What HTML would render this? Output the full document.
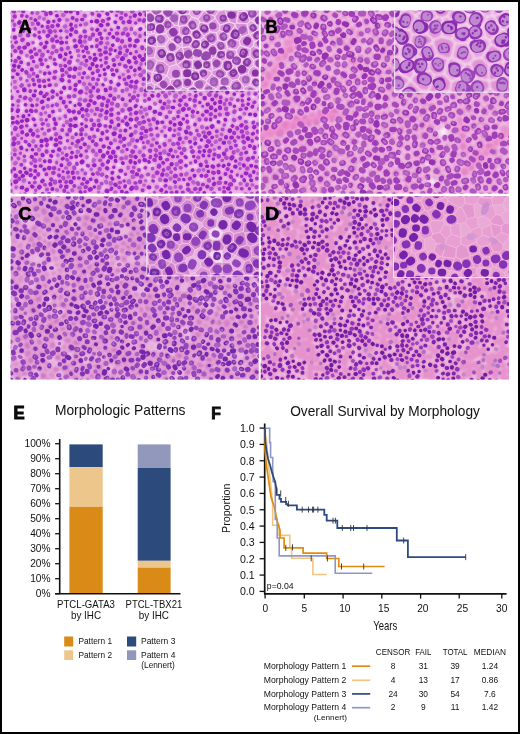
<!DOCTYPE html>
<html><head><meta charset="utf-8"><style>
html,body{margin:0;padding:0;background:#fff;}
body{width:520px;height:734px;overflow:hidden;position:relative;}
body>svg{position:absolute;left:0;top:0;display:block;font-family:"Liberation Sans",sans-serif;}
</style></head><body>
<svg width="520" height="734" viewBox="0 0 520 734">
<rect x="0" y="0" width="520" height="734" fill="#fff"/>
<defs><filter id="bl05" x="-10%" y="-10%" width="120%" height="120%"><feGaussianBlur stdDeviation="0.45"/></filter><filter id="bl06" x="-10%" y="-10%" width="120%" height="120%"><feGaussianBlur stdDeviation="0.6"/></filter><filter id="bl08" x="-10%" y="-10%" width="120%" height="120%"><feGaussianBlur stdDeviation="0.8"/></filter><filter id="bl1" x="-10%" y="-10%" width="120%" height="120%"><feGaussianBlur stdDeviation="1.0"/></filter><filter id="bl2" x="-10%" y="-10%" width="120%" height="120%"><feGaussianBlur stdDeviation="2.0"/></filter><filter id="bl3" x="-10%" y="-10%" width="120%" height="120%"><feGaussianBlur stdDeviation="3.0"/></filter><filter id="motA" x="0" y="0" width="100%" height="100%"><feTurbulence type="fractalNoise" baseFrequency="0.25" numOctaves="2" seed="65"/><feColorMatrix type="matrix" values="0 0 0 0 1  0 0 0 0 1  0 0 0 0 1  0.5 0 0 0 -0.22"/><feComposite in2="SourceGraphic" operator="in"/></filter><filter id="motB" x="0" y="0" width="100%" height="100%"><feTurbulence type="fractalNoise" baseFrequency="0.22" numOctaves="2" seed="66"/><feColorMatrix type="matrix" values="0 0 0 0 1  0 0 0 0 1  0 0 0 0 1  0.5 0 0 0 -0.22"/><feComposite in2="SourceGraphic" operator="in"/></filter><filter id="motC" x="0" y="0" width="100%" height="100%"><feTurbulence type="fractalNoise" baseFrequency="0.2" numOctaves="2" seed="67"/><feColorMatrix type="matrix" values="0 0 0 0 1  0 0 0 0 1  0 0 0 0 1  0.5 0 0 0 -0.22"/><feComposite in2="SourceGraphic" operator="in"/></filter><filter id="motD" x="0" y="0" width="100%" height="100%"><feTurbulence type="fractalNoise" baseFrequency="0.2" numOctaves="2" seed="68"/><feColorMatrix type="matrix" values="0 0 0 0 1  0 0 0 0 1  0 0 0 0 1  0.5 0 0 0 -0.22"/><feComposite in2="SourceGraphic" operator="in"/></filter><filter id="mota" x="0" y="0" width="100%" height="100%"><feTurbulence type="fractalNoise" baseFrequency="0.12" numOctaves="2" seed="97"/><feColorMatrix type="matrix" values="0 0 0 0 1  0 0 0 0 1  0 0 0 0 1  0.5 0 0 0 -0.22"/><feComposite in2="SourceGraphic" operator="in"/></filter><filter id="motb" x="0" y="0" width="100%" height="100%"><feTurbulence type="fractalNoise" baseFrequency="0.12" numOctaves="2" seed="98"/><feColorMatrix type="matrix" values="0 0 0 0 1  0 0 0 0 1  0 0 0 0 1  0.5 0 0 0 -0.22"/><feComposite in2="SourceGraphic" operator="in"/></filter><filter id="motc" x="0" y="0" width="100%" height="100%"><feTurbulence type="fractalNoise" baseFrequency="0.12" numOctaves="2" seed="99"/><feColorMatrix type="matrix" values="0 0 0 0 1  0 0 0 0 1  0 0 0 0 1  0.5 0 0 0 -0.22"/><feComposite in2="SourceGraphic" operator="in"/></filter><filter id="motd" x="0" y="0" width="100%" height="100%"><feTurbulence type="fractalNoise" baseFrequency="0.12" numOctaves="2" seed="100"/><feColorMatrix type="matrix" values="0 0 0 0 1  0 0 0 0 1  0 0 0 0 1  0.5 0 0 0 -0.22"/><feComposite in2="SourceGraphic" operator="in"/></filter></defs>
<svg x="10.7" y="10.8" width="248.0" height="182.8" viewBox="0 0 248.0 182.8" overflow="hidden">
<rect width="248.0" height="182.8" fill="#f2d6f2"/>
<rect width="248.0" height="182.8" fill="#f2d6f2" filter="url(#motA)"/>
<g fill="none" stroke-linecap="round" filter="url(#bl08)" opacity="1.0"><path d="M36.6 83.2h0M28.7 69.9h0M30.9 82.3l-0.3 0.7M45.5 73.7h0M42.0 81.0l0.4 0.2M33.4 85.0l0.4 0.0M33.9 69.8l-0.6 0.1M23.7 73.8h0M50.5 68.6l0.5 0.5M53.6 77.3l0.2 0.2M24.7 99.7h0M46.5 93.3l0.4 0.3M26.1 65.5h0M36.7 95.5l0.1 0.3M22.5 85.3l0.6 0.0M31.4 90.6l-0.7 0.4M42.5 100.9l-0.3 0.1M50.6 87.1h0M20.6 58.5l0.0 0.2M19.9 99.8l0.7 0.5M18.7 64.7l0.4 0.1M57.7 86.2l0.6 0.2M43.4 66.4l0.5 0.1M52.7 91.1l0.0 0.7M15.2 61.0l0.4 0.7M18.2 53.7h0M63.3 65.9l-0.3 0.1M29.8 103.3l0.1 0.4M6.9 99.4l-0.4 0.8M25.9 55.4l-0.6 0.0M13.8 79.0l0.1 0.7M64.5 74.1l-0.2 0.4M63.5 84.6l-0.4 0.1M14.6 87.2l-0.7 0.5M45.1 112.1l0.2 0.6M11.4 74.9l-0.6 0.6M64.2 57.6l-0.2 0.4M7.2 62.9l0.5 0.2M70.7 81.1l-0.8 0.6M69.8 89.0l-0.3 0.2M7.8 89.7l-0.3 0.3M57.7 99.8l0.6 0.7M12.6 105.4l0.0 0.3M2.6 59.2l0.9 0.2M0.3 98.9l-0.1 0.3M24.8 114.1h0M52.0 59.1h0M75.6 77.1l0.4 0.9M10.7 51.7h0M16.1 115.6h0M80.7 84.6l-0.7 0.6M-2.6 68.2h0M63.0 100.9l-0.3 0.2M69.0 57.2l-0.4 0.0M3.5 54.4l0.4 0.3M50.4 54.8h0M19.8 88.0l0.5 0.6M55.8 111.3l0.2 0.0M58.7 119.3l-0.0 0.8M36.9 113.6l0.2 0.1M1.5 86.1l-0.2 0.6M33.5 123.4l0.3 0.0M59.1 57.9l-0.5 0.1M30.6 52.9l0.4 0.2M77.6 66.7l-0.9 0.4M74.7 54.5l0.5 0.3M-3.1 91.2l0.3 0.8M51.0 119.6h0M26.8 119.5l0.1 0.1M1.4 106.6l0.7 0.1M49.3 127.0l0.6 0.4M54.2 48.2l-0.2 0.4M11.3 120.8l-0.0 0.7M58.6 50.7l-0.2 0.6M30.2 49.1h0M49.9 44.7l0.1 0.8M4.5 71.0h0M5.2 117.8l-0.3 0.7M11.0 115.3l-0.6 0.5M68.5 70.4h0M5.9 110.8l0.8 0.5M-2.8 102.4l-0.1 0.9M43.3 49.2h0M68.7 63.2h0M79.2 57.4l0.4 0.1M-2.8 63.6l0.2 0.2M-3.7 106.5l0.1 0.5M72.2 98.3l-0.3 0.3M82.0 67.7l-0.0 0.4M25.7 43.3l0.8 0.1M22.5 123.1l-0.3 0.7M51.3 38.4l0.1 0.6M-0.6 73.1l0.4 0.2M46.3 40.5h0M45.3 133.8l-0.9 0.1M81.2 53.7l0.1 0.5M3.9 128.0l-0.3 0.1M-2.3 128.8l0.1 0.3M16.9 124.4l-0.5 0.2M57.4 37.3l-0.2 0.3M16.2 109.3l-0.3 0.1M46.0 123.0l-0.4 0.5M8.1 56.2l-0.3 0.7M60.7 109.2l0.0 0.2M56.5 123.6h0M87.0 59.8l-0.3 0.6M48.5 139.2h0M34.8 129.3l0.7 0.6M42.3 36.2h0M20.7 40.2l-0.4 0.2M75.7 50.2h0M7.8 132.1l-0.4 0.1M51.4 32.0l-0.8 0.2M19.9 119.5l-0.2 0.4M-3.7 120.6l0.2 0.8M73.3 73.3l0.3 0.5M-1.4 134.1l-0.1 0.8M-1.3 142.1l-0.9 0.3M74.6 89.3l-0.6 0.2M13.7 37.0l-0.6 0.2M82.7 76.1l-0.0 0.3M76.4 41.2l0.7 0.5M21.5 46.5l-0.4 0.2M31.5 43.8l-0.1 0.6M3.6 132.2l-0.2 0.8M22.2 130.1l-0.2 0.3M85.2 48.0l-0.6 0.8M10.4 137.3l0.2 0.7M78.1 94.4l-0.4 0.7M40.1 46.8h0M76.9 103.5l0.7 0.4M9.0 37.3l-0.6 0.4M4.6 50.5l-0.3 0.5M66.7 40.3l0.4 0.0M4.1 39.7l0.2 0.2M75.0 36.7l0.0 0.4M42.1 28.8l-0.1 0.7M63.9 79.0h0M68.0 93.4l0.7 0.6M74.6 31.3h0M61.5 127.2h0M45.3 128.7l0.2 0.2M38.1 25.0l-0.7 0.4M10.7 40.9l0.2 0.5M88.0 85.9l-0.7 0.2M3.8 139.0l0.5 0.6M30.4 130.1h0M83.7 92.1l-0.2 0.2M95.4 51.8h0M81.3 99.6l0.2 0.2M46.6 14.9l0.2 0.1M87.2 79.3l-0.3 0.6M12.5 29.3l-0.6 0.6M-0.5 43.6l0.2 0.8M18.5 133.3l0.6 0.7M63.9 108.0l0.7 0.1M95.4 47.5l-0.1 0.3M3.6 26.4h0M70.3 25.8l-0.2 0.3M94.8 36.4h0M17.7 33.3l0.2 0.3M71.6 118.5l-0.4 0.3M90.5 43.6l-0.4 0.1M68.8 101.4l0.0 0.4M85.9 29.4h0M65.1 35.7l-0.6 0.3M94.9 79.1l0.1 0.5M80.3 80.1l-0.2 0.4M82.8 23.5l-0.0 0.5M65.1 114.5l-1.0 0.1M99.2 77.1l0.0 0.5M90.8 93.6l-0.0 1.0M0.0 147.0l-0.3 0.7M34.5 35.9l-0.6 0.6M7.0 124.0h0M89.8 104.4l-0.3 0.4M61.0 18.1l-0.6 0.8M-2.5 153.5h0M17.7 24.1h0M20.7 145.8l0.2 0.1M88.7 22.4h0M90.1 32.2l-0.7 0.6M54.9 15.5l-0.6 0.2M4.9 151.8l-0.6 0.5M27.8 138.9l0.3 0.5M73.5 133.5l0.3 0.1M36.3 140.6l0.1 0.4M78.6 126.9l0.1 0.6M80.8 109.8h0M79.1 26.7l-0.2 0.7M39.3 20.9l0.6 0.7M64.9 21.5l0.3 0.1M75.9 99.8l-0.4 0.6M103.3 54.1h0M31.2 143.6l0.2 0.6M82.7 114.1l-0.0 0.3M13.5 149.5h0M74.0 20.6l0.3 0.1M33.7 20.5h0M99.3 84.2l-0.3 0.0M86.2 98.2h0M10.8 154.4h0M66.1 134.3l-0.3 0.0M1.9 35.4l0.4 0.6M93.0 86.6l0.5 0.5M75.8 12.7l-0.7 0.3M78.4 135.5l-0.2 0.7M66.3 9.8h0M10.3 23.9l-0.4 0.8M64.1 29.6h0M-0.3 161.0l-0.9 0.0M50.4 154.4h0M103.2 49.1l0.1 0.2M37.9 157.3l0.2 0.1M49.2 8.6l-0.2 0.3M37.3 15.8l0.1 0.5M40.0 1.7l0.3 0.8M67.9 130.7l-0.4 0.3M39.4 149.9h0M38.1 10.7l-0.2 0.2M53.1 4.4l-0.6 0.2M36.0 163.5h0M95.2 106.6l-0.1 0.6M96.9 27.6h0M87.8 110.3h0M104.0 79.0l0.2 0.8M106.4 59.5l-0.0 0.6M13.5 157.7h0M103.1 87.2l0.0 0.2M89.7 13.8l0.8 0.5M107.7 73.7l-0.3 0.3M58.2 153.2l-0.5 0.5M101.2 92.5h0M85.6 10.4l0.6 0.2M85.8 134.2l0.2 0.2M83.0 125.5l0.2 0.2M70.9 53.1l-0.3 0.2M73.6 4.8l0.4 0.3M101.3 98.6l-0.6 0.3M109.7 36.8l0.3 0.8M41.1 15.9h0M69.4 30.7l0.2 0.7M61.7 7.4h0M59.3 114.6l0.4 0.4M27.6 163.3l0.0 0.6M-3.6 14.3l0.2 0.4M106.9 94.6l-0.1 0.6M95.0 41.4l-0.9 0.2M24.1 8.7l0.3 0.1M96.7 32.3l0.1 0.2M43.4 161.8l-0.6 0.4M9.3 11.8l-0.5 0.7M4.0 157.9h0M100.1 38.1h0M109.3 52.9l-0.3 0.1M107.1 46.1l0.4 0.0M88.6 113.8l-0.3 0.2M111.8 47.2l-0.4 0.6M115.7 73.2l0.4 0.5M33.8 -0.5l-1.0 0.2M32.3 170.2l-0.7 0.7M50.5 -1.4h0M22.2 12.4l0.1 0.4M114.3 44.5l0.8 0.2M19.4 159.6h0M24.4 160.0h0M9.8 161.8h0M111.4 30.0l-0.2 0.7M65.3 145.2l-0.0 0.3M114.5 68.2l-0.3 0.1M46.0 -1.0l-0.5 0.1M96.0 101.0l-0.4 0.8M67.3 141.3h0M114.1 35.3h0M96.5 13.6l0.2 0.0M120.1 74.7l0.7 0.6M43.7 157.0l-0.6 0.1M48.7 164.3l0.2 0.2M91.5 -0.9l0.3 0.2M20.5 163.8l-0.4 0.1M100.9 103.9h0M91.9 10.6l0.4 0.1M112.2 80.4l0.0 0.2M117.9 50.8l0.5 0.8M114.6 55.7l0.7 0.7M5.1 164.4l-0.1 0.5M119.5 35.3l-0.3 0.1M62.8 157.1l0.2 0.8M81.8 139.9l0.3 0.5M42.1 -4.3l-0.3 0.8M101.2 109.9l0.3 0.9M126.4 70.6l-0.5 0.4M118.8 66.4l-0.4 0.2M-2.0 7.6l0.0 0.5M4.8 170.2l-0.5 0.3M90.1 128.5h0M28.9 176.0l-0.3 0.3M96.3 94.5l-0.1 0.9M20.2 7.9h0M109.1 41.6l-0.3 0.7M64.7 -1.4l-0.3 0.3M-2.3 169.3l0.9 0.5M106.6 22.0l0.7 0.1M81.6 -4.5l0.4 0.1M13.7 169.9l-0.4 0.5M97.1 89.5l-0.3 0.9M129.8 63.7l0.1 0.2M103.5 122.8l-0.7 0.3M26.8 12.6l0.2 0.3M21.7 175.0l0.5 0.3M123.8 35.1h0M15.1 161.8l0.6 0.5M89.3 139.9h0M11.8 165.6l-0.4 0.1M96.8 127.8l-0.0 0.3M70.9 123.7h0M93.2 135.0l-0.2 0.1M124.1 80.8h0M12.5 0.1l-0.1 0.6M130.9 79.0l0.0 0.9M135.9 79.6l-0.4 0.2M16.7 -3.3l-0.3 0.2M92.0 122.0l0.0 0.5M81.0 118.3h0M112.4 87.9h0M133.4 68.7h0M107.3 107.7l0.4 0.4M133.0 61.0l-0.4 0.2M11.1 176.2l-0.6 0.1M122.9 86.2l-0.6 0.5M137.2 73.4l-0.3 0.3M110.4 7.0l-0.5 0.3M24.2 150.0l0.7 0.6M53.1 166.4l0.3 0.7M118.7 28.6l0.0 0.7M71.6 150.8l-0.4 0.5M3.4 5.4h0M23.1 -4.1l0.0 0.3M123.9 46.4l0.4 0.3M43.8 171.0l-0.0 0.8M87.7 4.5l0.6 0.2M16.7 178.3l-0.5 0.4M126.0 40.7h0M-4.2 163.4l0.2 0.5M7.6 -1.6l0.6 0.4M116.8 78.5l-0.3 0.3M128.5 45.3l0.3 0.4M-2.1 -4.1l-0.4 0.7M32.3 183.1l-0.0 0.4M136.8 51.9l-0.6 0.6M74.0 162.1h0M116.8 112.8l0.3 0.3M109.4 125.3l-0.2 0.8M100.3 132.8h0M85.6 143.2l-0.1 0.6M83.7 149.0l-0.3 0.8M82.9 154.6l0.6 0.1M116.3 39.2l-0.2 0.9M104.2 129.9l0.2 0.2M67.2 162.1h0M112.4 99.3l0.0 0.3M24.0 183.4l0.2 0.5M124.5 76.5l0.0 0.6M131.0 37.0l0.2 0.9M35.8 2.6l0.1 0.6M134.6 44.0l0.2 0.9M119.3 90.1h0M114.3 93.5l0.5 0.1M114.9 120.1h0M73.7 167.9h0M119.9 98.4l-0.9 0.3M90.1 149.4l-0.8 0.2M40.7 168.6l0.3 0.5M63.6 167.5l-0.0 0.3M54.9 -0.3l0.8 0.5M106.8 -0.7l0.6 0.3M139.8 56.9l0.3 0.3M119.6 108.3l0.7 0.2M103.2 141.2l-0.1 0.6M88.7 158.5l0.2 0.6M125.6 102.4l-0.3 0.3M91.9 154.2l0.3 0.5M77.2 171.3l-0.3 0.3M125.5 51.7l-0.3 0.4M92.3 144.2l-0.3 0.8M91.4 163.3l-0.5 0.4M121.1 124.1l-0.6 0.6M147.8 75.0h0M147.9 84.6l-0.2 0.7M64.2 175.3h0M112.1 22.1l-0.5 0.3M107.5 28.7l-0.1 0.4M115.6 17.9l-0.4 0.2M114.2 127.1l-0.5 0.4M128.8 24.4l-0.0 1.0M117.7 23.3l-0.3 0.7M146.2 70.8l-0.7 0.1M36.6 178.9h0M125.4 120.8l-0.3 0.4M134.9 23.3l0.7 0.2M75.6 175.6l-0.4 0.1M85.6 169.7l0.2 0.9M96.1 157.9l0.4 0.3M152.9 68.5l-0.3 0.2M61.6 161.9l-0.1 0.7M126.7 29.9l-0.9 0.3M142.5 45.9h0M132.5 48.3l-0.9 0.4M-0.4 180.2h0M95.0 170.3l0.4 0.8M151.6 80.7h0M55.7 170.8l-0.6 0.5M160.0 70.3l0.1 0.2M69.4 181.6l0.6 0.7M126.4 129.6h0M104.1 -3.7l-0.9 0.0M126.4 107.3l-0.6 0.8M38.0 182.8h0M140.2 42.5l0.1 0.2M9.7 183.8l0.1 0.4M130.0 101.2l0.5 0.4M109.2 130.7l0.3 0.2M99.9 146.3l0.5 0.5M119.0 11.0l0.5 0.1M104.6 145.6h0M46.4 179.0l0.6 0.3M153.6 59.2l0.6 0.2M109.7 159.6l0.9 0.0M109.1 172.1l-1.0 0.2M132.9 111.0l-0.5 0.2M112.3 140.3l-0.4 0.1M142.2 28.8l-0.1 0.8M129.1 57.5l0.1 0.2M118.8 133.3l-0.9 0.4M146.1 39.2h0M59.9 171.6l0.4 0.1M113.1 11.1l-0.1 0.2M138.8 96.9l0.0 0.7M66.1 186.1h0M100.0 172.8l-0.1 0.6M87.9 176.4l-0.1 0.9M96.0 179.8l0.6 0.2M145.0 101.5l-0.7 0.2M151.6 50.0h0M133.9 9.9l-0.5 0.8M62.1 179.7l0.1 0.3M138.9 88.5h0M122.3 128.5l-0.5 0.7M42.0 177.7h0M114.9 4.3h0M132.1 116.7l-0.8 0.2M164.7 71.5l0.2 0.0M141.2 24.8l-0.1 0.2M114.7 -1.7l0.2 0.0M135.4 102.7l0.1 0.3M149.8 41.5h0M49.4 170.4h0M110.7 1.6l0.1 0.1M124.5 4.8l-0.2 0.4M122.3 166.2l-0.5 0.1M110.1 148.2l0.6 0.0M55.7 175.6l-0.2 0.0M122.1 140.5l0.4 0.2M153.6 63.1h0M80.0 178.7l-0.6 0.3M8.2 168.2l-0.1 0.4M151.5 97.2l0.7 0.3M135.4 98.9l-0.9 0.2M121.8 0.2l-0.5 0.4M118.3 170.1l0.2 0.9M103.7 117.2l0.9 0.1M142.1 19.4h0M148.7 45.3l-0.9 0.3M161.8 79.1l0.6 0.3M130.3 126.8l-0.3 0.6M119.7 150.7l-0.1 0.8M140.4 118.0l-0.5 0.1M135.7 119.8h0M125.4 163.5l0.4 0.1M68.8 177.4l0.8 0.2M165.3 84.8l-0.4 0.8M124.5 145.8l0.3 0.3M151.5 53.8l-0.4 0.5M160.8 39.9l-0.1 0.7M121.4 177.6l-0.6 0.8M116.2 181.9l-0.6 0.3M155.0 84.6l0.2 0.6M125.5 176.8l0.2 0.4M131.8 179.2h0M129.6 140.6l-0.2 0.5M110.4 -4.7h0M157.3 91.0l0.3 0.2M128.7 112.7l0.8 0.0M139.4 114.5h0M163.4 64.4h0M92.4 184.1l0.0 0.3M132.5 144.7l-0.3 0.3M135.1 125.7l-0.7 0.2M148.9 102.6l0.6 0.1M129.3 170.9h0M2.4 0.7l0.7 0.5M158.9 61.2l0.2 0.9M146.2 111.6l0.1 0.4M39.2 173.4l0.1 0.4M138.9 139.5h0M143.5 127.9l-0.6 0.0M87.6 186.9l0.6 0.3M143.1 108.4l0.4 0.2M137.1 131.2l-0.1 0.7M165.9 48.1l-0.2 0.1M116.0 146.0l-0.2 0.8M152.1 8.9l0.1 0.9M165.5 54.6l0.1 0.6M156.9 20.0h0M121.7 185.7l0.7 0.1M54.1 179.3l0.0 0.5M102.3 185.6l-0.6 0.3M154.0 29.8l-0.0 0.5M159.9 57.0l-0.8 0.5M140.9 134.5l0.5 0.0M170.8 62.3l0.0 0.3M177.7 76.7l0.8 0.3M168.3 101.0l-0.5 0.4M155.6 106.3h0M160.0 111.6l0.0 0.4M149.2 16.1l-0.3 0.5M168.0 23.0l-0.1 0.5M146.7 125.0l-0.1 0.3M175.2 61.8l0.8 0.3M133.8 148.8l0.8 0.3M127.8 159.6h0M172.8 53.7l0.1 0.6M170.4 89.7l-0.5 0.2M173.4 85.5l-0.7 0.2M164.8 59.8l0.6 0.1M131.1 165.4l-0.7 0.5M161.2 44.9h0M120.4 145.7l0.8 0.2M140.4 145.3l-0.3 0.9M149.3 -0.6l-0.2 0.3M140.4 6.1l-0.9 0.0M142.1 -1.5l0.0 0.4M145.6 144.4l0.4 0.6M158.2 96.4l-0.8 0.3M173.9 17.0l0.1 1.0M145.5 139.2l0.4 0.5M153.5 93.2h0M163.3 107.7l0.7 0.0M159.1 8.8h0M181.7 62.4l-0.8 0.5M167.1 38.3l0.8 0.3M187.5 57.7l0.0 0.8M174.8 93.2l0.5 0.3M154.9 15.0l-0.1 0.2M173.4 78.7h0M159.3 117.7l-0.2 0.7M108.5 185.9h0M166.7 15.2l-0.0 0.2M143.1 149.6l0.5 0.1M137.5 176.1l0.7 0.1M153.9 133.3l0.3 0.8M149.1 146.7l0.1 1.0M121.5 161.2l0.8 0.2M162.0 133.4l0.7 0.2M133.1 -0.5l0.4 0.8M156.7 -1.0l0.5 0.2M146.1 -4.3l-0.8 0.2M176.2 11.9l-0.2 0.8M174.8 37.3h0M142.6 165.0l-0.2 0.5M146.4 175.7l-0.4 0.1M-3.8 177.4l0.0 0.3M184.2 89.6l0.2 0.0M147.2 161.3l-0.2 0.2M158.9 129.7l-0.5 0.2M86.6 162.1l0.7 0.6M163.6 113.8h0M105.4 181.9l-0.6 0.3M149.3 168.3l-0.0 0.2M167.5 -3.6l-0.3 0.2M150.4 178.8l-0.2 0.3M172.5 98.7l-0.4 0.3M174.5 33.1l-0.2 0.0M174.6 44.3l-0.4 0.1M154.2 140.4l0.3 0.7M175.2 -4.5h0M117.5 186.7l-0.1 0.3M175.9 23.2l0.2 0.3M199.1 83.2l0.2 0.2M170.5 11.9l-0.0 0.5M159.7 139.2l-0.4 0.7M146.5 186.6l0.2 0.3M169.0 51.5l0.3 0.9M200.1 67.4l-0.3 0.4M162.3 146.2h0M167.3 123.3l0.3 0.2M184.8 8.3l-0.6 0.2M182.0 33.6l0.4 0.1M173.8 6.3l-0.3 0.2M168.4 6.0h0M161.3 49.6l-0.3 0.1M161.5 153.2l-0.2 0.4M171.3 -1.6l0.0 0.2M165.7 153.7l-0.1 0.5M195.7 57.6l0.2 0.7M193.5 87.1l0.0 0.2M197.7 93.5l-0.4 0.1M176.8 0.6l0.5 0.6M110.9 180.8h0M179.8 44.8l0.4 0.5M129.4 9.3l-0.8 0.1M168.8 113.2l0.5 0.5M182.7 100.9l-0.1 0.2M201.7 55.6l-0.3 0.1M205.8 52.5l0.4 0.2M199.6 50.5l0.6 0.1M204.1 75.1l0.7 0.2M170.1 163.8h0M157.9 156.7l-0.3 0.3M168.7 168.3h0M201.5 78.9l-0.6 0.4M195.3 100.8l0.8 0.0M201.5 89.1h0M185.2 22.8l-0.5 0.7M148.0 154.8l-0.2 0.9M182.5 104.9l0.1 0.2M209.8 48.1l0.9 0.0M188.3 107.9l0.1 0.5M167.3 132.1l0.4 0.6M152.8 158.9l0.2 0.3M175.3 126.9h0M190.1 50.7l-0.1 0.5M145.8 2.2l-0.3 0.4M176.4 162.5l-0.6 0.7M170.3 151.0l-0.6 0.2M156.1 164.4l0.8 0.3M175.4 120.9l0.5 0.7M182.1 38.2l-0.4 0.8M180.0 72.6l0.3 0.5M195.3 78.3l0.4 0.2M209.8 86.8h0M199.2 43.7l-0.1 0.4M200.2 96.4l0.1 0.7M173.5 138.9l0.1 0.5M163.5 6.8l0.3 0.1M168.9 127.4l-0.1 0.5M176.1 110.5l-0.1 0.2M212.9 74.3h0M208.2 58.7l0.6 0.4M195.2 108.5l-0.0 0.2M170.1 29.8h0M182.3 141.1l-0.2 0.2M204.7 45.7l0.1 0.4M168.9 118.0l0.6 0.1M194.2 37.7l0.3 0.3M179.1 123.1l0.4 0.3M188.1 146.6l-0.4 0.0M179.6 168.1l-0.5 0.2M200.5 103.2l-0.3 0.2M209.3 91.0l0.0 0.3M178.0 116.9h0M189.1 37.3l-0.5 0.7M209.1 97.1l0.2 0.9M183.4 165.2h0M194.5 30.5h0M104.0 174.1l0.6 0.5M191.8 5.5l-0.1 0.2M191.5 116.2l0.1 0.2M151.7 162.9l-0.2 0.7M214.8 97.3h0M149.0 142.7h0M186.3 2.5l0.5 0.0M208.0 71.4l-0.1 0.2M160.4 168.2l-0.2 0.1M209.6 103.6l0.2 0.2M188.4 141.0l0.4 0.1M184.2 127.7l-0.2 0.6M216.6 81.2l-0.2 0.1M169.6 175.8l-0.3 0.4M205.7 85.0l-0.5 0.7M211.8 78.7l-0.6 0.2M187.2 33.6l0.5 0.2M154.5 169.5l0.6 0.1M186.8 44.5l-0.5 0.3M193.3 12.4l-0.7 0.2M164.6 165.0l-0.7 0.2M216.0 102.7l0.5 0.1M177.6 174.2h0M165.4 181.2h0M159.5 177.0l0.5 0.2M186.7 172.8l0.4 0.7M187.9 124.3l0.7 0.5M217.7 66.6l-0.6 0.7M191.3 164.8h0M171.6 182.0h0M165.4 186.5l-0.5 0.5M208.8 33.2h0M198.5 140.4l-0.2 0.3M221.0 35.8l-0.1 0.8M188.3 159.8l-0.7 0.4M223.6 122.2l0.1 0.6M182.5 170.7l0.5 0.7M179.1 130.8h0M176.9 179.0l0.7 0.6M184.6 178.3l-0.6 0.4M197.7 168.7l0.1 0.9M222.9 108.9l0.4 0.3M211.9 118.7h0M161.3 182.2l0.1 0.4M195.9 134.8l-0.5 0.3M216.2 42.5l0.1 0.3M208.8 21.1h0M204.5 105.4h0M190.2 153.2l0.1 0.6M201.4 116.0l-0.4 0.3M194.2 125.6l0.7 0.5M181.8 -0.1l0.6 0.6M203.7 5.9l-0.5 0.3M206.0 119.9h0M195.5 155.3l0.8 0.0M230.5 120.6l0.2 0.0M202.0 156.0l0.7 0.5M215.1 126.7l0.0 0.7M224.9 71.8l0.0 0.2M170.0 186.6l0.1 0.6M225.0 40.0l0.2 0.4M223.6 100.7l-0.4 0.7M223.3 45.0h0M218.8 92.8l0.3 0.9M187.7 182.4l-0.4 0.2M195.7 150.4l0.3 0.9M218.7 120.2l-0.1 0.2M236.3 122.2l0.3 0.5M198.6 121.7l-0.3 0.2M205.3 10.1l0.5 0.5M208.2 154.0l-0.5 0.3M198.7 144.9h0M201.0 178.2l-0.4 0.4M218.7 -4.6l0.3 0.1M205.7 131.1l-0.5 0.4M226.1 23.5l0.4 0.2M217.4 25.9h0M213.6 20.7l0.7 0.1M202.0 161.6l0.9 0.4M231.4 80.0h0M208.4 136.5h0M235.6 97.6h0M196.6 176.2l-0.3 0.2M230.2 37.8l-0.3 0.3M214.2 37.0l0.7 0.1M216.8 15.0l-0.3 0.5M218.2 6.6l0.0 0.4M228.5 44.1l-0.1 0.7M203.8 143.3l-0.3 0.1M213.2 132.2l0.4 0.1M202.8 182.7l-0.3 0.0M213.0 142.2l0.4 0.7M220.2 40.7h0M208.7 145.5l0.0 0.4M233.9 47.3l-0.6 0.7M248.2 98.3l0.5 0.1M207.8 160.7l0.1 0.8M222.1 9.7l0.6 0.2M216.1 138.5l-0.4 0.9M215.0 146.5l0.7 0.1M231.6 27.4l-0.6 0.1M197.3 130.6l0.7 0.5M181.2 182.5l-0.9 0.1M232.7 94.1h0M231.0 114.4l-0.6 0.6M124.0 151.6l0.2 0.5M233.6 41.4l-0.8 0.5M226.7 79.1h0M221.0 126.7l-0.8 0.1M222.9 67.8l0.4 0.4M204.0 173.5l-0.6 0.6M229.6 58.6l0.3 0.7M235.8 116.8l-0.3 0.3M228.3 68.6l-0.2 0.3M213.8 -3.9h0M236.8 128.0l0.2 0.3M237.9 74.7l-0.2 0.6M250.2 93.8l-0.3 0.8M210.2 129.1l-0.7 0.2M229.1 107.5l0.2 0.2M234.4 54.4l0.4 0.4M248.9 85.9l-0.0 0.4M232.7 32.9l0.2 0.3M244.2 103.3l0.1 0.4M237.9 64.3l-0.1 0.7M208.9 -3.7h0M228.9 -1.0h0M235.5 9.2l0.0 0.7M151.2 183.5l-0.3 0.6M245.7 37.0l0.2 0.5M242.9 66.0l-0.2 0.1M213.8 180.7l0.1 0.8M225.2 134.3h0M249.2 79.6l0.0 0.6M226.5 16.6h0M246.4 43.4l0.4 0.6M214.8 163.1h0M216.9 185.9h0M245.1 20.5l-0.4 0.3M227.8 5.3l0.4 0.6M232.7 125.2l-0.1 0.7M196.1 165.2l-0.5 0.4M209.4 167.6h0M248.6 31.9l-0.3 0.7M232.6 130.4l0.7 0.6M208.6 172.5l0.9 0.1M243.0 55.2l-0.3 0.9M226.4 117.3l0.1 0.6M252.9 36.1h0M220.7 136.6l0.1 0.4M252.2 75.3h0M246.5 62.4l0.3 0.0M243.3 115.6l-0.4 0.5M233.3 137.4h0M253.1 66.6l-0.7 0.5M242.3 123.0l-0.7 0.4M248.2 15.6l0.1 0.9M224.3 -2.6l-0.5 0.1M250.4 108.8l0.7 0.4M217.9 153.8h0M226.9 140.2l-0.2 0.2M238.4 15.5l-0.2 0.2M230.9 147.5l-0.5 0.2M221.6 147.0l-0.6 0.8M220.0 173.7l-0.9 0.3M234.3 62.5h0M222.5 169.9l0.4 0.2M251.9 104.6l0.1 0.8M251.6 117.3l0.9 0.3M217.2 178.2l0.7 0.2M239.3 135.4l-0.2 0.0M216.7 158.6l0.2 0.1M242.0 0.7l0.1 0.2M233.9 -4.4l-0.2 0.9M251.5 123.9h0M247.7 113.5l0.6 0.5M242.7 60.6l0.2 0.8M222.8 141.7l-0.1 0.7M218.4 131.1l0.4 0.6M248.8 135.2h0M249.1 0.5l0.2 0.8M237.7 -1.0l-0.3 0.7M251.4 130.7l0.1 0.3M247.4 57.5h0M252.3 139.9h0M244.5 -4.4l-0.0 0.9M237.1 148.4l-0.5 0.4M235.6 141.9l-0.4 0.3M251.6 152.9l-0.7 0.1M230.7 143.1l-0.2 0.3M242.5 146.7h0M233.3 154.2l0.1 0.4M239.9 155.5h0M243.2 160.4l0.0 0.6M224.9 156.1l0.5 0.1M236.0 158.1h0M228.6 152.7h0M219.5 165.6l0.5 0.8M234.9 162.8l1.0 0.1M237.8 59.1h0M239.1 164.3l0.1 0.3M249.9 -4.2l0.1 0.5M246.4 167.9h0M248.0 162.8h0M244.2 136.1l-0.3 0.9M245.5 176.2l-0.1 0.2M252.9 167.5l-0.4 0.7M231.2 177.8l-0.4 0.0M229.4 185.8h0M241.6 174.4l-0.5 0.0M240.9 183.4l-0.2 0.2M235.2 183.2l-0.1 0.2M245.8 151.1l0.8 0.0M244.9 186.5l-0.7 0.7M250.0 158.1l0.5 0.5M250.8 185.3l0.4 0.1" stroke="#e498dc" stroke-width="7"/><path d="M34.1 76.0h0M28.5 74.9l0.1 0.6M41.7 86.2l-0.5 0.6M37.5 88.0l-0.2 0.3M39.6 74.2l-0.8 0.2M24.1 80.4h0M27.0 89.0l-0.1 0.5M41.7 94.5l-0.5 0.6M49.9 81.2l0.2 0.1M38.4 68.6l0.3 0.1M46.2 82.9l0.2 0.8M34.6 62.1l-0.2 0.6M26.4 93.9h0M18.2 74.3l0.1 0.2M19.4 80.0l-0.2 0.5M16.6 70.4h0M51.7 64.7l-0.4 0.3M22.4 68.4l0.4 0.8M34.6 102.4h0M59.7 76.2l0.0 1.0M58.0 70.8l0.2 0.5M55.5 61.1l0.4 0.7M49.2 98.8l0.1 0.3M59.2 91.2l-0.3 0.1M36.2 109.1l-0.2 0.5M32.0 96.8l-0.4 0.7M21.0 94.0l0.4 0.3M49.0 107.3h0M15.3 100.7l0.2 0.1M52.5 114.7h0M10.0 67.5l0.0 0.8M22.6 63.1l-0.2 0.6M43.5 108.0l0.2 0.9M30.1 108.7l0.4 0.2M38.6 61.6l0.3 0.2M29.8 60.8l0.3 0.0M11.6 59.0l-0.2 0.3M54.4 105.2l0.2 0.7M2.4 67.0h0M55.2 95.5l-0.0 0.6M38.8 105.1l0.1 0.3M22.4 108.1l0.7 0.5M44.7 60.5l-0.9 0.3M32.5 112.4l-0.9 0.4M64.1 95.1h0M6.6 81.1h0M31.2 118.4l-0.4 0.1M11.7 109.7l-0.5 0.2M54.2 54.8l0.3 0.3M16.6 44.3l-0.1 0.2M15.3 94.2l0.3 0.1M22.6 50.6h0M38.8 118.9l-0.8 0.4M2.1 94.7h0M9.0 85.5h0M73.2 62.0l-0.4 0.4M43.8 52.9l0.8 0.4M6.9 95.1l-0.3 0.3M43.8 117.4l-0.3 0.1M5.4 76.6l-0.8 0.2M18.9 103.9h0M-0.9 80.5l-0.2 0.5M37.0 56.1h0M-3.3 95.4l-0.5 0.3M34.8 49.7h0M40.1 127.0l-0.1 0.9M55.5 43.2l0.1 0.3M79.2 72.8l0.7 0.5M-1.2 114.7l-0.4 0.2M49.0 131.9l0.9 0.4M82.4 62.0l-0.2 0.2M7.1 106.1h0M10.9 127.5h0M60.9 46.1l-0.1 0.3M1.0 122.4l-0.1 0.9M73.6 46.2l-0.3 0.1M46.4 30.4l-0.8 0.2M27.2 125.4l0.8 0.0M2.8 112.0l-0.5 0.2M-3.0 58.9l0.4 0.1M79.8 47.2l0.3 0.5M89.2 64.3h0M72.1 66.7h0M42.2 42.0l-0.5 0.5M75.5 81.9l0.6 0.4M86.7 68.3l0.2 0.1M44.9 25.8l-0.1 0.2M71.7 104.4l-0.1 0.7M84.4 43.4h0M8.4 47.2l0.7 0.6M28.6 40.2l0.6 0.2M90.5 55.0l-0.4 0.9M50.2 26.8h0M-1.7 53.7l0.2 0.1M67.3 50.0l0.6 0.3M35.7 31.1l0.3 0.5M37.0 40.7h0M30.5 33.2l-0.4 0.4M68.2 45.5h0M81.4 35.9h0M5.4 31.5l-0.5 0.4M86.2 73.3l0.1 0.8M56.9 130.4h0M16.5 139.4h0M44.7 20.3l0.4 0.3M65.9 123.6l0.0 0.4M72.1 35.7l-0.6 0.0M54.5 137.1l-0.1 0.3M14.6 130.4l0.6 0.2M51.6 142.7h0M91.8 74.4l0.4 0.4M-0.4 49.8h0M29.1 26.5l0.5 0.7M3.8 144.2l0.3 0.1M-1.5 31.2l0.8 0.2M93.0 58.4h0M94.3 63.5l-0.3 0.4M89.1 39.4l0.9 0.1M36.6 133.7l-0.4 0.9M56.2 31.7h0M74.4 25.5l-0.4 0.5M101.9 58.6l-0.5 0.3M-2.1 39.2l-0.2 0.2M9.5 142.6h0M24.2 38.2h0M59.1 41.4l-0.2 0.5M43.1 140.8l-0.7 0.0M56.8 26.8l-0.2 0.4M30.2 134.8l0.4 0.2M84.4 103.1h0M79.9 89.7l0.7 0.3M13.5 145.3h0M-4.1 22.6l0.6 0.4M39.8 144.3l0.6 0.7M94.7 67.5l0.1 0.9M21.4 138.6h0M90.3 48.6h0M50.2 20.2l-0.6 0.2M60.6 24.1l0.1 0.7M72.7 40.5l-0.2 0.2M102.1 64.3l0.9 0.2M55.4 20.7l0.9 0.3M60.1 13.0l-0.2 0.6M24.9 134.7l0.0 0.3M60.0 136.6l-0.6 0.0M71.7 128.1l-0.5 0.7M61.3 141.3l0.2 0.1M71.5 113.6h0M65.5 14.8l0.0 0.8M3.2 18.6l-0.1 0.6M-4.9 147.5l0.3 0.4M80.9 17.9l0.2 0.2M55.9 148.6l0.6 0.6M24.2 24.7l0.4 0.4M12.3 20.8h0M24.8 143.4l1.0 0.1M47.3 144.5l0.1 0.3M61.6 132.7h0M56.7 9.2l-0.7 0.1M97.1 56.0l-0.5 0.5M21.7 31.5h0M8.0 147.0l0.2 0.5M28.9 148.9l-0.2 0.6M46.2 150.7l-0.0 1.0M43.5 10.8h0M75.4 123.4l-0.2 0.1M91.0 99.6l-0.8 0.6M109.3 66.7l0.1 0.4M10.0 16.7h0M34.2 150.3l0.1 0.2M99.1 43.3h0M24.5 17.6l0.2 0.3M20.7 151.9l0.1 0.3M3.3 13.8l0.2 0.6M52.8 148.1l-0.7 0.5M69.8 137.3l0.1 0.2M56.3 143.7l-0.4 0.5M101.8 34.7l-0.2 0.1M86.8 18.2l-0.5 0.6M61.3 147.0l-0.3 0.1M33.3 7.8l-0.2 0.2M100.2 71.0l0.2 0.6M105.2 39.2l-0.4 0.1M30.7 155.0l-0.6 0.1M75.0 140.7l0.3 0.0M69.5 14.0l0.4 0.0M81.3 10.7h0M30.9 15.7h0M75.3 115.7l-0.1 0.5M15.8 11.7l0.1 0.8M33.9 158.7l-0.5 0.3M18.9 18.4l-0.7 0.7M46.5 5.4l-0.3 0.1M102.0 26.5l0.5 0.4M71.1 8.7l0.8 0.0M81.0 3.3l0.3 0.3M98.4 22.8l-0.2 0.3M1.9 10.4h0M70.8 143.9l-0.2 0.4M86.0 55.4l-0.1 0.3M86.7 35.4l-0.2 0.9M75.8 146.6l-0.2 0.5M67.4 2.3l0.0 0.8M69.8 -1.3h0M66.3 152.3l0.1 0.6M29.4 6.0l-0.2 0.6M24.4 166.9l-0.2 0.3M60.0 1.4l-0.6 0.2M77.8 -2.4l-0.5 0.1M86.5 -0.1l0.1 0.5M107.4 102.9l-0.4 0.1M24.9 155.5l0.5 0.3M15.8 5.7l-0.0 0.2M21.8 2.7h0M96.2 2.8l0.5 0.3M95.4 115.1l-0.7 0.1M57.9 161.1l-0.6 0.5M87.2 118.9l-0.1 0.4M56.6 -4.7l0.3 0.7M47.8 158.4h0M93.9 20.0h0M94.7 -4.8h0M82.1 130.2l-0.3 0.4M112.2 63.3h0M119.9 42.2h0M132.9 73.1h0M19.3 172.3h0M137.5 67.3l0.4 0.4M101.0 19.0l0.2 0.2M26.4 1.6l-0.6 0.5M104.6 11.6l0.5 0.1M111.2 110.2l0.6 0.2M96.4 120.2l0.2 0.1M24.2 171.8l-0.4 0.3M115.2 106.7l-0.4 0.9M36.5 -4.1h0M97.8 7.7l-0.9 0.4M11.1 5.3l-0.2 0.3M58.6 65.4l1.0 0.2M-0.6 26.5l-0.2 0.2M117.5 60.6l0.1 0.3M100.6 -0.6l0.4 0.3M124.4 63.7l-0.4 0.3M28.4 21.0h0M99.3 116.1l-0.0 0.5M75.0 109.1l0.4 0.6M52.6 160.2h0M77.3 154.2l0.7 0.3M97.6 141.7l-0.2 0.7M120.8 71.0l-0.6 0.4M127.4 85.1h0M25.1 179.4h0M28.4 -3.9h0M97.5 150.3l-0.5 0.9M124.0 59.4l-0.2 0.3M71.2 159.4h0M141.8 81.0h0M-1.7 1.8h0M141.0 84.7l0.5 0.5M118.4 84.1l0.0 0.3M130.4 53.0l-0.1 0.5M133.8 89.5l0.4 0.1M0.1 173.6l-0.2 0.3M125.5 94.4l-0.6 0.6M103.2 155.9h0M107.9 85.9l-0.1 0.4M108.3 114.1l-0.2 0.6M82.2 163.8l0.4 0.2M80.7 168.4l-0.4 0.1M98.5 136.9l0.4 0.3M134.7 30.0l-0.2 0.0M120.5 102.7l0.1 0.3M67.9 167.8l-0.3 0.0M109.6 119.5h0M91.0 27.6l0.4 0.5M105.2 4.5h0M71.4 173.1l-0.8 0.1M107.2 136.9l-0.6 0.3M49.7 175.6l-0.2 0.8M107.4 16.7l0.4 0.1M83.5 176.3h0M145.9 60.9l-0.5 0.4M18.8 186.1l-0.2 0.1M126.4 88.5l0.1 0.8M120.9 56.6l-0.2 0.1M95.7 166.2l0.1 0.2M101.8 161.9l-0.3 0.5M119.8 116.8h0M5.5 176.7l-0.2 0.5M80.4 158.8l0.0 0.3M144.5 53.9l0.3 0.5M58.1 165.9l-0.4 0.1M14.2 182.9l-0.4 0.0M34.2 173.5l0.5 0.4M124.5 22.7l0.6 0.6M113.4 135.4l-0.6 0.3M3.1 184.8l0.9 0.3M83.2 184.1h0M107.3 166.5l0.5 0.4M70.1 185.6l0.1 1.0M74.4 181.0h0M139.2 33.0h0M138.7 62.0l0.5 0.6M101.4 167.3l0.5 0.6M55.4 157.3l0.7 0.1M120.4 17.2l0.0 0.9M124.9 115.6l0.6 0.5M115.1 163.1h0M117.5 156.7l0.1 0.9M134.1 84.5l0.0 0.5M141.3 74.6l-0.2 0.0M124.7 12.0h0M28.9 187.2l-0.4 0.0M155.3 74.6l-0.4 0.1M113.8 170.0h0M148.8 31.9h0M112.3 152.3l0.3 0.3M124.5 136.1l0.3 0.3M104.3 149.8l0.2 0.8M131.1 96.7h0M141.9 66.3h0M90.7 172.8l0.2 0.2M135.8 38.3h0M147.8 65.3l0.2 0.2M144.6 92.2l0.4 0.4M101.1 177.4l-0.4 0.9M152.5 35.3l0.3 0.5M157.4 33.6l0.3 0.1M3.6 -4.5l0.6 0.7M114.0 174.9l-0.3 0.8M88.1 181.8h0M155.5 40.6h0M167.6 67.0l0.2 0.3M139.5 10.8l0.4 0.7M107.9 176.6l0.2 0.3M129.4 18.5l-0.5 0.5M157.0 53.2l0.9 0.2M158.4 82.7l0.2 0.7M132.6 106.8h0M144.9 33.9h0M127.9 -2.1l0.1 0.8M135.4 3.7l0.1 0.8M124.0 172.6l0.7 0.0M77.2 186.3l-0.6 0.2M146.6 26.1h0M144.9 13.0h0M136.8 15.9h0M137.9 108.8l0.4 0.4M149.9 90.1l-0.1 0.3M133.6 137.1l-0.4 0.2M146.0 6.7l0.5 0.6M120.2 6.3h0M155.0 45.9l-0.3 0.0M155.7 24.9l-0.7 0.0M141.0 124.1l-0.6 0.2M45.0 187.2l-0.5 0.6M173.5 70.3l0.6 0.4M145.7 117.7l-0.4 0.2M161.5 24.8h0M120.4 -4.8h0M158.5 100.8l0.9 0.2M128.1 150.0l-0.1 0.9M170.4 80.7l-0.7 0.7M162.1 96.9l1.0 0.1M57.9 182.4l0.3 0.2M161.5 75.4l-0.9 0.2M135.9 -4.5l0.6 0.5M151.5 111.7l0.8 0.0M129.2 2.7l0.5 0.7M178.5 68.0l0.5 0.7M169.2 94.0l0.4 0.5M152.6 2.7l0.2 0.2M150.4 21.4l-0.1 0.9M170.1 75.5l0.7 0.7M133.0 132.3h0M50.1 186.3h0M163.8 90.3l0.4 0.3M96.6 185.2l-0.3 0.9M131.2 122.3l-0.8 0.2M146.5 132.4l-0.5 0.0M123.1 156.9l0.2 0.1M115.9 139.0h0M185.3 66.0l-0.6 0.1M134.9 157.0l-0.2 0.3M134.6 170.3h0M137.1 163.1l-0.6 0.3M162.3 19.8l-0.8 0.5M154.1 116.3l-0.3 0.3M185.0 74.8l0.4 0.3M127.2 185.7l0.3 0.2M178.6 55.3l-0.7 0.6M163.0 35.9l-0.4 0.5M141.7 170.3l0.6 0.2M164.6 28.8l0.1 0.3M160.4 1.1h0M165.7 9.9h0M179.5 84.4h0M189.8 70.4l-0.4 0.4M170.7 34.2l-0.4 0.6M160.1 14.3l0.4 0.0M180.3 14.7l0.0 0.6M151.0 119.9l-0.4 0.4M179.1 87.9l-0.2 0.2M183.6 53.8l-0.1 0.2M184.3 95.4l-0.1 0.2M139.0 184.2h0M192.4 63.1l-0.8 0.5M171.1 25.2h0M154.6 124.5l-0.1 0.3M191.1 76.9l0.3 0.0M131.7 186.2l-0.3 0.1M199.1 75.2l-0.2 0.4M144.2 181.8l0.3 0.3M206.8 80.2h0M-1.8 184.6l-0.3 0.7M133.4 174.7h0M178.2 97.5l-0.7 0.2M156.9 149.2l-0.9 0.3M162.5 125.1l0.9 0.0M195.8 67.4l-0.6 0.0M149.0 135.7l0.3 0.9M170.9 46.1l-0.9 0.4M185.5 85.2l-0.4 0.6M194.6 72.7l0.4 0.9M190.5 83.0l0.1 0.2M167.4 146.6h0M170.4 142.6l0.3 0.5M138.2 150.5l0.3 0.4M152.0 152.4l0.4 0.4M181.1 27.7l-0.8 0.6M164.2 119.1h0M169.6 156.9l0.5 0.2M167.8 105.8l0.0 0.2M141.6 158.1l0.0 0.3M189.3 91.7h0M174.8 154.9l0.2 0.1M166.1 0.4l0.8 0.3M191.7 95.8h0M175.6 104.8h0M178.0 50.3l0.1 0.6M180.0 4.6l-0.2 0.4M158.0 143.7l0.8 0.3M160.0 161.0l-0.1 0.2M205.0 66.0l-0.7 0.5M191.4 55.3l0.0 0.5M200.9 60.3l-0.1 0.7M183.9 49.1l-0.6 0.3M204.9 92.1l-0.2 0.5M185.0 17.2h0M186.7 101.5h0M164.2 140.6l0.5 0.2M195.8 48.7l0.3 0.8M185.0 79.7h0M174.9 146.4l0.7 0.7M184.8 113.1l-0.2 0.5M163.7 170.8l0.6 0.3M180.4 152.0h0M191.7 18.9l1.0 0.1M164.9 157.8l0.1 0.4M175.0 27.1l0.2 0.3M199.4 36.8l-0.3 0.5M183.1 145.4h0M185.7 28.9h0M187.7 12.2h0M210.8 67.4l-0.3 0.1M191.9 25.9h0M205.6 38.8l-0.7 0.3M210.3 39.7l0.3 0.8M214.0 32.0l0.4 0.5M181.5 159.5l-0.3 0.1M172.3 108.1h0M192.5 144.8l0.2 0.6M200.0 108.1l-0.1 0.5M216.0 88.5l-0.1 0.2M155.7 175.4l-0.6 0.3M180.3 136.9h0M172.7 132.1h0M193.2 43.5l-0.8 0.5M198.9 24.8h0M165.0 176.3l-0.1 0.5M220.8 87.8l0.5 0.3M184.7 149.5l0.1 0.9M219.4 46.8l-0.7 0.1M172.6 168.7l0.3 0.3M202.8 27.7l-0.2 0.2M185.1 132.8l-0.5 0.5M224.0 95.4h0M197.0 116.7l-0.5 0.1M198.4 6.9l-0.6 0.1M155.4 181.3l-0.4 0.6M217.9 71.9l-0.7 0.1M197.1 17.1l-0.3 0.8M185.8 119.0l0.0 0.4M215.1 109.1l0.3 0.5M200.9 33.3h0M191.2 129.3h0M207.7 111.7l0.4 0.1M205.6 99.3l-0.2 0.2M213.8 113.7h0M197.2 160.4h0M221.6 114.9l0.2 0.2M212.9 27.5l-0.4 0.8M198.6 11.9l-0.1 0.8M189.6 136.2l-0.8 0.5M216.7 59.5l0.3 0.0M214.9 54.7l-0.6 0.1M213.2 62.9l0.3 0.3M222.3 62.9h0M220.0 30.3l0.4 0.2M222.0 54.9l0.2 0.2M189.8 177.7l-0.5 0.6M204.5 21.2l-0.4 0.4M202.4 167.6h0M223.1 83.4l0.2 0.1M221.4 75.4l0.5 0.6M190.5 -2.5l-0.4 0.1M175.7 185.9l-0.3 0.4M168.6 136.7l0.7 0.1M217.8 51.8h0M193.8 182.4l0.1 0.9M197.2 185.8h0M202.6 15.5h0M227.9 89.4l-0.3 0.1M157.0 186.4l-0.6 0.1M231.2 90.0l0.1 0.4M193.1 173.4l-0.7 0.1M227.1 49.9l-0.2 0.5M220.2 22.6l0.6 0.7M184.0 185.4l-0.2 0.3M224.2 28.5l0.0 0.6M201.9 126.0l-0.4 0.3M206.1 125.2l0.1 0.1M238.1 88.4l-0.2 0.1M211.2 7.9l0.2 0.2M205.0 -1.4l-0.4 0.3M193.0 140.1l0.1 0.4M213.5 92.5l-0.1 0.8M203.0 148.6h0M237.2 93.2l-0.1 0.2M203.0 138.3h0M200.0 -0.7l-0.4 0.5M187.9 186.8l0.5 0.0M208.6 2.3l-0.2 0.4M213.5 0.3l0.1 0.3M238.0 82.5l-0.1 0.8M230.7 97.9l-0.7 0.1M212.1 148.9l-0.8 0.2M227.8 34.0l-0.8 0.4M207.0 17.8h0M195.8 -3.9l0.1 0.2M192.1 103.7l0.2 0.2M227.1 126.6l0.6 0.3M226.4 55.8l-0.4 0.1M243.7 90.8l-0.6 0.5M231.1 21.2l0.7 0.4M231.9 83.9l-0.5 0.5M233.4 102.7l0.1 0.2M220.6 16.8l0.1 0.6M193.9 121.7l-0.9 0.2M241.8 96.0l-0.3 0.5M208.1 26.1h0M209.2 13.8h0M228.2 11.8h0M245.2 82.6l-0.6 0.1M192.1 159.0l0.2 0.2M231.3 75.6h0M239.9 48.3l-0.1 0.5M208.4 177.5l0.1 0.3M246.2 51.9l0.6 0.6M225.1 1.9l-0.5 0.7M239.9 103.7l-0.6 0.2M242.9 112.0l-0.3 0.7M235.9 36.0l0.7 0.6M201.3 134.6h0M209.3 185.5l-0.7 0.3M235.2 111.2l0.7 0.2M229.8 63.5l0.2 0.1M240.9 34.2l-0.5 0.0M238.2 69.5l0.3 0.8M218.8 0.9l0.1 0.9M239.5 21.3l-0.3 0.6M239.9 43.0l-0.5 0.9M243.1 78.0l0.2 0.4M246.3 69.8l-0.6 0.7M215.4 171.7l-0.2 0.2M237.1 30.1l0.2 0.6M233.1 15.2l0.7 0.1M237.1 26.0l-0.3 0.1M213.2 154.7l-0.5 0.6M219.8 182.0l-0.4 0.1M243.2 27.8l-0.5 0.3M225.4 185.0h0M243.3 15.0l0.7 0.3M210.9 123.0l0.3 0.2M248.7 24.1l0.1 0.8M243.6 10.3l-0.2 0.3M250.9 60.9l0.6 0.7M221.1 160.6h0M251.4 52.2l-0.2 0.2M232.4 1.8l-0.2 0.4M233.7 68.7l-0.4 0.5M225.4 177.1l-0.0 0.8M246.5 121.0l0.3 0.9M243.5 5.4l0.0 0.5M236.6 3.3l-0.3 0.5M224.9 149.7h0M245.8 126.8l0.7 0.4M241.5 129.2l0.1 0.7M251.4 20.1l-0.1 0.9M251.7 47.6h0M239.4 53.0l0.5 0.0M252.0 8.1l-0.2 0.3M212.9 176.1h0M252.1 42.8l-0.3 0.2M244.2 142.0h0M249.4 146.9l0.7 0.5M224.1 130.0l0.2 0.2M230.0 173.3l0.5 0.2M227.1 163.5l-0.1 0.5M246.8 8.0l0.6 0.5M229.2 158.1h0M233.0 168.5l0.2 0.8M244.9 155.5l0.6 0.3M250.4 174.1l0.5 0.7M240.5 169.2l0.4 0.2M239.0 178.5h0M247.4 182.4l-0.3 0.3M231.1 165.0l-0.0 0.2M236.7 173.9l-0.2 1.0" stroke="#e498dc" stroke-width="6"/></g>
<g fill="none" stroke-linecap="round" filter="url(#bl05)"><path d="M28.3 70.0h0M59.1 119.0l-0.0 0.8M59.4 58.1l-0.5 0.1M58.9 51.1l-0.2 0.6M4.9 117.4l-0.3 0.7M3.7 127.8l-0.3 0.1M41.8 28.7l-0.1 0.7M71.2 118.7l-0.4 0.3M17.4 24.4h0M39.1 20.3l0.6 0.7M83.2 113.9l-0.0 0.3M86.4 98.2h0M103.5 87.7l0.0 0.2M85.3 133.7l0.2 0.2M41.6 15.4h0M100.0 38.6h0M123.0 86.5l-0.6 0.5M137.6 72.9l-0.3 0.3M4.0 5.7h0M-2.0 -4.5l-0.4 0.7M107.0 28.8l-0.1 0.4M140.4 42.2l0.1 0.2M121.7 140.7l0.4 0.2M129.4 170.9h0M139.4 139.9h0M87.8 186.5l0.6 0.3M140.5 6.4l-0.9 0.0M173.3 17.2l0.1 1.0M183.9 89.8l0.2 0.0M146.6 161.9l-0.2 0.2M160.8 49.7l-0.3 0.1M148.4 154.9l-0.2 0.9M146.0 2.4l-0.3 0.4M170.2 150.5l-0.6 0.2M181.9 140.7l-0.2 0.2M194.1 38.1l0.3 0.3M165.0 165.2l-0.7 0.2M216.4 103.0l0.5 0.1M199.0 140.1l-0.2 0.3M231.1 120.7l0.2 0.0M208.1 145.3l0.0 0.4M197.6 130.3l0.7 0.5M235.6 116.7l-0.3 0.3M228.0 68.3l-0.2 0.3M249.5 79.8l0.0 0.6M246.8 43.8l0.4 0.6M248.6 15.4l0.1 0.9M220.2 173.6l-0.9 0.3M237.4 -1.5l-0.3 0.7M237.7 148.2l-0.5 0.4" stroke="#a436c8" stroke-width="4.5"/><path d="M51.0 68.9l0.5 0.5M70.2 80.8l-0.8 0.6M0.7 98.9l-0.1 0.3M51.5 59.3h0M29.8 49.0h0M-3.2 106.8l0.1 0.5M35.2 129.0l0.7 0.6M3.1 132.6l-0.2 0.8M75.5 37.0l0.0 0.4M88.6 86.4l-0.7 0.2M4.2 26.7h0M89.1 23.0h0M-0.2 160.5l-0.9 0.0M38.5 157.2l0.2 0.1M67.5 130.4l-0.4 0.3M39.1 150.4h0M69.3 30.4l0.2 0.7M88.8 114.3l-0.3 0.2M100.6 103.9h0M5.0 164.8l-0.1 0.5M5.3 170.7l-0.5 0.3M28.8 176.2l-0.3 0.3M89.4 140.2h0M119.6 98.3l-0.9 0.3M102.6 141.2l-0.1 0.6M92.8 144.7l-0.3 0.8M135.2 23.0l0.7 0.2M126.7 29.9l-0.9 0.3M99.6 146.1l0.5 0.5M118.4 10.9l0.5 0.1M60.1 171.1l0.4 0.1M96.1 180.1l0.6 0.2M55.7 176.0l-0.2 0.0M79.8 178.5l-0.6 0.3M135.5 120.3h0M121.3 177.1l-0.6 0.8M165.5 54.9l0.1 0.6M-4.3 178.0l0.0 0.3M172.8 98.4l-0.4 0.3M117.3 186.6l-0.1 0.3M200.5 68.0l-0.3 0.4M194.0 87.2l0.0 0.2M200.4 96.6l0.1 0.7M209.5 90.9l0.0 0.3M165.5 186.1l-0.5 0.5M221.6 35.2l-0.1 0.8M215.9 42.5l0.1 0.3M201.6 115.6l-0.4 0.3M223.8 44.7h0M198.5 122.3l-0.3 0.2M230.2 37.5l-0.3 0.3M228.7 44.3l-0.1 0.7M250.5 93.4l-0.3 0.8M216.6 185.7h0M248.9 31.4l-0.3 0.7M221.5 146.6l-0.6 0.8M249.4 -4.1l0.1 0.5" stroke="#9a26c6" stroke-width="4.5"/><path d="M18.5 65.1l0.4 0.1M56.2 111.5l0.2 0.0M74.0 30.7h0M66.0 134.9l-0.3 0.0M67.1 140.9h0M133.3 60.8l-0.4 0.2M115.0 18.3l-0.4 0.2M129.7 101.1l0.5 0.4M100.2 172.2l-0.1 0.6M88.4 176.1l-0.1 0.9M122.1 129.0l-0.5 0.7M122.6 165.9l-0.5 0.1M153.5 63.6h0M118.2 170.6l0.2 0.9M165.0 84.8l-0.4 0.8M135.1 125.4l-0.7 0.2M158.4 60.9l0.2 0.9M157.8 96.0l-0.8 0.3M149.5 168.8l-0.0 0.2M153.6 140.8l0.3 0.7M175.4 -4.2h0M166.2 153.2l-0.1 0.5M205.7 10.0l0.5 0.5M217.2 15.0l-0.3 0.5M251.5 153.4l-0.7 0.1" stroke="#b85ece" stroke-width="4.5"/><path d="M13.6 78.6l0.1 0.7M64.5 57.9l-0.2 0.4M49.4 44.9l0.1 0.8M16.5 109.2l-0.3 0.1M48.6 138.8h0M84.7 48.0l-0.6 0.8M30.9 130.1h0M85.8 10.4l0.6 0.2M112.0 47.6l-0.4 0.6M41.8 -4.3l-0.3 0.8M-2.7 169.1l0.9 0.5M103.8 122.8l-0.7 0.3M71.6 150.9l-0.4 0.5M116.2 113.2l0.3 0.3M132.7 48.5l-0.9 0.4M169.4 112.7l0.5 0.5M219.2 119.8l-0.1 0.2M234.1 47.7l-0.6 0.7M237.1 127.6l0.2 0.3M229.1 -0.8h0M249.8 157.9l0.5 0.5M250.2 185.2l0.4 0.1" stroke="#9020c0" stroke-width="4.5"/><path d="M-3.2 91.1l0.3 0.8M45.8 40.1h0M42.8 36.0h0M-1.5 142.6l-0.9 0.3M31.8 44.0l-0.1 0.6M79.4 27.2l-0.2 0.7M58.8 152.9l-0.5 0.5M101.3 92.8h0M106.9 94.2l-0.1 0.6M129.8 64.2l0.1 0.2M23.7 149.4l0.7 0.6M44.3 170.9l-0.0 0.8M111.8 99.4l0.0 0.3M124.7 76.0l0.0 0.6M139.2 56.6l0.3 0.3M132.3 117.2l-0.8 0.2M121.9 0.1l-0.5 0.4M151.0 54.2l-0.4 0.5M154.8 84.8l0.2 0.6M125.5 176.8l0.2 0.4M128.3 112.4l0.8 0.0M167.7 22.6l-0.1 0.5M174.9 62.4l0.8 0.3M181.6 62.3l-0.8 0.5M198.6 83.7l0.2 0.2M195.5 58.0l0.2 0.7M158.0 157.3l-0.3 0.3M173.5 138.4l0.1 0.5M208.1 58.4l0.6 0.4M177.5 116.7h0M215.4 97.9h0M214.2 20.6l0.7 0.1M226.1 16.4h0M208.1 171.9l0.9 0.1M241.6 0.3l0.1 0.2M236.6 157.7h0" stroke="#ae48ca" stroke-width="4.5"/><path d="M36.1 83.2h0M33.5 70.2l-0.6 0.1M25.3 100.1h0M58.1 85.7l0.6 0.2M43.5 66.9l0.5 0.1M15.5 61.2l0.4 0.7M17.7 53.3h0M63.5 66.0l-0.3 0.1M14.8 86.9l-0.7 0.5M2.4 59.4l0.9 0.2M-3.1 68.6h0M1.0 86.6l-0.2 0.6M31.0 53.2l0.4 0.2M51.5 119.1h0M-3.3 63.7l0.2 0.2M82.3 67.9l-0.0 0.4M25.1 43.4l0.8 0.1M50.8 38.1l0.1 0.6M-1.2 73.1l0.4 0.2M60.1 108.9l0.0 0.2M56.5 123.6h0M87.2 59.7l-0.3 0.6M-3.9 120.1l0.2 0.8M21.3 46.3l-0.4 0.2M8.8 36.8l-0.6 0.4M5.0 50.0l-0.3 0.5M4.5 40.0l0.2 0.2M10.3 41.0l0.2 0.5M95.2 51.9h0M87.4 79.5l-0.3 0.6M12.1 28.7l-0.6 0.6M95.6 47.2l-0.1 0.3M69.9 25.9l-0.2 0.3M90.2 43.8l-0.4 0.1M86.2 29.3h0M80.0 80.4l-0.2 0.4M82.3 23.8l-0.0 0.5M99.7 77.2l0.0 0.5M91.4 93.4l-0.0 1.0M90.5 31.8l-0.7 0.6M35.8 140.5l0.1 0.4M78.9 126.6l0.1 0.6M80.7 109.5h0M65.2 21.1l0.3 0.1M73.8 20.6l0.3 0.1M10.6 153.9h0M66.0 9.2h0M63.8 29.7h0M102.8 49.0l0.1 0.2M37.0 16.1l0.1 0.5M35.7 163.4h0M101.0 98.6l-0.6 0.3M27.5 163.3l0.0 0.6M43.0 161.8l-0.6 0.4M115.5 72.7l0.4 0.5M19.8 159.1h0M111.5 30.2l-0.2 0.7M119.7 75.2l0.7 0.6M43.7 157.2l-0.6 0.1M48.3 164.5l0.2 0.2M92.0 10.1l0.4 0.1M114.4 55.2l0.7 0.7M119.5 34.8l-0.3 0.1M106.0 22.6l0.7 0.1M97.5 89.8l-0.3 0.9M110.7 7.2l-0.5 0.3M131.5 36.5l0.2 0.9M35.4 3.0l0.1 0.6M135.1 44.2l0.2 0.9M40.4 168.5l0.3 0.5M106.6 -0.4l0.6 0.3M91.7 153.6l0.3 0.5M125.5 51.3l-0.3 0.4M147.2 75.0h0M147.8 84.2l-0.2 0.7M63.6 175.3h0M112.6 22.5l-0.5 0.3M117.2 23.6l-0.3 0.7M75.2 176.2l-0.4 0.1M126.2 107.8l-0.6 0.8M38.3 182.9h0M10.0 184.4l0.1 0.4M104.8 145.6h0M153.0 58.7l0.6 0.2M133.4 111.0l-0.5 0.2M142.8 29.3l-0.1 0.8M145.9 39.3h0M112.8 11.4l-0.1 0.2M133.5 9.4l-0.5 0.8M115.1 4.2h0M150.1 41.1h0M8.6 167.7l-0.1 0.4M151.7 97.1l0.7 0.3M162.0 79.4l0.6 0.3M140.2 118.6l-0.5 0.1M131.9 179.4h0M110.3 -4.5h0M133.0 144.6l-0.3 0.3M2.7 0.4l0.7 0.5M142.8 108.3l0.4 0.2M122.1 185.3l0.7 0.1M53.6 179.8l0.0 0.5M170.4 62.5l0.0 0.3M155.8 106.2h0M128.2 159.2h0M173.1 53.8l0.1 0.6M173.8 86.1l-0.7 0.2M165.0 59.8l0.6 0.1M142.2 -1.1l0.0 0.4M145.0 144.5l0.4 0.6M158.7 8.4h0M175.2 93.8l0.5 0.3M108.7 185.8h0M166.3 15.1l-0.0 0.2M143.6 149.1l0.5 0.1M153.8 133.3l0.3 0.8M121.3 160.9l0.8 0.2M146.0 -4.4l-0.8 0.2M174.8 37.5h0M175.0 43.8l-0.4 0.1M181.6 33.5l0.4 0.1M168.0 6.0h0M176.6 1.0l0.5 0.6M170.5 164.0h0M184.8 22.3l-0.5 0.7M167.2 132.5l0.4 0.6M182.6 38.3l-0.4 0.8M180.4 72.1l0.3 0.5M210.0 86.4h0M176.6 110.8l-0.1 0.2M195.3 108.4l-0.0 0.2M168.6 118.1l0.6 0.1M179.7 122.5l0.4 0.3M179.5 167.8l-0.5 0.2M200.2 103.4l-0.3 0.2M194.7 31.0h0M149.5 142.6h0M186.1 3.0l0.5 0.0M205.6 84.4l-0.5 0.7M212.1 78.5l-0.6 0.2M187.0 33.8l0.5 0.2M187.3 44.9l-0.5 0.3M172.1 181.8h0M223.4 121.9l0.1 0.6M177.3 178.5l0.7 0.6M184.9 178.0l-0.6 0.4M160.9 182.1l0.1 0.4M204.5 105.9h0M206.1 120.4h0M202.3 161.7l0.9 0.4M231.3 80.0h0M208.5 136.9h0M217.7 6.3l0.0 0.4M204.0 143.7l-0.3 0.1M220.2 40.3h0M232.1 94.5h0M222.5 68.0l0.4 0.4M230.0 58.3l0.3 0.7M214.2 -4.1h0M237.5 74.2l-0.2 0.6M229.1 106.9l0.2 0.2M249.5 86.3l-0.0 0.4M245.5 37.1l0.2 0.5M243.4 66.2l-0.2 0.1M213.4 180.9l0.1 0.8M225.2 134.8h0M232.4 125.2l-0.1 0.7M195.7 164.8l-0.5 0.4M232.7 130.9l0.7 0.6M226.5 117.2l0.1 0.6M220.2 136.7l0.1 0.4M251.8 75.6h0M223.0 169.5l0.4 0.2M216.9 158.3l0.2 0.1M219.9 165.6l0.5 0.8M239.4 164.8l0.1 0.3M246.3 167.8h0M252.4 168.0l-0.4 0.7" stroke="#a436c8" stroke-width="4"/><path d="M30.3 81.7l-0.3 0.7M41.8 80.6l0.4 0.2M33.4 85.5l0.4 0.0M23.5 73.7h0M26.6 65.5h0M50.1 87.4h0M21.1 58.4l0.0 0.2M20.2 99.9l0.7 0.5M53.0 91.0l0.0 0.7M7.4 99.6l-0.4 0.8M65.1 74.0l-0.2 0.4M44.9 112.7l0.2 0.6M58.2 99.7l0.6 0.7M10.4 51.5h0M63.2 100.9l-0.3 0.2M1.4 107.1l0.7 0.1M49.2 126.5l0.6 0.4M11.5 121.1l-0.0 0.7M11.0 115.8l-0.6 0.5M68.8 70.9h0M6.3 111.3l0.8 0.5M79.0 57.6l0.4 0.1M22.6 123.1l-0.3 0.7M-2.2 129.2l0.1 0.3M16.5 123.8l-0.5 0.2M20.4 40.6l-0.4 0.2M75.8 49.9h0M14.2 36.6l-0.6 0.2M82.7 76.6l-0.0 0.3M78.1 94.0l-0.4 0.7M64.5 79.0h0M68.5 93.2l0.7 0.6M45.4 128.9l0.2 0.2M37.6 24.7l-0.7 0.4M84.0 92.0l-0.2 0.2M47.1 14.5l0.2 0.1M-0.5 44.1l0.2 0.8M17.3 33.3l0.2 0.3M68.3 101.5l0.0 0.4M34.5 36.0l-0.6 0.6M21.0 146.0l0.2 0.1M73.9 133.5l0.3 0.1M76.0 99.3l-0.4 0.6M31.8 143.9l0.2 0.6M99.8 84.7l-0.3 0.0M92.5 87.0l0.5 0.5M48.8 9.1l-0.2 0.3M39.7 1.7l0.3 0.8M37.7 11.0l-0.2 0.2M62.0 7.1h0M95.3 41.4l-0.9 0.2M3.5 158.1h0M33.4 -0.7l-1.0 0.2M32.1 169.8l-0.7 0.7M24.5 160.1h0M9.5 161.3h0M65.5 145.7l-0.0 0.3M45.7 -1.3l-0.5 0.1M97.0 13.6l0.2 0.0M20.2 164.3l-0.4 0.1M100.7 110.5l0.3 0.9M125.9 70.9l-0.5 0.4M118.3 66.2l-0.4 0.2M90.2 128.9h0M109.4 41.7l-0.3 0.7M64.1 -1.6l-0.3 0.3M81.8 -4.6l0.4 0.1M27.4 12.7l0.2 0.3M21.3 175.6l0.5 0.3M124.1 35.2h0M96.5 127.5l-0.0 0.3M70.4 123.4h0M93.1 135.5l-0.2 0.1M12.6 -0.1l-0.1 0.6M135.5 79.5l-0.4 0.2M16.5 -2.7l-0.3 0.2M91.7 122.2l0.0 0.5M81.2 118.3h0M123.8 46.9l0.4 0.3M88.1 4.6l0.6 0.2M16.3 178.8l-0.5 0.4M128.8 45.2l0.3 0.4M31.9 183.3l-0.0 0.4M109.4 125.1l-0.2 0.8M100.2 132.4h0M83.3 154.4l0.6 0.1M24.4 183.8l0.2 0.5M73.1 168.1h0M63.2 167.0l-0.0 0.3M125.5 101.9l-0.3 0.3M76.6 171.2l-0.3 0.3M113.7 127.7l-0.5 0.4M146.3 70.3l-0.7 0.1M85.5 169.8l0.2 0.9M96.2 157.3l0.4 0.3M62.1 161.5l-0.1 0.7M160.1 70.4l0.1 0.2M126.5 129.9h0M109.6 159.9l0.9 0.0M139.2 96.8l0.0 0.7M65.5 186.2h0M138.4 88.2h0M165.0 71.8l0.2 0.0M140.6 24.6l-0.1 0.2M49.3 170.6h0M141.6 19.5h0M149.0 45.3l-0.9 0.3M119.9 150.3l-0.1 0.8M126.0 163.5l0.4 0.1M116.0 182.1l-0.6 0.3M162.9 64.5h0M148.9 103.0l0.6 0.1M39.7 173.2l0.1 0.4M165.7 47.9l-0.2 0.1M159.8 111.4l0.0 0.4M133.7 149.1l0.8 0.3M170.1 89.4l-0.5 0.2M153.8 93.0h0M167.6 38.7l0.8 0.3M187.1 58.2l0.0 0.8M159.2 118.2l-0.2 0.7M138.0 176.5l0.7 0.1M156.6 -1.1l0.5 0.2M150.7 179.2l-0.2 0.3M176.3 23.0l0.2 0.3M160.1 139.1l-0.4 0.7M169.2 51.2l0.3 0.9M162.2 145.7h0M171.6 -1.2l0.0 0.2M197.2 93.6l-0.4 0.1M111.2 180.6h0M179.6 44.6l0.4 0.5M182.2 100.7l-0.1 0.2M201.1 79.4l-0.6 0.4M169.2 127.7l-0.1 0.5M212.4 73.8h0M170.5 29.9h0M209.2 96.5l0.2 0.9M104.5 173.7l0.6 0.5M151.7 163.4l-0.2 0.7M207.7 70.8l-0.1 0.2M193.0 12.4l-0.7 0.2M177.2 173.7h0M165.9 181.5h0M190.8 165.0h0M179.3 130.9h0M196.2 135.2l-0.5 0.3M209.0 21.4h0M194.2 125.6l0.7 0.5M203.9 6.1l-0.5 0.3M201.8 155.5l0.7 0.5M215.3 126.3l0.0 0.7M170.0 186.6l0.1 0.6M226.6 23.0l0.4 0.2M217.5 26.1h0M235.5 97.7h0M196.8 175.7l-0.3 0.2M213.2 142.8l0.4 0.7M207.8 161.0l0.1 0.8M231.1 114.3l-0.6 0.6M234.2 41.9l-0.8 0.5M226.5 78.9h0M221.3 126.8l-0.8 0.1M203.7 172.9l-0.6 0.6M208.9 -4.3h0M214.8 163.3h0M243.8 116.0l-0.4 0.5M252.6 66.7l-0.7 0.5M218.1 153.7h0M234.2 62.1h0M252.3 104.1l0.1 0.8M251.8 117.6l0.9 0.3M239.3 135.1l-0.2 0.0M251.1 124.1h0M242.3 60.2l0.2 0.8M248.9 135.0h0M244.7 -4.8l-0.0 0.9M242.3 147.0h0M233.1 154.4l0.1 0.4M234.9 162.5l1.0 0.1M237.8 58.6h0M243.8 136.6l-0.3 0.9" stroke="#9a26c6" stroke-width="4"/><path d="M45.3 74.3h0M36.9 95.2l0.1 0.3M26.4 55.8l-0.6 0.0M69.4 88.6l-0.3 0.2M76.0 77.1l0.4 0.9M69.3 57.5l-0.4 0.0M37.3 114.2l0.2 0.1M33.6 123.0l0.3 0.0M74.6 54.2l0.5 0.3M26.7 119.9l0.1 0.1M4.2 70.9h0M68.6 63.3h0M73.1 72.9l0.3 0.5M-1.2 134.1l-0.1 0.8M22.8 130.4l-0.2 0.3M76.5 104.0l0.7 0.4M61.9 126.8h0M3.8 138.9l0.5 0.6M80.8 99.9l0.2 0.2M7.0 124.4h0M-2.7 153.1h0M54.7 15.6l-0.6 0.2M5.0 152.1l-0.6 0.5M28.2 138.6l0.3 0.5M13.9 149.9h0M75.4 13.0l-0.7 0.3M78.0 136.0l-0.2 0.7M9.9 23.7l-0.4 0.8M52.9 4.0l-0.6 0.2M104.5 78.6l0.2 0.8M70.9 52.6l-0.3 0.2M96.5 32.4l0.1 0.2M106.6 46.0l0.4 0.0M21.9 12.7l0.1 0.4M114.4 44.2l0.8 0.2M-2.6 7.6l0.0 0.5M13.3 169.4l-0.4 0.5M130.6 78.5l0.0 0.9M-4.5 163.8l0.2 0.5M116.3 78.5l-0.3 0.3M85.7 143.3l-0.1 0.6M83.2 149.3l-0.3 0.8M104.1 129.4l0.2 0.2M66.8 161.9h0M114.6 94.1l0.5 0.1M124.8 121.1l-0.3 0.4M95.3 170.8l0.4 0.8M111.8 140.6l-0.4 0.1M118.9 133.1l-0.9 0.4M61.5 179.3l0.1 0.3M135.0 98.6l-0.9 0.2M104.0 117.6l0.9 0.1M68.4 176.9l0.8 0.2M129.2 141.0l-0.2 0.5M157.9 90.8l0.3 0.2M139.4 114.0h0M115.4 146.3l-0.2 0.8M102.1 185.7l-0.6 0.3M142.9 165.2l-0.2 0.5M146.3 176.2l-0.4 0.1M104.8 181.6l-0.6 0.3M170.5 11.9l-0.0 0.5M146.0 186.4l0.2 0.3M167.8 123.4l0.3 0.2M205.3 52.6l0.4 0.2M200.1 50.2l0.6 0.1M181.9 105.3l0.1 0.2M175.9 163.0l-0.6 0.7M155.8 163.9l0.8 0.3M192.4 5.0l-0.1 0.2M191.3 116.1l0.1 0.2M160.0 167.7l-0.2 0.1M184.5 127.5l-0.2 0.6M159.2 177.0l0.5 0.2M209.3 32.9h0M188.4 159.5l-0.7 0.4M182.5 171.2l0.5 0.7M181.3 -0.0l0.6 0.6M225.0 72.1l0.0 0.2M187.5 182.4l-0.4 0.2M236.4 121.8l0.3 0.5M205.4 130.7l-0.5 0.4M214.7 37.3l0.7 0.1M248.2 98.1l0.5 0.1M231.4 27.5l-0.6 0.1M234.0 54.4l0.4 0.4M238.5 64.3l-0.1 0.7M227.2 5.9l0.4 0.6M252.3 36.2h0M227.1 139.6l-0.2 0.2M218.3 131.3l0.4 0.6M248.6 0.5l0.2 0.8M251.2 131.0l0.1 0.3M247.2 57.9h0M251.7 140.1h0M228.8 153.0h0M247.5 162.7h0M235.0 183.4l-0.1 0.2" stroke="#b85ece" stroke-width="4"/><path d="M53.4 76.8l0.2 0.2M23.0 84.7l0.6 0.0M31.7 90.7l-0.7 0.4M12.7 105.4l0.0 0.3M3.3 54.8l0.4 0.3M71.6 98.2l-0.3 0.3M45.6 134.0l-0.9 0.1M81.8 53.2l0.1 0.5M51.3 31.7l-0.8 0.2M20.0 119.5l-0.2 0.4M10.5 136.7l0.2 0.7M64.3 107.6l0.7 0.1M65.2 35.4l-0.6 0.3M95.0 79.0l0.1 0.5M65.1 115.0l-1.0 0.1M61.3 18.1l-0.6 0.8M103.6 54.2h0M50.7 154.5h0M90.0 14.2l0.8 0.5M107.9 73.5l-0.3 0.3M59.7 114.4l0.4 0.4M8.9 11.3l-0.5 0.7M96.1 101.1l-0.4 0.8M118.2 50.3l0.5 0.8M15.4 161.7l0.6 0.5M12.3 165.0l-0.4 0.1M111.9 88.4h0M133.0 68.3h0M11.6 176.7l-0.6 0.1M119.1 28.5l0.0 0.7M22.9 -4.2l0.0 0.3M136.6 52.4l-0.6 0.6M114.7 119.6h0M55.2 0.2l0.8 0.5M119.8 108.7l0.7 0.2M120.8 123.9l-0.6 0.6M103.9 -3.8l-0.9 0.0M128.8 57.6l0.1 0.2M144.5 100.9l-0.7 0.2M151.6 49.8h0M41.7 178.1h0M115.2 -2.2l0.2 0.0M124.2 4.5l-0.2 0.4M130.8 127.0l-0.3 0.6M124.7 146.0l0.3 0.3M146.8 111.5l0.1 0.4M156.9 20.4h0M159.6 56.6l-0.8 0.5M161.7 45.1h0M173.9 78.7h0M149.7 146.7l0.1 1.0M163.9 114.0h0M161.0 153.2l-0.2 0.4M195.5 100.6l0.8 0.0M201.6 88.6h0M189.7 50.6l-0.1 0.5M175.3 120.8l0.5 0.7M204.7 45.6l0.1 0.4M183.8 164.9h0M216.7 81.6l-0.2 0.1M154.7 169.5l0.6 0.1M217.7 66.7l-0.6 0.7M190.0 153.8l0.1 0.6M225.1 40.0l0.2 0.4M212.9 131.9l0.4 0.1M244.5 103.9l0.1 0.4M209.6 167.5h0M250.6 109.3l0.7 0.4M217.3 177.7l0.7 0.2M240.5 155.0h0M224.4 155.8l0.5 0.1" stroke="#9020c0" stroke-width="4"/><path d="M45.9 93.7l0.4 0.3M63.9 85.2l-0.4 0.1M11.2 74.4l-0.6 0.6M7.8 90.0l-0.3 0.3M80.9 85.1l-0.7 0.6M49.9 55.0h0M19.5 88.4l0.5 0.6M-2.3 102.1l-0.1 0.9M57.3 37.0l-0.2 0.3M45.6 123.2l-0.4 0.5M7.8 132.0l-0.4 0.1M74.8 89.5l-0.6 0.2M39.7 46.7h0M67.0 40.0l0.4 0.0M95.0 36.9h0M0.6 147.2l-0.3 0.7M89.9 104.3l-0.3 0.4M33.1 20.6h0M1.4 35.5l0.4 0.6M95.4 106.8l-0.1 0.6M87.8 109.8h0M83.4 125.7l0.2 0.2M73.9 4.8l0.4 0.3M109.4 36.7l0.3 0.8M114.4 35.7h0M91.3 -0.9l0.3 0.2M111.8 80.0l0.0 0.2M63.4 156.6l0.2 0.8M82.3 139.9l0.3 0.5M107.2 107.8l0.4 0.4M52.5 167.0l0.3 0.7M8.0 -1.7l0.6 0.4M74.6 162.6h0M88.9 158.1l0.2 0.6M91.7 163.6l-0.5 0.4M36.3 178.8h0M152.9 68.6l-0.3 0.2M142.5 46.4h0M-0.0 180.2h0M152.2 81.2h0M109.8 130.7l0.3 0.2M110.8 1.9l0.1 0.1M110.6 147.6l0.6 0.0M137.2 130.9l-0.1 0.7M151.9 9.1l0.1 0.9M153.8 29.9l-0.0 0.5M140.8 134.5l0.5 0.0M177.7 76.5l0.8 0.3M168.1 100.9l-0.5 0.4M148.6 16.5l-0.3 0.5M147.0 124.5l-0.1 0.3M131.0 165.4l-0.7 0.5M119.9 145.1l0.8 0.2M149.6 -0.8l-0.2 0.3M145.2 139.1l0.4 0.5M162.4 133.2l0.7 0.2M133.5 -0.7l0.4 0.8M176.2 11.5l-0.2 0.8M86.7 162.3l0.7 0.6M184.4 7.8l-0.6 0.2M173.5 5.7l-0.3 0.2M202.1 55.9l-0.3 0.1M168.3 168.8h0M210.1 47.6l0.9 0.0M188.7 108.4l0.1 0.5M175.4 127.2h0M195.4 78.3l0.4 0.2M187.8 146.8l-0.4 0.0M189.1 37.8l-0.5 0.7M209.0 103.7l0.2 0.2M170.0 176.2l-0.3 0.4M187.1 172.4l0.4 0.7M187.7 124.1l0.7 0.5M198.3 169.1l0.1 0.9M223.2 109.0l0.4 0.3M211.9 118.7h0M223.9 100.5l-0.4 0.7M200.9 177.7l-0.4 0.4M219.0 -4.6l0.3 0.1M203.3 182.6l-0.3 0.0M215.4 147.0l0.7 0.1M181.2 182.2l-0.9 0.1M235.4 8.9l0.0 0.7M151.6 184.0l-0.3 0.6M245.5 20.6l-0.4 0.3M233.4 137.2h0M224.4 -3.2l-0.5 0.1M230.5 147.8l-0.5 0.2M234.2 -4.9l-0.2 0.9M247.2 113.2l0.6 0.5M223.0 141.3l-0.1 0.7M230.6 142.9l-0.2 0.3M245.9 176.2l-0.1 0.2M229.9 185.3h0M241.1 183.0l-0.2 0.2M244.6 186.4l-0.7 0.7" stroke="#ae48ca" stroke-width="4"/><path d="M34.0 75.6h0M28.9 75.1l0.1 0.6M37.8 88.4l-0.2 0.3M39.4 74.3l-0.8 0.2M21.3 94.6l0.4 0.3M11.5 59.0l-0.2 0.3M6.6 63.3l0.5 0.2M11.5 110.2l-0.5 0.2M2.1 94.3h0M37.2 55.9h0M40.4 127.4l-0.1 0.9M55.0 43.2l0.1 0.3M8.3 55.6l-0.3 0.7M35.8 31.5l0.3 0.5M0.1 49.8h0M93.6 58.7h0M21.8 139.0h0M60.0 23.6l0.1 0.7M102.1 63.8l0.9 0.2M60.4 13.6l-0.2 0.6M71.1 113.2h0M102.2 34.4l-0.2 0.1M86.9 18.8l-0.5 0.6M14.0 157.5h0M80.8 10.8h0M24.6 9.2l0.3 0.1M34.0 158.5l-0.5 0.3M46.4 4.9l-0.3 0.1M102.4 26.1l0.5 0.4M70.3 144.4l-0.2 0.4M86.2 55.2l-0.1 0.3M60.4 0.8l-0.6 0.2M96.4 3.0l0.5 0.3M99.6 115.8l-0.0 0.5M97.6 150.4l-0.5 0.9M124.3 59.4l-0.2 0.3M141.4 84.7l0.5 0.5M-0.1 173.3l-0.2 0.3M125.3 95.0l-0.6 0.6M119.5 90.0h0M107.9 113.9l-0.2 0.6M107.7 136.9l-0.6 0.3M107.3 16.8l0.4 0.1M83.6 176.2h0M101.4 167.6l0.5 0.6M112.0 152.1l0.3 0.3M104.8 149.7l0.2 0.8M4.2 -4.7l0.6 0.7M129.9 18.0l-0.5 0.5M128.4 -2.2l0.1 0.8M145.1 12.5h0M44.5 186.6l-0.5 0.6M92.2 184.3l0.0 0.3M162.0 25.4h0M161.8 96.6l1.0 0.1M136.4 -4.7l0.6 0.5M129.0 3.0l0.5 0.7M192.0 63.4l-0.8 0.5M194.1 72.3l0.4 0.9M204.3 92.3l-0.2 0.5M184.6 80.3h0M191.4 26.1h0M213.8 32.6l0.4 0.5M198.5 24.8h0M184.8 132.4l-0.5 0.5M198.3 7.0l-0.6 0.1M196.9 17.3l-0.3 0.8M214.5 108.7l0.3 0.5M190.7 129.2h0M207.6 111.1l0.4 0.1M205.0 99.4l-0.2 0.2M197.6 160.8h0M203.9 20.9l-0.4 0.4M193.6 181.9l0.1 0.9M202.1 15.0h0M196.0 155.5l0.8 0.0M193.5 140.0l0.1 0.4M188.4 186.9l0.5 0.0M208.5 2.2l-0.2 0.4M213.8 0.5l0.1 0.3M124.3 151.9l0.2 0.5M245.8 52.0l0.6 0.6M239.7 103.4l-0.6 0.2M237.4 30.0l0.2 0.6M213.2 154.8l-0.5 0.6M251.6 52.7l-0.2 0.2M242.9 5.4l0.0 0.5M225.0 150.3h0M251.7 48.1h0M239.0 53.5l0.5 0.0M249.0 146.6l0.7 0.5M243.1 160.9l0.0 0.6M250.4 173.7l0.5 0.7M240.2 169.4l0.4 0.2" stroke="#9020c0" stroke-width="3.5"/><path d="M42.1 86.0l-0.5 0.6M26.2 94.1h0M19.7 80.0l-0.2 0.5M52.2 64.4l-0.4 0.3M22.2 68.7l0.4 0.8M59.3 76.7l0.0 1.0M58.5 70.2l0.2 0.5M32.6 96.7l-0.4 0.7M55.4 95.5l-0.0 0.6M45.0 60.8l-0.9 0.3M32.5 112.9l-0.9 0.4M16.0 115.0h0M7.1 80.8h0M38.6 119.4l-0.8 0.4M9.5 85.6h0M43.9 117.7l-0.3 0.1M54.1 48.6l-0.2 0.4M43.7 48.7h0M49.0 131.7l0.9 0.4M26.7 125.4l0.8 0.0M79.3 46.8l0.3 0.5M71.7 66.9h0M87.3 68.8l0.2 0.1M45.2 25.5l-0.1 0.2M72.1 104.9l-0.1 0.7M37.3 40.7h0M30.5 32.9l-0.4 0.4M5.6 31.3l-0.5 0.4M56.8 130.0h0M14.7 130.8l0.6 0.2M4.0 143.7l0.3 0.1M36.5 133.8l-0.4 0.9M55.7 31.7h0M75.0 25.5l-0.4 0.5M101.6 59.0l-0.5 0.3M23.9 38.1h0M13.7 145.4h0M-3.5 22.1l0.6 0.4M25.2 135.1l0.0 0.3M71.7 127.9l-0.5 0.7M23.7 24.3l0.4 0.4M61.6 132.6h0M91.2 99.1l-0.8 0.6M108.8 66.4l0.1 0.4M75.4 140.3l0.3 0.0M-3.6 14.1l0.2 0.4M81.5 2.8l0.3 0.3M109.0 53.4l-0.3 0.1M86.3 34.8l-0.2 0.9M70.2 -1.3h0M66.1 152.8l0.1 0.6M113.9 68.6l-0.3 0.1M107.9 102.4l-0.4 0.1M16.2 5.5l-0.0 0.2M21.4 2.3h0M95.1 115.2l-0.7 0.1M94.5 -4.3h0M111.6 110.2l0.6 0.2M96.2 120.4l0.2 0.1M115.0 106.2l-0.4 0.9M11.3 4.7l-0.2 0.3M28.5 21.4h0M76.9 154.8l0.7 0.3M127.4 84.7h0M125.5 41.0h0M72.0 173.2l-0.8 0.1M50.3 175.1l-0.2 0.8M96.0 165.8l0.1 0.2M144.9 53.8l0.3 0.5M113.8 134.9l-0.6 0.3M2.8 184.3l0.9 0.3M55.8 170.8l-0.6 0.5M74.3 180.9h0M124.8 115.0l0.6 0.5M114.8 163.4h0M125.0 12.3h0M28.9 187.1l-0.4 0.0M113.4 170.3h0M149.4 31.9h0M135.9 38.8h0M147.5 65.6l0.2 0.2M157.6 33.3l0.3 0.1M108.4 176.5l0.2 0.3M132.2 106.3h0M124.4 172.3l0.7 0.0M147.0 26.1h0M136.5 15.9h0M138.0 109.3l0.4 0.4M155.4 25.1l-0.7 0.0M128.7 150.0l-0.1 0.9M168.7 94.1l0.4 0.5M131.1 122.7l-0.8 0.2M134.8 156.8l-0.2 0.3M162.2 19.3l-0.8 0.5M139.8 145.8l-0.3 0.9M163.6 36.2l-0.4 0.5M155.3 15.5l-0.1 0.2M179.3 88.4l-0.2 0.2M183.1 54.2l-0.1 0.2M154.7 125.0l-0.1 0.3M132.1 185.7l-0.3 0.1M178.6 97.9l-0.7 0.2M156.8 148.7l-0.9 0.3M162.7 124.8l0.9 0.0M196.1 67.2l-0.6 0.0M170.8 46.7l-0.9 0.4M166.9 146.0h0M170.8 142.2l0.3 0.5M181.5 27.1l-0.8 0.6M129.2 9.1l-0.8 0.1M157.6 143.6l0.8 0.3M201.4 60.7l-0.1 0.7M184.8 17.1h0M152.7 159.1l0.2 0.3M164.4 157.8l0.1 0.4M187.4 12.7h0M155.1 174.9l-0.6 0.3M180.4 136.4h0M219.2 46.6l-0.7 0.1M203.2 28.0l-0.2 0.2M196.5 117.2l-0.5 0.1M217.4 72.2l-0.7 0.1M186.2 119.6l0.0 0.4M216.3 59.5l0.3 0.0M213.1 63.2l0.3 0.3M202.6 167.6h0M221.6 75.8l0.5 0.6M175.7 186.4l-0.3 0.4M168.4 137.2l0.7 0.1M227.3 89.3l-0.3 0.1M156.8 187.0l-0.6 0.1M231.6 89.7l0.1 0.4M192.6 173.8l-0.7 0.1M219.2 92.5l0.3 0.9M230.2 98.5l-0.7 0.1M195.5 -3.6l0.1 0.2M192.0 104.1l0.2 0.2M227.4 126.4l0.6 0.3M244.0 91.3l-0.6 0.5M231.6 21.4l0.7 0.4M221.0 17.4l0.1 0.6M245.0 83.0l-0.6 0.1M224.6 1.6l-0.5 0.7M242.7 111.4l-0.3 0.7M208.8 185.0l-0.7 0.3M232.6 33.0l0.2 0.3M241.0 34.1l-0.5 0.0M238.4 69.3l0.3 0.8M233.1 15.8l0.7 0.1M243.3 55.5l-0.3 0.9M243.1 10.2l-0.2 0.3M246.9 120.4l0.3 0.9M246.0 127.4l0.7 0.4M241.4 129.6l0.1 0.7M213.3 176.7h0M244.2 141.7h0M224.0 130.1l0.2 0.2M231.2 178.0l-0.4 0.0M231.0 165.5l-0.0 0.2" stroke="#a436c8" stroke-width="3.5"/><path d="M24.6 80.1h0M50.4 81.6l0.2 0.1M34.2 62.4l-0.2 0.6M42.4 100.8l-0.3 0.1M15.7 100.2l0.2 0.1M43.4 108.1l0.2 0.9M38.6 62.2l0.3 0.2M2.1 66.5h0M38.6 105.0l0.1 0.3M22.7 108.3l0.7 0.5M24.4 114.5h0M54.4 55.0l0.3 0.3M14.7 93.9l0.3 0.1M22.9 50.8h0M73.6 62.1l-0.4 0.4M44.1 53.0l0.8 0.4M-3.7 95.8l-0.5 0.3M-1.3 115.2l-0.4 0.2M82.1 62.2l-0.2 0.2M73.6 45.8l-0.3 0.1M46.9 30.5l-0.8 0.2M2.4 111.9l-0.5 0.2M-3.3 59.0l0.4 0.1M89.0 64.6h0M83.8 43.6h0M7.9 46.8l0.7 0.6M81.1 35.8h0M65.4 123.3l0.0 0.4M28.6 26.4l0.5 0.7M18.3 133.9l0.6 0.7M94.4 63.2l-0.3 0.4M88.5 39.2l0.9 0.1M-2.6 38.7l-0.2 0.2M42.7 140.5l-0.7 0.0M30.6 135.0l0.4 0.2M79.6 89.8l0.7 0.3M40.2 144.7l0.6 0.7M61.2 141.7l0.2 0.1M3.1 18.7l-0.1 0.6M-4.4 146.9l0.3 0.4M12.6 20.5h0M24.8 143.2l1.0 0.1M97.7 56.1l-0.5 0.5M43.1 10.4h0M34.0 150.4l0.1 0.2M99.4 43.3h0M52.4 147.6l-0.7 0.5M70.0 136.7l0.1 0.2M56.1 144.0l-0.4 0.5M106.1 59.5l-0.0 0.6M60.7 146.6l-0.3 0.1M100.2 70.8l0.2 0.6M30.4 155.2l-0.6 0.1M31.5 15.5h0M75.5 115.3l-0.1 0.5M19.0 18.7l-0.7 0.7M71.1 8.7l0.8 0.0M98.9 22.7l-0.2 0.3M67.0 1.8l0.0 0.8M24.3 166.7l-0.2 0.3M24.3 155.3l0.5 0.3M57.5 161.3l-0.6 0.5M87.1 119.1l-0.1 0.4M57.1 -4.5l0.3 0.7M82.2 130.2l-0.3 0.4M119.9 42.7h0M96.3 94.5l-0.1 0.9M104.4 11.3l0.5 0.1M36.5 -4.3h0M98.4 7.8l-0.9 0.4M58.2 65.3l1.0 0.2M-1.1 26.3l-0.2 0.2M100.5 -0.0l0.4 0.3M97.0 141.6l-0.2 0.7M121.1 70.7l-0.6 0.4M116.5 39.4l-0.2 0.9M103.1 156.4h0M82.0 163.2l0.4 0.2M80.2 168.5l-0.4 0.1M98.1 136.8l0.4 0.3M135.1 29.8l-0.2 0.0M68.3 167.2l-0.3 0.0M90.6 27.0l0.4 0.5M120.4 56.5l-0.2 0.1M101.8 161.7l-0.3 0.5M107.8 166.2l0.5 0.4M69.6 181.1l0.6 0.7M138.8 61.4l0.5 0.6M142.2 65.7h0M100.9 177.6l-0.4 0.9M152.7 34.9l0.3 0.5M114.5 175.2l-0.3 0.8M145.1 33.6h0M149.7 90.5l-0.1 0.3M173.5 70.7l0.6 0.4M161.4 74.9l-0.9 0.2M151.2 111.5l0.8 0.0M152.5 2.9l0.2 0.2M149.9 21.5l-0.1 0.9M169.5 75.1l0.7 0.7M146.4 132.2l-0.5 0.0M116.3 138.8h0M185.7 65.5l-0.6 0.1M126.9 185.5l0.3 0.2M178.1 55.6l-0.7 0.6M160.8 1.6h0M165.8 10.4h0M170.4 34.5l-0.4 0.6M159.7 14.1l0.4 0.0M180.5 15.2l0.0 0.6M206.5 80.3h0M167.1 -3.8l-0.3 0.2M185.3 84.9l-0.4 0.6M138.1 150.9l0.3 0.4M152.3 151.9l0.4 0.4M167.3 105.7l0.0 0.2M189.1 91.7h0M175.2 154.8l0.2 0.1M176.1 104.8h0M178.3 50.2l0.1 0.6M204.2 74.5l0.7 0.2M187.0 101.6h0M174.6 146.0l0.7 0.7M184.4 113.5l-0.2 0.5M163.9 171.0l0.6 0.3M191.8 19.0l1.0 0.1M175.3 27.5l0.2 0.3M198.7 44.2l-0.1 0.4M162.9 6.7l0.3 0.1M183.0 145.8h0M210.2 67.0l-0.3 0.1M205.2 38.3l-0.7 0.3M210.7 40.2l0.3 0.8M182.0 159.2l-0.3 0.1M172.6 108.2h0M192.5 144.4l0.2 0.6M199.9 108.5l-0.1 0.5M192.6 43.4l-0.8 0.5M188.7 141.0l0.4 0.1M184.8 150.1l0.1 0.9M223.7 95.4h0M155.6 181.4l-0.4 0.6M221.7 115.1l0.2 0.2M214.6 54.5l-0.6 0.1M221.8 63.1h0M219.8 30.7l0.4 0.2M221.5 54.9l0.2 0.2M189.9 177.9l-0.5 0.6M223.5 83.3l0.2 0.1M218.4 51.9h0M197.8 185.4h0M220.3 22.2l0.6 0.7M201.6 126.5l-0.4 0.3M238.2 88.3l-0.2 0.1M208.1 154.5l-0.5 0.3M202.7 148.3h0M237.5 93.2l-0.1 0.2M198.3 144.9h0M228.0 33.4l-0.8 0.4M232.0 84.4l-0.5 0.5M222.4 9.9l0.6 0.2M241.9 95.6l-0.3 0.5M209.8 13.9h0M239.5 48.3l-0.1 0.5M243.0 77.5l0.2 0.4M215.1 171.8l-0.2 0.2M242.6 122.8l-0.7 0.4M251.1 60.4l0.6 0.7M220.9 160.8h0M232.8 2.1l-0.2 0.4M239.0 15.0l-0.2 0.2M237.2 3.7l-0.3 0.5M251.8 8.3l-0.2 0.3M252.3 42.4l-0.3 0.2M235.7 141.5l-0.4 0.3M233.4 169.1l0.2 0.8M245.0 155.8l0.6 0.3M238.7 177.9h0M247.0 182.1l-0.3 0.3" stroke="#9a26c6" stroke-width="3.5"/><path d="M26.8 88.4l-0.1 0.5M34.8 101.9h0M49.1 99.4l0.1 0.3M49.1 107.9h0M30.4 108.7l0.4 0.2M16.2 44.8l-0.1 0.2M77.6 66.4l-0.9 0.4M4.9 76.7l-0.8 0.2M66.7 49.7l0.6 0.3M68.0 44.9h0M54.4 137.0l-0.1 0.3M51.7 142.1h0M94.7 68.1l0.1 0.9M55.5 20.3l0.9 0.3M59.4 137.2l-0.6 0.0M47.2 144.3l0.1 0.3M56.8 9.2l-0.7 0.1M29.3 148.7l-0.2 0.6M75.3 123.9l-0.2 0.1M33.4 8.0l-0.2 0.2M76.4 146.1l-0.2 0.5M28.8 6.4l-0.2 0.6M112.5 63.9h0M132.4 73.5h0M27.0 2.0l-0.6 0.5M123.9 80.9h0M28.8 -3.8h0M142.3 80.5h0M130.3 53.0l-0.1 0.5M108.0 85.7l-0.1 0.4M5.6 176.3l-0.2 0.5M80.6 158.4l0.0 0.3M58.0 166.1l-0.4 0.1M124.1 22.4l0.6 0.6M55.0 157.2l0.7 0.1M46.0 179.0l0.6 0.3M117.4 156.5l0.1 0.9M144.1 92.7l0.4 0.4M135.9 103.3l0.1 0.3M88.0 181.5h0M155.5 40.5h0M167.1 66.9l0.2 0.3M139.3 11.1l0.4 0.7M158.7 82.1l0.2 0.7M146.3 6.9l0.5 0.6M155.0 46.3l-0.3 0.0M170.1 81.2l-0.7 0.7M142.9 128.4l-0.6 0.0M135.0 170.0h0M154.1 116.2l-0.3 0.3M179.1 83.8h0M138.8 184.2h0M171.4 25.4h0M159.3 129.7l-0.5 0.2M199.5 74.8l-0.2 0.4M133.4 174.4h0M165.6 0.7l0.8 0.3M164.6 140.6l0.5 0.2M199.4 37.3l-0.3 0.5M172.3 131.6h0M164.9 175.8l-0.1 0.5M220.4 88.0l0.5 0.3M201.2 33.3h0M212.4 27.2l-0.4 0.8M198.2 12.4l-0.1 0.8M206.1 125.3l0.1 0.1M204.5 -1.2l-0.4 0.3M203.6 138.6h0M238.2 82.2l-0.1 0.8M233.7 102.8l0.1 0.2M228.1 12.3h0M192.7 158.9l0.2 0.2M236.4 36.4l0.7 0.6M218.9 1.4l0.1 0.9M240.1 21.5l-0.3 0.6M243.6 28.0l-0.5 0.3M210.7 123.6l0.3 0.2M247.1 62.8l0.3 0.0M234.2 68.2l-0.4 0.5M225.7 177.0l-0.0 0.8M229.6 172.8l0.5 0.2M246.8 7.9l0.6 0.5M242.0 174.2l-0.5 0.0M245.5 150.5l0.8 0.0" stroke="#b85ece" stroke-width="3.5"/><path d="M18.3 74.4l0.1 0.2M16.3 70.0h0M55.5 61.5l0.4 0.7M30.3 103.0l0.1 0.4M52.9 114.6h0M10.0 67.5l0.0 0.8M23.0 62.6l-0.2 0.6M54.5 105.2l0.2 0.7M-0.4 80.0l-0.2 0.5M35.1 49.2h0M78.9 73.3l0.7 0.5M0.5 122.1l-0.1 0.9M41.8 42.0l-0.5 0.5M76.9 41.4l0.7 0.5M28.7 40.0l0.6 0.2M50.1 27.3h0M-1.6 54.1l0.2 0.1M85.9 73.0l0.1 0.8M44.2 20.2l0.4 0.3M71.5 35.2l-0.6 0.0M9.7 142.4h0M84.3 103.5h0M65.1 14.9l0.0 0.8M81.2 18.2l0.2 0.2M56.2 148.7l0.6 0.6M22.3 32.0h0M7.6 147.4l0.2 0.5M10.4 16.2h0M24.3 17.8l0.2 0.3M20.5 152.4l0.1 0.3M3.8 13.7l0.2 0.6M96.6 27.4h0M15.7 12.1l0.1 0.8M1.8 10.0h0M50.0 -1.0h0M94.4 19.5h0M20.3 7.6h0M24.3 171.5l-0.4 0.3M117.4 60.1l0.1 0.3M75.3 108.5l0.4 0.6M25.0 179.5h0M71.5 159.2h0M-1.5 2.1h0M118.9 84.0l0.0 0.3M134.0 90.0l0.4 0.1M119.9 103.0l0.1 0.3M89.9 149.4l-0.8 0.2M109.8 120.0h0M145.5 60.8l-0.5 0.4M129.2 24.8l-0.0 1.0M18.8 185.7l-0.2 0.1M126.5 89.1l0.1 0.8M14.6 183.3l-0.4 0.0M34.1 173.8l0.5 0.4M83.5 184.6h0M70.4 185.5l0.1 1.0M138.9 32.8h0M120.6 17.8l0.0 0.9M134.3 84.0l0.0 0.5M141.8 74.6l-0.2 0.0M109.6 171.7l-1.0 0.2M124.6 135.9l0.3 0.3M90.8 172.7l0.2 0.2M76.9 185.9l-0.6 0.2M160.8 40.1l-0.1 0.7M133.7 136.6l-0.4 0.2M119.7 6.4h0M141.0 124.0l-0.6 0.2M158.8 101.3l0.9 0.2M57.3 182.5l0.3 0.2M178.0 68.0l0.5 0.7M123.0 156.6l0.2 0.1M137.7 163.5l-0.6 0.3M184.8 74.4l0.4 0.3M163.0 108.0l0.7 0.0M164.9 29.3l0.1 0.3M184.2 94.9l-0.1 0.2M-1.2 184.5l-0.3 0.7M174.5 32.7l-0.2 0.0M190.0 83.2l0.1 0.2M164.0 119.5h0M169.8 156.9l0.5 0.2M141.9 157.7l0.0 0.3M180.0 5.0l-0.2 0.4M160.4 161.3l-0.1 0.2M205.5 65.8l-0.7 0.5M184.3 48.7l-0.6 0.3M195.3 49.3l0.3 0.8M179.9 152.3h0M186.0 29.4h0M215.8 89.1l-0.1 0.2M213.6 114.1h0M189.3 136.3l-0.8 0.5M190.8 -2.9l-0.4 0.1M183.8 185.7l-0.2 0.3M224.0 28.0l0.0 0.6M195.3 150.5l0.3 0.9M213.8 92.8l-0.1 0.8M199.5 -0.6l-0.4 0.5M206.7 17.3h0M226.7 55.4l-0.4 0.1M215.9 138.9l-0.4 0.9M193.4 121.5l-0.9 0.2M207.7 25.9h0M231.4 75.1h0M208.8 178.1l0.1 0.3M209.9 128.8l-0.7 0.2M201.0 134.2h0M234.8 110.9l0.7 0.2M230.0 64.0l0.2 0.1M236.4 173.4l-0.2 1.0" stroke="#ae48ca" stroke-width="3.5"/><path d="M41.9 94.5l-0.5 0.6M46.4 83.4l0.2 0.8M35.7 108.9l-0.2 0.5M31.6 118.1l-0.4 0.1M7.2 105.5h0M11.0 127.5h0M90.9 54.6l-0.4 0.9M69.7 14.3l0.4 0.0M77.9 -2.6l-0.5 0.1M48.3 158.6h0M100.6 18.7l0.2 0.2M105.7 4.6h0M155.0 74.6l-0.4 0.1M130.6 96.5h0M120.4 -4.2h0M132.6 131.7h0M50.6 186.4h0M163.4 90.1l0.4 0.3M97.0 184.6l-0.3 0.9M148.7 135.5l0.3 0.9M192.0 95.4h0M191.0 55.4l0.0 0.5M240.3 43.2l-0.5 0.9M236.5 25.5l-0.3 0.1M225.3 184.9h0M226.6 163.9l-0.1 0.5" stroke="#a436c8" stroke-width="3"/><path d="M37.9 69.1l0.3 0.1M59.6 91.4l-0.3 0.1M64.3 94.6h0M18.3 104.3h0M60.7 46.2l-0.1 0.3M92.1 73.8l0.4 0.4M59.5 41.5l-0.2 0.5M50.3 19.9l-0.6 0.2M72.5 40.3l-0.2 0.2M104.7 39.8l-0.4 0.1M251.1 20.0l-0.1 0.9" stroke="#9020c0" stroke-width="3"/><path d="M29.5 60.9l0.3 0.0M7.5 94.9l-0.3 0.3M75.2 82.2l0.6 0.4M86.2 -0.6l0.1 0.5M124.4 64.0l-0.4 0.3M156.4 52.8l0.9 0.2M226.9 49.7l-0.2 0.5" stroke="#b85ece" stroke-width="3"/><path d="M16.1 139.2h0M-1.3 31.0l0.8 0.2M56.3 26.3l-0.2 0.4M90.0 49.1h0M18.7 171.9h0M137.3 67.1l0.4 0.4M52.4 160.6h0M119.5 117.2h0M135.2 3.8l0.1 0.8M146.2 117.3l-0.4 0.2M142.1 170.1l0.6 0.2M189.5 69.8l-0.4 0.4M191.2 76.3l0.3 0.0M173.0 168.6l0.3 0.3M211.2 8.0l0.2 0.2M246.7 70.0l-0.6 0.7M219.9 182.0l-0.4 0.1" stroke="#9a26c6" stroke-width="3"/><path d="M46.0 151.1l-0.0 1.0M151.4 120.2l-0.4 0.4M143.6 181.4l0.3 0.3M212.0 149.5l-0.8 0.2M243.7 14.9l0.7 0.3M248.8 24.1l0.1 0.8M229.4 157.6h0" stroke="#ae48ca" stroke-width="3"/></g>
</svg>
<svg x="260.8" y="10.8" width="248.2" height="182.8" viewBox="0 0 248.2 182.8" overflow="hidden">
<rect width="248.2" height="182.8" fill="#f2dcf2"/>
<rect width="248.2" height="182.8" fill="#f2dcf2" filter="url(#motB)"/>
<g filter="url(#bl08)" stroke="#f2dcf2" stroke-width="0.9" stroke-linejoin="round"><path fill="#da7ac6" d="M149 36l-7 5-2-2-2-6 1-1 8-1zM142 41l1 4-4 4-7-3 1-4 7-3zM136 24l-6 3-2-1 0-7 2-1 3 1zM139 53l0-4 4-4 4 1 0 10zM118 41l4 4 3-2 2-6-3-3-4 1zM152 45l0-7-3-2-7 5 1 4 4 1zM110 45l1 4 8 2 2-2 1-4-4-4-5 1zM132 46l-1 1-6-4 2-6 2 0 4 5zM161 24l-4-1-5 2-2 2 8 6zM143 64l4-8 7 1 1 1 1 6-1 1-3 1-8-2zM143 21l-5-5 1-4 5-1 2 1 1 6zM143 21l-1 2 7 5 1-1 2-2-3-7-2 0zM144 11l1-8-1-1-6 0-3 6 4 4zM140 63l3 1 4-8 0 0-8-3-4 4zM154 57l-7-1 0 0 0-10 5-1 3 1zM167 35l1-4-4-8-3 1-3 9 0 1 1 0zM130 65l3-8 2 0 5 6-3 5-5 0zM167 39l-7 6-1-11 8 1 1 2zM127-1l10 2-4-89zM122 64l-6 3-1-2-1-7 4-2 5 4zM110 25l2-8 8 2-1 6-4 3zM115 80l-6 0-3-5 2-3 8 0 1 2zM167 39l5 7 6-2 0-1-3-6-7 0zM171 54l-8 0 0-6 8-1 1 6zM163 84l2-3-5-6-2-1-6 3 2 7 5 2zM160 7l1-2-6-6-5 4 3 7 0 0zM171 54l1 7-6 0-4-5 1-2zM184 61l0 4-9 2-2-2-1-3 8-4zM166 61l-3 5-7-2-1-6 7-2zM141 97l3 0 5-7-4-3-7 3 2 6zM133 78l-5 4-2 0-3-7 2-3 5 0 3 5zM110 45l1 4-2 6-5-1-2-1 2-8zM183 49l-3 4 0 5 4 3 6-3-3-8-2-1zM96 44l6-1 2 2-2 8-6 0zM170 10l-6 3 0 1 2 6 5 0 4-3zM155 16l2 7-5 2-3-7 6-3zM96 87l-1-6 4-3 5 7-5 3zM184 61l0 4 1 3 8-1 0-8-3-1zM100 76l-1 1-6-4-1-3 6-5 2 3zM113 98l1-7-1-2-5-1-3 6 4 5zM111-2l4 5-1 2-5 2-3-2 0-5zM158 94l1-8-5-2-5 6 5 4zM128 108l-2-8-5 0-1 1 0 9 7 0zM120 101l-4 0-3 5 1 4 6 0 0 0zM129 114l-2-4-7 0 0 0 0 7 2 3 5-1zM204 52l-3-3-5 2 0 7 6 1zM77 25l6-6-3-3-6-1-1 2 3 8zM145 108l-5-4 1-7 3 0 6 4 1 2-5 5zM192 28l3-7-4-5-2 0-4 6 7 6zM198 29l3-1 2-5 0 0-2-3-6 1-3 7zM141 115l-4 0 0 0-2-9 1 0 4-2 5 4zM107 115l4 0 3-5-1-4-5 0-2 3zM99 62l2-1 3-7-2-1-6 0-1 1zM116 127l-7 6-3-3 2-6 4-1zM197 71l9 2-2 7-6-3zM72-1l0-22 11 21-3 6zM108 65l7 0-1-7-4-1-3 6zM113 106l3-5-3-3-4 1-2 2 1 5zM137 115l-8-1-2 5 5 6 2 0 0 0 3-10zM144 118l-3-3-4 0-3 10 9-2 1-1zM175 100l-7 2 0 0-2-6 2-4 5-1 3 5zM181-87l5-240-34-3-22 1 2 131 2 43 16 132 5 17 8 4 4-2zM207 72l1-2 5-3 4 4 0 5-2 2zM93 98l2-3-3-6-4-1-4 3 1 5 6 3zM132 125l-4 4-8-3 2-6 5-1zM90 54l-3-4 1-2 7-4 1 0 0 9-1 1zM143 131l-7-2-2 7 0 1 8 1 3-6zM81 36l5-5-9-6-1 0-2 2 3 9zM213 54l4-5 0-1-5-5-3 1-2 7zM80 44l0 6-6 0-3-7 2-1zM160 95l6 1 2 6-9 5-2-2zM203 23l8-5-5-6-5 1 0 7zM198 38l6 0 2-4-5-6-3 1zM144 118l6-2 4 6-4 2-6-2zM194-1l-4 5-6-3 0-1 1-15zM90 102l-7 5 1 3 6 2 0 0 3-4zM213 55l-5 5-4 0-2-1 2-7 3-1 6 3zM70 81l0 0 2 5 7-1 1-2-1-6-6-1zM215 35l0 1-3 7-3 1-3-2-2-4 2-4 3-1zM109 137l4 7 5-1 0-7-9 0zM67 19l1-1-4-6-4 0-2 8 1 1zM98 107l1 8 7 0 1 0-1-6-6-3zM98 134l1-5-8-4-3 4 0 3 3 3zM95 143l1 1-9 5-3-3 1-5 5-2zM182 114l-4-7 0-2 6-2 2 0 2 6 0 1zM113 144l-3 5 6 3 5-6 0-2-3-1zM72 86l7-1 5 6-9 3-4-5zM212 7l-5 2-4-6 4-4 6 3 1 1zM171 110l-1 2-3 1-8-5 0-1 9-5 0 0zM174 135l-1 0 0-7 6-2 3 6zM212 89l0-8-7-1-2 5zM68 70l2-7 8 4 0 1-5 6zM167 135l-2-5-6-1 0 1-2 8 3 1zM126 152l4-3-3-6-2-1-4 2 0 2zM154 122l4 0 1-1-2-10-6 2-1 3zM179 126l0-1-4-8 0 0-5 7 0 2 3 2zM222 53l-5-4 0-1 6-5 5 5-3 4zM88 120l3 3 6-4 0-3-7-4 0 0zM223 42l-3-5-5-1-3 7 5 5 6-5zM68 4l-8-2 4-59 8 34 0 22zM186 121l-7 4-4-8 6-3zM103 143l5 6-9 5-1-1-1-8zM206 103l-4-7 1-1 8-3 2 5-3 5-3 1zM176 142l-1 4-2 0-5-4 0-6 5-1 1 0zM187 132l1-10 1 0 6 3-3 7-3 1zM209 28l-6-5-2 5 5 6 3-1zM76 104l-7-1 0-4 6-3 4 6 0 1zM68 70l5 4 0 2-3 5-6-6 1-3zM117 153l8 3 1-4-5-6-5 6zM233 41l5 0 0 1-1 7-2 1-5-3zM88 120l3 3 0 2-3 4-9-2 0-5 3-2zM220 62l2 6 3 2 5-1 1-3-4-5zM225 83l1-5 5-1 3 2-2 6-2 1zM228 92l7 3 1 1-7 6-5-8zM239 9l-5-7 1-2 6-2 4 4-3 6zM59 84l-1-4-2-2-1 0-8 5 0 1 5 4zM49 73l0 0 5-6 4 1-2 10-1 0zM245 49l2-4-1-1-8-2-1 7 5 2zM246 44l1-8-4-2-3 0-2 7 0 1zM53 47l-6-4 2-5 5 0 2 6zM106 164l1-4 2-2 5 1 3 3-5 6zM163 145l-2-1-4 4 4 7 0 0 5-2 0-2zM62 61l-3 7-1 0-4-1-4-5 8-5 3 2zM69 123l7-2-4-8-2 0-4 8zM237 79l4 5 7-5 0-1-7-6-1 1zM187 144l-5-4 2-7 3-1 2 1 1 6zM66 129l3-3 0-3-3-2-1-1-6 5 2 3zM223 14l-1-2 0-2 5-2 5 4-1 4-3 1zM76 131l-7 6 6 6 0 0 4-7-3-5zM151 150l-7 0 1 8 6 1 1 0 1-2zM213 55l6 6-6 4-5-5zM47 8l2-8-1-2-7 1-2 3 1 5 5 2zM39 76l6 0 4-3 0 0-6-6-2 0zM39 33l-6 1-2-6 3-4 5 1 2 4zM85 157l3-4 9 2-1 6-5 2zM83 165l7 2 1-4-6-6-1 1zM39 33l-6 1-1 0 2 6 6 1 2-4zM220 21l3-7 5 3-2 9zM50 62l-7 5 6 6 5-6-4-5zM161 155l-8 2-1 2 7 6 2-1 1-1-1-8zM41 67l-1-10 7 2 3 3-7 5-2 0zM84 110l6 2-2 8-6 0-1-7zM190 139l8 2 1-1-1-6-6-2-3 1zM242 58l0 8 1 2 5-1 2-4-3-5zM248 67l6 5-6 6-7-6 2-4zM57 116l2-2 1 0-1-6-3-2-5 2 1 7zM203 95l-1-9 1-1 9 4 0 0-1 3zM243 97l2 1 5 0 3-6-4-3-4 1zM52 51l1-4-6-4-1 1-1 6 4 2zM24 20l2 7 5 1 3-4 0-3-7-3zM125 173l6 3 2-2-1-7-2-2-4 2zM250 25l16 5-19 6-4-2 3-8zM48-2l15-64-5-260-17 0-11 2 0 11 7 298 4 14zM193 49l3 2 5-2 0-2-6-4zM106 175l0 2 0 0 8 3 0 0 2-7-3-3zM40 109l4 2 4-4-1-4-3 0-4 3zM122 174l0 7 1 1 6-1 3-2-1-3-6-3zM241 24l-5 2-1-1-1-7 4-1 4 2zM40 106l4-3-3-6-5-1-1 7zM31 85l-1 3 2 5 3 2 7-9-3-2zM247 18l6-4-5-4-4 0 1 7zM141 167l1 5 1 0 5 2 5-4 0 0-3-6zM208 114l2 7 1 0 8-6-3-4-6 0zM36 50l0 0 6-7 4 1-1 6-6 3zM42 43l-2-2-6-1-2 3 4 7zM230 38l0-3 7-3 3 2-2 7-5 0zM142 150l-7 6 0 1 5 4 5-3-1-8zM75 143l-6 5-3-1-2-5 3-5 2 0zM29 78l1 1 1 6-1 3-7-1-1-5 1-2zM250 1l1-1 302-26 5 31 1 31-144-1-163-29zM66 129l-5-1-3 6 9 3zM251 0l302-26-5-27-18-56-29-52-36-47-43-40-50-32-53-24-47-12-26 303zM229 121l-7-2-2-4 5-4 5 3 0 6zM152 159l-1 0-1 5 3 6 6-5zM187 144l0 1 9 2 2-1 0-5-8-2zM157 180l0-7-4-3-5 4 2 5 6 2 1 0zM48 32l7-2 1-1-8-7-2 8zM33 120l1 6-4 2-6-4 1-4 3-2zM157 180l7-1 3 7-1 13-9-18zM21 95l-1-1-1-4 4-3 7 1 2 5-3 3zM247 58l3 5 34-11-34 2zM31 110l5 2 4-3 0-3-5-3-3 2zM47 103l3-3-2-5-2-1-5 3 3 6zM195 125l-3 7 6 2 4-3-5-7zM229 121l0 2-7 6-2-1-1-2 3-7zM114 180l-1 7 5 13 5-18-1-1-8-1zM23 109l-4 6-6-5 3-6 6 0zM14 81l8 1 1 5-4 3-4-2-1-7zM18 58l6 1 1 5-4 4-5-4zM27 18l7 3 2-5-2-5-2-1-5 4zM206 147l-3 1-5-2 0-5 1-1 6 0 3 4zM21 71l6 2 2 5-6 2-3-7zM210 143l6 4 5-6 0-1-6-3zM46 148l-1-7 3-4 2 1 4 9-4 2zM49 117l3-2-1-7-3-1-4 4 0 3zM30 111l-2 7-3 2-5-4-1-1 4-6zM12 98l-4-4 0-3 7-3 4 2 1 4zM103 186l-12 37-2-21 7-22zM19 15l4-3 4 2 0 4-3 2-3-1zM50 149l4-2 2 0 4 4-4 6-2 0-3-2zM55 168l2 6 1 1 3-1 4-6-4-5-6 3zM25 120l-5-4-6 4 0 6 6 2 4-4zM185 167l-1-4-2-1-5 3 0 5 4 3zM3 107l1 6-3 3-6-2 4-7zM9 48l-7-3 1-6 6 0 1 8zM3 39l-3-3-13 8 11 3 4-2zM8 91l0 3-6 4-3-1-2-7 9-1zM88 180l-1 1-1 11 3 10 7-22 0 0-2-2zM56 157l4-6 0 0 7 6-6 5zM185 167l-1-4 8-2 1 1 0 6-3 2zM28 4l-5 1-3-5 2-11 8 12zM2 82l-10 4 5 4 9-1 0-4zM77 182l3-3 7 2-1 11-9-9zM230 145l-2-6 6-3 3 1 1 7-5 2zM12 128l0 5 3 4 7-1 0 0-2-8-6-2zM190 170l3-2 6 2 0 3-5 3-4-1zM6 85l0 4 2 2 7-3-1-7-3 0zM-92 49l79-5 13-8 0-4-3-3-198 17zM21 19l-5 6 1 3 4 1 5-2-2-7zM29 145l-6-3-4 5 0 0 4 4 6 0zM3 123l7-5-1-3-5-2-3 3 2 7zM58 183l0 1-6 38-3-39zM224 132l0 6 4 1 6-3-3-5zM22 136l1 6-4 5-5-6 1-4zM7 59l-4 5-5 0-5-4 8-6 3 1zM209 173l-1-8 8 2 0 5-4 3-2 0zM58 183l0 1 8 1 1-2-1-6-5-3-3 1zM22 7l1-2-3-5-8 3 0 0 3 5zM218 165l-2 2 0 5 5 2 3-2 0-5-2-2zM-201 46l-111 1 2-30 292-2 14 4 3 5-2 5zM229 123l3 5-1 3-7 1-2-3zM212 175l5 6 4-1 0-6-5-2zM184 183l-6-4-3 1 3 11zM224 159l-2 6-4 0-2-6 6-2zM224 159l4-1 0-5-4-3-3 2 1 5zM187 176l0 7 2 1 5-3 0-5-4-1zM230 166l4 3-1 3-4 3-5-3 0-5zM239 166l-5 3-4-3 1-5 6-3zM3 137l-1-4-6-4-16 6 19 5zM72 173l-6 4 1 6 8-2zM15 158l-6-4-4 1 0 8 4 2 5-5zM30 172l-2-2-3 0-5 8 0 0 2 2 8-3 1 0zM233 146l0 5 4 5 6-6 0-3-5-3zM192 155l0 6 1 1 6 0 2-6-6-3zM248 156l0 2 7 5 19 3 195-12-172-6-41 2zM241 167l2 6 5 0 0-6-3-2zM15 171l-5 0-1-6 5-5 6 5 0 2zM0 2l-304-34-6 37 0 12 292-2 15-6zM229 180l-4 2 0 21 2 10 5-31zM248 137l8-7 8-3 297-2-2 28-90 1-172-6-48-10zM-1 149l0 0 1 4 5 2 4-1 1-5-2-3zM9 165l-4-2-4 1-2 4 1 3 8 4 2-4zM22 180l3 6-4 13-6-16 1-2 4-3zM5 155l0 8-4 1-4-3 3-8zM0 171l-3 5 2 4 7-2 2-2 0-1zM248 167l0 6 2 1 24-8-19-3z"/><path fill="#e084cc" d="M140 39l-7 3-4-5 4-4 5 0zM128 26l-3 1-1 7 3 3 2 0 4-4-3-6zM135 57l4-4 0-4-7-3-1 1-2 6 0 2 4 2zM128 19l0 7-3 1-6-2 1-6 2-2zM138 16l-5 3-3-1 1-9 4-1 4 4zM147 31l2-3-7-5-3 2 0 7zM130 18l1-9-1 0-8 3 0 5 6 2zM152 38l-3-2-2-5 2-3 1-1 8 6 0 1zM143 21l-1 2-3 2-3-1-3-5 5-3zM131 9l4-1 3-6-1-1-10-2-1 2 4 8zM137 68l2 6 3 1 3-2-1-9-1 0-3-1zM122 12l-1-1 1-9 4-1 4 8zM160 45l0 0-5 1-3-1 0-7 6-4 1 0zM120 1l2 1 4-1 1-2 6-87 1-67-2-43-17 186zM144 2l6-25 5 17 0 5-5 4-5 0zM129 53l-8-4 1-4 3-2 6 4zM130 65l-7 0-1-1 1-4 6-5 4 2zM144 11l1-8 5 0 3 7-7 2zM166 20l-2-6-9 2 2 7 4 1 3-1zM168 37l7 0 2-4-4-4-5 2-1 4zM132 68l-2 4 3 5 6-3-2-6zM123 65l2 7-2 3-6-1-1-2 0-5 6-3zM130 65l-7 0 2 7 5 0 2-4zM145 73l4 2 3 2-8 6-3-2 1-6zM122 17l-2 2-8-2-1-2 6-5 4 1 1 1zM107 25l3 0 2-8-1-2-1 0-7 1-1 2 4 7zM104 54l5 1 1 2-3 6-6-2zM136 89l2-6-5-5-5 4 3 7zM115 31l5 4 4-1 1-7-6-2-4 3zM108 72l8 0 0-5-1-2-7 0-2 4zM181 24l1-1-4-6-3 0-4 3 3 7zM183 38l-2-5-4 0-2 4 3 6zM107 25l3 0 5 3 0 3-4 5-6-1zM140 96l-2-6-2-1-5 0-2 3 1 6 0 0zM172 53l8 0 3-4-5-5-6 2-1 1zM122 84l-7-4 0 0 2-6 6 1 3 7zM166 61l-3 5 2 3 3 1 5-5-1-3 0-1zM135 106l-7 2-2-8 4-2 0 0 6 8zM95 44l-3-6-7 4 3 6zM171 54l1 7 0 1 8-4 0-5-8 0zM100 76l6-1 2-3-2-3-6-1zM88 61l10 2 1-1-4-8-5 0-3 5zM163 3l0-5-8-4 0 5 6 6zM172 83l6-3 1-5-1-1-7 1-3 5zM182 31l-1-7 1-1 3-1 7 6-2 3zM109 7l1 8-7 1-3-8 6-3zM121 100l-1-9-6 0-1 7 3 3 4 0zM164 14l-9 2 0-1-2-5 7-3 4 6zM155 65l1-1 7 2 2 3-5 6-2-1zM106 0l-5-4-5 6 0 1 4 5 0 0 6-3zM183 38l-5 5 0 1 5 5 2 0 3-7-2-3zM129 92l-9-1 2-7 4-2 2 0 3 7zM178 74l-3-7-2-2-5 5 3 5zM99 78l0-1-6-4-6 4 0 3 2 2 6-1zM111-2l4-10 17-186-2-131-24 0-9 305 4 20 5 4zM109 7l1 8 1 0 6-5-3-5zM145 87l-1-4-3-2-3 2-2 6 2 1zM106 25l-4-7-7 1-1 6 3 3zM88 61l-1 6 5 3 6-5 0-2zM185 49l2 1 6-1 2-6 0-1-7 0zM181 11l-1-2-5-3-4 1-1 3 5 7 3 0zM175-2l8-30-2-55-14 83 4 3zM168 80l3-5-3-5-3-1-5 6 5 6zM87 77l6-4-1-3-5-3-5 3 1 3zM101-4l-4-20-7 22 6 4zM160 95l6 1 2-4-5-8-4 2-1 8zM87 8l1-9 2-1 6 4 0 1-7 6zM190 58l3 1 3-1 0-7-3-2-6 1zM80 4l3-6 5 1-1 9-5 0-2-2zM204 60l-1 3-6 7-4-3 0-8 3-1 6 1zM197 70l0 0-4-3-8 1 0 5 3 3zM179 75l6-2 0-5-1-3-9 2 3 7zM97 28l-3-3-6 2-2 4 6 6 6-4zM135 106l-7 2-1 2 2 4 8 1zM91 15l4 4-1 6-6 2-4-8zM183 38l-2-5 1-2 8 0 0 3-4 5zM111 115l2 2 7 0 0-7-6 0zM190 34l6 4 2 0 0-9-6-1 0 0-2 3zM187 83l-5 2-4-5 1-5 6-2 3 3 1 4zM189 80l-1-4 9-6 0 1 1 6-4 4zM181 33l-4 0-4-4 1-2 7-3 1 7zM99 94l0-6 5-3 1 1 3 2-3 6-3 1zM136 106l-6-8 10-2 1 1-1 7zM73 9l1 6 6 1 2-8-2-2zM92 89l4-2-1-6-6 1-1 6zM88 61l-1 6-5 3-4-2 0-1 3-8 6 0zM186 39l4-5 6 4-1 4-7 0zM171 7l-2-3 2-5 4-1 2 3-2 5zM181 11l-1-2 4-8 6 3 0 1-5 7zM151 113l6-2 2-3 0-1-2-2-6-2-5 5zM83 42l2 0 7-4 0-1-6-6 0 0-5 5zM187 83l-5 2-1 3 3 6 4-1 2-3zM181 88l-7 2-2-7 6-3 4 5zM175-2l8-30 2 17-1 15-7 1zM71 54l3-4 6 0 0 0 0 8-7-1zM192 99l-4-6-4 1-2 2 2 7 2 0zM144 118l-3-3 4-7 1 0 5 5-1 3zM143 123l-9 2 0 0 2 4 7 2zM175 100l3 5 6-2-2-7-6 0zM68 26l-1-7 1-1 5-1 3 8-2 2-4 1zM95 95l4-1 0-6-3-1-4 2zM164 119l3-6-8-5-2 3 2 10zM220 62l2 6-5 3-4-4 0-2 6-4 1 0zM93 98l7 5 0 3-2 1-5 1-3-6 1-3zM196 10l5-7-4-4-3 0-4 5 0 1zM170 124l-6-5 3-6 3-1 5 5zM144 122l-1 1 0 8 2 1 4 0 1-1 0-7zM175 100l-7 2 3 8 7-3 0-2zM221 84l4-1 1-5-2-2-7 0-2 2 0 1zM134 125l2 4-2 7-7-3 1-4 4-4zM128 129l-1 4-3 2-4-1-2-7 2-1zM168 136l5-1 0-7-3-2-5 4 2 5zM134 137l-1 3-6 3-2-1-1-7 3-2 7 3zM187 83l3 7 5 0 2-4-3-5-5-1zM220 62l7-1 2-4-4-5-3 1-2 8zM212 81l-7-1-1 0 2-7 1-1 8 6 0 1zM109 136l0-3 7-6 2 0 2 7-2 2zM159 130l-2 8-5 1-3-7 1-1zM74 38l-7-5 3-5 4-1 3 9zM71 54l3-4-3-7-1 1-5 6 2 3zM91 99l-6-3-6 6 0 1 4 4 7-5zM213 55l6 6 1 0 2-8-5-4-4 5zM106 130l-7-1 3-6 2-1 4 2zM150 124l0 7 9-1 0-1-1-7-4 0zM80 83l7-3 0-3-4-4-4 4zM203 3l-2 0-5 7 0 0 5 3 5-1 1-3zM72 86l-2-5-10 3 1 4 6 3 4-2zM60 45l-4-1-2-6 2-1 7 1 1 2zM67 53l-2-3-4-2-4 6 1 3 3 2zM73 76l6 1 4-4-1-3-4-2-5 6zM85 141l-1 5-5 1-4-4 4-7 3 0zM118 136l2-2 4 1 1 7-4 2-3-1zM159 129l6 1 5-4 0-2-6-5-5 2-1 1zM68 70l2-7 0 0-8-2-3 7 6 4zM64 75l-6 5 1 4 1 0 10-3 0 0zM189 122l2-5-3-7-6 4-1 0 5 7 2 1zM107 115l4 0 2 2-1 6-4 1-4-2 2-7zM52 51l1-4 3-3 4 1 1 3-4 6zM214 3l-1-1 5-9 5 7-4 3zM212 89l8 0 1-5-6-5-3 2 0 8zM213 2l5-9-7-46-4 25 0 27zM98 135l7 3-2 5-6 2-1-1-1-1zM60 84l-1 0-7 4 0 3 6 4 3-7zM65 72l-6-4-1 0-2 10 2 2 6-5zM160 139l-3-1-5 1-2 3 3 6 4 0 4-4zM51 18l0-7 6-2 3 3-2 8zM103 143l5 6 1 0 1 0 3-5-4-7-4 1zM217 30l9-2 0 3-6 6-5-1 0-1zM69 7l-5 5-4 0-3-3 2-6 1-1 8 2zM48 21l-3-1-2-3 2-8 2-1 4 3 0 7zM235 25l1 1 1 6-7 3-4-4 0-3 0-2zM121 165l-1-2 5-7 6 3-1 6-4 2zM217 30l-2 5-6-2 0-5 6-3zM163 145l-2-1-1-5 7-4 1 1 0 6zM198 115l-7 2-3-7 0-1 7-1zM225 0l5-9 5 9-1 2-5 2zM206 103l-4-7-4 0-4 4 2 6 6-1zM117 162l3 1 5-7 0 0-8-3-3 6zM242 58l-7 0-2-2 2-6 2-1 5 2zM190 90l-2 3 4 6 2 1 4-4-3-6zM242 66l-7-2-4 2-1 3 2 2 8 2 1-1 2-4zM207 51l2-7-3-2-5 5 0 2 3 3zM34 21l2-5 7 1 2 3-6 5-5-1zM199 116l1 5-3 3-2 1-6-3 2-5 7-2zM48 32l7-2 1 7-2 1-5 0-2-2zM68 111l2 2 2 0 2-1 2-8-7-1-2 2zM84 110l-1-3-4-4-3 1-2 8 7 1zM136 146l-4 3-2 0-3-6 6-3zM206 103l-4 2 1 8 5 1 2-3-3-8zM81 113l-7-1-2 1 4 8 3 1 3-2zM47 8l2-8 10 3-2 6-6 2zM210 102l7 3 2-1 1-7-7 0zM69 123l7-2 3 1 0 5-3 4 0 0-7-5zM59 27l0-6-1-1-7-2-3 3 0 1 8 7 2-2zM223 94l1 0 5 8 0 2-3 2-7-2 1-7zM50 62l-3-3 2-7 3-1 5 3 1 3-8 5zM38 76l1 8 3 2 0 1 5-3 0-1-2-7-6 0zM67 91l-1 5-6 1-1 0-1-2 3-7zM57 116l2-2 6 6-6 5-2-1zM55 100l4-3 1 0 3 7-4 4-3-2zM49 120l4 5 4-1 0-8-5-1-3 2zM53 125l-1 2 2 8 2 0 2-1 3-6-2-3-2-1zM98 107l1 8-2 1-7-4 3-4zM41 29l-2-4 6-5 3 1 0 1-2 8zM161 155l-8 2-2-7 2-2 4 0zM227 8l2-4 5-2 5 7-1 1-6 2zM216-240l14 231 5 9 6-2 5-11 26-303-9-2-47-6zM212 7l-5 2-1 3 5 6 1 0 5-6zM96 144l1 1 1 8-1 2-9-2-1-4zM166 151l0 2 5 4 6-3 0-6-2-2-2 0zM122 174l-4-2 3-7 5 2-1 6zM131 159l4-2 5 4 1 5-9 1-2-2zM237 79l4 5-1 3-2 1-6-3 2-6zM207 103l3-1 7 3-1 6-6 0zM67 137l0 0-3 5-5 0-3-7 2-1zM52 91l-4 4-2-1-4-7 5-3 5 4zM141 166l0 1 9-3 1-5-6-1-5 3zM250 54l34-2 65-12-102 5-2 4zM246 26l-3 8-3 0-3-2-1-6 5-2zM217 71l5-3 3 2-1 6-7 0zM196 106l-2-6-2-1-6 4 2 6 7-1zM65 34l-2 4-7-1-1-7 1-1 2-2zM249 89l1-7 311 1 0 0-308 9zM250 25l-3-7-2-1-3 2-1 5 5 2zM33 60l-1 6 0 1 9 0-1-10-1 0zM171 157l0 5-9 1-1-8 5-2zM216 111l3 4 1 0 5-4 1-5-7-2-2 1zM55 100l4-3-1-2-6-4-4 4 2 5zM47 36l2 2-2 5-1 1-4-1-2-2 2-4zM27 55l-3 4 1 5 7 2 1-6zM208 114l2 7-2 2-1 0-7-2-1-5 4-3zM250 25l16 5 111 6 8 0-132-22-6 4zM90 167l0 2 5 3 2-1 3-7-4-3-5 2zM36 96l5 1 5-3-4-7 0-1-7 9zM38 76l1 8-8 1-1-6 6-3zM132 167l1 7 9-2-1-5 0-1zM36 76l-6 3-1-1-2-5 5-5zM207 123l-4 8-1 0-5-7 3-3zM211 121l8 5 3-7-2-4-1 0zM27 53l-2-2 4-7 3-1 4 7 0 0zM231 16l3 2 4-1 0-7-6 2zM148 174l-5-2-3 10 6 1 4-4zM45 76l2 7 8-5-6-5zM66 129l3-3 7 5-7 6-2 0 0 0zM238 104l-1-7 6 0 2 1 0 5-3 2zM45 128l-2 4 5 5 2 1 4-3-2-8zM32 34l-8 3 0 3 5 4 3-1 2-3zM238 88l-3 7 1 1 1 1 6 0 2-7-5-3zM230 86l2-1 6 3-3 7-7-3zM159 165l-6 5 0 0 4 3 6-2 1-1-3-6zM132 179l7 3-5 26-5-27zM40 118l-3-1-1-5 4-3 4 2 0 3zM43 123l2 5-2 4-4 1-4-7 7-4zM39 142l-2-7 2-2 4-1 5 5-3 4zM106 175l0 2-10 3-2-2 1-6 2-1 8 2zM56 147l3-5-3-7-2 0-4 3 4 9zM48 32l-2-2-5-1-2 4 3 4 5-1zM140 182l6 1 4 9-6 293-12-184 2-93 5-26zM114 180l-1 7-8-2 1-8zM284 52l-34 11-2 4 6 5 307 4 1-13-3-27-144-1-30 1-8 0-28 4zM177 154l4 4 1 4-5 3-6-2 0-1 0-5zM229 104l5 3 4-3-1-7-1-1-7 6zM203 148l-1 8-1 0-6-3 1-6 2-1zM178 191l-9 38-3-30 1-13 8-6 0 0zM43 123l2 5 7-1 1-2-4-5zM31 110l5 2 1 5-4 3-5-2 2-7zM202 131l1 0 4 3-2 6-6 0-1-6zM76 163l-5 0-3-6 2-3 7 0 1 3zM250 106l6-2-6-6-5 0 0 5zM213 133l2 4-5 6-2 1-3-4 2-6zM42 122l-7 4-1 0-1-6 4-3 3 1zM105 164l-5 0-3 7 8 2zM25 51l4-7-5-4-3 4 1 6zM229 121l0 2 3 5 5 0 1-8-1 0-7 0zM213 133l2 4 6 3 3-2 0-6-2-3-2-1-7 4zM181 173l-4-3-5 2 0 4 3 4 0 0 3-1 4-5zM56 147l3-5 5 0 2 5-6 4 0 0zM157 180l7-1 1-1-2-7-6 2zM8 77l1-6 1-1 7 3-3 8 0 0-3 0zM32 67l0-1-7-2-4 4 0 3 6 2 5-5zM242 58l0-7 3-2 5 5-3 4-5 0zM68 157l-1 0-7-6 6-4 3 1 1 6zM90 169l5 3-1 6-6 2-2-7zM112 168l5-6 3 1 1 2-3 7-2 1-3-3zM32 10l-4-6 2-3 3-1 6 2 1 5-6 4zM81 166l1 6-2 2-7-1 4-7zM76 163l-5 0-3 5 4 5 1 0 4-7zM61 162l6-5 1 0 3 6-3 5-3 0-4-5zM83 165l1-7-6-1-2 6 1 3 4 0zM34 126l-4 2-2 6 3 2 6-1 2-2-4-7zM77 154l2-7-4-4 0 0-6 5 1 6zM163 145l5-3 5 4-7 5zM248 120l16 7 297-2 1-5-1-12-287 0-26 8zM230 120l7 0 3-6-5-3-5 3zM28 101l1-5-8-1 1 9zM12 98l-4-4-6 4 3 7 7-5zM105 185l-2 1-12 37-6 289 11 1 49-1-1-27-12-184-14-101-5-13zM38 144l-7-1 0-7 6-1 2 7zM162 163l-1 1 3 6 6 0 1-7 0-1zM206 147l5 6 2 0 3-3 0-3-6-4-2 1zM-3 90l-5-4-20-4-242 5 264 15 5-5zM237 128l2 2 6-2 0-1 1-3-8-4zM256 130l8-3-16-7-2 4-1 3zM21 71l0-3-5-4-3 1-3 5 7 3 3 0zM206 157l3 5 6-3-2-6-2 0zM206 157l3 5-1 3-7 1-2-4 2-6 1 0zM36 162l-6 1-3-2 3-9 5 1 2 3zM248 137l8-7-11-3 0 1 2 9zM2 78l6-1 3 4-5 4-4-3zM68 168l4 5 0 0-6 4-5-3 4-6zM187 176l0 7-3 0-6-4 4-5zM43 154l2-5 1-1 4 1 1 6-5 2zM73 173l-1 0 0 0 3 8 2 1 3-3 0-5zM2 98l-3-1-5 5 5 5 4 0 2-2 0 0zM2 78l-3-4 6-5 4 2-1 6zM9 48l-7-3-4 2 3 7 3 1zM199 162l-6 0 0 6 6 2 2-4zM31 143l0-7-3-2-6 2 0 0 1 6 6 3zM2 78l-3-4-2-1-25 9 20 4 10-4zM46 163l6-1 2-5-3-2-5 2zM238 137l1-7 6-2 2 9zM35 153l3-6 0-3-7-1-2 2 0 6 1 1zM45 149l-7-2 0-3 1-2 6-1 1 7zM19 15l-5-2-2 1-2 7 6 4 5-6zM17 42l-1-4-5-2-2 3 1 8 2 1zM5 69l-6 5-2-1 1-9 5 0zM12 14l-2 7-3 1-1 0-4-7 0-1 4-2zM256 150l41-2-48-10-2 7zM11 34l-4-4 0-8 3-1 6 4 1 3zM201 166l-2 4 0 3 1 1 9-1-1-8 0 0zM19 15l-5-2 1-5 7-1 1 5zM38 164l0 6-8 2-2-2 2-7 6-1zM172 176l-7 2-1 1 3 7 8-6zM30 1l3-1 4-15-7-298-10 293 2 9zM13 65l-3 5-1 1-4-2-2-5 4-5 1 0zM12 110l-7-5-2 2 1 6 5 2zM4 138l8-5 0-5-6-1-4 6 1 4zM237 158l0-2-4-5-5 2 0 5 3 3 6-3zM6 127l-3-4 0 0-4 0-3 6 6 4zM45 174l2 2 1 6-4 2-6-2 0-4 3-4zM15 8l-3-5-6 3 0 6 6 2 2-1zM21 44l3-4 0-3-2-2-6 3 1 4zM185 167l-4 6 1 1 5 2 3-1 0-5zM83 165l7 2 0 2-4 4-4-1-1-6zM224 150l-3 2-5-2 0-3 5-6 4 6zM225 203l-9-19 1-3 4-1 4 2zM47 170l-2 4 2 2 10-2-2-6zM209 173l-9 1 2 7 4 1 1 0 3-7zM41 174l-3 4-7-1-1-5 8-2zM4 138l5 5-1 3-9 3 0-9 4-3zM229 180l0-5 4-3 6 4-3 6-4 0zM206 182l-10 26 0-4 2-21 4-2zM-1 107l-5-5-264-15-43 0-1 33 0 0 302-3 7-3zM-4 19l-14-4 15-6 5 5 0 1zM16 157l5-1 4 5-5 4-6-5 1-2zM4 138l8-5 3 4-1 4-5 2zM206 182l-10 26 4 301 6 0 5-324-4-3zM6 6l-6-4 0 0-3 7 5 5 4-2zM16 157l0-8 3-2 4 4-2 5zM177 165l0 5-5 2-2-2 1-7zM200 174l-1-1-5 3 0 5 4 2 4-2zM209 162l-1 3 0 0 8 2 2-2-2-6-1 0zM0 32l7-2 0-8-1 0-7 2-2 5zM-92 49l85 11 5 4-1 9-25 9-242 5-43 0-1-24 2-16 111-1zM31 177l-1 0 1 7 4 2 3-4 0-4zM241 167l2 6-3 3-1 0-6-4 1-3 5-3zM-1 123l-11-6-302 3 2 15 292 0 16-6zM39 204l5-20-6-2-3 4zM6-3l-6 4-119-282 48-22 56-16 15-1zM0 2l0-1-119-282-5 2-49 32-43 40-37 47-28 52-19 55-4 21 304 34zM39 204l4 154-4 151-34-6 16-304 4-13 6-2 4 2zM249 180l302 38-3 17-19 56-28 52-37 47-43 40-49 32-54 23-11 3-59-307zM240 335l12 167 11-2 44-12-59-307-4 0-4 5zM16 149l-6 0-2-3 1-3 5-2 5 6 0 0zM82 172l-2 2 0 5 7 2 1-1-2-7zM-3 161l4 3-2 4-15 4-294-11-1-3 235-2zM16 181l-8-5-2 2 2 7 7-2zM227 213l13 122 12 167-45 7-1 0 5-324 5-1 9 19zM232 182l4 0 4 4 0 149-13-122zM77 183l-7 13 14 315 1 1 6-289-2-21-3-10zM-2 182l-287 83 8 26 28 52 37 47 43 40 49 32 54 24 55 15 19-308zM20 178l5-8-5-3-5 4zM-3 176l2 4-1 2-287 83-11-30-10-57 0-17 294 11zM0 171l-3 5-13-4 15-4z"/><path fill="#e698d4" d="M139 32l0-7-3-1-6 3 3 6 5 0zM147 18l2 0 6-3-2-5 0 0-7 2zM109 55l1 2 4 1 4-2 1-5-8-2zM163 54l-1 2-7 2-1-1 1-11 5-1 3 3zM123 60l-5-4 1-5 2-2 8 4 0 2zM144 2l6-25-16-132-1 67 4 89 1 1zM145 73l4 2 3-9-8-2zM152 66l-3 9 3 2 0 0 6-3-3-9zM115 3l5-2 2 1-1 9-4-1-3-5zM111-2l4-10 5 13-5 2zM113 42l5-1 2-6-5-4-4 5zM149 90l0 0 5-6-2-7 0 0-8 6 1 4zM174 90l-2-7-4-3-3 1-2 3 5 8 5-1zM107 25l-2 10-2 1-5-3-1-5 9-3zM142 75l-1 6-3 2-5-5 0-1 6-3zM100 76l-1 1 0 1 5 7 1 1 4-6-3-5zM103 36l-1 7 2 2 6 0 3-3-2-6-6-1zM171 47l1-1-5-7-7 6 0 0 3 3zM120 91l2-7-7-4-2 9 1 2 6 0zM173 29l-5 2-4-8 2-3 5 0 3 7zM91 15l4 4 7-1 1-2-3-8 0 0-9 6zM108 88l-3-2 4-6 6 0 0 0-2 9zM98 33l-6 4 0 1 3 6 1 0 6-1 1-7zM170 10l-6 3-4-6 1-2 2-2 6 1 2 3zM150 101l-6-4 5-7 0 0 5 4zM130 98l-4 2-5 0-1-9 0 0 9 1zM169 4l-6-1 0-5 4-2 4 3zM99 62l2-1 6 2 1 2-2 4-6-1-2-3 0-2zM189 16l-4-4-4-1-3 6 4 6 3-1zM176 96l-3-5 1-1 7-2 3 6-2 2zM89 9l7-6 4 5-9 6zM151 103l6 2 3-10-2-1-4 0-4 7zM83-2l5 1 2-1 7-22 9-305-10-1-38 4 5 260 1 9 8 34zM120 126l-2 1-2 0-4-4 1-6 7 0 2 3zM87 8l-5 0-2 8 3 3 1 0 7-4 0-1-2-5zM107 101l-5 0 0-6 3-1 4 5zM84 91l0 0-5-6 1-2 7-3 2 2-1 6zM80 44l-7-2 1-4 3-2 4 0 2 6zM87 59l-6 0-1-1 0-8 7 0 3 4zM86 31l0 0 2-4-4-8-1 0-6 6zM100 106l6 3 2-3-1-5-5 0-2 2zM191 16l5-6 5 3 0 7-6 1zM208 60l5 5 0 2-5 3-5-7 1-3zM195 42l1-4 2 0 6 0 2 4-5 5-6-4zM69 7l-5 5 4 6 5-1 1-2-1-6zM106 115l-2 7-2 1-5-4 0-3 2-1zM189 16l-4-4 5-7 6 5 0 0-5 6zM85 96l-6 6-4-6 0-2 9-3 0 0zM80 44l0 6 0 0 7 0 1-2-3-6-2 0zM194 81l4-4 6 3 1 0-2 5-1 1-5 0zM197 86l5 0 1 9-1 1-4 0-3-6zM98 135l7 3 4-1 0-1 0-3-3-3-7-1 0 0-1 5zM74 38l-7-5-2 1-2 4 1 2 6 4 1-1 2-1zM207-1l0-27-10 27 4 4 2 0zM197 71l9 2 1-1 1-2-5-7-6 7 0 0zM182 114l-4-7-7 3-1 2 5 5 0 0 6-3zM134 137l-1 3 3 6 5 0 2-5-1-3zM93 98l2-3 4-1 3 1 0 6-2 2zM71 54l-4-1-6 6 1 2 8 2 3-6zM65 50l-4-2-1-3 4-5 6 4zM91 123l0 2 8 4 0 0 3-6-5-4zM73 57l7 1 1 1-3 8-8-4 0 0zM69 7l4 2 7-3 0-2-8-5-4 5zM71 89l4 5 0 2-6 3-3-3 1-5zM149 132l3 7-2 3-7-1-1-3 3-6zM220 89l3 5 1 0 4-2 2-6-5-3-4 1zM225 52l3-4 2-1 5 3-2 6-4 1zM68 26l-9 1-1 0 7 7 2-1 3-5zM63 104l-3-7 6-1 3 3 0 4-2 2zM230 38l-7 4 0 1 5 5 2-1 3-6zM141 146l1 4-7 6-3-7 4-3zM211 92l1-3 8 0 3 5-3 3-7 0zM230 38l0-3-4-4-6 6 3 5zM207-28l-10 27-3 0-9-14-2-17-2-55 5-240 21 1 9 2 0 84-5 187zM215 25l0-3-3-4-1 0-8 5 0 0 6 5zM212 7l5 5 5 0 0-2-3-7-5 0zM232 71l-1 6-5 1-2-2 1-6 5-1zM90 139l-5 2-3-5 6-4 3 3zM227 61l4 5 4-2 0-6-2-2-4 1zM39 57l1 0 7 2 2-7-4-2-6 3zM175 6l2-5 7-1 0 1-4 8zM220 21l-5 1 0 3 2 5 9-2 0-2 0 0zM220 21l-5 1-3-4 5-6 5 0 1 2zM68 26l-1-7-8 2 0 6zM153 148l-2 2-7 0-2 0-1-4 2-5 7 1zM187 132l1-10-2-1-7 4 0 1 3 6 2 1zM109 158l0-9 1 0 6 3 1 1-3 6zM182 140l-6 2-2-7 8-3 2 1zM125 156l0 0 6 3 4-2 0-1-3-7-2 0-4 3zM187 144l0 1-1 2-9 1-2-2 1-4 6-2zM106 164l6 4 1 2-7 5-1-2 0-9zM60 114l-1 0 6 6 1 1 4-8-2-2zM88 132l0-3-9-2-3 4 3 5 3 0zM59 108l4-4 4 1 1 6-8 3zM34 11l6-4 5 2-2 8-7-1zM106 164l1-4-8-6-1-1-1 2-1 6 4 3 5 0zM222 10l5-2 2-4-4-4-2 0-4 3zM49 0l10 3 1-1 4-59-1-9-15 64zM241 84l7-5 2 3-1 7-4 1-5-3zM84 158l1-1 3-4-1-4-3-3-5 1-2 7 1 3zM31 28l2 6-1 0-8 3-2-2-1-6 5-2zM202 105l-6 1-1 2 3 7 1 1 4-3zM226 26l0 0 9-1-1-7-3-2-3 1zM27 55l6 5 6-3 0-4-3-3-9 3zM242 58l-7 0 0 6 7 2 0-8zM47 103l3-3 5 0 1 6-5 2-3-1zM250 1l1-1-5-13-5 11 4 4zM248 78l0 1 2 3 311 1 0-7-307-4zM232 71l8 2-3 6-3 0-3-2zM242 19l-4-2 0-7 1-1 3-1 2 2 1 7zM244 10l4 0 4-4-2-5-5 1-3 6zM109 158l0-9-1 0-9 5 8 6zM27 55l-3 4-6-1-3-3 0-3 7-2 3 1 2 2zM122 174l0 7-8-1 2-7 2-1zM385 36l30-1-163-29-4 4 5 4zM208 123l5 9 7-4-1-2-8-5-1 0zM177 148l0 6 4 4 7-5-2-6zM225 0l5-9-14-231-5 187 7 46 5 7zM230 114l5-3-1-4-5-3-3 2-1 5zM123 182l6-1 5 27-2 93-14-101zM133 174l-2 2 1 3 7 3 1 0 3-10-1 0zM186 147l2 6 4 2 3-2 1-6-9-2zM156 181l-6 11-4-9 4-4zM247 45l-1-1 1-8 19-6 111 6-28 4zM172 172l0 4-7 2-2-7 1-1 6 0zM32 105l3-2 1-7-1-1-3-2-3 3-1 5zM43 123l6-3 0-3-5-3-4 4 2 4zM31 110l1-5-4-4-6 3 0 0 1 5 7 2zM38 76l-2 0-4-8 0-1 9 0 0 0-2 9zM22 50l-1-6-4-2-5 6 3 4zM39 2l-6-2 4-15 4 14zM188 153l4 2 0 6-8 2-2-1-1-4zM243 113l3 1 4-8-5-3-3 2zM250 106l6-2 18 4-26 8-2-2zM22 35l-6 3-5-2 0-2 6-6 4 1zM22 104l-6 0-4-4 0-2 8-4 1 1 1 9zM106 177l-1 8-2 1-7-6 0 0 10-3zM157 181l9 18 3 30-13 283-4 0-7 0-1-27 6-293 6-11zM13 110l-1 0-7-5 0 0 7-5 4 4zM240 114l-5-3-1-4 4-3 4 1 1 8zM207 123l-4 8 4 3 6-1 0-1-5-9zM240 114l-3 6 1 0 8 4 2-4 0-4-2-2-3-1zM15 55l0-3-3-4-2-1-1 1-5 7 3 4 1 0zM18 58l-3-3-7 4 5 6 3-1zM232 128l5 0 2 2-1 7-1 0-3-1-3-5zM19 115l1 1-6 4-4-2-1-3 3-5 1 0zM37 156l-2-3 3-6 7 2-2 5zM98 135l-3 8-5-4 1-4 7-1zM38 164l7-1 1 0 0-6-3-3-6 2-1 6zM206 147l5 6-5 4-4-1 1-8zM24 124l-4 4 2 8 6-2 2-6zM52 162l2-5 2 0 5 5 0 1-6 3zM3 39l-3-3 0-4 7-2 4 4 0 2-2 3zM20 73l-3 0-3 8 8 1 1-2zM38 164l0 6 3 4 4 0 2-4-2-7zM12 128l-6-1-3-4 7-5 4 2 0 6zM23 12l-1-5 1-2 5-1 4 6-5 4zM-92 49l85 11 8-6-3-7-11-3zM213 153l3-3 5 2 1 5-6 2-1 0zM3 123l-2-7-6-2-7 3 11 6zM77 182l-2-1-8 2-1 2 4 11 7-13zM57 174l1 1 0 8-9 0-1-1-1-6zM238 144l5 3 4-2 2-7-1-1-1 0-9 0-1 0zM253 92l308-9 0 25-287 0-18-4-6-6zM45 163l2 7 8-2 0-2-3-4-6 1zM184 183l3 0 2 1 7 20 0 4 4 301-44 3 13-283 9-38zM230 145l-5 2-4-6 0-1 3-2 4 1zM20 0l-8 3-1-4 9-19 2 9zM230 145l-5 2-1 3 4 3 5-2 0-5zM30 152l-1-1-6 0-2 5 4 5 2 0zM30 163l-2 7-3 0-5-3 0-2 5-4 2 0zM248 156l-5-6 0-3 4-2 9 5zM224 159l4-1 3 3-1 5-6 1-2-2zM52 222l-9 136-4 151 2 0 43 2-14-315-4-11-8-1zM229 180l0-5-5-3-3 2 0 6 4 2zM210 175l2 0 5 6-1 3-5 1-4-3zM12 3l0 0-1-4-5-2-6 4 0 1 6 4zM16 157l0-8-6 0-1 5 6 4zM49 183l3 39-9 136-4-154 5-20 4-2zM241 167l4-2 1-6-9-1 0 0 2 8zM194 181l-5 3 7 20 2-21zM-1 140l-19-5-292 0 1 23 235-2 75-7 0 0zM-1 24l7-2-4-7-6 4zM237 158l0-2 6-6 5 6 0 2-2 1zM240 176l4 5 4 0 1-1 1-6-2-1-5 0zM274 166l195-12 90-1-1 25-7 40-302-38 1-6zM245 165l3 2 7-4-7-5-2 1zM20 178l0 0-4 3-8-5 0-1 2-4 5 0zM0 153l-3 8-73-5 75-7zM15 183l-7 2-4 8-19 308 0 0 20 2 16-304zM8 185l-4 8-6-11 1-2 7-2zM11-1l-5-2-6-317 30-4 0 11-10 293zM22 180l3 6 6-2-1-7zM239 176l-3 6 4 4 4-5-4-5z"/></g>
<g filter="url(#bl2)"><path d="M-2 126L39 111L74 103" stroke="#ee84c8" stroke-width="9" opacity="0.75" fill="none" stroke-linecap="round"/><path d="M2 77L34 27" stroke="#ee84c8" stroke-width="6" opacity="0.7" fill="none" stroke-linecap="round"/><path d="M88 45L107 66" stroke="#ee84c8" stroke-width="5" opacity="0.55" fill="none" stroke-linecap="round"/><path d="M205 160L250 118" stroke="#ee84c8" stroke-width="7" opacity="0.7" fill="none" stroke-linecap="round"/><path d="M198 107L205 139" stroke="#ee84c8" stroke-width="5" opacity="0.55" fill="none" stroke-linecap="round"/><path d="M39 133L42 181" stroke="#ee84c8" stroke-width="4" opacity="0.45" fill="none" stroke-linecap="round"/><ellipse cx="182.2" cy="120.8" rx="5" ry="5" transform="rotate(0 182.2 120.8)" fill="#fbf4fb" opacity="1"/><ellipse cx="171.9" cy="170.4" rx="3.5" ry="3.5" transform="rotate(0 171.9 170.4)" fill="#fbf4fb" opacity="1"/><ellipse cx="166.2" cy="154.2" rx="2.5" ry="2.5" transform="rotate(0 166.2 154.2)" fill="#fbf4fb" opacity="1"/></g>
<g fill="none" stroke-linecap="round" filter="url(#bl06)"><path d="M117.0 46.0l-1.3 0.0M147.4 22.0l0.0 1.4M125.2 6.3l-1.2 0.7M112.4 75.0l-2.7 0.9M116.6 95.9l1.6 0.0M92.7 77.9l-0.9 0.6M110.8 126.5l-1.2 1.8M151.8 108.1l0.5 0.5M101.9 118.2l-0.0 0.8M62.5 15.9l0.1 1.0M69.7 94.6l0.2 0.6M216.4 84.2l-1.5 1.6M62.6 7.0l1.1 0.8M190.3 126.2l0.5 1.6M232.3 30.6l-0.6 0.0M51.5 33.7l0.3 1.3M72.2 124.8l2.0 1.0M44.8 1.9l-1.5 0.9M85.3 113.9l-0.0 2.7M248.3 93.3l-1.6 2.1M29.8 60.4l-2.1 0.5M253.2 2.5l2.0 0.1M138.5 176.3l-2.4 0.1M49.2 124.2l-2.4 0.3M65.4 150.9l0.7 0.9M24.4 -0.9l-0.1 0.8M43.3 167.6l-1.9 1.2M27.4 139.4l0.0 0.3M-2.0 133.0l-1.9 1.8M4.6 143.5l-1.4 1.1" stroke="#a03cb8" stroke-width="6"/><path d="M149.5 61.5l-0.0 0.4M132.8 -3.9l0.4 1.6M153.0 70.3l1.4 1.0M134.2 70.8l-0.1 2.5M100.0 2.6l2.3 0.1M175.1 11.1l-0.6 0.6M78.7 29.7l0.2 2.0M103.6 125.8l1.0 0.6M97.8 123.7l-0.3 0.2M76.5 61.1l-0.4 0.3M121.7 150.4l-1.6 1.5M208.8 23.4l2.3 0.7M228.5 12.7l-1.3 0.4M126.6 185.9l-1.4 1.1M29.2 123.0l0.4 0.9M109.6 182.4l-1.3 0.2M23.8 91.8l2.7 0.3M198.7 151.0l1.7 1.3M248.2 100.6l1.4 1.9M37.3 121.2l-0.5 0.1M-1.6 41.4l1.9 0.5M91.5 183.4l0.2 1.3M30.3 156.5l1.7 2.2M242.1 139.6l1.9 1.4M25.6 165.1l-2.4 0.4M51.2 171.5l0.6 1.5M197.6 178.8l0.4 0.1" stroke="#b058c0" stroke-width="6"/><path d="M114.7 53.2l-1.8 0.7M144.5 77.9l0.5 1.9M110.2 68.8l1.0 0.3M158.6 11.2l-0.2 1.0M190.6 44.3l0.4 1.7M199.1 52.8l1.3 0.3M90.7 92.9l-0.9 0.7M78.3 95.7l2.7 0.5M208.7 76.3l0.6 2.0M65.3 99.0l-1.1 1.6M56.7 89.7l-0.2 0.4M130.4 144.0l2.2 1.0M53.4 118.9l0.9 2.2M62.5 108.6l1.4 0.6M60.0 138.8l1.8 0.3M190.4 104.0l1.0 0.6M43.2 46.7l-2.0 1.8M68.8 130.3l1.7 1.4M182.0 151.3l0.5 1.1M42.8 138.3l-1.9 0.4M26.9 104.7l2.3 1.2M61.3 145.3l0.3 0.2M116.5 167.1l0.1 1.6M34.6 139.9l0.6 0.2M249.6 131.6l-0.5 0.0M205.4 170.0l-2.0 0.3M247.5 150.5l1.5 0.5M46.4 187.7l0.3 0.5M-3.9 14.4l1.8 0.8M248.1 162.2l0.4 2.1M244.6 185.0l-0.2 1.8M20.3 171.0l0.1 0.7" stroke="#a848bc" stroke-width="6"/><path d="M169.4 85.5l-1.5 1.7M176.3 22.1l-1.8 0.6M87.9 43.4l2.8 0.5M64.9 44.6l-1.0 1.5M38.0 29.2l-1.8 0.5M99.8 175.4l0.5 0.3M23.8 98.2l1.3 0.2M40.0 150.8l0.4 0.2M6.6 131.9l0.6 0.4M34.7 173.6l0.6 1.2" stroke="#9430b0" stroke-width="6"/><path d="M145.1 34.8l-1.8 1.5M126.4 13.7l1.3 0.5M128.8 41.9l0.9 0.1M158.8 51.3l-0.7 0.2M116.7 60.3l1.1 0.8M116.8 5.9l2.6 0.5M169.6 24.7l0.2 1.2M97.8 83.0l1.7 2.0M124.8 87.2l-0.2 0.3M95.2 7.5l-1.1 1.6M90.2 3.0l1.5 0.2M182.9 79.3l-0.3 0.5M77.7 11.1l-0.2 0.4M93.5 84.0l-2.1 1.3M85.7 37.4l0.5 0.3M177.3 84.6l-0.4 0.6M126.7 124.1l-1.3 0.4M71.6 22.4l-1.5 0.1M217.0 66.8l0.5 0.4M173.2 103.7l0.1 1.8M87.5 106.8l2.7 0.5M76.3 79.6l-0.7 1.7M114.3 131.9l0.7 0.6M154.3 132.1l-0.3 2.6M228.7 41.8l-0.4 2.3M136.6 149.1l0.2 2.3M92.2 116.3l0.2 1.2M65.6 -1.7l0.5 0.9M206.1 28.8l-0.1 0.6M46.4 14.1l1.7 2.0M125.4 161.4l1.1 1.3M84.4 123.6l1.5 1.2M164.1 139.8l1.2 0.7M224.6 64.0l1.7 2.0M229.5 80.2l0.4 1.0M53.0 82.1l-0.8 2.3M238.5 53.9l-0.5 0.6M217.7 16.5l0.2 0.3M55.1 62.1l2.2 0.6M70.8 118.1l0.8 1.1M241.9 78.5l-0.2 0.6M64.3 125.2l0.1 0.4M57.3 128.7l-1.5 0.4M95.4 111.1l0.0 0.6M148.6 153.6l-1.9 1.2M156.4 152.4l-0.6 0.3M90.8 157.6l-0.2 1.1M48.1 67.2l0.3 0.8M48.4 89.6l-1.6 1.7M82.3 152.3l-1.2 0.1M241.5 28.6l-0.5 0.1M246.7 71.2l1.7 1.8M206.8 89.5l-2.2 1.3M203.5 117.7l2.7 0.3M110.7 173.8l1.6 2.2M35.0 80.6l-0.0 0.3M242.1 14.0l-1.5 0.6M135.2 169.0l1.1 1.3M35.3 87.4l1.0 1.4M106.7 153.4l-2.4 1.3M148.1 167.5l-0.8 1.2M217.9 120.3l-1.5 0.8M233.9 36.5l1.9 0.4M242.5 100.8l-2.3 0.4M140.1 154.8l1.5 0.8M48.7 130.5l1.1 1.7M232.0 89.2l1.0 1.3M193.2 142.0l-0.9 2.1M44.3 118.3l-0.1 0.8M119.0 183.8l-1.6 1.1M233.9 123.5l-0.4 1.8M244.3 106.9l1.5 0.6M14.3 92.0l-0.8 0.7M33.0 3.7l1.9 0.7M98.6 186.2l-1.0 0.0M0.5 111.4l-0.1 0.3M240.2 124.7l0.1 0.7M13.6 114.1l-0.4 1.8M-4.8 34.2l-0.6 0.8M23.9 146.6l0.4 0.7M-1.9 78.9l0.1 0.9M16.9 17.3l-1.1 2.6M-1.5 118.0l0.1 0.7M228.3 127.6l-0.9 0.3M19.7 39.9l0.5 0.0M62.1 188.7l0.5 0.7M235.1 163.5l-0.8 1.1M70.7 178.5l-1.0 0.5M200.7 184.9l0.2 1.9M236.1 150.3l1.6 0.0M10.8 138.0l-1.1 0.5M-6.3 142.8l1.1 2.1M244.5 176.3l0.3 0.6M14.4 145.6l-2.5 0.3M10.9 181.2l-0.6 0.2M-3.6 185.3l-0.2 2.1M27.0 180.5l1.3 1.9" stroke="#a03cb8" stroke-width="5.5"/><path d="M134.2 37.6l-0.2 0.3M137.2 43.7l-1.5 0.7M125.0 21.4l-1.2 1.5M151.7 32.4l-0.1 0.3M147.6 7.5l0.8 0.4M114.3 20.3l1.1 1.7M149.0 83.7l-0.2 0.4M109.7 29.8l-1.5 1.7M104.5 78.7l-0.1 1.9M176.5 56.2l-1.3 0.3M92.7 58.4l1.5 1.1M112.0 82.7l-1.6 2.3M96.9 70.7l0.0 1.1M97.7 37.6l0.0 2.0M110.0 1.7l1.2 2.0M165.5 73.4l1.2 1.7M88.5 71.5l-0.5 0.9M191.6 52.6l1.4 0.4M155.5 97.8l-1.0 2.3M198.6 63.5l-2.1 0.4M78.1 19.3l-1.2 0.7M195.0 31.9l-0.1 1.9M110.6 102.5l0.3 0.7M207.4 64.5l2.4 0.7M185.7 6.1l-1.2 0.2M199.8 42.3l1.1 0.6M179.6 99.8l-0.9 1.3M188.7 10.5l2.1 0.2M146.7 126.4l-0.4 0.5M225.2 55.9l-1.8 1.9M114.9 138.5l-0.8 0.7M101.0 110.5l1.6 0.4M67.3 57.0l0.1 0.4M90.2 142.9l-1.6 0.1M181.5 107.9l1.9 0.1M166.6 105.9l-1.4 2.3M176.9 130.6l-1.1 0.4M62.6 51.6l-1.6 1.8M164.6 124.7l-0.3 0.4M125.8 146.6l-0.1 1.3M63.2 79.2l1.0 0.3M215.6 93.5l0.8 0.1M217.6 40.8l1.5 2.2M230.1 -1.5l-1.3 0.0M193.3 93.7l-1.1 0.6M77.0 114.9l1.0 1.1M100.7 159.0l1.5 1.0M212.4 59.4l0.8 1.5M224.5 18.9l-0.4 0.3M220.8 71.9l0.9 1.0M244.6 20.8l1.2 1.4M246.3 61.3l-1.4 0.2M27.2 21.9l2.1 0.1M32.7 55.1l1.0 1.0M126.5 176.3l-1.8 0.6M39.3 101.4l1.0 0.6M30.3 73.3l2.3 1.1M36.3 43.3l1.5 0.9M55.3 140.2l-0.9 2.3M154.9 175.4l-2.3 0.5M18.8 108.4l-1.8 1.7M49.4 143.4l-0.8 0.5M78.4 170.0l-0.4 0.5M81.4 161.1l-2.2 1.5M33.8 131.0l-1.7 1.0M167.6 146.0l-0.8 0.3M-6.2 95.2l1.7 0.2M190.8 165.0l-2.4 1.1M205.4 152.2l1.8 0.7M49.4 159.0l0.2 0.3M42.5 144.6l0.0 0.6M12.5 40.7l1.4 2.1M6.0 16.2l0.6 0.2M18.4 141.0l-0.2 0.5M34.2 167.0l-1.5 1.2M219.4 168.1l0.8 1.9M7.0 110.6l0.5 0.1M217.1 175.2l0.4 1.8M190.6 178.0l0.4 2.3M196.8 157.9l-0.4 1.0M2.8 26.8l-0.1 0.4M-5.8 67.6l-0.2 0.3M253.6 156.9l-0.8 0.1M-7.1 5.2l1.8 0.6M254.5 135.9l-1.0 0.5M2.9 -5.3l-2.5 0.5M-5.2 -3.3l-0.4 2.4M5.7 149.9l0.3 1.6M77.4 188.2l0.1 0.3M-4.3 172.0l0.6 0.4" stroke="#a848bc" stroke-width="5.5"/><path d="M129.4 31.0l-1.2 1.2M137.5 19.1l0.4 2.0M149.9 13.8l0.1 0.5M149.8 -1.9l-0.7 0.6M156.1 4.8l-1.8 0.0M180.6 36.7l-2.3 1.0M167.6 65.0l-0.9 0.3M168.7 15.0l1.6 0.8M184.3 41.9l-1.5 0.1M189.6 70.5l1.3 0.2M105.9 104.5l-2.3 0.5M146.6 112.2l0.5 2.4M208.3 54.7l-1.1 0.9M97.4 98.0l1.9 0.0M85.5 100.2l-1.0 1.8M66.7 86.1l-1.6 0.5M225.1 87.4l0.3 0.5M79.1 140.1l2.7 0.5M198.6 100.6l1.0 0.9M236.5 67.8l-1.4 1.3M78.8 109.0l-1.5 0.3M107.3 168.6l2.0 1.5M60.5 119.5l-0.6 1.3M185.3 137.9l0.9 1.2M40.9 12.3l-1.6 1.1M42.0 25.8l2.6 0.4M223.2 3.2l0.3 1.5M236.2 -6.4l1.9 1.9M193.4 135.7l0.7 2.2M166.9 158.1l-2.1 1.7M49.2 77.4l0.0 0.5M224.8 -4.8l-1.8 0.3M39.2 113.0l1.7 1.3M49.7 27.6l-0.1 0.3M175.6 160.2l0.6 0.5M223.1 121.6l1.5 2.4M101.4 168.9l0.4 0.4M17.4 33.8l-0.4 0.1M24.3 15.3l-2.2 1.4M16.4 131.4l0.6 2.0M65.9 172.7l0.8 0.9M183.7 178.2l-0.9 1.0M-3.7 51.7l-0.5 2.4M217.9 154.2l0.5 1.5M24.7 154.7l0.9 1.8M-6.0 22.5l-0.0 1.9M221.0 160.2l-2.0 1.4M185.9 170.8l0.6 1.7M7.0 0.7l-0.5 0.6M206.8 187.6l0.3 0.9M19.5 152.0l-1.1 0.7M228.8 184.7l0.1 0.3M-5.3 165.3l-0.4 1.6M1.9 174.8l-0.8 1.5" stroke="#b058c0" stroke-width="5.5"/><path d="M161.3 39.2l2.2 0.2M117.1 84.9l0.5 1.0M111.8 8.8l1.9 1.4M185.2 34.1l0.2 0.5M115.8 112.0l0.2 2.3M82.7 24.1l-0.1 0.7M110.2 61.4l1.4 0.6M172.1 1.2l1.7 1.4M218.6 54.5l-0.6 1.0M61.0 72.9l-1.7 2.1M220.1 31.9l0.4 0.6M243.1 38.9l-0.3 1.0M205.1 46.6l-0.9 1.5M205.3 109.1l1.1 0.6M52.3 4.4l0.7 0.2M170.7 151.2l1.3 0.4M52.8 95.6l-0.3 0.9M233.7 74.6l1.8 1.0M36.3 -2.8l0.6 0.2M176.7 174.0l-0.2 0.4M47.8 152.3l-0.7 0.8M33.2 146.5l0.5 0.5M185.5 187.9l-1.2 0.7M19.1 9.1l0.9 2.4M29.9 -4.7l0.7 0.3" stroke="#9430b0" stroke-width="5.5"/><path d="M135.4 28.1l-1.5 0.7M132.7 22.2l-2.2 1.5M147.8 40.7l0.3 0.2M142.3 56.8l-1.0 1.2M126.7 46.9l-0.4 2.0M150.3 50.9l-0.0 0.4M147.9 67.5l-0.4 2.6M172.7 32.0l0.2 2.7M107.3 19.5l-0.7 0.2M134.5 83.3l-0.8 0.2M179.1 62.8l-1.4 0.0M105.5 49.3l1.1 1.6M108.3 39.0l-1.8 1.8M174.6 77.6l-1.8 1.9M185.1 26.5l1.2 2.0M154.1 19.9l-2.0 0.1M122.8 113.6l2.2 1.1M84.4 84.3l0.5 0.5M83.9 52.9l-0.6 1.7M77.4 -1.4l1.1 0.5M162.8 -6.6l0.0 1.1M76.5 53.2l0.6 0.8M83.5 45.6l-0.6 1.4M199.6 80.8l-0.9 1.6M103.1 132.2l0.1 2.2M68.1 37.6l0.4 1.3M130.9 130.4l0.8 1.2M202.5 -3.1l-1.9 0.1M68.7 48.9l1.7 0.1M77.6 89.0l-0.7 1.9M209.1 3.4l-1.7 1.7M162.1 134.4l-0.6 0.1M187.1 115.9l0.3 0.2M100.9 138.5l-1.6 1.9M225.9 36.5l-2.1 0.9M194.9 -5.5l1.2 0.3M229.9 95.8l-0.2 0.7M195.3 119.3l-2.0 0.5M147.1 144.9l-0.3 2.1M184.2 126.5l-0.2 0.4M112.8 162.5l-2.0 1.3M74.2 136.4l1.5 1.3M212.2 11.2l-1.2 1.9M245.9 84.0l-0.6 1.0M144.4 161.6l2.4 1.2M251.2 47.8l-1.0 1.9M30.5 47.4l-0.1 0.6M229.7 109.4l2.2 0.4M153.4 164.6l1.4 0.0M142.4 185.9l1.8 1.7M162.2 182.8l-0.8 2.5M234.2 102.3l0.7 0.2M174.2 184.3l-1.4 2.2M17.3 83.9l1.3 1.4M245.4 53.4l0.6 2.3M157.4 186.4l-2.4 1.2M7.4 98.8l-2.1 1.4M94.5 137.0l-0.6 0.8M41.5 157.6l0.8 2.6M9.8 85.0l1.3 2.0M77.6 176.5l-0.7 0.4M52.1 187.2l1.6 0.5M63.3 178.8l-0.2 1.6M19.1 3.8l-1.9 0.9M42.7 179.2l-2.1 0.8M224.7 176.6l0.2 1.2M211.3 180.1l2.0 0.9M35.0 180.2l-2.4 0.3M244.7 168.8l0.4 0.1M254.1 176.6l0.7 0.6M4.2 168.4l0.4 1.8M30.7 188.1l-1.1 0.4" stroke="#b058c0" stroke-width="5"/><path d="M144.0 50.7l-0.3 1.1M131.0 2.5l0.9 1.1M140.8 68.5l1.2 2.0M120.4 29.0l0.1 2.0M128.2 75.1l-0.5 1.1M133.6 93.5l2.0 1.1M185.2 54.7l-1.8 1.2M119.7 78.6l2.2 0.9M99.0 48.9l1.0 0.3M159.7 -0.8l0.5 1.7M109.5 93.7l-0.3 0.4M172.3 70.8l0.3 0.8M124.6 94.3l-1.2 1.0M166.7 -1.3l0.4 2.8M93.0 65.1l-2.4 0.7M184.2 16.8l-0.8 0.3M180.3 68.2l-0.4 1.2M85.6 -6.6l1.6 1.7M196.5 23.8l0.8 1.5M138.6 108.6l1.5 1.6M110.2 109.0l0.0 1.2M195.4 16.1l2.5 0.9M172.7 96.7l-2.3 1.5M185.7 87.0l0.0 2.4M188.4 97.8l-2.2 0.7M140.2 126.7l-0.5 0.5M139.4 132.2l-1.0 1.9M161.0 100.4l1.7 0.6M205.4 16.2l-1.1 0.5M168.2 118.9l1.8 0.4M93.6 130.9l-0.3 0.6M153.2 126.2l0.5 1.5M81.7 77.3l1.5 1.9M74.1 4.2l0.7 0.5M76.1 72.9l2.3 1.3M147.1 136.7l0.1 0.7M155.0 115.4l-0.8 1.8M107.6 120.1l1.3 0.7M219.1 -0.8l-1.7 0.9M212.3 28.6l0.6 1.8M119.0 156.9l-0.3 0.5M220.0 25.9l-1.4 0.1M38.4 19.7l0.5 0.5M178.1 136.7l2.1 0.0M130.5 153.0l-0.9 0.9M223.5 100.1l-0.4 0.6M64.6 114.6l1.1 1.7M121.9 169.4l1.1 0.9M253.4 85.7l0.4 0.2M48.4 48.0l0.5 0.0M128.5 170.2l0.4 1.1M43.0 39.2l2.5 0.7M95.7 165.5l-1.5 1.5M247.2 13.3l1.2 1.3M20.7 53.9l0.3 1.8M213.2 125.1l1.2 1.8M63.9 131.8l-1.8 0.0M31.6 99.9l-0.0 0.5M36.8 70.1l0.4 1.7M74.0 158.6l-1.2 0.0M26.9 68.4l-0.9 0.4M214.2 142.1l1.1 0.3M5.4 42.0l1.4 1.4M210.5 147.7l2.0 1.3M60.0 155.8l1.8 1.8M18.7 78.1l-0.2 0.3M24.6 8.7l2.6 0.9M241.6 132.9l2.7 0.0M52.0 177.6l1.7 1.4M253.2 96.6l1.3 1.6M50.2 165.7l0.5 0.6M252.2 142.2l1.1 0.2M231.3 154.5l-0.1 1.8M10.1 8.9l-0.4 0.0M220.2 147.1l0.4 0.0M7.9 157.4l1.0 2.5M-5.2 106.8l-1.7 2.1M194.0 184.7l0.2 0.8M0.8 18.9l-0.4 2.5M242.8 155.4l-0.1 0.5M14.5 166.5l1.1 0.1M2.4 157.9l-0.6 0.6M236.3 185.9l-2.7 0.1M9.7 -5.5l0.0 0.8M252.0 168.9l-0.6 0.7" stroke="#a848bc" stroke-width="5"/><path d="M142.2 14.9l1.0 1.1M141.6 6.5l-0.6 0.7M156.0 39.5l0.5 1.4M122.5 54.1l1.1 0.3M159.6 16.9l0.0 2.7M128.4 68.8l-1.9 0.4M167.8 56.4l-0.6 1.5M160.7 61.1l1.3 0.7M139.0 77.6l-1.5 2.3M98.7 13.3l-1.2 0.7M188.9 64.1l0.2 0.4M159.7 68.7l0.4 1.1M124.7 105.6l-2.3 0.7M131.8 110.1l1.3 0.3M78.3 40.2l0.8 0.4M82.0 63.2l2.0 1.6M190.7 37.7l-0.3 2.3M133.6 118.8l-2.7 0.0M178.4 -4.0l1.1 2.6M76.4 46.2l0.3 0.6M201.3 33.2l-0.2 0.3M122.7 129.7l1.9 1.9M189.0 -2.3l-0.2 1.7M169.3 130.8l1.4 0.5M128.5 137.5l-0.0 0.5M203.0 68.2l-0.2 1.3M175.5 110.8l1.3 1.0M58.3 40.7l0.4 0.3M120.2 138.5l1.6 0.6M64.0 28.4l1.1 1.8M223.3 48.1l-0.4 0.8M156.4 142.5l-1.0 0.5M106.6 142.4l2.1 1.2M102.5 147.6l-0.6 0.4M68.3 74.6l0.1 0.8M217.5 6.6l-0.3 0.3M234.8 45.0l-0.6 0.5M230.7 60.5l1.6 0.4M63.3 21.8l1.4 2.4M162.2 148.4l-0.9 1.8M112.3 153.7l1.1 1.0M182.2 142.8l-1.2 1.8M51.0 55.6l1.6 0.6M82.3 131.7l0.7 0.7M232.2 7.4l0.0 1.7M44.0 72.2l-1.0 0.4M85.6 162.3l1.6 1.3M43.2 62.2l0.4 0.1M59.7 33.8l-0.3 0.1M251.0 19.0l0.9 0.1M247.0 5.1l1.0 0.1M253.7 -4.4l-0.1 0.8M133.4 184.3l1.0 1.1M40.0 126.7l0.8 0.4M225.6 116.5l0.8 0.5M191.6 149.2l-0.6 0.2M250.4 39.6l-0.3 0.8M45.7 98.0l0.1 1.1M209.5 138.2l0.3 0.3M19.0 61.9l2.4 1.5M186.8 157.3l1.0 2.5M160.9 175.0l-0.9 1.1M251.7 110.0l-0.3 1.2M72.4 166.3l0.7 1.2M233.2 116.1l1.1 0.0M11.1 104.9l-1.1 0.7M59.9 168.1l-0.2 0.6M180.4 168.0l-0.0 0.3M194.2 171.7l-2.0 0.8M25.8 129.1l-1.3 1.2M55.1 161.0l0.7 0.7M-1.2 101.0l2.0 1.9M3.3 49.9l0.3 0.2M197.6 165.2l-2.3 0.0M21.9 22.5l0.5 2.0M70.6 185.4l2.1 0.5M228.4 169.3l-0.2 1.5M84.2 168.5l1.5 1.1M227.4 162.3l-2.0 0.9M205.1 176.1l-0.7 0.8M234.4 177.1l-1.1 1.0M25.6 175.0l0.2 0.5M241.3 161.2l1.0 1.8M40.4 185.7l-0.1 0.9M214.7 187.7l-1.3 0.9M-7.2 178.4l2.4 0.1" stroke="#a03cb8" stroke-width="5"/><path d="M121.6 -4.1l0.2 0.4M162.7 28.7l0.6 1.8M116.5 14.4l0.4 0.9M106.2 58.6l-1.6 0.2M115.0 36.2l1.4 2.1M140.7 85.1l-0.3 0.4M104.3 64.8l-0.9 1.1M93.4 29.8l-1.1 2.0M144.0 102.0l1.8 0.2M194.4 75.3l-0.1 2.2M189.7 20.7l1.0 2.5M83.4 12.9l2.5 0.7M99.1 55.7l1.0 1.3M69.3 12.7l-0.5 0.2M194.8 2.8l1.1 0.9M114.7 147.1l2.4 0.5M230.1 51.6l-0.1 0.7M64.9 66.3l-0.5 0.4M212.4 -3.4l-0.2 0.9M55.7 14.4l-0.6 1.4M241.1 46.3l-0.2 0.5M52.0 42.5l-0.5 0.0M215.9 99.6l-0.0 0.7M41.9 79.2l1.2 1.6M55.6 -2.6l-2.1 1.0M158.2 158.6l-0.7 1.9M231.9 20.6l-1.9 0.2M120.1 176.6l-1.8 0.2M218.8 133.2l0.3 1.4M25.2 75.1l-0.9 1.5M101.4 181.1l1.7 0.7M107.4 188.7l-0.5 0.6M15.3 -2.4l0.3 0.2M224.6 153.8l0.4 1.8M13.4 152.1l-1.9 0.1" stroke="#9430b0" stroke-width="5"/><path d="M134.3 50.3l-0.3 0.7M122.2 39.1l-0.3 0.6M156.4 27.2l-1.2 0.3M121.2 69.3l-0.1 1.8M166.6 50.4l0.9 0.9M176.0 23.4h0M117.0 86.6h0M166.5 7.5l-2.0 0.5M107.1 -6.5l0.5 2.6M183.8 33.3h0M207.9 36.6l2.2 1.7M217.6 56.2h0M63.2 44.4h0M209.3 84.2l-1.7 0.2M222.0 32.8h0M192.1 112.6l1.7 0.3M53.9 73.0l-0.6 0.2M205.3 107.9h0M35.9 30.9h0M253.1 8.9l-0.4 1.7M150.4 183.5l-0.1 0.5M30.8 16.4l1.2 0.0M25.0 99.4h0M1.4 85.3l0.0 1.1M39.2 149.7h0M46.1 152.6h0M184.5 187.1h0M20.6 9.8h0" stroke="#9430b0" stroke-width="4.5"/><path d="M134.8 14.6l-1.6 0.3M114.2 54.8h0M149.4 8.3h0M108.8 68.6h0M166.5 43.0l-0.2 2.7M104.2 71.4l-1.1 0.4M105.7 10.1l0.1 1.0M157.7 10.8h0M96.6 69.8h0M150.1 95.0l-1.0 1.3M154.8 89.1l-0.3 1.1M116.0 106.5l1.0 0.1M95.1 -3.1l0.1 0.6M102.7 89.6l-0.3 2.5M105.7 97.3l-2.1 1.5M89.1 93.6h0M160.8 114.4l0.4 0.1M78.1 95.5h0M210.1 48.8l2.5 1.1M221.3 78.4l-0.2 1.0M191.6 85.7l0.2 0.5M208.9 78.5h0M203.4 8.0l-2.2 1.1M73.1 68.3l-0.8 1.9M57.1 48.5l-1.3 1.0M208.0 96.2l-0.2 0.7M227.1 72.5l0.5 2.5M194.2 94.7h0M179.7 3.0l-0.8 1.4M132.8 143.0h0M93.9 148.5l-1.5 1.6M135.5 163.0l-0.1 0.4M234.8 82.7l1.7 0.1M212.6 106.7l-0.4 0.2M38.2 36.0l-0.2 2.0M243.8 21.4h0M244.0 61.1h0M220.2 108.6l-0.1 0.3M238.0 60.7l0.5 0.6M247.8 30.6l-0.3 0.2M253.7 77.6l-0.2 2.6M196.0 46.5l1.2 2.1M238.2 20.5l-0.4 0.0M212.9 115.0l-0.1 0.3M144.7 178.2l0.3 0.8M42.6 49.5h0M158.4 169.1l-0.2 1.1M165.7 173.9l2.5 0.2M253.0 65.5l1.4 0.6M26.2 105.8h0M196.0 128.9l1.9 1.1M18.4 99.0l-0.5 0.3M66.5 163.0l-0.4 0.0M167.0 147.7h0M53.7 151.7l0.8 0.9M36.3 140.3h0M-7.1 94.6h0M250.5 132.2h0M43.8 144.3h0M205.9 170.4h0M169.3 179.1l-0.7 2.0M246.8 150.4h0M1.5 8.1l2.0 1.1M213.9 161.9l0.0 2.8M19.5 183.9l1.2 1.5" stroke="#a848bc" stroke-width="4.5"/><path d="M143.3 27.1l0.6 1.0M149.1 22.3h0M111.8 77.3h0M173.0 39.7l-1.3 2.3M159.2 79.0l-2.0 1.8M142.9 90.0l-0.2 2.6M171.2 -4.8l0.9 0.5M161.3 89.9l1.9 0.7M83.8 2.5l1.6 0.4M87.7 20.4l2.1 1.5M115.8 120.2l2.0 1.6M202.3 74.1l-0.9 1.8M138.3 119.5l0.9 2.3M103.7 117.8h0M92.7 48.5l-0.2 0.9M96.6 90.4l-1.2 0.3M95.6 102.5l-1.3 2.1M198.9 90.5l1.1 0.0M137.5 141.3l-0.2 0.6M71.8 32.3l0.8 0.1M174.7 122.9l-0.2 0.5M214.6 84.3h0M171.2 139.6l0.1 0.3M230.8 30.1h0M125.1 163.7h0M86.7 136.5l0.0 1.1M72.7 123.5h0M52.8 22.0l1.8 1.1M240.3 78.7h0M63.2 92.4l0.1 0.9M154.7 152.3h0M89.5 158.1h0M86.9 114.2h0M246.6 71.6h0M206.5 91.0h0M248.4 95.7h0M246.3 -1.6l0.2 0.6M203.3 117.9h0M42.5 -5.4l1.3 1.3M110.2 173.9h0M41.7 92.6l-0.3 0.6M37.4 87.3h0M233.8 14.3l1.4 0.1M68.6 142.0l-0.6 2.4M49.6 130.1h0M25.9 81.4l1.6 2.1M240.8 92.4l0.1 0.5M231.3 91.2h0M43.9 32.8l-1.5 0.3M193.2 144.4h0M251.5 58.2l-0.5 0.2M64.6 152.0h0M89.8 174.1l-0.1 0.4M243.8 108.5h0M238.8 107.9l-0.2 0.3M208.7 128.5l-1.3 1.2M2.0 92.6l0.1 0.3M167.0 165.6l0.1 1.2M251.5 124.4l-1.6 1.5M17.0 68.2l-2.1 0.1M7.0 80.4l-2.5 0.9M5.5 35.2l-0.5 0.2M42.8 170.1h0M25.5 139.4h0M5.6 116.1l-0.5 1.4M17.5 17.4h0M-2.6 117.4h0M1.7 58.6l-2.3 0.8M11.2 27.4l-0.5 0.0M228.8 149.2l0.0 0.7M180.1 183.9l-1.1 0.1M221.1 184.9l-1.2 0.5M-5.0 134.0h0M2.4 143.1h0M14.7 175.5l-1.9 0.8M-4.7 154.9l-0.1 0.3M12.3 182.2h0M12.7 187.0l-1.2 0.8M240.0 180.8l-0.3 0.3" stroke="#a03cb8" stroke-width="4.5"/><path d="M148.8 60.3h0M127.0 61.2l1.6 0.0M141.0 -4.0l-0.8 1.1M133.2 63.8l1.8 0.5M132.1 -1.6h0M135.5 70.7h0M115.3 -1.8l0.7 0.4M103.0 29.4l-0.6 0.5M175.9 48.8l0.2 2.1M130.0 103.7l1.1 0.5M100.7 22.9l-0.5 0.1M179.8 92.0l-1.4 0.0M178.0 28.0l-0.1 1.1M135.4 100.3l0.9 0.1M212.1 72.1l0.7 0.0M147.9 112.2h0M148.9 120.2l-1.2 0.7M74.9 60.9h0M240.3 1.5l0.9 2.4M198.0 100.8h0M45.8 53.6l-1.0 0.9M77.5 107.8h0M225.1 3.6h0M37.1 61.9l-0.2 2.0M223.8 -3.5h0M248.0 100.3h0M38.3 121.0h0M202.4 143.4l0.4 0.3M12.6 74.9l-0.7 2.5M73.5 149.3l-0.3 0.7M-1.5 42.6h0M9.3 53.0l-0.3 0.5M82.3 181.9l0.1 2.5M231.2 140.6l1.4 0.4M1.3 68.1l-1.4 0.1M211.8 168.7l1.3 1.8M24.4 154.5h0M23.7 166.3h0M52.4 171.3h0M19.8 159.7l1.4 1.4M208.4 187.0h0M238.0 169.9l0.8 2.0M252.4 184.0l2.2 0.5M84.3 176.1l-1.4 1.1M3.1 182.6l0.3 1.0" stroke="#b058c0" stroke-width="4.5"/><path d="M133.1 36.1h0M152.8 31.6h0M146.1 78.9h0M107.7 31.5h0M184.4 56.4h0M104.1 81.5h0M177.1 55.6h0M92.3 58.0h0M161.1 1.1h0M96.3 38.1h0M111.4 1.8h0M167.9 1.4h0M167.2 73.4h0M191.3 52.3h0M155.6 97.6h0M195.7 63.9h0M180.5 67.5h0M200.7 54.2h0M195.4 15.4h0M186.1 6.8h0M184.5 88.0h0M141.2 128.0h0M180.3 100.0h0M146.0 128.0h0M224.9 56.0h0M183.8 108.1h0M164.5 107.7h0M177.9 130.4h0M65.8 99.4h0M164.8 126.2h0M126.6 146.6h0M57.8 88.6h0M39.9 20.8h0M222.8 101.5h0M66.4 115.2h0M55.3 119.6h0M63.3 110.5h0M212.3 59.1h0M220.6 73.3h0M192.3 104.2h0M254.6 84.7h0M27.0 20.8h0M33.9 57.2h0M43.9 38.4h0M30.1 74.8h0M62.1 132.4h0M40.6 138.4h0M19.0 109.7h0M74.8 159.1h0M60.8 146.5h0M48.9 142.5h0M117.3 166.1h0M33.9 130.5h0M59.4 156.1h0M188.9 166.5h0M207.7 152.6h0M17.1 77.8h0M48.0 160.2h0M243.2 131.8h0M50.2 167.5h0M9.7 7.9h0M45.5 186.2h0M196.7 157.0h0M194.5 186.1h0M1.9 28.7h0M241.4 154.8h0M252.0 156.4h0M0.2 -4.4h0M248.0 162.0h0M246.2 185.5h0M0.8 158.7h0M253.3 169.3h0M19.9 170.2h0M-2.6 171.6h0" stroke="#a848bc" stroke-width="4"/><path d="M129.5 30.6h0M148.4 42.0h0M137.3 21.5h0M148.7 14.1h0M148.8 -0.5h0M152.4 70.6h0M169.9 16.5h0M184.5 26.5h0M153.8 21.4h0M102.2 1.2h0M185.2 42.1h0M191.0 72.0h0M79.1 32.3h0M102.1 134.2h0M130.3 131.7h0M209.3 54.9h0M100.2 97.7h0M104.1 124.4h0M98.7 123.3h0M77.2 88.6h0M79.8 141.5h0M210.5 22.3h0M234.6 68.5h0M193.7 118.5h0M112.6 162.1h0M107.4 170.1h0M227.6 14.3h0M40.0 14.5h0M237.4 -3.6h0M212.5 13.0h0M246.8 84.3h0M50.3 77.9h0M230.5 108.2h0M125.0 185.1h0M48.8 26.7h0M162.6 182.4h0M23.6 92.9h0M201.3 150.9h0M22.2 15.4h0M90.8 185.4h0M94.2 135.7h0M29.9 158.7h0M241.3 140.8h0M221.0 161.6h0M185.8 170.6h0M19.9 151.7h0M197.0 177.8h0M5.1 167.9h0M-6.7 165.0h0" stroke="#b058c0" stroke-width="4"/><path d="M125.7 14.2h0M116.9 47.1h0M142.6 16.5h0M157.2 52.1h0M159.9 19.5h0M189.6 62.7h0M116.6 97.4h0M124.6 85.8h0M91.4 4.4h0M183.9 80.4h0M77.1 10.1h0M90.9 84.9h0M177.1 83.7h0M71.9 21.4h0M78.0 46.0h0M174.4 104.0h0M75.3 78.9h0M63.4 17.5h0M177.3 110.4h0M59.0 42.0h0M68.8 95.8h0M136.8 151.8h0M92.7 118.0h0M65.4 0.4h0M61.9 7.5h0M46.0 15.6h0M231.3 80.2h0M232.9 60.4h0M51.1 36.3h0M56.9 61.5h0M81.7 132.8h0M57.2 127.2h0M148.9 154.4h0M233.1 9.1h0M44.9 3.7h0M42.4 71.3h0M239.6 29.0h0M36.4 81.6h0M134.8 170.5h0M104.0 154.3h0M148.3 169.6h0M217.6 119.0h0M236.5 35.8h0M240.4 100.4h0M26.1 81.2h0M255.6 3.3h0M135.3 175.9h0M42.8 119.8h0M118.4 183.1h0M188.3 160.0h0M33.4 5.1h0M99.1 186.6h0M181.1 166.8h0M24.4 -2.3h0M54.5 161.0h0M197.7 164.7h0M229.7 127.9h0M21.5 40.9h0M227.3 170.5h0M86.3 169.4h0M61.1 189.9h0M236.0 164.8h0M200.4 187.5h0M-4.6 143.4h0M12.4 144.4h0M214.3 189.8h0" stroke="#a03cb8" stroke-width="4"/><path d="M163.4 30.6h0M116.4 15.9h0M104.1 58.5h0M169.6 85.0h0M113.0 11.0h0M140.0 84.3h0M114.3 113.7h0M193.6 75.0h0M85.6 14.6h0M172.5 2.9h0M69.7 13.9h0M114.9 147.8h0M53.4 43.1h0M52.9 5.7h0M170.1 150.9h0M100.3 176.8h0M23.6 74.6h0M174.9 174.6h0M32.3 146.7h0M30.9 -5.6h0" stroke="#9430b0" stroke-width="4"/><path d="M145.7 36.9h0M127.7 42.9h0M125.2 8.4h0M157.6 39.7h0M122.5 55.2h0M117.5 59.5h0M116.5 6.0h0M171.9 41.8h0M157.6 81.3h0M162.2 60.2h0M136.9 78.7h0M168.5 24.9h0M99.6 13.6h0M99.8 85.2h0M93.1 79.5h0M124.0 107.0h0M93.4 9.3h0M131.4 110.8h0M117.8 120.8h0M78.9 39.1h0M108.7 126.2h0M189.5 38.5h0M139.9 119.9h0M150.3 109.3h0M84.8 37.3h0M180.4 -2.2h0M126.2 125.6h0M97.0 91.5h0M217.0 68.4h0M198.0 90.3h0M122.6 129.8h0M90.5 106.9h0M169.6 129.9h0M127.2 137.1h0M203.3 70.0h0M113.0 132.8h0M154.6 134.6h0M120.4 139.9h0M227.7 43.8h0M174.2 124.0h0M222.2 49.6h0M106.3 142.7h0M170.5 138.5h0M191.8 128.2h0M204.4 30.1h0M68.5 73.4h0M235.8 45.8h0M85.7 125.6h0M163.0 140.8h0M226.5 65.5h0M54.0 83.9h0M87.3 135.5h0M239.7 53.4h0M217.9 17.8h0M162.6 150.3h0M113.9 154.6h0M181.9 145.3h0M71.5 116.9h0M51.8 54.7h0M65.6 124.8h0M95.5 113.2h0M87.6 164.2h0M48.2 69.1h0M43.1 63.5h0M82.7 151.6h0M59.4 32.3h0M246.7 -0.3h0M28.1 62.3h0M43.8 -3.7h0M242.8 14.1h0M246.0 4.8h0M141.5 153.7h0M69.2 144.0h0M240.0 93.1h0M254.1 -2.8h0M133.8 186.2h0M191.1 150.5h0M49.7 124.5h0M21.2 63.0h0M235.3 125.5h0M160.2 177.0h0M14.8 91.7h0M252.4 111.1h0M71.3 166.9h0M9.9 104.2h0M239.4 109.1h0M58.7 167.7h0M-0.7 110.2h0M1.6 94.0h0M167.9 167.4h0M239.0 125.5h0M250.6 123.6h0M15.2 115.3h0M194.4 172.7h0M24.8 130.9h0M4.8 80.9h0M-4.1 35.8h0M-1.0 101.1h0M4.3 51.2h0M22.5 21.9h0M24.0 145.2h0M-0.7 78.8h0M4.4 115.6h0M71.0 187.1h0M-0.7 59.0h0M228.4 151.0h0M179.1 183.2h0M219.8 184.3h0M204.1 177.6h0M71.5 179.9h0M233.3 176.5h0M237.5 149.4h0M242.6 162.9h0M11.5 138.9h0M245.1 174.7h0M40.7 184.8h0M12.6 175.3h0M13.6 187.3h0M-5.2 185.8h0M27.0 182.7h0" stroke="#a03cb8" stroke-width="3.5"/><path d="M136.0 45.3h0M123.8 21.0h0M145.4 51.1h0M142.8 69.4h0M115.8 21.8h0M119.7 31.4h0M149.0 82.7h0M127.5 74.3h0M135.9 94.0h0M121.2 77.8h0M165.9 43.0h0M104.2 72.4h0M112.8 84.9h0M172.5 69.4h0M124.1 93.3h0M90.4 65.2h0M191.5 46.2h0M184.7 15.9h0M87.9 73.3h0M95.3 -1.4h0M78.7 19.9h0M194.8 34.4h0M138.5 108.8h0M111.3 109.9h0M110.9 104.6h0M209.6 63.9h0M172.6 97.4h0M201.5 41.1h0M189.7 12.1h0M140.1 133.3h0M162.9 99.6h0M204.9 17.7h0M221.1 77.9h0M116.0 138.0h0M102.9 109.7h0M68.3 58.2h0M87.9 143.9h0M82.5 80.1h0M201.7 7.8h0M73.6 3.9h0M62.7 51.8h0M76.3 72.5h0M145.6 136.8h0M71.4 68.7h0M63.2 77.9h0M109.3 121.7h0M219.1 0.6h0M215.2 92.2h0M219.7 43.1h0M211.5 29.2h0M227.5 75.1h0M231.1 -2.0h0M120.2 156.1h0M217.7 25.4h0M77.8 116.6h0M129.2 154.0h0M100.4 160.4h0M122.1 171.4h0M134.5 162.5h0M236.5 81.4h0M213.8 107.2h0M39.3 37.9h0M223.8 20.2h0M59.6 139.8h0M47.5 49.0h0M254.5 79.7h0M96.3 166.4h0M196.9 46.6h0M124.3 177.9h0M39.8 99.9h0M247.3 12.7h0M20.2 53.3h0M213.6 114.5h0M35.6 44.8h0M70.0 132.7h0M181.2 153.0h0M158.4 168.6h0M55.0 142.5h0M32.5 100.5h0M195.5 129.9h0M36.3 71.6h0M25.3 69.2h0M214.1 141.3h0M19.6 99.5h0M79.6 171.4h0M65.3 162.8h0M81.2 162.6h0M5.1 43.2h0M212.5 149.5h0M27.1 9.4h0M11.6 41.7h0M54.0 177.9h0M5.2 15.2h0M255.3 96.6h0M18.7 142.3h0M33.9 166.0h0M169.9 180.6h0M220.9 170.4h0M8.6 109.8h0M232.4 155.8h0M218.4 176.6h0M189.6 179.7h0M8.3 160.1h0M-6.8 107.0h0M-4.2 14.7h0M1.4 8.9h0M-6.2 69.2h0M-0.3 19.1h0M13.8 165.5h0M-7.5 5.4h0M254.7 137.6h0M-3.7 -1.7h0M6.7 152.3h0M20.3 183.4h0M77.5 187.1h0" stroke="#a848bc" stroke-width="3.5"/><path d="M131.6 21.7h0M140.3 56.8h0M125.8 46.7h0M150.1 52.4h0M128.9 61.4h0M134.0 65.5h0M172.3 31.9h0M105.9 20.5h0M155.4 3.4h0M179.7 62.3h0M104.0 30.0h0M180.6 36.9h0M106.3 48.8h0M166.0 64.4h0M172.8 79.4h0M172.9 11.9h0M124.9 114.6h0M136.0 101.5h0M85.5 85.1h0M85.0 54.0h0M76.2 -1.0h0M104.0 105.9h0M162.5 -4.3h0M213.1 71.3h0M77.9 52.7h0M84.2 47.1h0M68.1 36.8h0M201.1 -4.1h0M69.4 47.8h0M85.5 99.9h0M64.4 86.9h0M226.6 88.3h0M162.8 133.6h0M185.6 116.0h0M99.5 138.0h0M119.9 152.6h0M231.4 96.0h0M147.1 144.8h0M184.1 128.1h0M58.4 120.0h0M187.3 138.6h0M42.7 27.2h0M144.5 161.7h0M249.5 49.5h0M194.2 138.3h0M38.0 62.9h0M164.2 158.0h0M30.3 48.9h0M41.3 113.9h0M155.1 163.5h0M29.9 122.4h0M109.0 184.4h0M174.4 161.3h0M236.0 102.2h0M174.5 186.5h0M225.4 123.7h0M16.9 85.9h0M102.5 170.1h0M12.9 77.3h0M244.5 54.5h0M15.4 34.3h0M156.1 188.2h0M7.5 98.7h0M15.8 131.3h0M41.5 160.6h0M10.4 84.4h0M64.8 173.4h0M182.5 177.2h0M217.0 154.9h0M-0.0 67.3h0M51.9 186.4h0M213.1 168.3h0M64.2 180.5h0M17.7 3.3h0M-7.4 23.4h0M40.6 179.1h0M211.3 181.0h0M8.0 1.2h0M33.3 181.9h0M237.6 171.5h0M253.9 178.2h0M230.6 184.6h0M29.7 189.2h0M2.0 183.7h0M0.9 174.5h0" stroke="#b058c0" stroke-width="3.5"/><path d="M121.0 40.2h0M157.1 27.4h0M163.0 37.9h0M166.4 51.9h0M115.1 35.8h0M89.5 42.4h0M166.3 8.0h0M105.9 -4.7h0M102.7 66.6h0M146.0 101.3h0M100.0 57.5h0M80.9 24.3h0M111.2 60.1h0M196.7 3.9h0M208.2 85.5h0M63.1 66.1h0M212.9 -4.4h0M60.8 72.7h0M241.4 47.5h0M241.6 39.8h0M205.8 45.9h0M215.2 99.0h0M41.6 79.3h0M159.1 159.8h0M230.4 19.7h0M52.2 97.5h0M117.7 176.8h0M34.8 -2.5h0M32.0 15.6h0M219.2 135.2h0M103.7 182.5h0M106.0 189.1h0M2.4 86.1h0M15.9 -3.4h0M7.2 133.4h0M34.6 172.5h0" stroke="#9430b0" stroke-width="3.5"/><path d="M134.7 29.4h0M139.2 -3.8h0M148.6 68.2h0M114.8 -2.4h0M132.9 82.5h0M175.2 48.7h0M108.6 40.0h0M130.4 105.2h0M100.9 24.2h0M177.8 91.0h0M178.8 27.4h0M198.3 80.8h0M149.0 121.9h0M207.9 3.0h0M225.4 37.9h0M196.2 -4.4h0M240.8 4.0h0M45.8 53.2h0M74.2 138.4h0M144.4 185.9h0M202.3 144.6h0M72.0 149.0h0M7.7 53.1h0M83.0 184.6h0M230.4 140.8h0M78.6 176.8h0M-5.6 52.1h0M223.7 176.8h0M21.7 159.7h0M244.5 167.9h0M251.9 184.5h0M84.0 175.3h0" stroke="#b058c0" stroke-width="3"/><path d="M133.2 49.7h0M120.5 -3.6h0M120.1 69.9h0M91.6 32.0h0M191.7 22.4h0M208.4 36.3h0M230.3 53.0h0M56.5 14.4h0M191.4 112.9h0M54.5 72.6h0M53.2 -1.4h0M236.2 75.7h0M252.9 10.9h0M150.7 185.3h0M224.0 155.8h0M12.7 153.6h0" stroke="#9430b0" stroke-width="3"/><path d="M135.3 14.1h0M132.1 3.7h0M100.3 50.3h0M107.0 10.6h0M110.8 94.3h0M150.4 94.8h0M153.4 89.6h0M117.8 105.8h0M87.6 -6.3h0M102.8 91.9h0M105.6 97.9h0M197.9 24.1h0M188.4 97.0h0M161.9 113.3h0M212.3 49.9h0M168.7 120.0h0M192.5 86.6h0M95.0 130.8h0M154.2 128.1h0M153.5 117.1h0M56.6 47.8h0M207.5 95.3h0M180.5 2.9h0M179.7 138.0h0M92.6 150.6h0M221.6 108.9h0M237.7 59.9h0M129.2 169.1h0M248.2 31.5h0M238.1 19.5h0M143.7 178.2h0M214.6 125.4h0M168.2 173.1h0M153.1 177.2h0M252.7 65.7h0M55.3 151.6h0M252.5 141.1h0M222.0 147.7h0M212.7 164.1h0M235.8 187.0h0M10.1 -6.4h0" stroke="#a848bc" stroke-width="3"/><path d="M142.6 27.5h0M142.3 6.9h0M129.0 69.5h0M168.5 56.6h0M141.6 91.8h0M161.2 69.9h0M171.4 -5.6h0M161.9 91.6h0M83.3 2.3h0M87.4 21.4h0M203.1 75.5h0M84.5 64.3h0M133.3 119.0h0M91.9 47.9h0M95.9 103.7h0M201.5 32.4h0M189.6 -0.7h0M137.9 142.7h0M70.8 32.6h0M63.2 28.4h0M155.5 141.4h0M101.4 147.1h0M217.0 5.2h0M64.3 24.1h0M52.4 22.7h0M62.7 91.6h0M47.6 88.7h0M250.3 19.8h0M43.1 92.9h0M233.4 14.5h0M40.6 125.9h0M224.7 117.5h0M249.1 40.0h0M43.0 31.5h0M250.6 59.6h0M46.1 99.8h0M210.1 139.4h0M89.7 175.7h0M235.0 115.6h0M209.2 128.8h0M17.2 67.6h0M5.0 34.2h0M12.0 27.5h0M227.7 163.5h0M26.4 176.3h0M-4.1 154.1h0M240.6 181.7h0M-7.6 177.9h0" stroke="#a03cb8" stroke-width="3"/><path d="M124.3 21.2l-0.7 0.9M126.1 14.3l0.8 0.3M150.9 32.4h0M114.8 52.6l-1.1 0.4M114.3 20.1l0.6 1.0M117.4 6.6l1.6 0.3M156.3 5.1l-1.1 0.0M109.8 29.4l-0.9 1.0M88.0 42.7l1.7 0.3M92.6 59.2l0.9 0.6M112.1 83.8l-0.9 1.4M96.9 71.2l0.0 0.6M97.2 37.3l0.0 1.2M109.8 2.6l0.7 1.2M93.2 77.7l-0.6 0.4M190.0 44.2l0.3 1.0M88.7 72.0l-0.3 0.5M197.7 62.9l-1.3 0.2M183.0 80.1l-0.2 0.3M111.0 126.1l-0.7 1.1M91.1 93.9l-0.5 0.4M125.6 124.8l-0.8 0.2M173.6 104.5l0.0 1.1M208.6 54.1l-0.7 0.5M62.6 15.4l0.1 0.6M90.0 142.5l-1.0 0.1M166.0 106.5l-0.8 1.4M176.3 130.7l-0.7 0.2M70.4 94.0l0.1 0.4M64.1 78.8l0.6 0.2M215.6 85.0l-0.9 1.0M91.5 116.4l0.1 0.7M219.8 31.6l0.3 0.4M63.3 6.9l0.7 0.5M205.9 28.9l-0.0 0.4M47.1 14.5l1.0 1.2M84.6 124.1l0.9 0.7M164.4 139.4l0.7 0.4M192.8 94.6l-0.7 0.3M79.0 108.6l-0.9 0.2M130.1 144.6l1.3 0.6M71.6 117.5l0.5 0.7M73.2 125.7l1.2 0.6M59.6 120.1l-0.3 0.8M64.8 125.4l0.1 0.3M228.8 12.9l-0.8 0.2M63.2 109.2l0.8 0.4M96.0 110.7l0.0 0.3M40.0 13.2l-0.9 0.7M223.3 3.5l0.2 0.9M236.5 -6.6l1.1 1.1M90.2 157.4l-0.1 0.7M223.9 18.9l-0.2 0.2M47.5 66.6l0.2 0.5M60.4 139.4l1.1 0.2M81.6 151.6l-0.7 0.1M241.0 29.2l-0.3 0.1M190.1 104.2l0.6 0.4M246.3 61.9l-0.8 0.1M205.9 89.6l-1.3 0.8M247.6 94.4l-0.9 1.3M27.7 22.2l1.2 0.1M33.4 54.9l0.6 0.6M204.3 117.8l1.6 0.2M125.5 175.9l-1.1 0.3M241.8 14.0l-0.9 0.4M218.4 120.6l-0.9 0.5M42.3 47.4l-1.2 1.1M69.8 130.6l1.0 0.8M182.4 151.3l0.3 0.7M253.8 3.1l1.2 0.0M232.8 89.8l0.6 0.8M125.7 186.0l-0.9 0.7M99.5 176.1l0.3 0.2M109.9 183.2l-0.8 0.1M27.2 105.2l1.4 0.7M199.8 151.7l1.0 0.8M248.1 100.9l0.8 1.1M65.5 150.9l0.4 0.5M167.9 146.7l-0.5 0.2M-0.6 42.2l1.1 0.3M239.5 125.1l0.1 0.4M39.4 150.3l0.3 0.1M17.3 131.9l0.4 1.2M30.9 157.1l1.0 1.3M248.9 130.9l-0.3 0.0M-5.7 34.6l-0.4 0.5M47.6 151.8l-0.4 0.5M42.5 168.4l-1.1 0.7M27.0 139.4l0.0 0.2M43.0 144.3l0.0 0.4M16.6 17.7l-0.7 1.5M-2.3 118.3l0.1 0.4M12.7 40.8l0.8 1.2M185.1 188.8l-0.7 0.4M204.7 170.0l-1.2 0.2M19.2 9.6l0.6 1.5M24.5 155.3l0.6 1.1M6.5 110.1l0.3 0.1M6.9 131.2l0.4 0.2M24.6 164.5l-1.4 0.2M217.1 176.2l0.2 1.1M247.7 150.8l0.9 0.3M51.1 172.0l0.3 0.9M-1.9 133.0l-1.2 1.1M4.3 142.9l-0.8 0.6M236.1 150.1l1.0 0.0M46.3 188.5l0.2 0.3M-3.6 15.0l1.1 0.5M196.5 157.5l-0.2 0.6M197.4 178.6l0.2 0.1M2.7 27.5l-0.1 0.2M-6.4 68.3l-0.1 0.2M244.3 176.3l0.2 0.4M247.4 162.4l0.3 1.3M14.0 145.9l-1.5 0.2M9.9 181.7l-0.3 0.1M27.1 180.9l0.8 1.1" stroke="#bc70c8" stroke-width="3"/><path d="M134.0 49.9l-0.2 0.4M148.2 40.7l0.2 0.1M155.5 26.5l-0.7 0.2M138.2 19.5l0.2 1.2M140.6 68.2l0.7 1.2M126.2 48.1l-0.2 1.2M122.5 53.8l0.6 0.2M141.2 -4.3l-0.5 0.7M117.0 59.9l0.7 0.5M120.5 69.4l-0.1 1.1M172.5 39.5l-0.8 1.4M117.1 14.8l0.2 0.5M166.4 50.7l0.5 0.5M107.4 19.5l-0.4 0.1M168.4 57.2l-0.4 0.9M115.5 37.2l0.8 1.2M179.4 62.9l-0.8 0.0M160.2 61.1l0.8 0.4M143.4 89.9l-0.1 1.6M138.4 77.8l-0.9 1.4M175.2 48.5l0.1 1.3M184.8 55.0l-1.1 0.7M120.4 78.2l1.3 0.5M105.1 79.7l-0.0 1.2M108.3 38.6l-1.1 1.1M170.0 24.6l0.1 0.7M98.8 48.9l0.6 0.2M129.6 103.7l0.6 0.3M103.9 71.6l-0.7 0.3M185.6 26.3l0.7 1.2M166.0 8.2l-1.2 0.3M150.3 95.2l-0.6 0.8M112.6 9.1l1.1 0.9M140.9 85.5l-0.2 0.2M167.4 -0.6l0.2 1.7M155.0 89.4l-0.2 0.7M124.2 106.3l-1.4 0.4M184.3 17.3l-0.5 0.2M171.4 -3.9l0.5 0.3M116.6 106.8l0.6 0.1M94.2 7.4l-0.7 1.0M123.3 114.0l1.3 0.7M154.7 97.6l-0.6 1.4M83.8 2.4l1.0 0.2M179.9 67.9l-0.2 0.7M86.2 -5.7l1.0 1.0M132.1 110.1l0.8 0.2M87.4 20.5l1.2 0.9M144.2 101.9l1.1 0.1M105.8 97.0l-1.2 0.9M84.7 84.7l0.3 0.3M138.8 109.0l0.9 0.9M109.5 109.2l0.0 0.7M84.0 52.6l-0.4 1.0M93.1 85.0l-1.3 0.8M202.8 74.0l-0.6 1.1M78.1 -1.7l0.7 0.3M111.1 61.8l0.9 0.3M110.4 103.1l0.2 0.4M173.1 1.1l1.0 0.8M138.1 119.3l0.5 1.4M163.5 -5.7l0.0 0.7M213.0 72.8l0.4 0.0M199.4 41.8l0.7 0.3M185.1 87.0l0.0 1.4M76.6 53.0l0.4 0.5M187.9 98.4l-1.3 0.4M68.9 13.2l-0.3 0.1M92.6 49.2l-0.1 0.6M179.1 100.2l-0.6 0.8M70.7 22.8l-0.9 0.1M96.5 89.7l-0.7 0.2M138.7 132.6l-0.6 1.2M210.4 49.5l1.5 0.7M76.6 45.7l0.2 0.4M199.2 90.8l0.6 0.0M205.8 16.1l-0.7 0.3M168.3 119.7l1.1 0.2M146.2 126.8l-0.3 0.3M221.2 78.6l-0.1 0.6M123.4 130.5l1.1 1.1M189.4 -2.6l-0.1 1.0M169.1 131.1l0.8 0.3M127.7 138.2l-0.0 0.3M207.7 36.3l1.3 1.0M202.9 68.5l-0.1 0.8M137.9 141.7l-0.1 0.4M153.8 132.8l-0.2 1.6M72.3 32.9l0.5 0.0M217.8 55.3l-0.3 0.6M82.1 77.2l0.9 1.2M66.8 86.4l-1.0 0.3M58.1 41.4l0.2 0.2M181.8 107.2l1.2 0.1M62.8 52.4l-0.9 1.1M76.4 73.0l1.4 0.8M208.6 84.8l-1.0 0.1M229.3 51.3l-0.0 0.4M161.7 135.1l-0.3 0.1M64.9 65.8l-0.3 0.3M154.1 115.8l-0.5 1.1M56.9 49.4l-0.8 0.6M174.7 122.4l-0.1 0.3M219.5 0.1l-1.0 0.5M100.5 138.6l-1.0 1.1M106.6 142.7l1.2 0.7M207.4 97.1l-0.1 0.4M225.6 36.7l-1.3 0.5M195.7 -5.5l0.7 0.2M224.6 65.1l1.0 1.2M192.3 112.1l1.0 0.2M53.6 73.6l-0.4 0.1M243.0 38.5l-0.2 0.6M180.2 2.7l-0.5 0.9M220.4 25.8l-0.8 0.1M38.1 20.0l0.3 0.3M63.9 22.6l0.9 1.4M52.3 42.3l-0.3 0.0M52.0 4.5l0.4 0.1M162.0 149.2l-0.5 1.1M112.7 154.0l0.7 0.6M129.6 153.7l-0.5 0.5M182.6 142.7l-0.7 1.1M53.8 22.5l1.1 0.7M242.4 78.7l-0.1 0.3M51.6 55.3l1.0 0.4M42.0 79.3l0.7 1.0M82.6 132.7l0.4 0.4M75.0 137.1l0.9 0.8M57.2 128.1l-0.9 0.2M147.6 154.3l-1.2 0.7M231.7 7.0l0.0 1.0M54.6 -2.4l-1.3 0.6M43.1 71.7l-0.6 0.3M135.8 163.7l-0.1 0.3M234.7 82.7l1.0 0.1M245.2 84.2l-0.3 0.6M47.4 89.3l-1.0 1.0M144.9 162.0l1.4 0.7M158.9 158.6l-0.4 1.1M43.3 62.4l0.2 0.1M244.3 21.5l0.7 0.8M221.0 108.6l-0.1 0.2M53.1 96.2l-0.2 0.5M237.3 60.7l0.3 0.3M247.3 30.8l-0.2 0.1M247.0 -2.1l0.1 0.4M253.7 78.4l-0.1 1.5M250.6 19.8l0.5 0.1M95.7 166.1l-0.9 0.9M43.0 -4.7l0.8 0.8M196.9 46.2l0.7 1.2M41.3 93.4l-0.2 0.4M35.2 80.3h0M234.9 74.0l1.1 0.6M40.1 101.8l0.6 0.3M246.8 4.6l0.6 0.1M213.4 115.4l-0.0 0.2M30.6 47.9l-0.0 0.3M234.8 14.1l0.8 0.1M145.1 178.5l0.2 0.5M253.0 8.5l-0.2 1.0M37.1 43.5l0.9 0.6M242.3 100.5l-1.4 0.3M69.2 142.9l-0.3 1.4M63.0 131.7l-1.1 0.0M158.2 168.5l-0.1 0.7M230.0 109.3l1.3 0.2M225.4 116.0l0.5 0.3M150.3 184.2l-0.1 0.3M153.0 164.7l0.8 0.0M165.8 173.8l1.5 0.1M142.5 186.2l1.1 1.0M252.6 65.9l0.8 0.4M161.9 182.8l-0.5 1.5M251.4 58.0l-0.3 0.1M233.8 103.0l0.4 0.1M174.2 184.1l-0.9 1.3M196.1 129.4l1.1 0.6M222.9 121.7l0.9 1.4M18.8 108.6l-1.1 1.0M37.1 -3.4l0.4 0.1M209.1 138.0l0.2 0.2M17.7 84.3l0.8 0.9M187.3 157.7l0.6 1.5M202.5 143.6l0.2 0.2M218.8 134.0l0.2 0.8M245.0 53.1l0.4 1.4M89.2 174.2l-0.1 0.3M251.9 110.0l-0.2 0.7M17.5 99.6l-0.3 0.2M71.8 166.9l0.4 0.7M67.1 162.6l-0.3 0.0M97.9 185.8l-0.6 0.0M73.5 148.9l-0.2 0.4M11.5 104.9l-0.7 0.4M239.4 107.8l-0.1 0.2M54.3 151.7l0.5 0.5M208.3 128.7l-0.8 0.7M7.4 99.3l-1.3 0.8M108.0 189.6l-0.3 0.3M5.6 42.6l0.8 0.8M166.4 166.3l0.1 0.7M251.6 124.9l-1.0 0.9M14.0 114.3l-0.2 1.1M82.2 182.5l0.0 1.5M94.6 137.3l-0.4 0.5M41.5 158.1l0.5 1.6M206.2 153.0l1.1 0.4M65.9 173.1l0.5 0.6M55.2 161.9l0.4 0.4M183.4 178.5l-0.6 0.6M77.0 176.6l-0.4 0.2M19.2 78.8l-0.1 0.2M22.1 22.2l0.3 1.2M24.3 147.0l0.2 0.4M49.2 159.5h0M52.7 177.7l1.0 0.8M52.0 188.0l0.9 0.3M252.9 96.5l0.8 0.9M49.9 166.0l0.3 0.4M1.4 58.1l-1.4 0.5M212.3 169.7l0.8 1.1M11.2 26.9l-0.3 0.0M15.9 -2.6h0M33.1 167.9l-0.9 0.7M220.2 168.4l0.5 1.1M43.1 179.2l-1.2 0.5M191.1 178.7l0.2 1.4M220.1 147.5l0.2 0.0M221.5 185.3l-0.7 0.3M12.9 152.8l-1.1 0.1M24.8 174.5l0.1 0.3M-4.9 107.1l-1.0 1.3M241.2 161.1l0.6 1.1M9.8 137.9l-0.6 0.3M213.9 162.1l0.0 1.7M193.4 185.0l0.1 0.5M-5.3 144.0l0.6 1.2M243.3 155.9l-0.1 0.3M254.2 157.6l-0.5 0.1M238.9 170.5l0.5 1.2M253.5 176.5l0.4 0.4M2.6 -5.5l-1.5 0.3M6.4 150.1l0.2 1.0M14.6 175.5l-1.1 0.5M-4.5 155.5h0M30.8 187.7l-0.7 0.3M253.6 184.0l1.3 0.3M3.0 158.5l-0.4 0.4M83.4 176.0l-0.9 0.6M-5.0 165.7l-0.2 1.0M215.1 188.5l-0.8 0.5M235.2 186.1l-1.6 0.1M-3.9 186.4l-0.1 1.3" stroke="#bc70c8" stroke-width="2.5"/><path d="M133.9 50.4h0M156.5 27.4h0M154.7 27.5h0M121.8 70.2h0M120.2 69.9h0M120.8 70.8h0M116.6 14.7h0M116.5 15.9h0M168.0 51.5h0M167.3 52.0h0M167.7 52.0h0M115.8 36.1h0M115.9 36.1h0M116.2 38.3h0M88.7 43.7h0M89.6 43.6h0M164.9 8.1h0M166.2 7.3h0M112.9 9.5h0M139.8 84.2h0M145.5 102.2h0M144.0 102.3h0M110.4 62.3h0M110.7 63.0h0M171.8 2.9h0M172.0 0.6h0M171.8 0.7h0M68.9 13.0h0M69.2 14.0h0M68.9 13.7h0M209.2 37.6h0M218.8 55.8h0M218.8 55.2h0M217.8 55.1h0M209.3 85.3h0M231.1 52.0h0M64.7 66.8h0M64.8 67.0h0M65.8 65.8h0M219.4 32.7h0M220.9 33.0h0M193.7 113.3h0M192.4 113.8h0M193.8 111.8h0M53.6 73.8h0M54.3 72.1h0M53.2 73.2h0M242.2 39.1h0M242.9 39.2h0M242.7 40.3h0M51.3 43.5h0M52.1 41.7h0M52.9 42.8h0M51.8 4.4h0M42.9 80.7h0M53.9 -2.8h0M53.7 -2.1h0M157.0 159.5h0M157.0 159.8h0M157.6 159.0h0M52.4 97.1h0M52.0 96.2h0M51.4 96.2h0M235.7 74.6h0M233.5 76.3h0M254.0 10.0h0M151.3 183.3h0M100.2 176.8h0M36.9 -4.0h0M35.4 -1.4h0M36.7 -3.5h0M220.1 134.0h0M219.8 134.0h0M220.0 134.9h0M106.1 189.5h0M106.7 188.4h0M39.8 151.2h0M47.8 151.9h0M46.6 151.9h0M184.9 188.4h0M184.9 187.8h0M14.9 -1.3h0M16.4 -2.5h0M15.2 -2.7h0M19.8 11.0h0M5.9 131.2h0M8.1 131.1h0M11.5 152.5h0M12.0 152.1h0" stroke="#9430b0" stroke-width="1"/><path d="M124.0 22.2h0M152.9 32.3h0M141.2 68.5h0M112.9 54.5h0M115.6 22.0h0M115.9 20.2h0M110.1 30.4h0M184.9 55.0h0M183.8 55.5h0M121.0 80.0h0M105.3 78.8h0M98.3 48.9h0M99.6 50.0h0M102.5 72.5h0M103.3 71.7h0M93.1 58.0h0M93.2 58.6h0M94.0 59.2h0M110.5 83.3h0M95.8 69.9h0M97.1 71.1h0M97.6 38.7h0M96.8 39.4h0M97.4 38.2h0M149.4 94.8h0M149.1 95.6h0M111.5 2.3h0M111.3 1.4h0M167.3 -0.7h0M153.8 90.2h0M153.9 89.3h0M190.9 45.6h0M183.3 17.5h0M183.6 15.9h0M116.5 107.0h0M89.5 71.4h0M87.2 72.4h0M154.7 98.7h0M155.6 99.6h0M153.8 98.0h0M197.1 63.2h0M196.8 63.2h0M179.2 69.5h0M180.7 69.1h0M179.5 68.0h0M86.0 -5.1h0M103.7 97.6h0M105.1 99.0h0M139.3 108.4h0M139.2 109.5h0M110.5 109.3h0M110.6 108.8h0M112.0 103.7h0M109.7 101.9h0M110.6 102.3h0M201.2 43.7h0M199.5 41.2h0M200.6 42.9h0M186.4 89.1h0M184.7 88.7h0M90.6 93.9h0M90.8 94.6h0M187.6 97.1h0M178.4 101.8h0M178.4 99.2h0M179.4 101.2h0M139.2 132.2h0M139.1 132.9h0M211.9 49.8h0M205.3 17.1h0M169.6 119.3h0M168.1 119.3h0M145.3 126.9h0M222.2 78.0h0M220.3 79.9h0M90.5 144.2h0M88.8 141.5h0M82.9 78.8h0M82.8 79.3h0M183.5 108.5h0M183.4 108.8h0M165.3 107.8h0M166.9 107.0h0M176.6 130.2h0M177.1 129.9h0M176.0 129.7h0M63.0 52.6h0M62.4 53.1h0M62.2 52.6h0M76.8 73.8h0M154.1 115.7h0M155.5 115.6h0M63.1 79.3h0M63.9 79.0h0M64.1 80.7h0M56.0 49.5h0M56.9 49.8h0M57.0 48.9h0M217.9 -0.3h0M206.8 96.8h0M208.2 97.3h0M191.4 94.2h0M193.7 93.1h0M179.0 2.9h0M178.3 2.9h0M180.0 3.8h0M218.3 25.0h0M219.8 25.8h0M218.4 27.0h0M38.7 21.0h0M37.7 20.2h0M132.4 143.4h0M130.1 154.1h0M131.1 152.5h0M63.3 107.8h0M134.9 162.5h0M136.3 162.4h0M134.8 164.1h0M236.7 83.6h0M235.1 81.6h0M224.5 18.0h0M224.1 19.3h0M223.3 18.7h0M59.6 138.7h0M60.1 137.7h0M60.8 139.0h0M191.1 104.3h0M189.8 103.6h0M245.7 22.8h0M244.7 20.2h0M244.7 22.1h0M245.1 61.4h0M245.5 61.9h0M220.0 107.7h0M28.2 21.3h0M28.9 21.6h0M33.0 56.8h0M33.1 57.0h0M237.5 61.4h0M237.2 61.3h0M237.6 60.7h0M248.4 31.6h0M253.7 77.9h0M94.4 167.3h0M94.1 165.6h0M93.9 165.5h0M196.3 48.1h0M125.2 176.2h0M125.1 177.7h0M124.9 175.2h0M39.7 102.7h0M40.9 102.7h0M39.0 100.4h0M211.9 116.1h0M213.8 115.1h0M144.8 179.3h0M42.8 46.2h0M41.5 49.0h0M41.3 47.1h0M37.2 44.8h0M38.4 42.9h0M70.2 130.6h0M68.7 132.1h0M181.4 152.0h0M182.4 151.3h0M181.2 153.2h0M62.2 131.5h0M61.9 131.1h0M157.9 170.4h0M167.5 174.1h0M254.0 66.6h0M28.0 106.2h0M28.4 104.3h0M29.4 106.1h0M196.2 129.3h0M195.9 129.9h0M197.7 130.0h0M16.7 108.3h0M17.9 98.5h0M17.7 100.1h0M67.1 163.4h0M66.4 162.7h0M166.2 145.2h0M53.2 151.5h0M52.9 153.1h0M5.3 43.4h0M205.7 151.7h0M206.2 151.7h0M206.0 153.8h0M248.3 132.5h0M17.4 79.2h0M19.0 77.8h0M18.2 77.5h0M50.5 159.4h0M49.1 160.2h0M48.9 158.5h0M42.5 143.6h0M13.7 40.6h0M13.5 41.7h0M12.7 41.5h0M52.6 179.3h0M53.6 179.2h0M53.4 179.2h0M255.0 97.2h0M254.8 96.3h0M253.2 97.8h0M49.2 167.1h0M51.2 165.8h0M204.0 170.8h0M32.8 166.4h0M33.2 168.6h0M33.9 167.5h0M220.6 168.8h0M220.0 168.1h0M7.2 110.9h0M8.3 111.4h0M216.8 175.4h0M247.9 150.5h0M191.1 179.3h0M219.4 147.9h0M220.5 145.9h0M-6.9 106.9h0M-5.5 109.0h0M-6.8 108.0h0M47.4 189.3h0M46.2 188.2h0M-4.3 14.9h0M-4.3 16.0h0M-4.1 15.5h0M196.3 157.2h0M197.6 158.1h0M214.4 162.5h0M213.4 162.8h0M194.0 184.8h0M3.2 26.3h0M2.9 28.0h0M3.8 26.7h0M-4.7 66.6h0M-6.2 67.7h0M242.5 156.6h0M252.5 157.9h0M252.9 156.3h0M252.2 155.6h0M0.4 -4.9h0M247.1 164.3h0M5.6 150.1h0M1.0 158.8h0M1.9 159.2h0M235.3 184.8h0M235.1 184.8h0" stroke="#a848bc" stroke-width="1"/><path d="M127.2 14.6h0M128.0 15.0h0M125.9 13.2h0M122.0 54.4h0M124.0 55.1h0M117.8 60.4h0M118.5 61.2h0M117.8 61.7h0M118.2 5.7h0M118.5 6.4h0M171.9 40.0h0M173.2 40.2h0M167.6 56.9h0M160.6 62.5h0M161.3 61.0h0M161.8 61.5h0M142.9 90.2h0M139.2 79.4h0M139.0 78.3h0M137.4 79.3h0M169.1 25.6h0M170.5 25.2h0M170.1 26.2h0M93.6 77.3h0M93.4 78.4h0M91.2 79.1h0M122.4 105.6h0M124.1 106.0h0M170.6 -5.0h0M95.7 7.2h0M95.2 9.5h0M85.7 1.8h0M83.9 3.4h0M133.3 110.2h0M132.9 111.3h0M89.7 21.1h0M183.9 78.5h0M183.8 80.3h0M91.1 83.4h0M109.8 126.3h0M110.4 128.8h0M202.9 75.0h0M139.4 119.7h0M137.9 121.7h0M126.6 124.3h0M125.2 123.9h0M124.8 123.9h0M93.7 48.5h0M92.3 47.9h0M72.0 21.3h0M96.4 90.3h0M76.7 46.8h0M198.4 90.8h0M198.6 89.7h0M172.0 104.4h0M172.2 105.3h0M172.5 105.8h0M124.0 129.9h0M189.1 -0.5h0M189.8 -0.6h0M188.2 -0.7h0M170.0 130.0h0M170.6 131.8h0M169.0 131.5h0M128.1 137.9h0M203.4 69.5h0M203.9 68.1h0M201.8 69.2h0M62.6 17.0h0M137.3 141.7h0M137.0 142.3h0M154.6 132.7h0M154.0 134.7h0M72.9 31.7h0M72.5 33.0h0M58.6 41.1h0M58.0 40.3h0M58.3 40.2h0M69.7 95.0h0M69.0 93.6h0M70.8 93.5h0M175.6 122.1h0M175.2 123.3h0M217.0 85.9h0M215.5 85.7h0M216.9 85.3h0M92.0 118.2h0M108.4 143.7h0M107.1 143.1h0M106.5 144.1h0M64.6 7.0h0M204.9 30.4h0M207.1 28.9h0M46.3 15.3h0M48.2 13.9h0M47.0 14.0h0M84.1 123.3h0M84.1 125.0h0M86.2 125.4h0M164.6 139.4h0M224.3 66.3h0M225.8 63.7h0M63.5 23.0h0M63.5 23.0h0M161.3 148.2h0M112.1 153.0h0M111.9 154.2h0M181.9 144.3h0M181.8 143.6h0M72.6 119.3h0M72.5 118.3h0M72.9 126.0h0M72.6 125.7h0M74.1 126.3h0M53.5 21.6h0M242.5 79.6h0M240.5 78.0h0M242.3 79.2h0M52.8 55.9h0M52.5 56.9h0M82.4 132.6h0M64.3 124.0h0M63.6 124.1h0M55.8 130.2h0M57.7 128.5h0M57.0 128.7h0M94.4 112.3h0M94.2 111.9h0M95.1 110.7h0M148.9 153.9h0M148.5 153.0h0M231.5 8.3h0M42.5 71.6h0M44.2 73.2h0M89.7 157.0h0M91.8 158.5h0M49.5 68.2h0M47.2 67.8h0M48.0 89.7h0M44.6 61.9h0M81.1 151.8h0M240.6 29.8h0M204.7 89.2h0M206.9 89.3h0M248.4 94.9h0M246.7 95.8h0M246.9 -0.5h0M246.7 -1.0h0M205.9 116.7h0M204.1 118.3h0M205.6 116.6h0M251.1 20.3h0M44.1 -4.1h0M42.8 -5.2h0M42.8 -4.1h0M41.7 91.7h0M42.3 92.0h0M41.0 92.5h0M34.0 80.3h0M35.2 80.9h0M242.3 15.1h0M240.6 15.7h0M241.2 13.9h0M246.6 5.9h0M248.2 4.9h0M216.4 121.6h0M234.3 14.2h0M242.0 100.2h0M241.6 101.4h0M242.5 99.8h0M68.8 144.3h0M253.0 3.0h0M231.1 89.0h0M226.3 116.3h0M225.6 116.3h0M225.1 116.8h0M250.9 59.0h0M252.3 58.0h0M210.4 137.6h0M208.7 138.1h0M210.8 139.4h0M186.2 159.1h0M64.6 151.2h0M64.4 151.3h0M65.4 152.4h0M90.8 174.9h0M90.0 173.6h0M89.0 173.1h0M252.2 109.4h0M73.5 167.2h0M71.8 166.6h0M97.7 187.3h0M99.0 185.8h0M9.9 104.4h0M238.8 108.3h0M239.5 107.1h0M208.5 128.5h0M207.6 129.2h0M207.4 130.1h0M167.3 167.2h0M166.7 166.5h0M166.6 165.6h0M238.9 125.2h0M238.9 124.2h0M241.3 126.0h0M251.1 126.1h0M250.5 126.1h0M251.2 126.0h0M14.6 114.6h0M-5.2 35.0h0M56.4 161.1h0M56.5 161.3h0M22.4 24.3h0M22.4 24.7h0M42.3 169.5h0M41.2 169.0h0M42.6 168.4h0M28.8 139.5h0M26.3 140.1h0M26.3 140.0h0M24.1 145.9h0M15.3 19.5h0M17.5 17.5h0M16.2 19.1h0M-2.7 118.0h0M-1.6 118.7h0M0.7 59.0h0M12.1 26.3h0M10.7 28.5h0M221.1 185.4h0M221.5 184.3h0M219.6 186.2h0M-2.4 133.9h0M3.3 145.1h0M26.1 175.8h0M25.0 176.5h0M26.3 175.6h0M237.3 149.0h0M238.2 149.9h0M237.4 150.2h0M242.4 162.6h0M240.7 161.8h0M241.6 162.3h0M10.0 137.7h0M-4.6 143.6h0M-5.1 144.9h0M244.3 177.8h0M246.0 177.2h0M243.4 176.5h0M14.2 176.5h0M-4.2 155.9h0M12.8 147.0h0M12.6 144.7h0M13.4 144.7h0M9.4 181.9h0M11.7 181.7h0M11.0 180.1h0M214.1 187.0h0M213.7 187.6h0M214.2 189.3h0M-2.9 186.1h0M-2.9 186.0h0M-2.7 187.6h0M26.8 180.7h0M29.0 180.9h0M27.3 181.9h0" stroke="#a03cb8" stroke-width="1"/><path d="M149.1 40.6h0M147.9 39.9h0M148.4 41.6h0M137.9 19.7h0M137.4 20.6h0M138.4 19.5h0M127.1 48.7h0M127.6 48.5h0M141.3 -3.3h0M141.4 -4.3h0M107.6 20.4h0M154.0 4.2h0M154.2 5.3h0M155.1 5.4h0M178.2 63.1h0M177.4 63.9h0M179.5 63.9h0M175.1 50.8h0M108.2 39.1h0M131.3 104.3h0M129.8 103.6h0M130.1 103.7h0M186.4 28.7h0M185.9 27.1h0M123.2 113.0h0M85.6 85.6h0M84.9 83.6h0M83.9 53.0h0M83.5 53.4h0M76.8 -2.2h0M163.8 -7.1h0M163.2 -5.9h0M212.6 72.1h0M211.3 71.9h0M211.7 72.7h0M77.2 52.9h0M77.0 53.0h0M209.0 56.1h0M208.9 55.2h0M208.2 56.4h0M64.6 85.4h0M67.0 87.0h0M66.3 87.7h0M162.2 135.1h0M162.5 135.6h0M98.9 139.0h0M101.3 139.5h0M99.5 139.2h0M225.2 37.2h0M226.0 37.2h0M226.0 37.0h0M196.0 -5.5h0M194.6 -5.9h0M194.4 -4.6h0M77.4 109.0h0M77.5 108.4h0M79.1 109.2h0M59.5 119.3h0M229.1 12.4h0M228.6 11.5h0M73.8 136.4h0M40.4 13.2h0M222.5 2.8h0M222.8 5.1h0M223.5 5.3h0M237.8 -5.8h0M238.4 -4.7h0M235.9 -4.8h0M245.8 83.7h0M144.9 163.0h0M29.6 48.1h0M229.8 108.8h0M125.8 185.6h0M153.1 163.7h0M153.2 165.1h0M143.7 187.1h0M143.2 187.5h0M109.8 182.9h0M110.2 183.6h0M161.0 184.1h0M162.1 183.9h0M160.6 183.3h0M234.0 102.2h0M235.2 103.1h0M233.9 101.5h0M199.3 150.6h0M198.4 152.8h0M172.6 185.8h0M225.2 121.5h0M223.9 121.9h0M223.0 123.9h0M249.5 102.5h0M248.6 102.2h0M248.9 102.1h0M18.6 85.8h0M202.2 142.7h0M203.6 142.5h0M245.8 55.0h0M245.4 53.8h0M245.5 53.7h0M72.3 149.1h0M73.6 148.6h0M7.5 98.7h0M5.6 99.3h0M0.2 40.8h0M0.3 41.7h0M0.6 40.3h0M83.4 182.4h0M82.7 182.1h0M82.2 183.7h0M94.9 136.4h0M93.2 137.4h0M16.6 132.3h0M41.4 158.8h0M42.2 159.9h0M32.5 156.5h0M30.9 157.1h0M30.4 157.8h0M66.0 171.8h0M66.6 173.3h0M67.0 173.7h0M182.3 179.2h0M78.1 175.9h0M77.4 176.7h0M77.8 177.4h0M53.1 187.7h0M212.4 169.2h0M212.5 170.1h0M25.9 155.8h0M25.0 165.5h0M25.6 165.4h0M23.4 164.9h0M42.7 179.0h0M51.9 170.9h0M52.8 171.7h0M50.7 171.6h0M198.5 178.3h0M197.5 179.4h0M198.0 178.8h0M239.3 171.5h0M238.6 171.8h0M237.6 171.6h0M254.2 176.7h0M253.9 177.1h0M255.6 176.9h0M31.4 189.2h0M253.0 183.4h0M253.7 184.1h0M253.5 183.7h0M84.5 177.7h0M83.0 177.0h0M83.5 176.9h0M-5.7 165.6h0" stroke="#b058c0" stroke-width="1"/></g>
</svg>
<svg x="10.7" y="196.6" width="248.0" height="182.9" viewBox="0 0 248.0 182.9" overflow="hidden">
<rect width="248.0" height="182.9" fill="#f0d6ee"/>
<rect width="248.0" height="182.9" fill="#f0d6ee" filter="url(#motC)"/>
<g filter="url(#bl08)" stroke="#eed0ec" stroke-width="0.7" stroke-linejoin="round"><path fill="#d276c2" d="M40 116l-3 1-3-6 2-2 4 6zM24 109l4 5-2 3-4 1-3 0-1-6 1-2zM23 101l7-3 2 2 0 4-2 2-5 1zM22 100l-6 4 3 6 5-1 1-2-2-6zM26 117l3 5 0 3-6-1-1-6zM41 134l-6-3 0-3 3-2 3-1 3 3zM40 116l1 1 1 6-1 2-3 1-3-7 0-1 2-1zM31 86l1 6-2 3-7-3 0-1 2-3 5-2zM40 97l-3-4-5-1-2 3 0 3 2 2 7-2zM29 126l6 2 0 3-3 4-4-1-1-4zM29 125l-6-1-3 2 1 4 6 0 2-4zM50 123l-1-3-7 3-1 2 3 3 2 1zM15 96l-5-7-4 5 1 3 7 0zM22 100l0 0-7-4 0 0-1 1-1 7 3 0zM1 119l0 3 3 3 4-2-1-5-5 0zM49 70l1-5 1-1 5 5 0 0-3 3zM11 77l-7-4-3 3 0 4 0 0 4 2 6-5zM13 130l-2 7 6 0 2-3 0 0zM50 65l0 0-3-6 7-3 3 3 0 1-6 4zM40 115l2-3-3-6-1 1-2 2zM51 104l-3 1 0 6 6 2 3-2 0-4zM53 82l-5 3 2 5 3 0 2-6zM59 101l2-3 6 0 1 7-3 1-6-2zM76 101l0 1-3 3-4 0-1 0-1-7 1-2 2 0zM71 87l1-7-3-3-4 2-1 6 4 3zM3 93l-1-5 4-3 4 3 0 1-4 5zM-2 125l1 6 2 1 3-1 0-6-3-3zM16 87l5-6 0 0-7-1-1 7zM65 52l2-5-2-2-4 0-3 4 4 3zM2 88l-3 0-2-4 4-4 4 2 1 3zM50 136l-1 0-4 2-1 6 0 0 8 0 1-2zM-312 97l0-21 221 9 87 6 3 4 0 0-10 5zM52 123l4-1 1-3-3-4-5 5 0 0 1 3zM17 144l-4 1-1-1-2-6 0 0 1-1 6 0 2 5zM68 57l-3 4 0 5 7-1 2-4 0-2zM73 105l3-3 5 3 0 2-4 3 0 0zM10 124l1 5-6 2-1 0 0-6 4-2zM21 150l-1 3-5 0-2-2 0-6 4-1zM65 66l7-1 2 5-6 4-3-3 0-5zM4 70l0 3-3 3-4-4 2-4 4 0zM15 62l-2-4-6 1 0 2 5 5zM70 122l-1-2 2-4 6 2-2 5zM85 81l-8-3 1-3 4-2 4 4zM68 128l-1-2-4-2-4 1 0 2 3 3zM68 129l6 2 0-1 2-6-1-1-5-1-3 4 1 2zM4 131l-3 1 0 3 2 5 7-2 0 0-5-7zM26 57l-3-5-2-1-4 3 3 5zM-91 85l88-1 4-4 0 0-21-5-292-7 0 8zM52 123l2 6-6 1-2-1 4-6zM61 134l-3 1-2-1-1-5 4-2 3 3zM58 49l-5 5-4-3 5-5zM53 45l-4-3 0-4 2-2 6 4zM18 70l0 0-1 4 3 2 4-2 0-3zM28 162l1-1 6 0 2 4-3 3-2 0-2 0zM88 64l-5 0-1 2 1 5 7-1 1-2zM58 135l0 5-5 2-3-6 6-2zM24 164l-4-5 2-3 5 0 2 5-1 1zM61 156l1 0 2-6-3-4-4 2 0 6 1 2zM88 46l-1 0-6 4-2-2-1-3 2-3 2 0zM35 48l-2 0-3 3 1 3 3 1 4-2 0-1zM24 164l-4-5-4 3 1 5 3 1 3-1zM17 167l3 1 2 6-4 1-3-1 0-5zM42 44l0-7 7 1 0 4-3 3zM-91 85l88-1 2 4-3 3zM93 90l-3 5 0 2 6 1 1-2 0-4zM69 160l-1-3-6-1-1 0 1 6 4 2zM82 121l-3-4 1-2 3-1 3 2 1 5zM79 48l-5 3 3 6 2-1 3-4-1-2zM85 37l5 3-2 5 0 1-6-4 2-5zM74 92l-1-4 5-2 1 1 1 5-3 1zM23 52l3-2 0-5-1-1-5 3 1 4zM64 31l-4-3-3 3 4 6 4-3zM94 38l5-2 4 2 0 0-4 6-2-1-3-4zM120 87l-1 5-7 1-1-1 0-1 3-6 5 1zM26 35l2 3-3 4-6-4 2-3zM42 44l-1 7-3 1-3-4 2-4zM-46 53l45-5 1 0 0-6-7-3-237 19 2 0zM71 147l-7-5-2 1-1 3 3 4 5-1zM7 155l0 2 6 1 2-5-2-2-5 1zM119 86l-5-1-2-2 3-6 1 0 3 2zM103 106l-3-2-2 0-1 6 0 1 6-1zM95 125l0 0 3-5-5-3-5 5 1 0zM97 51l1 6 1 0 3 0 2-3-2-4zM100 104l3-6-6-2-1 2 0 4 2 2zM68 129l-1 8-6-3 1-4 6-2zM111 97l1-4-1-1-6 1-2 5 5 2zM29 176l0 6 3 2 5-4 0-3-6-2zM26 23l-4-6-4 4 0 2 6 3zM24 164l4-2 2 6-3 1-4-2zM0 159l-1-5-38-4 38 11zM81 34l-5 1-2-2 5-6 4 2zM69 160l-1-3 2-4 5 2 1 3-4 3zM53 183l-1-3 1-4 3-1 4 7-1 1zM58 167l-5 1-3 4 0 2 3 2 3-1 4-4zM0 159l6 0 1 5-6 2-1-1-1-4zM115 77l-4-1 0-5 2-2 4 4-1 4zM126 79l-2-1-3-7 1-2 7 2 1 5-3 2zM32 154l4 5 3-2 1-4-2-2zM91 18l0-1-8-4-2 6 0 0 6 3zM110 120l-5 3-3-5 2-2 6-1 1 1zM9 169l-1 2 2 5 5-2 0-5zM95 27l2-3-2-5-4-1-4 4 0 3zM69 149l-5 1-2 6 6 1 2-4zM74 17l7 2 0 0-3 7-6-2 0-5zM51 161l-1 3-3 1-4-3 0-1 3-4 3 0zM116 110l3 5-2 2-6-1-1-1 0-3 5-2zM3 29l6 1-2 6-4 1-2-4zM133 84l2-7 6 4 0 3-6 3zM90 147l1 1 7 0 1-3-2-5-2 0-5 5zM97 140l2-3 0-3-5-1-3 4 4 3zM5 179l4-1 2 2-2 22-1 3-5-25zM137 71l-6-3 0 0-2 3 1 5 5 1 2-3zM112 105l-3-1-1-1 0-3 3-3 5 3 0 2zM83 13l0 0 4-4 4 0 1 1-1 7zM114 50l3-3 2 0 3 6-1 1-6-1zM58 13l-6 0-1-2 4-6 2 0 3 4zM99 69l-1-5 0 0-3 0-3 4 5 2zM10 12l3 4 0 3-3 3-4-5 2-5zM105 65l-1-2 0-3 6-2 1 0-1 6zM38 14l-5-4-3 1-1 4 3 5 4-1zM80 149l-2 0-3 6 1 3 2 0 1 0 4-6 0 0zM68 4l0-5 6-4 2 5-2 5-4 0zM135 101l5 3 3-2-1-5-1-1-5 1zM116 110l3-3 0-3-3-2-4 3 3 5zM1 20l3 3-1 5-4-2-1-3zM39 14l5 2 1 2-3 5-6-4 2-5zM66 12l-2-3 1-5 3 0 2 1-1 6zM97 140l2 5 5-1 1-5-6-2zM95 29l3 2 5-1-1-6-5 0-2 3zM50 191l3-8 6 0-8 45zM124 52l3 3 5-2 0-2-4-5-1 0zM37 28l-5-3-3 6 5 2 3-5zM64 9l1-5-4-2-4 3 3 4zM91 9l1-7 4 1 2 2-2 5-4 0zM107 132l-1 6-1 1-6-2 0-3 1-2 7-1zM162 107l-2-4-4-2-2 2 2 5 4 1 2-2zM124 36l3-3 4 3-1 3-5 2zM60 172l5 6-5 4 0 0-4-7 4-4zM61 2l-4 3-2 0-3-4 6-4 3 3zM90 161l3-5-1-2-6 1 0 5zM154 81l0-1-3-4-6 2 0 1 3 3zM97 162l4-1 1-4-3-4-4 3zM50 191l-4-9 6-2 1 3zM133 102l-1 7 1 0 6-1 1-4-5-3zM118 128l7 2 0 3-3 3-3 0-3-2-1-1 1-3zM82 2l2-10-7-34-3 37 2 5zM35 6l-6-3 5-6 3 4-2 5zM116 102l0-2 5-4 0 0 2 5-4 3zM99 151l8-1 1 2-3 5-3 0-3-4zM35 6l6 1 2-6 0-1-6 1zM103 10l-4 3 0 2 6 4 4-6 0 0zM146 61l0 4-3 3-3-1-2-4 0-1 8-1zM154 58l5 0 1-4-2-3-2 0-3 5zM160 54l7 0 0 1 0 4-6 3-2-4zM74 13l3-4-3-4-4 0-1 6zM118 128l7 2 2-4-2-4-1 0-5 3zM144 72l5-1 2 4 0 1-6 2-2-4zM34-3l1-46-11 46 5 6 0 0zM47 10l-6-2 0-1 2-6 5 1zM138 116l-4-1-4 3 4 5 1-1zM132 126l-5 0-2 4 0 3 5 2 5-4zM124 43l0-1 1-1 5-2 3 3-5 4-1 0zM37 1l6-1-7-59-1 10-1 46zM118 40l6 2 1-1-1-5-5-2-2 3zM114 27l4-4 3 5-2 4-5-2zM127 16l1-5-2-4-3-1-4 4 2 4 4 2zM74 181l1 28-1 7-7-28 2-7zM-24 173l-285-9 0 14 9 57 19 56 28 52 37 47 43 40 49 32 54 24 55 14 21-285-10-35-7-4zM157 126l-5-2-4 4 5 4 4-5 0-1zM139 116l2-6 5 1 1 4-7 2zM74 167l0 0 1 4-2 4-4 0-1-6zM134 54l-2-1-5 2 0 3 3 3 3-1zM167 86l2-5-2-4-4 0-1 7 4 2zM116 153l3 0 3 3 0 3-5 2-4-3 0-2zM127 29l0 4 4 3 4-2 1-5-2-1zM176 56l0 2-6 4-3-3 0-4 4-2zM122 167l2-2 0-4-2-2-5 2 0 6 1 1zM139 57l-2-3 3-4 4 2 0 3zM167 86l3 2 0 5-7 1-1-2 4-6zM119 10l4-4-2-4-3-1-6 5 5 4zM167 68l3 3 3-1 0-4-3-3-3 5zM119 47l5-4 3 3-3 6-2 1zM0 13l-10-4 7-4 4 2-1 5zM113 15l-4-2 0 0 2-8 1 1 5 4zM96 163l4 5-7 3 0 0-2-4 1-3zM109 161l4-3 4 3 0 6-5 2-3-8zM89 176l3 4-1 2-2 2-5-1 0-5zM64-2l-4-20-12-303 22-2 7 285-3 37-6 4zM89 175l4-4 0 0 6 6 0 0-7 3-3-4zM64-2l-4-20-2 19 3 3zM83 167l8 0 2 4-4 4-6-4zM178 87l1-1 0-8-2-1-2 0-2 4 2 5zM169 46l-3 0-1 1 2 7 0 1 4-2 1-4zM141 135l3 5 6-1 0-2-5-5zM159 42l-2 2 2 5 6-2 1-1-2-4zM170 121l-5-2 0-4 2-2 0-1 5 4zM169 99l4 4-3 4-3-2 0-5zM133 158l2-5 1-1 4 2-1 8-2 0zM153 37l0-2-3-4-3 0-1 7 1 1 5-1zM129 160l-5 1 0 4 6 1 1-1zM159 42l5 0 2-4-4-4-4 4zM137 171l-2-7 2-2 2 0 4 1 1 0-1 5zM164 42l2 4 3 0 4-4 0-2-2-3-5 1zM178 111l5-4 2 1 1 2-4 6zM170 122l-2 5 4 4 3-1 1-6zM104 164l5-3 0 0-4-4-3 0-1 4zM125 176l-4 0-2-2-1-6 4-1 4 6zM170 121l2-5 2 0 4 2-2 5 0 1-6-2zM118 183l0 0-1 0-5 4-5 9-2 316 27-1-1-112-6-193zM157 126l0 1 5 5 2 0 2-5-2-2zM175 103l1 1 5 0 2-4-3-3-3 0zM192 61l2 3-2 4-5 0 0-5zM130 158l-2-5 0-1 7 1-2 5zM193 75l-7-1-1-4 2-2 5 0 4 4zM144 163l-1 0 4-3 6 2 0 0-3 5zM140 12l0 5-5 2 0 0-1-1 0-6 5-1zM98 184l2-6 5 2-1 8zM140 12l4-2 1-2 0-2-5-1-2 1 1 5zM145 8l0-2 1-3 6 1 2 3-1 3zM180 47l0-7 5 0 2 6-1 1zM152 171l1 0 5-5 0-2-5-2-3 5 0 3zM163 30l1-6 0 0 5 0 3 5-2 3zM167 86l2-5 4 0 2 5-5 2zM125 183l-7 0 7 23 2-14zM147 31l-2-1-4 1 0 6 5 1zM170 32l2-3 5-1 3 5 0 0-9 3zM148 17l0 7 5 1 1 0 1 0 0-5zM186 39l-1-6-5 0 0 0 0 7 0 0 5 0zM156 155l6 4-4 5-5-2 0 0 1-7zM130 180l-3-1-2-3 1-3 4-2 3 1 0 6zM197 72l-1 0-4-4 2-4 4 0 3 2zM198 83l-5-3-4 2 2 5 5-1zM200 79l-1-5-2-2-1 0-3 3 0 5 5 3 0-1zM191 27l1-3-5-4-1 1-1 5 2 3zM186 121l0-1 4-3 6 0 0 1-4 5zM96-8l15-102 11-218-26-1-26 2 7 285 7 34 6 8 1 0zM196 50l0-5-3-2-6 3-1 1 1 2 7 2zM172 95l3 0 2 2-2 6-2 0-4-4zM181 20l5 1-1 5-7 0 0 0zM193 35l-6-3 0-3 4-2 4 3zM180 19l-4-1-1-3 1-3 6 1zM172 157l-4-2-5 3 0 0 4 5 4 0 0 0 2-5zM187 94l-3-1 2-4 5-1 1 5zM159 148l1-4-1-1-2-1-5 1-2 3 2 2zM190-22l-7 24 1 1 5-2zM193 98l4 1 3 3-1 3-1 0-5 0 0 0zM191 129l-2 1-2 4 5 4 3-4 0-1zM192 17l5 3 0 1-5 3-5-4 0 0zM164 132l4 3-2 4-4-1-1-4 1-2zM167 163l-2 4 4 4 2-2 0-6zM159 184l-5 3-3-5 1-2 6-2 0 0zM200 102l-1 3 7 1 1-3-2-3-1-1zM204 86l-4 6 0 1 7 0 1-5-3-2zM183 2l-3-1-5 2 2 5 5-1 2-3 0-1zM176 12l0-2-5-1-3 5 0 1 7 0zM168 14l-5-5-1-1-2 5 4 5 4-3 0 0zM178 171l0 0-1-2-6 0-2 2 0 0 4 5zM204 79l2-3-1-3-6 1 1 5zM166 174l3-3 0 0-4-4-4 1 0 5zM213 74l0 0 4 5-3 3-3-1-1-4zM210 65l-5 3 1 4 5-1 1-5-1-1zM161 185l6 30 2-28-3-4zM163 19l-8 0 1-5 4-1 4 5zM212 124l-4-2-2 0-1 8 2 0 5-1zM200 14l-1-1 0-7 1-1 2-1 2 1 2 5 0 0zM171 163l0 6 6 0 0-4-6-2zM152 171l1 0 5 4 0 3-6 2-2-4zM173 158l-2 5 6 2 3-3-1-3zM195 30l5-1-1-7-2-1-5 3-1 3zM159 184l-5 3-4 48-4 277 6 0 19-2 0-193-4-102-6-30zM202 4l-2 1-4-4 0-9 7 7zM209-1l-1 4-4 2-2-1 1-5 4-2zM174 153l-3-4 5-4 3 1 1 0-1 6zM183-134l8 108 5 18 7 7 4-2 10-321-10-2-28 0 1 30zM212 102l1 4 2 1 5-4-4-3-3 0zM207 18l-2 4-6 0-2-1 0-1 3-4zM214 87l0 5 5 2 1 0 1-1 0-6-7-1zM212 129l-5 1 3 7 6-1 0-4zM215 107l5-4 0 1 2 5-1 2-4 1zM181 155l4 0 2-2-2-7-5 0-1 6zM199 57l2 0 5-4-3-3-6 1zM221 111l1-2 4 0 3 2 1 5-6 1zM205 39l3-5 4 3-2 4-4 0zM173 178l-1 1 1 5 4 1 2-6zM181 174l-1 5-1 0-6-1 0-2 5-5zM221 93l6-1 1-3 0-2-5-2-2 2zM210 137l-2 2 4 5 4-2 2-4-2-2zM226 124l5-2 4 2 0 2-5 4-1 0zM228 87l0 2 5 1 2-5-3-3zM222 44l5 2 0 5-5 2-1 0-2-6zM208 16l-2-6 0 0 5-1 3 4zM181 174l4 0 2-2-2-5-7 4 0 0zM209-1l5-2 1 2-2 5 0 1-5-2zM230 130l5-4 4 5-1 3-7-2zM222 40l1-2-3-5-3 0-2 4 1 2zM217 17l2 2 2 0 4-4 1-2-1-2-7-1-2 3zM235 107l6-4 0-1-3-4-3 0-2 6zM229 65l5 3 0 3-7 2-1-1 2-7 0 0zM205 73l1-1 5-1 2 3-3 3-4-1zM228 89l5 1 1 1-1 5-4 0-2-4zM229 104l-4-4 4-4 4 0 2 2-2 6zM245 151l-1-6-3-1-1 1 0 6 3 1zM227 155l5 2 2-5-2-3-6 2 0 0zM199 160l4 4 0 2-9 0 1-5zM194 166l0 1 0 5 2 2 8-5 0 0-1-3zM237 110l6 1 1 3 0 2-7 1-1-1zM230 44l5 3-2 5-4 2-2-3 0-5zM193 172l-6 0-2 2 2 5 2 0zM235 124l2-2 5 1 1 6-4 2-4-5zM207 158l3-2 4 2 0 0-3 5-5-1zM232 18l-3 1-2 5 7 1 2-4zM202 179l2 4-3 14-5-15 2-4zM238 134l1-3 4-2 1 1 3 4-2 2-4 2-3-2zM240 50l5-2 0-1-3-4-4 1-1 3zM204 183l-3 14 3 58 5 40 4-108-4-5zM233 13l-2-1 1-6 2-1 4 1 2 1-4 6zM203 164l3-2 5 1 0 1-2 6-5-1-1-3zM250 146l20-10-22 4-2 4zM246 50l4 2-1 5-2 1-4-1 0-1zM247 65l0-7 2-1 10 3-12 5zM226 156l1 7 0 0-7-1-1 0 0 0 2-4zM203 50l1-5 1 0 4 3-2 5-1 0zM216 179l0 2-3 6-4-5 2-6 1 0zM249 164l-3 6 3 1 122-6-63-4-48 0zM204 177l7-1-2 6-5 1-2-4zM239 158l-6 1-1-2 2-5 4 0zM239 158l0 0-6 1-1 3 3 4 5-3 1 0zM229 65l5 3 3-3-2-5 0 0-1 0zM234 36l3-7-2-1-7 3 1 3zM238 6l2 1 2 1 3-2-1-6-2-1-3 0zM233 140l1-1 4 6-5 3-3-5zM247 20l-2 3 2 3 3 0 2-4-3-3zM244 74l-4 5-4-2-1-6 7 0zM243 15l4 5 2-1 2-3-1-4-6 1zM246 161l3 3-3 6-1 0-5-7 1 0zM250 26l2-4 48-3 258-1 1 18-284-2-22-3zM245 6l-1-6 5-2 2 5-2 3zM247 180l-1 0-5-4 1-4 3-2 1 0 3 1 0 6zM249 6l2-3 306 0 0 2 0 1-306 4zM244 156l-5 2 2 5 5-2 0-3zM251 3l306 0-10-55-19-56-28-52-36-46-44-40-49-32-9-4-113 280zM247 34l1-1-3-4-4 0-1 1 2 5zM250 12l1-2 306-4 1 12-258 1-49-3zM248 89l0-1 10-6 64-4 238 1 0 9-285 11-23-5zM251 71l71 7 238 1 1-12-125-5-177-2-12 5zM250 150l58 11 63 4 44 1 142 0 2-31-281-1-2 0-6 2-20 10zM171 9l-2-4 6-2 0 0 2 5-1 2z"/><path fill="#d87ec8" d="M24 109l4 5 2 0 2-3-2-5-5 1zM28 114l2 0 5 4 0 1-6 3-3-5zM22 100l0 0 1-8 7 3 0 3-7 3zM16 112l2 0 1-2-3-6-3 0-1 0-1 4zM15 96l5-5 3 0 0 1-1 8zM10 104l-3-5 0-2 7 0-1 7-1 0zM-1 95l3 6 5-2 0-2-1-3-3-1-4 2zM14 80l-2-3 5-3 3 2 1 5zM40 97l5-2 2 2 0 8-6 0-2-7zM16 112l-6 4-1 0-2-5 4-3zM38 89l-4-4-3 1 1 6 5 1zM47 77l-2 2 2 6 1 0 5-3-1-4zM36 109l2-2-6-3-2 2 2 5 2 0zM11 68l0 9 0 0 1 0 5-3 1-4-6-2zM47 105l1 0 3-1 3-4-2-3-5 0zM11 108l1-4-2 0-7 3 1 3 3 1zM30 86l-5 2-3-6 6-3 0 0zM31 86l3-1 2-3-5-5-3 2 2 7zM59 101l2-3-3-6-3 0-3 5 2 3zM42 87l0 0-2-7-4 2-2 3 4 4zM33 138l-1-3-4-1-4 3 0 5 1 0 6-1zM13 130l0 0 6 4 2-4-1-4-3 0zM31 77l1-1-2-4-5-1-1 0 0 3 4 5 0 0zM24 142l0-5-5-3-2 3 2 5zM11 68l-7 2 0 3 7 4zM48 130l1 6-4 2-4-3 0-1 3-6 2 1zM37 139l4-4 0-1-6-3-3 4 1 3zM62 52l-3 7-2 0-3-3-1-2 5-5 0 0zM45 95l0-2 5-3 3 0 2 2-3 5-5 0zM1 113l3-3-1-3-2-3-1 0-5 7zM21 81l1 1 6-3-4-5-4 2 1 5zM1 119l-15-5 9-3 6 2 1 5zM48 130l1 6 1 0 6-2-1-5-1 0zM65 61l0 5 0 0-6 0-2-6 0-1 2 0zM2 118l5 0 2-2-2-5-3-1-3 3zM20 64l-2 6 6 1 1 0 1-5-1-1zM1 119l0 3-3 3-61-7 49-4zM53 77l6 0 1-3-4-5-3 3zM-14 114l-49 4-249 6-1-4 1-23 301 3 11 4-5 7zM65 52l3 2 0 3-3 4-6-2 3-7zM52 123l4-1 3 3 0 2-4 2-1 0zM63 118l0-4 6-2 2 2 0 2-2 4zM66 91l-7 1-1 0 3 6 6 0 1-2zM37 69l1-2-5-5 0 0-3 4 2 3zM59 104l6 2-3 6-5-1 0-4zM37 139l4-4 4 3-1 6-4 0zM33 146l-2-5 2-3 4 1 3 5-2 3zM74 92l-1-4-2-1-3 1-2 3 2 5 2 0zM42 66l-4 1-5-5 1-1 7-1 1 6zM40 80l0 0 2 7 5-2-2-6zM37 74l-5 2-2-4 2-3 5 0zM20 64l-2 6 0 0-6-2 0-2 3-4 4 1zM56 69l4 5 5-3 0-5-6 0-3 3zM68 74l1 3 3 3 5-1 0-1 1-3-4-5 0 0zM72 41l4-3 4 4-2 3-5 0zM41 51l5 1 0 6-4 1-4-6 0-1zM67 126l-4-2 0-6 0 0 6 2 1 2zM54 113l3-2 5 1 1 2 0 4 0 0-6 1-3-4zM19 63l-4-1-2-4 3-4 1 0 3 5zM10 116l5 5-5 3-2-1-1-5 2-2zM71 87l1-7 5-1 1 7-5 2zM-1 95l4-2-1-5-3 0-3 3zM60 77l5 2-1 6-3 0-2-1zM73 51l-5 3 0 3 6 2 3-2-3-6zM21 150l-4-6 2-2 5 0 1 0 0 6zM30 153l-3 3-5 0-2-3 1-3 4-2 4 2zM13 58l3-4-3-2-6 1-1 3 1 3zM68 88l-4-3-3 0-2 7 7-1zM68 129l6 2-1 4-3 3-3 0 0-1zM70 138l-3 0-3 4 7 5 1-1 1-3zM85 84l-6 3-1-1-1-7 0-1 8 3 1 1zM4 146l-1-4 0-2 7-2 2 6-6 3zM29 150l-4-2 0-6 6-1 2 5zM71 114l0 2 6 2 2-1 1-2-3-5 0 0zM53 142l-1 2 1 2 4 2 4-2 1-3-4-3zM92 83l-6-1-1-1 1-4 5-2 3 2zM81 66l1 0 1 5-1 2-4 2-4-5zM87 89l-3 4-4-1-1-5 6-3zM4 146l-1-4-20 2 18 5zM5 131l5 7 1-1 2-7 0 0-2-1zM91 75l-1-5-7 1-1 2 4 4zM42 123l7-3 0 0-3-3-5 0zM84 37l-2 5-2 0-4-4 0-3 5-1zM32 154l6-3 0-4-5-1-4 4 1 3zM69 35l0 5 3 1 4-3 0-3-2-2-1-1zM4 63l-5-2-5 2 5 5 4 0zM56 122l1-3 6-1 0 6-4 1zM41 60l-7 1 0-6 4-2 4 6zM81 131l-7-1 2-6 4 1 2 3zM32 154l4 5-1 2-6 0-2-5 3-3zM73 45l-2 2 2 4 1 0 5-3-1-3zM81 131l-7-1 0 1-1 4 6 3 1 0 1-7zM93 85l0 5-6-1-2-5 1-2 6 1zM42 44l0 0-1 7 5 1 2-1-2-6zM64 31l6-4 3 5-4 3-4-1zM61 134l-3 1 0 5 4 3 2-1 3-4 0-1zM59 40l2-2 0-1-4-6-3 1-3 3 0 1 6 4zM93 85l5-1 2-3-3-4-2 0-1 0-2 6zM1 80l-21-5 17-3 4 4zM74 92l-4 4 6 5 1-2 0-6zM105 86l1 0 4-3-3-5-1 0-3 3zM15 153l-2 5 1 3 2 1 4-3 2-3-2-3zM38 147l2-3 4 0 0 0 2 5-3 4-3 0-2-2zM25 44l0-2-6-4-1 1-2 6 4 2zM87 46l3 7-2 1-6-2-1-2zM90 97l-1 4-3 1-1 0-2-4 1-4 6 1zM26 45l5 0 1-4-2-3-2 0-3 4 0 2zM61 45l-2-5 2-2 6 3-2 4zM82 128l-2-3 2-4 5 0 1 1 1 0-2 4zM0 56l-1 5-5 2-236-5 196-5 45 2zM88 45l7 2 2-4-3-4-4 1zM73 32l1 1 5-6-1-1-6-2-2 3 0 0zM6 56l-6 0-1-1 0-7 1 0 5 1 2 4zM83 114l1-4 4-2 1 1 0 4-3 3zM65 34l-4 3 0 1 6 3 2-1 0-5zM98 64l1-7-1 0-4 1-2 3 3 3zM89 130l4 0 2-5-6-3-2 4zM21 35l-2 3-1 1-5-2 0-4 5-2 1 0zM92 68l-1 0-3-4 2-3 2 0 3 3zM87 121l-1-5 3-3 4 1 0 3-5 5zM93 90l-3 5-6-1 0-1 3-4 6 1zM80 115l-3-5 4-3 3 3-1 4zM105 39l-2-1-4 6 4 4 4-2zM9 178l2 2 6 0 1-5-3-1-5 2zM1 33l2 4-1 3-2 2-7-3 6-6zM58 156l-1-2-6 0-2 3 2 4 3 0zM97 111l0 0-4 3-4-1 0-4 3-2 5 3zM9 44l0 0-7-4 1-3 4-1 4 2zM95 50l0-3 2-4 2 1 4 4-1 2-5 1zM14 161l-6 3 1 5 6 0 2-2-1-5zM96 98l0 4-3 2-4-3 1-4zM30 168l2 0-1 7-2 1-4-2 2-5zM53 45l-4-3-3 3 2 6 1 0 5-5zM41 174l1-4-2-5-3 0-3 3 5 6zM88 54l2-1 0 0 4 5-2 3-2 0-3-4zM0 165l-24 8 13 3 12-4 1-1-1-5zM85 37l5 3 4-1 0-1-2-5-4 0zM54 161l-3 0-1 3 3 4 5-1 0-1zM26 57l-3-5 3-2 4 1 1 3-5 4zM103 98l-6-2 0-4 5-3 3 4-2 5zM1 172l4 7 4-1 1-2-2-5-6 0zM41 174l4 3 5-3 0-2-4-3-4 1zM81 131l-1 7 7 1 1-2-1-4zM60 28l0-2-5-3-4 2-1 0 4 7 3-1zM46 149l4 1 1 4-2 3-3 0-3-4zM94 38l5-2-1-5-3-2-3 4zM105 123l-3-5-2 0-2 2-3 5 3 2 7-3zM95 77l2-7 2-1 5 2-1 3-6 3zM26 35l-5 0-2-4 5-4 4 4zM51 36l-2 2-7-1 0-1 0-3 4-3 5 5zM66 164l-4-2-4 4 0 1 2 4 0 1 8-4zM-1 161l-38-11-16-3-88-1-167 0 1 18 285 9 24-8zM7 155l0 2-1 2-6 0-1-5 2-2zM81 131l1-3 5-2 2 4-2 3-6-2zM121 96l-2-4-7 1-1 4 5 3zM126 79l-2-1-5 1 0 7 1 1 2 0zM110 58l-2-4 2-4 4 0 1 3-2 5-2 0zM72 19l0 5-2 3-7-4 0-2 5-3zM130 84l-3-6 3-2 5 1 0 0-2 7zM79 138l1 0 7 1 0 4-6 3-2-5zM37 44l-1-2-4-1-1 4 2 3 2 0zM143 74l2 4 0 1-4 2-6-4 0 0 2-3zM126 88l-4-1 4-8 1-1 3 6zM108 47l2 3-2 4-4 0-2-4 1-2 4-2zM83 29l-4-2-1-1 3-7 6 3 0 3-2 3zM60 17l-5 2 0 4 5 3 3-3 0-2zM1 149l-18-5-2 0-36 3 16 3 38 4 2-2zM113 67l-3-3 1-6 2 0 4 3 0 3zM13 19l5 2 4-4 0-1-1-3-8 3zM42 36l-4 1-4-3 0-1 3-5 5 5zM104 70l0 1-1 3 3 4 1 0 4-2 0-5zM69 160l-3 4 2 4 0 1 6-2-2-6zM51 35l-5-5 1-3 3-2 4 7zM46 30l1-3-5-3-5 4 0 0 5 5zM68 168l-8 4 5 6 2 0 2-3-1-6zM87 143l0-4 1-2 3 0 4 3-5 5zM98 84l4 4 3-2-2-5-3 0zM72 146l6 3-3 6-5-2-1-4 2-2zM49 19l-4-1-3 5 0 1 5 3 3-2 1 0zM66 13l-6 2 0 2 3 4 5-3zM80 149l1-3 6-3 3 2 0 2-7 5zM135 87l6-3 3 4-3 5-6-4zM144 72l5-1 1-3-4-3-3 3zM60 15l0 2-5 2-3-2 0-4 6 0zM113 58l4 3 4-2 0-5-6-1zM52 17l0-4-1-2-3-1-4 6 1 2 4 1zM13 37l0-4-4-3 0 0-2 6 4 2zM13 33l-4-3 2-4 5 1 2 4zM23 179l-5 2-1-1 1-5 4-1 1 1zM-6 29l5 4 2 0 2-4 0-1-4-2zM122 53l2-1 3 3 0 3-4 2-2-1 0-5zM36 19l-4 1-1 2 1 3 5 3 5-4 0-1zM108 47l2 3 4 0 3-3-2-3-2-1zM95 125l0 0 3 2 2 5-1 2-5-1-1-3zM108 103l0-3-5-2 0 0-3 6 3 2zM98 104l-2-2-3 2-1 3 5 3zM141 84l0-3 4-2 3 3-2 6-2 0zM11 26l-1-4-6 1-1 5 0 1 6 1 0 0zM52 17l3 2 0 4-4 2-2-6zM93 156l2 0 4-3 0-2-1-3-7 0 1 6zM42 183l-5 16-5-15 5-4zM-6 29l5 4-6 6-237 19-68 1 2-40 214 3zM141 93l0 3 1 1 7-2 1 0-3-7-1 0-2 0zM22 8l-2-8-3 0-4 7 1 0 7 2zM122 67l2-3 5 0 2 4-2 3-7-2zM50 191l-4-9-1 0-3 1-5 16 9 146 5-117zM117 47l-2-3 3-4 6 2 0 1-5 4zM124 78l-3-7-4 2-1 4 3 2zM113 123l-3-3-5 3 0 1 2 4 4-1zM145 103l5-2-1-6-7 2 1 5zM91 18l0-1 1-7 4 0 3 3 0 2-4 4zM114 85l-3 6-5-5 4-3 2 0zM153 103l-3-2-1-6 1 0 4-1 3 3-1 4-2 2zM97 77l6-3 3 4-3 3-3 0zM22 8l4-1 4 4-1 4-7 1-1-3 0-4zM72 65l2-4 7 5-7 4 0 0zM39 14l2-6 6 2 1 0-4 6zM126 105l-3 3-4-1 0-3 4-3 3 1zM1 20l-3 3-7-4 8-4 3 3zM111 37l0 0 6 0 1 3-3 4-2-1zM103 10l-4 3-3-3 2-5 5 1 1 1zM137 71l-6-3 6-5 1 0 2 4zM99 0l-3 3-4-1-1-2 5-8zM108 148l6 0 2-4-5-4 0 0-4 6zM69 181l-2 7-7-6 5-4 2 0zM144 72l-1-4-3-1-3 4 0 3 6 0zM118 144l-2 0-5-4 5-6 3 2zM116 110l3 5 1 0 4-2-1-5-4-1zM73 143l-1 3 6 3 2 0 1-3-2-5zM110 25l4 2 4-4 0-1-2-3-1 0-6 4zM10 12l4-5-1 0-5-4-3 0-1 2 4 7 0 0zM84 3l6-3 1 0 1 2-1 7-4 0zM118 128l1-3-3-3-3 1-2 4 5 3zM13 7l-5-4 3-5 5 1 1 1zM154 81l6 3-2 6-2 0-3-4zM10 22l0 0-6 1-3-3 1-2 4-1zM130 109l-3 4-3 0-1-5 3-3zM116 130l-1 3-8-1 0-1 0-3 4-1zM22 8l4-1 3-4-5-6-4 3zM152 67l5 4 2 0 1-7-6-1zM107 131l-7 1-2-5 7-3 2 4zM106 22l-1-3-6-4-4 4 2 5 5 0zM167 68l-6-4 0-2 6-3 3 3 0 1zM4 5l-3 2-1 5 8 0zM126 28l-5 0-2 4 0 2 5 2 3-3 0-4zM154 58l5 0 2 4 0 2-1 0-6-1-1-1zM5 3l-3-3-3-1-1 1-1 5 4 2 3-2zM-11 176l7 4 7 0 2-1-4-7zM66 12l-2-3-4 0-2 4 2 2 6-2zM119 125l5-3-4-7-1 0-2 2-1 5zM108 148l6 0 2 5-3 3-5-4-1-2zM139 116l2-6-2-2-6 1 1 6 4 1zM154 58l-1 4-7-1 0 0 0-4 4-2 3 1zM27 183l-2 2-6 0-1-4 5-2zM83 167l0 4-2 3-6-3-1-4 4-1 5 1zM167 68l-6 6-2-3 1-7 1 0 6 4zM108 110l2 2 0 3-6 1-1-6zM111 5l1 1 6-5-4-6-5 6 2 4zM132 109l-2 0-3 4 2 5 1 0 4-3-1-6zM140 104l3-2 2 1 3 5-2 3-5-1-2-2zM125 16l-4-2-5 5 2 3 7-2zM133 102l-1 7-2 0-4-4 0-3 3-2zM154 81l0-1 7-5 2 2-1 7-2 0-6-3zM163 95l-6 2-1 4 4 2 4-4zM129 97l0 3 4 2 2-1 1-4-2-2zM51 228l-5 117 0 98 1 65 27 2 0-294-7-28-7-6 0 0-1 1zM142 125l-1 0-6-3 3-6 1 0 1 1 3 6zM125 20l-7 2 0 1 3 5 5 0 1-5zM35 6l-2 4-3 1-4-4 3-4 0 0zM146 111l1 4 2 2 4-5 0-1-3-3-2 0zM109 23l6-4-2-4-4-2-4 6 1 3zM170 63l0-1 6-4 3 4 0 2-6 2zM111 5l-2 8-6-3 1-3 7-2zM149 119l0-2-2-2-7 2 3 6zM124 64l5 0 1-3-3-3-4 2zM135 43l-2-1-3-3 1-3 4-2 4 4-1 2zM83 167l2-6-6-3-1 0 0 8zM96 163l4 5 3 1 1-5-3-3-4 1zM104 164l5-3 3 8-1 1-4 1-4-2 0 0zM147 129l-2 3-4 3-1 0-3-4 4-6 1 0zM48 2l-5-1 0-1-7-59 1-22 14 82zM76 180l1 0 5 4-7 25-1-28zM138 62l0 1-1 0-4-3 1-6 3 0 2 3zM146 57l-2-2-5 2-1 5 8-1zM153 56l3-5-5-3-2 2 1 5zM151 120l7-2 0-2-5-4-4 5 0 2zM135 122l-1 1-2 3 3 5 2 0 4-6zM139 48l1 2-3 4-3 0-2-1 0-2 4-4zM153 62l1 1-2 4-2 1-4-3 0-4zM75 171l-2 4 3 5 1 0 4-5 0-1zM140 135l-4 5-2 0-3-3-1-2 5-4 2 0zM150 68l-1 3 2 4 6-4-5-4zM136 47l-4 4-4-5 5-4 2 1zM81 175l-4 5 5 4 2-1 0-5zM99 0l5 0 1-1 6-54 0-55-15 102zM83 171l6 4 0 1-5 2-3-3 0-1zM129 160l-5 1-2-2 0-3 6-3 2 5zM147 129l-2 3 5 5 3-3 0-2-5-4zM141 135l3 5-2 5-2 0-4-5 4-5zM170 71l0 4 5 2 2 0 0-5-4-2zM99 36l4 2 2-7-2-1-5 1zM132 3l0-2-1-2-8 0-2 3 2 4 3 1zM150 55l-1-5-3 0-2 2 0 3 2 2zM178 48l1 0 0 5-3 3-5-3 1-4zM152 46l1-2-1-6-5 1-1 4zM158 51l1-2 6-2 2 7-7 0zM136 29l-1 5 4 4 2-1 0-6-3-2zM131 146l-2 0-3-4 5-5 3 3zM167 105l-5 2 0 0 5 6 0-1 3-3 0-2zM92 180l7-3 1 1-2 6-2 1-5-3zM7-9l6-312-28 3-37 10 51 307 3 1zM89 184l2 28-13 298-4 0 0-294 1-7 7-25 2-1zM136 148l0 4-1 1-7-1-1-3 2-3 2 0zM157 126l2-6 5 0 0 5-7 1zM151 48l-2 2-3 0-2-5 2-2 6 3zM135 19l-2 3-6 1-2-3 0-4 2 0 7 2zM118 168l-1-1-5 2-1 1 3 6 5-2zM140 24l-2 5 3 2 4-1 1-5-4-2zM147 155l0 5-4 3-4-1 1-8 5-1zM184 60l-5 2-3-4 0-2 3-3 6 3 0 0zM187 81l-2-4-6 1 0 8 5-1zM99 177l1 1 5 2 2-1 0-8-4-2-4 8zM174 116l2-5-6-2-3 3 5 4zM157 142l-1-6-3-2-3 3 0 2 2 4zM99 0l5 0-1 6-5-1-2-2zM159 42l-2 2-4 0-1-6 1-1 5 1zM167 100l0 5-5 2-2-4 4-4zM134 5l4 1 2-1-1-6-7 2 0 2zM58-3l-6 4-1 0-14-82 2-244 2 0 7 0 12 303zM131-1l5-100 0-61-7-166 0 0-6 327zM164 120l1-1 5 2 0 1-2 5-2 0-2-2zM173 42l0-2 7 0 0 0 0 7-1 1-1 0zM104 188l3 8 5-9-4-7-1-1-2 1zM179 48l0 5 6 3 2-7-1-2-6 0zM191 57l3-6-7-2-2 7 0 0zM135 19l-2 3 1 6 2 1 2 0 2-5-5-5zM127 23l-1 5 1 1 7-1-1-6zM129 160l2 5 4-1 2-2-4-4-3 0zM98 184l-2 1-5 27-13 298 18 2 9 0 2-316-3-8zM153 111l0 1 5 4 1-2 1-5-4-1zM173 66l6-2 2 5-4 3-4-2zM176 123l8 2 2-4 0-1-4-3-4 1zM169 81l-2-4 3-2 5 2-2 4zM162 32l-5-2-3-5 1 0 9-1-1 6zM127 179l-2 4-7 0 0 0 3-7 4 0zM181 69l-4 3 0 5 2 1 6-1 1-3-1-4zM162 34l0-2 1-2 7 2 1 4 0 1-5 1zM178 88l5 5-3 4-3 0-2-2zM153 0l3-1-10-50 2 48zM178 88l5 5 1 0 2-4-2-4-5 1-1 1zM144 10l1-2 8 2 0 1-5 5-1 0zM193 80l-4 2-2-1-2-4 1-3 7 1zM171 37l2 3 7 0 0-7-9 3zM135 19l5 5 2-1 1-5-3-1zM154 155l-1 7-6-2 0-5 4-1zM170 134l-2 1-2 4 2 4 5-2 1-2zM140 12l4-2 3 6-4 2-3-1zM117 183l-5 4-4-7 5-2zM193 43l-6 3-2-6 1-1 6 0zM180 33l5 0 2-1 0-3-2-3-7 0-1 2zM148 16l0 1 7 3 0-1 1-5-3-3zM191 129l-2 1-5-3 0-2 2-4 6 2 1 2zM190 111l0 6 6 0 1-5-5-2zM-1-1l-1 1-307 7 0-2 9-57 19-56 28-52 36-47 44-40 49-32 53-24 19-5zM173 42l5 6-6 1-3-3zM133 178l6 1 1-3-3-5-4 1zM182 117l4 3 4-3 0-6-4-1-4 6zM153 103l-3 5 3 3 3-3-2-5zM178 26l0 0-1 2-5 1-3-5 2-3 3 0zM144 176l0 0-4 0-3-5 0 0 6-3 2 3zM180 19l1 1 5 1 1-1 0 0-2-7-2 0-1 0zM204 86l-4 6-2-1-2-5 2-3 0-1zM159 148l1-4 7 0 2 4-1 1-6 2-3-2zM189 1l3 1 0 5-4 1-4-4 0-1zM158 175l-5-4 5-5 3 2 0 5zM144 176l3 7-4 1-4-3 0-2 1-3zM198 126l3-6 1 0 4 2-1 8-1 0-5-1zM147 183l-4 1-4 8-8 207 1 112 14 1 4-277-3-52zM193 59l6-1-1 6-4 0-2-3zM127 192l-2 14 6 193 8-207-3-7-4-2zM198 126l3-6-5-2-4 5 1 2zM192 7l1 1 6-2 1-1-4-4-4 1zM193 98l0 0 4 1 3-5 0-1 0-1-2-1-6 3zM205 86l3 2 6-1 0-1 0-4-3-1-4 2zM207 83l4-2-1-4-4-1-2 3zM147 183l3 52 4-48-3-5zM150 31l3-6 1 0 3 5-4 5zM153 11l3 3 4-1 2-5-2-2-6 1-1 3zM158 0l-2-1-10-50-10-111-7-166 23-1 27 3 1 30-17 290zM152 171l-2 5-6 0 1-5 5-1zM163 19l1 5 5 0 2-3-3-6-4 3zM163 158l-1 1-4 5 0 2 3 2 4-1 2-4zM172 157l-4-2 0-6 1-1 2 1 3 4zM166 1l-6 2 0 3 2 2 1 1 5-4zM190-22l1-4 5 18 0 9-4 1-3-1zM166 180l0 0 0-6-5-1-3 2 0 3 0 0zM205 73l1-1-1-4-3-2-1 0-4 6 2 2zM206 122l-4-2 2-7 6 3-2 6zM194 12l5 1 0-7-6 2zM168 143l5-2 3 4-5 4-2-1-2-4zM172-3l-5 3-1 1 2 4 1 0 6-2zM172-3l3-10 8-121-3-162-17 290 4 6zM212 124l-4-2 2-6 0 0 7 5 0 0zM200 94l4 5 1 1 4-5-2-2-7 0zM195 133l0 1 5 3 2 0 2-7-5-1zM186 164l-1 3-7 4-1-2 0-4 3-3zM172 157l2-4 5-1 2 3-2 4-6-1zM176 130l3 7 1 1 2-1 2-2-2-6zM211 65l4-5 1 0 3 2 2 3-2 3-7-2zM177 185l2 3-8 129-4-102 2-28 4-3zM210 109l-4-1-2 5 0 0 6 3 0 0 2-2zM180 19l1 1-3 6-4-5 2-3zM168 143l-2-4-4-1-3 5 1 1 7 0zM210 65l-3-4 2-5 6 4-4 5zM220 104l4-4-4-6-1 0-3 6 4 3zM192 7l1 1 1 4-2 2-5-2 1-4zM184 135l3-1 5 4 0 2-4 3-6-6zM205 39l-5-2-1 0 3-7 3 0 2 2 1 2zM209 48l2-1 3 3 0 2-5 3-2-2zM212 124l0 5 4 3 4-2 1-4-4-5zM182 137l6 6 0 1-3 2-5 0-1 0 1-8zM182 13l1 0-1-6-5 1-1 2 0 2zM205 130l-1 0-2 7 3 3 3-1 2-2-3-7zM192 94l6-3-2-5-5 1 0 1 1 5zM215 60l1 0 1-5-3-3-5 3 0 1zM190-22l1-4-8-108-8 121 5 14 3 1zM212 37l3 0 2-4-2-3-8 2 1 2zM210 65l-3-4-3 0-2 5 3 2zM209 95l-2-2 1-5 6-1 0 5-4 3zM215 43l-3 1-1 3 3 3 4-3zM192 158l-5 3-2-6 2-2 3 0 2 2zM222 53l1 6-4 3-3-2 1-5 4-2zM192 138l3-4 5 3-4 6-4-3zM213 74l4 5 3 0 2-6-2-3zM209-1l5-2 10-133 3-108 1-78-11-2-10 321zM220 104l4-4 1 0 4 4-3 5-4 0zM203 145l-1 1-6-3 0 0 4-6 2 0 3 3zM208 16l-2-6-6 4 0 2 7 2 1 0zM222 73l4-1 1 1 3 6-7 3-3-3zM218 47l1 0 2 6-4 2-3-3 0-2zM217 121l0 0 1-2 6-1 2 6-5 2zM220 130l3 2 1 6 0 0-6 0-2-2 0-4zM226 124l0 0 5-2-1-6 0 0-6 1 0 1zM220 130l3 2 6-2-3-6 0 0-5 2zM236 116l1 1 0 5-2 2-4-2-1-6zM166 180l0 0 6-1 1 5-4 3-3-4zM213 4l5 2 3-3-1-3-5-1zM194 148l2-5 6 3 0 2-4 3zM216 142l2-4 6 0 2 4-2 4-5 0zM150 170l0-3-6-4-1 5 2 3zM208 18l-1 0-2 4 2 4 5-2 0-4zM200 94l4 5-4 3-3-3zM192 14l0 3-5 3-2-7 2-1zM227 37l2-3-1-3 0 0-6 0-2 2 3 5zM214 13l-3-4 2-4 0-1 5 2 0 4-2 3zM184 127l5 3-2 4-3 1-2-6zM212 144l-4-5-3 1-2 5 8 2zM184 184l5 3 15 68 5 40 1 8 2 204-5 1-36 2 0-193 8-129zM210 95l4-3 5 2-3 6-3 0zM235 108l-6 3 1 5 0 0 6 0 1-6zM227 24l0 0 1 7 0 0 7-3-1-3zM230 42l6-3 0-1-2-2-5-2-2 3zM187 153l3 0 2-4-4-5-3 2zM187 164l7 3 0 5-1 0-6 0-2-5 1-3zM212 144l4-2 3 4-2 5-5-2-1-2zM235 108l0-1-2-3-4 0-3 5 3 2zM198 178l-2 4-5 0-2-3 4-7 1 0 2 2zM229 65l5-5-4-4-4 3 2 6zM222 44l5 2 3-2 0-2-3-5-4 1-1 2zM217 151l1 2 0 0-4 5-4-2 0-5 2-2zM224 138l0 0 2 4 4 1 3-3-3-5zM234 139l4 6 2 0 1-1 0-6-3-2zM192 158l-5 3 0 3 7 3 0-1 1-5zM212 66l7 2 1 2-7 4 0 0-2-3zM200 156l-1 4-4 1-3-3 0-3 5-1zM226 142l4 1 3 5-1 1-6 2-2-5zM233 13l-2-1-5 1-1 2 4 4 3-1zM215 43l1-4 6 1 0 4-3 3-1 0zM200 156l4-1 1-4-3-3-4 3-1 3zM244 156l-1-4 2-1 4 0 0 5-3 2zM219 146l5 0 2 5 0 0-8 2-1-2zM232 149l2 3 4 0 2-1 0-6-2 0-5 3zM249 151l0 5 11 5 48 0-58-11zM227 4l-1 2-5-3-1-3 4-4 3 3zM214 158l5 4 0 0-4 4-4-2 0-1zM242 43l-4 1-2-5 0-1 4-1 3 3zM235 108l0-1 6-4 3 5-1 3-6-1zM234 5l-2 1-5-2 0-5 6 0zM204 177l0-8-8 5 2 4 4 1zM239 53l4 3 0 1-2 3-6 0 0 0 2-6zM243 129l1 1 4-3 0-6-2-1-4 3zM244 156l-1-4-3-1-2 1 1 6 0 0zM227 73l3 6 1 1 5-3-1-6-1 0zM267 133l-19-6-4 3 3 4zM207 158l3-2 0-5-5 0-1 4zM226 59l-3 0-1-6 5-2 2 3 1 2zM222 185l-6-4-3 6-4 108 1 8 14-110zM226 156l-5 2-3-5 0 0 8-2 1 4zM200 156l4-1 3 3-1 4-3 2-4-4zM249 40l0-1 26-5 284 2 2 27 0 4-125-5-179-14-8-4zM239 53l4 3 3-6-1-2-5 2zM247 26l-2-3-3 0-1 6 4 0zM235 60l6 0 2 6-6-1zM244 145l2-1 2-4-3-4-4 2 0 6zM204 177l7-1 1 0 0-4-3-2-5-1 0 0zM245 48l0-1 4-3 8 4-7 4-4-2zM230 56l-1-2 4-2 4 2-2 6-1 0zM231 132l7 2 0 2-4 3-1 1-3-5zM278 134l281 1 2-15 0-8-308 3-5 6zM242 43l3 4 4-3 0-4-6 0zM228 65l0 0-7 0-2-3 4-3 3 0zM242 93l-4 5 3 4 6-2-1-3zM236 21l-2 4 1 3 2 1 3 1 1-1 1-6-4-3zM240 17l3-2 4 5-2 3-3 0-4-3zM223 176l2 4-3 5-6-4 0-2 5-3zM239 53l1-3-3-3-2 0-2 5 4 2zM236 13l4-6 2 1 2 5-1 2-3 2zM244 108l2-1 4 2 0 4-6 1-1-3zM225 180l-3 5 2 8 7-10-2-3zM244 13l-2-5 3-2 4 0 2 4-1 2zM221 176l-5 3-4-3 0-4 4-2 4 1zM233 90l2-5 5 0 0 5-6 1zM239-1l3 0 54-307-33-10-35-4-1 78 8 241zM244 74l-2-3 1-5 4-1 0 0 4 6-4 3zM229 180l2 3 3 0 2-2 1-3-3-3-4 1zM250 183l-4 22-4-20 4-5 1 0zM234 169l1-1 7 4-1 4-4 2-3-3zM250 109l0 4 3 2 308-3-1-24-285 11-12 3zM223 176l2 4 4 0 1-4-3-3zM242 93l6-4 4 5-6 3-4-4zM250 183l-4 22 15 245 4 50 53-14 54-24 49-32 43-40 37-47 28-52 19-56 9-57 0-12-142 0-123 11zM244 108l2-1 3-5-2-2-6 2 0 1zM247 74l3 5 8 3 64-4-71-7zM244 83l6-4 8 3-10 6zM250 183l-3-3 2-3 43 0zM292 177l123-11-44-1-122 6 0 6zM221 169l-1-7 7 1-1 6zM251 16l49 3-48 3-3-3zM224 193l-14 110 2 204 51-7 2 0-4-50-27-267-3 0zM168 14l-5-5 5-4 1 0 2 4z"/><path fill="#e8b0de" d="M39 98l-7 2 0 4 6 3 1-1 2-1zM16 87l4 4 3 0 2-3-3-6-1-1zM1 104l1-3 5-2 3 5-7 3zM37 117l-2 1-5-4 2-3 2 0zM46 117l2-5 0-1 6 2 0 2-5 5zM45 73l-6 2-2-1 0-5 1-2 4-1 3 6zM26 57l-6 2-1 4 1 1 5 1 2-5-1-2zM27 60l6 2-3 4-4 0-1-1zM6 159l1-2 6 1 1 3-6 3-1 0zM4 146l-3 3 0 3 6 3 1-3-2-5zM42 44l0 0-5 0-1-2 2-5 4-1 0 1zM61 156l1 6-4 4-4-5 4-5zM128 90l-1 4 2 3 5-2 0-5zM40 165l3-3 0-1-4-4-3 2-1 2 2 4zM44 144l8 0 1 2-3 4-4-1zM29 176l0 6-2 1-4-4 0-4 2-1zM45 182l1 0 6-2 1-4-3-2-5 3zM110 58l-6 2-2-3 2-3 4 0zM24 27l0-1-6-3-2 4 2 4 1 0zM64 31l-4-3 0-2 3-3 7 4 0 0zM113 69l-2 2-7-1 1-5 5-1 3 3zM122 67l2-3-1-4-2-1-4 2 0 3zM93 104l-4-3-3 1 2 6 1 1 3-2zM74 17l0-4-5-2-3 1 0 1 2 5 4 1zM13 19l5 2 0 2-2 4-5-1-1-4 0 0zM42 170l4-1 1-4-4-3-3 3zM18 181l-1-1-6 0-2 22 10-17zM72 161l4-3 2 0 0 8-4 1 0 0zM115 77l-4-1-4 2 3 5 2 0zM25 185l21 258 1 65-6 0-56-8 0 0 21-285 2-10 1-3 10-17zM131 68l0 0-2-4 1-3 3-1 4 3zM111 37l-1-4 4-3 5 2 0 2-2 3zM65 4l-4-2 0-2 3-2 4 1 0 5zM-4 180l10 35 2-10-5-25zM20 0l4-3 11-46 1-10 1-22 2-244-4 1-19 323 1 1zM154 81l-6 1-2 6 1 0 6-2 1-5zM158 51l1-2-2-5-4 0-1 2-1 2 5 3zM93 171l6 6 4-8 0 0-3-1zM140 145l2 0 3 2 0 6-5 1-4-2 0-4zM170 88l5-2 3 1 0 1-3 7-3 0-2-2zM151 154l-4 1-2-2 0-6 5-1 2 2zM133 172l4-1 0 0-2-7-4 1-1 1 0 5zM193 59l-2-2-6-1-1 4 3 3 5-2zM150 31l3-6-5-1-2 1-1 5 2 1zM176 130l3 7-5 2-4-5 2-3 3-1zM139-1l1 0 6 1 0 3-1 3-5-1zM156 155l6 4 1-1 0 0-1-7-3-2zM193 105l-1 5 5 2 2-1-1-6zM204 86l-6-4 2-3 4 0 3 4-2 3zM187 99l0 1 1 4 5 1 0-7 0 0zM167 0l-4-6-5 6 2 3 6-2zM197 51l6-1 1-5-6-2-2 2 0 5zM173 178l-1 1-6 1 0-6 3-3 4 5zM209 95l-4 5 2 3 5-1 1-2-3-5zM179 137l1 1-1 8-3-1-3-4 1-2zM207 32l8-2 0-4-3-2-5 2-2 4zM217 79l-3 3 0 4 7 1 2-2 0-3-3-3zM159 184l-1-6 8 2 0 3-5 2zM222 31l-1-5 3-2 3 0 1 7zM180 179l4 2 0 3-5 4-2-3 2-6zM230 42l6-3 2 5-1 3-2 0-5-3zM236 38l4-1 2-2-2-5-3-1-3 7zM218 6l3-3 5 3-1 5-7-1zM246 158l3-2 11 5-11 3-3-3zM226 156l1 7 5-1 1-3-1-2-5-2zM247 26l-2 3 3 4 5-2-3-5zM249 57l10 3 177 2-179-14-7 4zM244 0l5-2 113-280-44-20-22-6-54 307zM242 93l-2-3 0-5 2-2 2 0 4 5 0 1zM246 97l1 3 2 2 14 0 12-3-23-5zM234 5l-1-6 2-2 4 2-1 7zM214 158l5 4 2-4-3-5-4 5z"/><path fill="#de90ce" d="M29 125l0-3 6-3 3 7-3 2-6-2zM16 112l2 0 1 6-4 3 0 0-5-5zM19 118l3 0 1 6-3 2-3 0-2-5zM40 97l-3-4 1-4 4-2 3 6 0 2zM48 85l-1 0-5 2 0 0 3 6 5-3zM10 124l1 5 2 1 4-4-2-5 0 0zM16 87l4 4-5 5 0 0-5-7 0-1 3-1zM13 87l-3 1-4-3-1-3 6-5 1 0 2 3zM41 105l-2 1 3 6 6 0 0-1 0-6-1 0zM0 104l-11-4 10-5 3 6-1 3zM45 73l2 4 5 1 1-1 0-5-4-2-4 2zM40 116l1 1 5 0 2-5-6 0-2 3zM53 77l6 0 1 0-1 7-4 0-2-2-1-4zM27 130l1 4-4 3-5-3 0 0 2-4zM11 68l-7 2-1-2 1-5 3-2 5 5 0 2zM7 59l-1-3-6 0-1 5 5 2 3-2zM55 84l4 0 2 1-2 7-1 0-3 0-2-2zM69 105l-1 0-3 1-3 6 1 2 6-2zM45 72l-3-6 0 0 8-1 0 0-1 5zM59 77l1-3 5-3 3 3 1 3-4 2-5-2zM39 75l-2-1-5 2-1 1 5 5 4-2 0 0zM45 73l-6 2 1 5 5-1 2-2zM-2 125l1 6-142 15-167 0-2-22 249-6zM73 105l4 5-6 4-2-2 0-7zM72 41l-3-1-2 1-2 4 2 2 4 0 2-2zM56 69l3-3-2-6-6 4zM32 69l-2-3-4 0-1 5 5 1zM50 65l-3-6-1-1-4 1-1 1 1 6zM53 54l1 2-7 3-1-1 0-6 2-1 1 0zM58 49l0 0-4-3-1-1 4-5 2 0 2 5zM77 93l3-1 4 1 0 1-1 4-6 1zM77 57l2-1 4 3 0 5-1 2-1 0-7-5 0-2zM65 52l3 2 5-3-2-4-4 0zM26 58l5-4 3 1 0 6-1 1 0 0-6-2zM59 101l-5-1-3 4 6 3 2-3zM6 147l6-3 1 1 0 6-5 1zM21 51l-1-4-4-2-2 1-1 6 3 2 1 0zM-17 144l-2 0 20-9 2 5 0 2zM-55 147l-88-1 142-15 2 1 0 3-20 9zM95 77l2-7-5-2-1 0-1 2 1 5 3 2zM26 45l5 0 2 3-3 3-4-1zM16 45l2-6-5-2-2 1-2 6 5 2zM57 154l0-6-4-2-3 4 1 4zM76 124l4 1 2-4-3-4-2 1-2 5zM-6 63l5 5-2 4-17 3-292-7-1-5 1-4 68-1 2 0zM23 167l-3 1 2 6 1 1 2-1 2-5zM81 105l4-3 1 0 2 6-4 2-3-3zM88 46l-1 0 3 7 0 0 5-3 0-3-7-2zM93 85l0 5 0 0 4 2 5-3 0-1-4-4zM88 54l-6-2-3 4 4 3 4-2zM14 46l-1 6-6 1-2-4 4-5 0 0zM77 99l6-1 2 4-4 3-5-3 0-1zM95 50l-5 3 4 5 4-1-1-6zM104 70l0 1-5-2-1-5 6-1 1 2zM0 48l5 1 4-5-7-4-2 2zM111 91l-5-5-1 0-3 2 0 1 3 4 6-1zM73 135l6 3 0 3-6 2-3-5zM87 57l3 4-2 3-5 0 0-5zM128 90l-1 4-6 2 0 0-2-4 1-5 2 0 4 1zM85 37l3-4-3-5-2 1-2 5 3 3zM-1 55l0-7-45 5zM1 166l1 5 6 0 1-2-1-5-1 0zM26 35l2 3 2 0 4-4 0-1-5-2-1 0zM28 31l1 0 3-6-1-3-5 1-2 3 0 1zM38 37l-2 5-4-1-2-3 4-4zM103 110l1 6-2 2-2 0-3-7 0 0 6-1zM100 118l-2 2-5-3 0-3 4-3zM89 130l4 0 1 3-3 4-3 0-1-4zM39 174l-2 3-6-2 1-7 2 0zM122 67l-5-3-4 3 0 2 4 4 4-2 1-2zM129 97l0 3-3 2-3-1-2-5 6-2zM128 90l6 0 1-1 0-2-2-3-3 0-4 4zM111 37l2 6-5 4-1-1-2-7zM74 17l7 2 2-6 0 0-4-4-2 0-3 4zM77 9l2 0 4-6-1-1-6-2-2 5zM41 174l4 3 0 5-3 1-5-3 0-3 2-3zM134 90l0 5 2 2 5-1 0-3-6-4zM31 22l1-2-3-5-7 1 0 1 4 6zM40 153l-1 4 4 4 3-4-3-4zM85 28l2-3 8 2 0 2-3 4-4 0zM10 12l4-5 7 2 0 4-8 3zM113 123l-3-3 1-4 6 1-1 5zM105 31l-2 7 0 0 2 1 6-2 0 0-1-4-3-2zM108 103l-5 3 0 4 0 0 5 0 1-6zM8 12l0 0-8 0 0 1-1 2 3 3 4-1zM110 25l-3 6-2 0-2-1-1-6 4-2 3 1zM150 95l-3-7 6-2 3 4-2 4zM83 3l-4 6 4 4 4-4-3-6zM32 184l-3-2-2 1-2 2 21 258 0-98-9-146zM98 148l1 3 8-1 1-2-1-2-3-2-5 1zM105 139l-1 5 3 2 4-6-5-2zM163 94l0 1-6 2-3-3 2-4 2 0 4 2zM129 118l-4 4-1 0-4-7 4-2 3 0zM90 161l2 3 4-1 1-1-2-6-2 0zM-1 15l1-2-10-4-300 6 0 4 214 3 87-3zM83 3l-1-1 2-10 6 8-6 3zM5 3l-3-3 5-9 4 7-3 5zM39 14l2-6 0-1-6-1 0 0-2 4 5 4zM110 25l4 2 0 3-4 3-3-2zM111 5l-2-4-4-2-1 1-1 6 1 1zM55 5l-3-4-1 0-3 1-1 8 1 0 3 1zM115 110l-5 2-2-2 1-6 3 1zM113 156l0 2-4 3-4-4 3-5zM50 164l3 4-3 4-4-3 1-4zM166 86l-4-2-2 0-2 6 4 2zM76 180l-3-5-4 0-2 3 2 3 5 0zM148 108l2 0 3-5-3-2-5 2zM107 132l-1 6 5 2 0 0 5-6-1-1zM151 75l0 1 3 4 7-5 0-1-2-3-2 0zM151 120l1 4-4 4-1 1-5-4 1-2 6-4zM118 144l-2 0-2 4 2 5 3 0 2-5-2-4zM83 167l8 0 1-3-2-3-4-1-1 1-2 6zM-2 23l1 3-5 3-90-7 87-3zM131 137l-1-2-5-2-3 3 3 5 1 1zM130 118l4 5-2 3-5 0-2-4 4-4zM92 154l-1-6-1-1-7 5 0 0 3 3zM157 127l-4 5 0 2 3 2 5-2 1-2zM167 68l-6 6 0 1 2 2 4 0 3-2 0-4zM163 94l0 1 1 4 3 1 2-1 3-4-2-2zM126 142l-1-1-6 3 2 4 6 1 2-3zM102 57l-3 0-1 7 0 0 6-1 0-3zM121 14l-2-4-2 0-4 5 2 4 1 0zM109 1l-4-2 6-54 3 50zM139 48l3-3-4-5-3 3 1 4zM121 2l-3-1-4-6-3-50 0-55 11-218 7 0-6 327zM125 141l-6 3-1 0 1-8 3 0zM144 45l-2 0-4-5 1-2 2-1 5 1 1 1-1 4zM167 113l-2 2-6-1 1-5 2-2zM140 145l-4-5-2 0-3 6 5 2zM11-2l-4-7 6-312 22-3-19 323zM144 45l-2 0-3 3 1 2 4 2 2-2zM91 182l5 3-5 27-2-28zM86 160l-1 1-6-3 4-6 3 3zM184 60l-5 2 0 2 2 5 4 1 2-2 0-5zM119 153l2-5 6 1 1 3 0 1-6 3zM152 143l-2-4-6 1-2 5 3 2 5-1zM174 116l2-5 1-1 1 1 4 5 0 1-4 1zM177 110l-1-6 5 0 2 3-5 4zM128 11l-2-4 6-4 2 2-1 6zM172 131l-4-4-2 0-2 5 4 3 2-1zM157 126l-5-2-1-4 7-2 1 2zM114 176l-3-6-4 1 0 8 1 1 5-2zM139-1l1 0-4-100-5 100 1 2zM148-3l-2-48-10-111 0 61 4 100 6 1zM-10 9l-300 6 1-8 307-7-1 5zM119 174l-5 2-1 2 4 5 1 0 3-7zM159 120l-1-2 0-2 1-2 6 1 0 4-1 1zM156 155l3-6 0-1-7 0-1 6 3 1zM158 38l-5-1 0-2 4-5 5 2 0 2zM134 12l-1-1-5 0-1 5 7 2zM143 18l-1 5 4 2 2-1 0-7 0-1-1 0zM176 123l8 2 0 2-2 2-6 1-1 0 1-6zM187 99l0 1-4 0-3-3 3-4 1 0 3 1zM130 171l0-5-6-1-2 2 4 6zM187 100l-4 0-2 4 2 3 2 1 3-4zM159 143l-2-1-1-6 5-2 1 4zM193 105l0 0-1 5-2 1-4-1-1-2 3-4zM152 4l-6-1 0-3 2-3 5 3zM192 39l1-4 0 0-6-3-2 1 1 6zM130 180l2 3 4 2 3-4 0-2-6-1zM193 35l0 0 6 2 3-7-2-1-5 1zM193 43l3 2 2-2 2-6-1 0-6-2-1 4zM139 11l-1-5-4-1-1 6 1 1zM130 180l2 3-5 9-2-9 2-4zM182 7l1 6 2 0 2-1 1-4-4-4zM201 120l1 0 2-7 0 0-5-2-2 1-1 5 0 1zM160 3l0 3-6 1-2-3 1-4 3-1 2 1zM193 59l6-1 0-1-2-6-1-1-2 1-3 6zM187 99l6-1-1-4 0-1-5 1zM139 192l4-8-4-3-3 4zM170 107l0 2 6 2 1-1-1-6-1-1-2 0zM191 88l0-1-2-5-2-1-3 4 2 4zM150 176l2 4-1 2-4 1 0 0-3-7 0 0zM199 105l7 1 0 2-2 5-5-2-1-6zM163 19l1 5 0 0-9 1 0-5 0-1zM199 57l2 0 3 4-2 5-1 0-3-2 1-6zM175 15l-7 0 0 0 3 6 3 0 2-3zM162 151l1 7 5-3 0-6zM172-3l3-10 5 14-5 2 0 0zM202 30l3 0 2-4-2-4-6 0 1 7zM201 57l3 4 3 0 2-5 0-1-2-2-1 0zM191 129l2-4 5 1 1 3-4 4zM179 159l1 3 6 2 1 0 0-3-2-6-4 0zM212 102l1 4-3 3-4-1 0-2 1-3zM200 14l-1-1-5-1-2 2 0 3 5 3 3-4zM211 9l2-4-5-2-4 2 2 5zM217 112l1 7 6-1 0-1-3-6-4 1zM188 143l0 1 4 5 2-1 2-5 0 0-4-3zM205 45l1-4 4 0 2 3-1 3-2 1zM208 16l6-3 2 0 1 4-5 3-4-2zM212 114l-2 2 7 5 1-2-1-7zM223 82l7-3 1 1 1 2-4 5-5-2zM212 20l0 4 3 2 1-1 3-6-2-2zM220 94l4 6 1 0 4-4-2-4-6 1zM217 33l3 0 2-2-1-5-5-1-1 1 0 4zM181 174l4 0 2 5-3 2-4-2zM204 45l-6-2 2-6 5 2 1 2-1 4zM197 154l1-3-4-3-2 1-2 4 2 2zM223 132l1 6 6-3 1-3-1-2-1 0zM211 147l1 2-2 2-5 0-3-3 0-2 1-1zM215 43l1-4-1-2-3 0-2 4 2 3zM196 182l5 15 3 58-15-68 2-5zM227 24l0 0-3 0-3-5 4-4 4 4zM220 70l2 3 4-1 2-7-7 0-2 3zM189 179l-2 0-3 2 0 3 5 3 2-5zM215 107l2 5 0 0-5 2-2-5 3-3zM232 6l-5-2-1 2-1 5 1 2 5-1zM237 122l5 1 4-3-2-4-7 1zM219 19l-3 6 5 1 3-2-3-5zM234 91l6-1 2 3 0 0-4 5-3 0-2-2zM231 80l5-3 4 2 2 4-2 2-5 0-3-3zM276 134l2 0-30-13 0 0 0 6 19 6zM244 114l0 2 2 4 2 1 0 0 5-6-3-2zM243 40l-3-3 2-2 5-1 2 5 0 1zM215-1l5 1 4-4 0-132-10 133zM209 170l3 2 4-2-1-4-4-2zM234 68l0 3 1 0 7 0 1-5 0 0-6-1zM233 13l-1 5 4 3 2-1 2-3-4-4zM221 169l-1-7-1 0-4 4 1 4 4 1zM247 65l0-7-4-1-2 3 2 6 0 0zM226 169l1-6 0 0 5-1 3 4 0 2-1 1-6 1zM245 151l4 0 1-1 0-4-4-2-2 1zM249 39l26-5-22-3-5 2-1 1zM235 166l0 2 7 4 3-2-5-7zM233-1l-6 0-3-3 0-132 3-108 8 241zM246 107l3-5 14 0-13 7zM223 176l4-3 1-3-2-1-5 0-1 2 1 5zM270 136l-22 4-3-4 2-2 20-1 9 1zM242 185l-6-4-2 2 27 267-15-245zM244 74l-4 5 2 4 2 0 6-4-3-5zM228 170l6-1 0 6-4 1-3-3zM246 180l-4 5-6-4 1-3 4-2z"/></g>
<g fill="none" stroke-linecap="round" filter="url(#bl06)"><path d="M36.3 102.4l-1.0 0.1M8.1 107.5l-0.3 0.3M55.8 96.9l1.1 0.4M20.1 137.7l0.7 1.5M36.6 134.7l0.2 0.0M38.6 110.8l0.3 0.9M-3.6 120.4l-0.1 1.5M5.5 90.3h0M63.1 47.2l-0.1 0.5M72.0 109.5l0.7 0.9M53.0 50.3l0.2 0.2M34.2 149.2l-0.2 0.5M44.5 48.2l-0.4 0.5M1.6 52.1l1.0 0.2M56.7 160.5l1.5 0.8M99.1 72.6l-0.5 1.6M21.1 21.5l0.7 0.5M84.8 129.4l0.8 0.3M58.5 20.8l-0.7 0.3M70.1 14.1h0M94.3 144.3l0.4 0.1M44.3 186.1l0.7 0.1M-1.7 18.9l-1.1 1.2M62.2 10.9l-1.1 0.7M108.4 155.9l-0.6 0.4M103.8 14.0l0.6 0.0M46.6 -3.0l0.8 0.7M94.0 175.0l-0.5 1.6M92.4 186.5l0.4 0.2M137.0 156.9l-1.3 0.6M129.9 7.6l1.8 0.2M154.5 139.1l-0.8 0.1M136.3 2.4l0.5 0.3M139.3 166.7l0.4 0.1M168.6 41.4l1.2 0.4M-4.7 2.6l-0.4 1.6M132.1 160.2l0.2 0.6M116.5 187.5l-0.3 0.4M178.3 100.4l0.8 0.9M180.9 121.3l-1.0 0.1M189.7 71.6l1.0 0.8M142.3 2.0l0.1 0.7M183.0 42.1l0.5 1.3M188.6 77.0l1.6 0.5M193.1 83.7l-0.7 0.6M191.4 119.1l0.8 0.8M159.4 153.1l1.2 0.8M133.0 187.2h0M167.3 20.1l1.3 0.4M212.4 77.3l0.5 0.8M208.5 6.1l1.3 0.3M190.3 9.9l0.4 1.2M215.0 102.7l0.4 1.3M210.1 91.0l0.6 0.1M189.0 156.4l-0.7 0.8M183.1 150.5l-0.4 0.2M220.9 134.5h0M146.3 167.7l-0.4 0.9M209.6 11.7l0.5 0.7M238.0 102.6l-1.7 0.2M252.2 153.6l-1.2 0.2M214.7 162.4l-0.4 0.0M220.4 23.0l-0.6 0.3M249.2 159.4h0M246.2 53.8l1.4 0.8M222.9 154.2l-1.4 0.3M253.3 41.7l-0.6 0.3M244.2 140.0h0M218.5 166.5l-0.9 0.5M247.2 148.0l0.7 0.1M233.7 64.3l0.2 0.2M249.6 137.0l-0.8 0.1M244.9 164.3l-0.8 0.6M253.5 -0.5l-1.1 0.9M251.9 75.2l-1.5 0.8" stroke="#7428aa" stroke-width="5"/><path d="M33.4 122.4l-0.5 1.4M71.3 99.7l0.1 1.1M71.2 91.4l-0.7 0.1M69.3 44.0l-0.7 0.9M60.7 68.9l-0.4 1.3M72.7 125.7l-0.8 0.3M43.5 119.6l1.4 0.1M28.3 47.5l1.2 1.1M83.1 45.3l-0.3 0.9M18.4 171.3l-0.0 0.4M15.1 34.3l1.4 1.0M88.5 92.2h0M52.5 157.3l1.3 0.1M12.3 165.2l0.3 0.7M26.4 52.5l0.7 0.5M101.0 53.5l-1.1 0.5M54.9 26.7l-0.4 1.3M125.1 73.2l0.1 0.6M14.3 23.3l0.5 0.2M66.0 152.7l1.1 0.4M20.3 177.4l-0.4 0.1M42.6 156.3l-1.0 0.7M-1.8 29.3l0.8 0.2M113.0 119.5l1.2 0.4M116.3 105.6l-1.1 0.5M105.9 107.6h0M106.5 27.0l-1.2 0.1M84.1 7.8l-0.6 0.8M32.3 29.3l0.6 0.3M42.0 12.1l1.7 0.1M103.1 147.3l0.4 0.4M65.1 0.7l-0.3 0.1M156.9 59.9l-0.2 0.7M22.7 181.8l-0.6 1.1M144.4 106.6l-0.7 0.2M129.1 130.3h0M142.1 112.9l1.1 1.3M125.7 136.9l-0.0 0.6M157.0 131.9l0.8 0.0M140.5 53.1l-0.6 1.4M124.2 145.3l-1.0 0.3M117.5 6.2l-0.8 0.1M173.9 72.9l-1.4 0.3M87.3 179.2l-0.3 1.3M143.0 40.4l0.1 0.3M162.3 111.7l-0.1 0.4M161.5 38.1l-0.2 0.5M176.7 42.3l0.4 0.7M117.0 177.7h0M179.4 92.8l0.4 0.8M178.8 126.4l1.4 0.5M200.0 115.0l-1.0 1.0M196.4 101.2l-1.1 1.4M203.3 102.7h0M203.9 90.4l1.0 0.3M173.0 17.6l-0.7 0.7M211.9 119.9l0.0 0.6M180.8 166.3h0M175.4 148.8l-0.3 1.6M208.9 44.0h0M211.9 33.6h0M218.8 28.8h0M183.1 176.5l0.3 1.6M224.9 41.3l0.8 0.8M234.8 43.2h0M245.9 153.8l0.7 0.3M239.1 125.8l0.4 0.0M210.2 158.8l-0.6 1.1M240.7 153.9l0.1 0.7M239.6 12.3l0.3 0.0M247.6 92.2l-0.7 1.4" stroke="#9444bc" stroke-width="5"/><path d="M19.5 94.6l1.0 1.1M25.8 83.2h0M2.1 59.0l0.3 0.1M63.7 76.0h0M40.7 138.9h0M16.5 82.5l-0.2 1.0M7.2 143.1h0M77.5 127.2l1.1 0.9M28.3 187.1l0.2 0.1M76.0 65.6h0M101.8 128.4l0.8 0.7M157.4 54.8l-0.8 0.5M162.5 56.2l-0.1 1.5M149.6 111.3l-0.1 0.2M122.5 48.2l0.9 0.1M95.3 166.9h0M162.8 51.2l-0.1 0.4M103.6 174.8l0.1 0.4M98.8 187.5l-0.5 0.2M121.8 179.9l1.1 1.2M197.4 32.2l-0.6 1.4M200.2 86.9l-0.8 0.3M164.3 135.7l-0.2 0.3M159.3 21.3l0.4 1.1M195.5 9.5l1.3 0.0M199.5 132.9l0.1 1.1M181.5 -3.5l-0.6 0.6M224.2 33.7h0M183.4 171.1l0.2 0.2M207.5 148.3l-1.7 0.3M188.0 149.0l0.7 0.0M193.1 177.5l0.2 0.0M231.3 153.5l-1.3 0.1M237.2 149.0h0M239.8 40.8l-0.2 0.1M230.6 1.5l0.2 0.5M224.0 172.1l-0.0 0.3M246.2 69.7l1.4 0.4M244.3 103.4l1.5 0.0" stroke="#a85cc4" stroke-width="5"/><path d="M2.6 96.3l1.4 1.0M23.7 127.0l0.1 0.3M14.8 91.0l0.3 0.1M10.3 94.1l0.4 0.1M7.5 126.5l-0.2 0.0M56.6 44.1l1.0 0.1M5.6 135.9l-1.4 0.2M79.3 60.5l0.3 0.9M68.9 141.9l0.1 0.3M58.4 130.2l0.2 0.9M10.1 131.7l-1.2 1.2M20.5 72.7l-0.2 0.8M0.3 64.7l-0.6 0.5M59.9 121.8h0M94.1 71.2l-0.8 1.3M24.3 160.4l0.8 0.5M60.4 150.6l0.9 0.6M85.6 50.3l-0.3 0.4M86.7 97.1l0.3 0.6M96.0 60.1l-0.3 0.3M74.3 139.1l0.6 0.0M115.1 88.5l-0.8 1.0M92.6 110.5l-1.2 0.6M47.2 152.5l0.0 0.6M27.1 26.5l1.3 1.1M114.2 73.2l-1.2 0.3M89.6 104.7l0.1 0.3M107.4 117.7l-0.9 1.6M96.0 130.2l1.1 0.9M90.1 29.3l-1.2 0.3M144.7 92.8l0.2 0.2M1.2 24.0l0.3 0.3M157.9 105.3h0M106.6 142.1l0.3 0.3M96.1 -1.7l-0.5 0.9M120.9 110.0l-0.6 0.3M76.5 145.1h0M159.4 93.5l-1.7 0.4M0.1 183.6l-0.5 1.3M160.4 98.4l-1.2 0.8M62.2 186.2l-0.1 1.6M128.7 42.2l0.2 0.3M71.6 177.2l0.2 0.1M110.4 135.4l0.5 0.3M76.4 174.7l-0.0 0.3M139.3 140.0l0.2 0.2M138.7 33.7h0M147.4 46.6h0M168.5 116.6l0.1 0.4M129.2 19.1l0.1 0.4M154.7 121.4l1.4 0.1M190.4 52.9l-1.5 1.0M148.9 149.3l-0.4 1.5M133.9 167.9l-0.8 1.0M170.9 78.6h0M181.2 73.8l-0.7 0.6M166.2 33.7l0.8 0.1M122.4 185.6l-0.7 0.6M184.4 102.8l1.4 0.9M128.0 183.9l0.4 1.0M184.3 9.1l1.7 0.4M155.7 2.7l0.1 0.5M179.5 15.1l-1.6 0.6M188.1 90.4l0.1 1.3M155.0 145.1l-0.6 0.4M190.9 101.2l-0.8 0.6M170.9 152.1l0.2 1.1M162.3 -1.6l0.1 1.6M199.7 47.1l1.4 0.9M159.0 15.9l-0.1 0.2M201.5 9.8h0M209.9 59.9h0M183.4 141.8l-0.3 0.6M218.3 83.3h0M214.2 46.4h0M224.8 94.2l0.5 1.2M225.9 77.2l-1.4 0.6M169.4 182.1l1.4 0.2M220.9 142.2h0M207.6 143.0l-0.2 0.7M232.7 112.1l1.0 0.1M212.9 40.6l0.7 0.5M223.6 67.7l0.2 0.0M238.3 140.3h0M186.8 182.4l-0.0 0.8M230.7 91.8l-0.5 0.2M230.6 99.6l-1.4 0.3M242.6 133.6l-0.3 0.7M237.3 93.0l0.2 0.9M239.5 62.6l-1.2 0.3M251.5 167.7l0.2 0.4M223.5 61.7l0.3 0.1M229.3 -4.0l1.5 0.2M242.9 97.9l-0.1 0.6M242.1 2.3l-1.0 0.0M238.7 74.0h0M244.7 -3.3l1.2 0.2M237.5 172.7l-0.8 0.3M243.4 88.1l0.3 0.5M242.2 180.4l-0.9 0.7M251.9 88.9l-0.0 0.5" stroke="#8234b4" stroke-width="5"/><path d="M30.2 118.0l0.6 0.4M25.7 95.9l-1.2 0.5M20.4 122.3l-0.4 0.2M5.2 76.5l0.2 0.8M34.9 142.5l0.9 0.1M43.6 83.1h0M0.6 91.1l-1.3 0.0M10.9 55.1l0.3 0.6M86.2 72.9l0.6 0.9M78.4 120.7l-0.1 1.3M61.9 137.6l0.3 0.3M96.6 80.8l-0.2 1.2M106.7 81.8l-1.0 0.4M86.5 111.3l-0.9 1.3M103.8 42.5l-0.4 1.5M50.5 45.7l-1.3 0.9M90.1 57.4l0.7 0.8M5.5 173.7l-0.3 0.0M65.4 131.9l-1.1 1.4M26.3 165.4l0.1 0.4M36.2 154.3l0.5 1.1M12.7 171.1l-0.8 1.5M63.1 15.8l0.5 0.9M55.9 15.9l0.4 0.4M48.9 15.4l-1.0 0.3M14.0 29.9h0M103.4 102.1l0.6 1.1M145.4 82.8l-0.7 0.9M151.9 89.6l-0.5 0.4M62.4 5.8l-1.0 0.5M102.9 134.6l-0.3 0.5M88.6 157.0l0.3 0.5M149.2 78.9l0.2 0.7M135.4 104.9l-0.2 0.4M124.5 117.1l0.0 0.3M80.4 -3.2l-0.3 0.3M111.5 108.4l-1.1 0.3M49.1 167.6h0M142.9 64.1h0M78.6 169.0l0.4 1.7M147.5 74.0l-0.2 0.1M112.9 0.6l0.4 0.3M88.0 163.3l-1.3 0.7M-4.4 23.7l-0.0 1.4M129.2 122.1l0.6 0.5M118.4 156.6l-1.4 0.8M170.7 56.6l0.8 1.1M100.7 -3.6l-0.1 0.3M67.4 -4.6l-1.5 0.4M161.0 121.9l0.1 1.8M100.9 2.6l-0.9 0.2M155.2 40.5l0.6 0.5M107.2 183.1l0.3 1.6M171.5 125.4l1.0 0.9M159.8 27.0l-0.1 0.2M174.8 134.3l-0.2 0.6M148.5 163.1l0.9 0.5M126.9 168.0l-1.0 1.3M187.2 114.3l-0.7 0.7M135.5 8.9l0.6 0.0M186.7 -1.6l-0.6 0.2M189.8 133.1l1.1 0.2M170.8 0.9l-0.1 0.5M199.5 -1.1l-0.5 0.6M205.9 -0.1l-0.3 0.9M202.6 53.0l-1.6 0.3M175.4 181.4h0M185.4 131.3l0.2 0.1M230.7 37.2l1.0 0.5M242.0 148.4l0.8 1.5M223.4 159.2l0.6 0.7M206.0 172.7l1.5 0.8M236.5 50.0l-0.2 1.2M246.8 9.4l0.9 0.3M248.3 23.2h0M236.2 87.8l0.6 0.4" stroke="#9444bc" stroke-width="4.5"/><path d="M19.9 105.2l0.1 0.3M11.2 99.4l-0.5 0.5M27.8 90.2l0.7 0.2M14.6 71.5l-0.4 1.1M7.0 65.9l0.9 0.8M60.0 63.3l0.9 0.0M65.2 109.7l1.6 0.7M56.2 73.2h0M63.4 56.9l0.4 0.0M48.8 140.8l0.1 0.3M33.3 71.0l0.5 1.4M55.1 64.4l0.7 0.4M31.9 163.5l0.2 0.3M89.3 86.1l-0.8 0.5M83.8 55.4l-0.4 0.4M92.7 43.2l-0.6 0.6M90.0 127.1h0M90.4 116.3l-1.3 0.8M86.3 60.4l-0.4 0.6M124.4 91.9l-0.9 0.0M10.9 153.9l0.0 0.2M107.5 95.1l-0.1 0.7M70.1 163.8l0.1 0.3M85.2 17.9l1.4 0.0M114.9 113.2l-1.7 0.4M77.8 13.5l1.1 0.6M78.8 4.5l-1.6 0.4M135.8 92.8l1.3 0.4M71.0 1.2h0M-5.5 32.8l1.0 0.4M106.2 35.3l1.1 0.0M17.7 3.9l0.7 1.2M146.2 99.2l1.1 0.1M122.9 104.2l-1.3 1.2M57.8 0.2l-0.3 0.3M98.8 158.3h0M156.3 85.4l-0.2 0.2M2.8 8.5l1.1 1.1M106.4 3.3l0.6 0.5M119.4 119.7l0.2 1.4M150.6 57.8l-1.0 1.1M29.7 -2.0l-0.4 0.4M44.8 5.4l-0.9 0.3M158.5 80.6h0M18.9 -4.8l-0.0 1.1M147.5 123.8l0.3 0.6M142.8 130.0l-0.9 0.8M135.4 136.2l0.1 0.6M-3.2 8.4l1.3 0.3M108.7 -2.6l0.3 0.3M113.3 163.2h0M132.2 149.7h0M115.2 172.2l1.2 0.7M182.2 81.6l-0.4 0.0M177.8 114.5h0M167.7 130.5h0M183.1 51.1l-0.4 0.6M130.7 155.0l1.7 0.4M184.0 88.4l-1.3 0.6M176.1 37.1l0.4 0.5M167.6 28.4l-0.3 0.2M112.1 181.0l-0.1 1.2M149.4 1.1l0.7 0.1M192.0 47.4l-1.4 0.1M163.7 146.1l-0.1 1.5M195.3 94.7l1.4 1.0M194.8 107.9l0.7 0.8M168.3 165.8l-0.3 1.7M164.0 170.0l0.7 1.5M168.8 175.7l0.3 0.4M180.8 132.3l-0.6 0.8M212.1 16.5l0.2 0.4M161.0 181.5l0.9 0.9M210.5 -5.1l-1.2 1.2M229.4 106.7l0.9 1.3M224.4 28.1l0.1 0.2M214.9 69.8l-0.2 0.0M231.5 49.2l-0.3 0.1M249.5 130.5l-1.0 0.4M244.4 26.0l-0.5 0.3M212.2 181.5l-0.1 0.3M230.4 165.5l-0.8 0.8M252.0 35.0l-0.8 0.2M242.9 19.4l0.2 1.2M232.8 32.3h0M252.1 54.4l-0.1 0.2M238.8 -4.4l1.1 0.4M247.4 1.4l-0.3 0.4" stroke="#7428aa" stroke-width="4.5"/><path d="M15.0 107.6l-0.5 1.0M21.1 85.8l-1.3 0.6M32.1 80.7l0.3 1.7M16.7 100.6l-0.3 0.1M23.1 132.3l0.1 1.1M-5.3 105.2l0.8 1.3M79.9 95.2l-0.1 1.4M63.0 88.5l0.1 0.3M-0.4 145.1l-0.9 0.7M76.8 133.8l0.3 0.6M4.9 150.5l-0.4 0.7M65.6 37.1h0M99.0 47.4l-1.5 0.2M92.0 100.2l0.8 0.2M39.6 160.7l-1.7 0.2M96.7 33.7l-1.5 0.3M115.9 95.6l-0.5 1.6M78.8 31.1l0.6 0.1M68.0 22.3h0M3.6 161.5l-1.0 0.5M107.0 61.3h0M132.4 98.0l0.7 0.4M77.1 184.3l0.5 0.6M168.4 49.6l0.8 0.6M145.6 135.5l-0.1 1.5M164.2 102.5l-0.0 0.7M110.4 175.3l-0.7 0.5M104.8 159.9l-0.7 0.7M161.5 127.9l1.4 0.5M153.0 166.4l1.6 0.7M152.1 15.4l0.3 0.9M172.4 99.3l1.7 0.2M202.7 82.2l0.5 0.0M153.6 176.0l-1.0 0.1M210.1 105.1l-0.1 0.3M176.5 141.4h0M214.4 96.5h0M220.6 14.3l0.1 0.8M250.5 61.1l-1.0 0.1M249.3 48.1l0.0 0.5M233.8 142.9l0.3 0.9M248.3 15.2l-1.5 0.8" stroke="#a85cc4" stroke-width="4.5"/><path d="M25.6 120.3l-0.2 1.7M17.2 77.0l0.4 1.4M13.3 124.8l-0.5 1.7M56.7 79.9l-0.2 1.2M23.4 77.1l0.2 0.7M62.9 102.0l0.6 0.5M37.9 62.5l-0.0 0.6M0.5 85.0l0.4 0.4M65.2 121.7l0.1 0.3M77.8 105.9l-0.9 0.2M49.3 54.5l0.9 0.9M82.8 76.4l-0.6 0.6M-3.9 134.2l0.2 0.1M93.0 94.4l0.0 1.1M77.4 51.7l0.6 0.7M84.4 124.1l-1.4 0.3M-4.2 57.5l0.9 0.2M91.9 64.0h0M98.2 38.8l0.5 1.6M23.9 37.8l0.8 0.9M53.3 164.1l0.1 0.2M92.9 120.3l1.3 0.0M100.5 122.9l-0.9 0.0M62.8 166.5l0.4 0.1M2.5 155.1l0.3 1.5M-3.0 157.3l0.2 0.1M131.3 80.2l0.4 0.3M72.2 156.9l-1.4 0.4M117.0 69.0h0M-2.2 150.6l-0.1 0.3M130.0 87.0l1.0 0.7M109.8 41.6l-1.8 0.2M95.1 135.8l0.1 0.5M132.4 72.2l1.8 0.3M56.3 9.5l0.6 0.7M79.2 153.1l-0.7 1.6M111.2 79.6h0M21.0 187.2l1.3 1.0M12.3 1.7h0M119.7 131.9l1.4 0.0M101.2 19.5l-1.3 0.9M106.4 112.5l0.1 0.6M121.2 17.4l-0.3 1.3M123.3 11.3l1.0 1.5M149.9 84.2l0.2 0.5M144.2 118.5l-0.4 0.5M132.1 31.4l-0.7 0.3M137.0 50.1l-1.7 0.3M119.9 163.6l1.6 0.1M165.6 72.1l1.6 0.4M120.2 139.8l1.6 0.4M143.1 48.0l-1.2 1.1M96.5 181.6l-1.3 0.6M126.4 -3.3h0M157.0 111.6l-0.3 0.0M130.2 175.0h0M188.8 36.1l-0.4 0.5M173.8 45.7l-1.5 0.9M157.5 169.9l0.6 0.8M147.3 178.0l1.2 0.8M153.4 30.3l-0.1 0.9M164.1 3.7l-0.2 1.3M178.7 4.3l0.5 0.8M165.2 152.6l-0.1 1.2M204.5 95.6l0.1 0.6M176.6 155.6l-0.6 0.6M174.3 165.8l-1.4 1.0M211.1 132.6l0.3 0.2M225.7 104.9l-1.7 0.6M216.3 1.8l0.9 1.1M231.9 86.5l-0.7 0.2M200.0 97.9l0.0 1.3M183.9 187.9l0.9 0.0M229.4 60.0l-0.5 0.0M191.9 160.7l0.0 1.3M221.1 149.1l0.2 0.5M224.3 1.7l-0.2 0.4M238.1 56.3l1.2 1.0M240.4 45.7l0.6 1.5M224.8 55.6l1.0 0.8M242.0 51.3l0.3 0.3M248.6 28.8l-0.0 0.3M248.1 110.3l-1.4 0.1M216.3 173.3l0.5 0.5M252.3 25.4l1.6 0.7M232.5 178.5l-1.2 0.2M245.7 184.5l0.5 0.2M244.6 31.7l-1.2 0.2M249.2 97.4l1.4 0.3M227.1 176.9l-0.4 0.4M231.5 186.9l0.2 0.7M252.7 147.2l0.2 1.1" stroke="#8234b4" stroke-width="4.5"/><path d="M36.7 112.5l0.1 0.3M28.9 109.4l-0.4 0.7M43.7 100.2l-0.3 0.4M34.9 95.0l-1.3 1.2M46.8 88.1l-1.0 1.3M28.0 138.5l0.5 0.4M14.8 133.8l0.3 1.0M45.4 132.9l-1.4 0.4M55.5 124.7l0.5 0.9M67.8 115.7l-0.8 0.6M67.8 82.4l-0.3 0.4M0.6 126.4l1.6 0.4M49.8 115.3l-0.5 0.4M60.7 107.7l0.3 0.3M-4.1 127.4l-0.6 1.1M73.4 74.8l0.0 0.2M17.1 58.3l-1.1 1.1M61.3 80.5l1.0 0.8M72.6 54.2l-0.3 0.2M72.8 119.3l1.0 0.0M-4.5 81.4l0.4 0.4M74.4 114.0l1.6 0.7M82.5 88.1l0.8 1.2M85.9 67.8l0.4 0.1M-3.6 68.9l-0.8 0.2M84.8 106.0l-0.7 1.1M91.0 48.4l0.8 0.3M97.6 87.4l-0.3 0.2M45.9 40.0l-1.0 0.6M106.7 89.8l-0.4 0.8M39.8 40.1l-1.2 0.7M80.2 110.1l1.5 0.7M6.9 38.9l-0.1 1.5M28.7 171.8l0.4 0.1M-3.4 51.8l-0.1 0.4M100.1 107.5l0.2 0.3M121.6 81.6h0M95.7 115.5l0.9 0.6M82.2 141.3l1.6 0.2M64.6 27.5l0.2 0.3M42.3 28.5l-0.0 0.2M139.7 88.3l-0.7 0.6M39.7 17.5l0.7 1.1M119.9 75.5l0.4 0.0M94.6 13.4l0.2 1.3M115.0 125.8l-0.6 0.2M37.2 9.5l0.8 0.5M0.3 3.7l-0.0 0.3M39.4 3.6h0M111.4 150.7l0.3 0.5M117.1 27.9h0M154.5 74.8l1.5 0.9M109.9 17.9l-0.6 0.9M100.6 163.6l0.1 0.4M149.1 64.3l0.4 0.1M151.9 70.2l1.1 1.2M166.7 90.4l-0.4 1.4M101.1 32.8l0.0 1.0M150.1 42.0l-0.0 0.5M123.3 151.6l-0.3 0.1M147.6 142.8h0M188.8 58.4l0.2 1.7M102.4 183.1l-1.6 0.4M149.4 6.3l-0.5 0.1M171.2 83.7l0.1 0.4M156.6 158.9l0.3 0.9M195.2 66.4l1.4 0.6M189.6 4.9l-0.6 1.1M142.5 180.3h0M195.8 61.3h0M209.4 84.3l0.4 0.6M149.5 186.9l0.1 0.8M192.7 -1.7l-0.2 0.8M208.8 68.5l-0.9 0.6M215.8 64.6l1.5 0.3M220.6 115.2l-0.5 0.0M192.6 144.8l-0.4 0.6M213.5 55.4l-0.4 0.7M196.3 137.5l-0.5 1.2M214.3 20.9l1.7 0.6M207.8 37.8l0.8 0.4M226.8 120.2l1.3 0.3M224.1 127.7l1.4 1.1M234.4 118.8l-1.2 1.3M219.2 36.6l-0.5 0.8M216.0 145.9l-1.1 0.8M195.9 157.3l-0.2 0.9M200.9 152.2l1.1 0.4M231.6 74.4l0.4 0.6M235.3 81.5l1.3 0.7M206.6 153.6l0.8 0.6M217.9 185.3l-0.4 0.3M212.0 167.4l1.0 0.3M234.8 16.5l1.1 0.1M233.4 55.0l0.7 0.3M207.4 179.3l-0.9 1.0M253.5 13.1l-0.9 1.0M230.4 172.2l1.3 0.5M236.0 1.1h0M222.8 165.2l0.6 0.8M173.7 6.5l-1.1 0.6" stroke="#7428aa" stroke-width="4"/><path d="M31.5 130.0l-0.6 1.3M43.6 114.1l1.1 0.7M57.8 54.0l-1.2 0.2M50.5 93.1l-0.9 1.3M33.8 113.4l0.6 0.9M74.8 41.5l1.4 0.8M20.8 144.9l0.4 1.2M21.5 54.3l0.5 1.4M10.1 148.0l-0.6 0.7M18.0 49.2l-0.8 1.6M-3.0 75.6h0M63.5 41.8l-1.0 0.4M82.6 118.0l0.8 0.0M-3.6 44.9l-1.0 1.0M100.4 93.2l1.0 1.3M99.1 99.9l-0.5 0.7M47.4 178.6l1.3 0.1M105.6 55.8l-0.5 1.2M54.9 171.0l-1.3 0.2M38.7 32.8l-1.2 0.2M116.7 56.5l1.4 0.4M9.7 16.8l-0.4 0.3M109.5 123.6l0.4 0.7M115.2 40.2h0M115.8 138.5l-0.0 1.7M8.2 6.1l0.2 1.0M156.1 66.7l0.2 0.4M111.4 29.1l-0.8 0.0M129.6 104.4l-0.1 0.5M70.1 184.7l1.1 0.3M127.2 60.8l-1.5 0.9M107.8 165.4l-1.6 0.2M136.4 57.6l-0.3 0.1M142.1 58.8l-0.5 0.0M136.2 125.1l0.4 1.4M137.7 45.0l1.1 0.3M61.6 -3.6l-0.5 0.8M178.8 106.5l0.4 0.3M121.8 171.5l0.5 0.2M154.3 150.7h0M151.8 -3.9l0.6 1.0M135.3 180.9l-0.0 0.7M187.5 23.7l0.9 1.4M153.0 106.8l0.4 1.4M142.7 171.9l-1.5 0.1M188.2 85.7l-0.8 0.3M162.5 176.4h0M202.1 107.9l-0.2 0.5M164.2 186.2l-0.6 0.8M163.9 141.2l-0.3 0.1M203.4 35.0l0.8 0.2M200.5 140.1l-0.1 1.6M213.8 8.1l0.3 0.5M211.3 -0.1l0.3 1.7M200.3 182.8l0.2 0.9M249.0 116.5h0M207.8 185.0l0.2 0.2M249.9 142.7l0.7 0.0M244.7 60.9l0.0 0.2M233.7 135.5l-0.7 0.3M239.7 167.1l0.8 0.8M236.3 161.4h0M237.5 186.1l0.0 1.1M251.6 179.9l0.8 0.0M251.8 174.6l0.3 0.1" stroke="#9444bc" stroke-width="4"/><path d="M10.7 111.6l0.9 0.4M5.6 102.2l0.8 1.3M43.9 108.8h0M52.5 68.5l-0.4 0.6M28.3 74.4l-1.3 0.0M8.3 71.7l0.0 0.2M56.1 86.2l1.1 1.2M52.8 107.8l-0.3 0.2M-1.5 114.7l-0.2 0.3M34.0 66.3l-0.7 0.4M16.6 65.9l-0.8 0.4M15.6 139.3l-1.0 0.8M69.2 49.9h0M80.4 82.1l0.1 1.4M55.4 103.4l-0.1 0.2M23.4 170.1l0.7 0.1M94.9 53.6l-1.1 1.1M83.3 135.0l0.8 0.6M56.3 179.9l-1.5 0.6M90.4 140.0l1.3 1.0M6.7 182.3l0.8 0.9M95.0 106.1h0M6.3 25.7l0.4 0.0M126.4 66.8l0.9 0.2M119.2 43.3l-0.1 0.3M26.5 11.7l-1.4 1.1M88.9 5.4l-0.8 0.4M5.2 19.7l0.4 1.4M33.4 1.3l-0.1 1.1M122.5 126.5l-0.1 0.2M134.5 117.9l-0.4 1.1M174.5 62.5l0.2 0.6M113.2 10.1l-0.4 0.5M84.8 174.8h0M126.7 157.3l-0.4 0.3M175.3 51.5l-1.7 0.3M135.5 143.7l-0.4 0.6M130.2 141.2l0.0 1.0M1.2 -5.0l-0.0 0.6M86.2 186.8l-0.2 0.5M83.3 157.1h0M169.6 102.5l-0.3 1.2M183.1 65.1l0.2 0.2M54.8 -4.1l-0.9 0.3M190.3 64.3l0.4 0.3M137.8 14.8l-1.0 0.0M196.7 77.3l0.1 0.8M173.4 24.0l-0.3 0.2M191.8 30.9h0M144.4 187.5l-0.1 0.2M192.1 19.9l-0.9 1.2M173.7 187.1l0.9 0.4M175.7 161.4l-0.6 0.2M212.1 139.8l1.2 0.2M218.3 41.9l-0.1 1.2M240.5 119.5l0.2 0.6M239.7 107.1l0.3 0.2M200.7 173.7l1.5 0.1M250.5 124.6l0.5 0.6" stroke="#a85cc4" stroke-width="4"/><path d="M48.7 80.4l-0.0 1.3M52.1 59.7l-0.8 0.6M4.7 113.4l-0.1 1.3M-4.3 93.9l-1.1 0.6M69.2 61.7l0.2 0.2M28.3 68.8h0M9.8 120.1l1.3 0.4M74.8 83.2l-0.1 1.2M0.7 71.5l-0.8 0.5M24.6 151.9l0.2 0.4M69.8 133.3l0.2 0.8M51.3 127.2l-1.3 0.3M31.4 57.7l-1.1 1.0M53.0 40.8l-1.2 0.8M71.8 37.0l-0.1 0.8M37.6 57.6l-0.5 0.1M31.3 158.4l1.5 0.0M13.5 40.5l-0.2 1.1M67.6 32.0l0.3 0.0M74.8 96.1l-0.2 0.1M61.1 32.3l0.4 0.2M-1.1 36.6l0.1 0.9M84.6 33.3h0M38.7 168.6l-0.2 1.2M-1.7 169.7l-0.1 0.8M89.2 36.4h0M25.3 177.8l0.7 1.0M-4.4 162.3l0.0 0.5M126.2 83.0l0.6 1.4M82.0 23.8l0.9 0.3M66.0 172.4l-0.5 1.6M72.9 150.4l1.2 1.0M4.3 32.4l1.7 0.5M146.3 68.4l-0.3 0.9M96.6 67.0l-0.8 0.2M94.5 151.2h0M55.2 185.0l-0.1 1.6M153.4 97.8l0.1 0.5M94.6 5.6l-0.4 1.7M49.7 183.5l-0.3 0.5M24.4 2.6h0M-0.4 176.0l1.0 0.7M39.0 -2.0l-1.0 0.7M30.5 6.2l0.1 0.9M133.9 38.0l0.4 1.0M81.4 161.4l-1.2 1.3M131.0 57.2h0M126.6 1.7l-0.1 0.7M87.8 170.2h0M166.2 107.3l0.3 1.6M143.5 26.6l-1.4 0.3M142.7 157.6l-0.3 0.4M171.9 112.6h0M126.9 163.0l1.3 0.1M166.2 123.3l0.4 0.0M169.5 138.1l-0.0 0.7M158.6 137.8l1.5 0.6M150.7 20.0l-0.2 1.7M136.0 175.1l-0.0 0.9M158.2 10.2l-1.3 0.2M147.0 172.9l1.4 0.4M172.2 11.9l0.5 0.3M171.2 143.8l1.3 1.1M202.1 76.0l1.1 0.4M194.8 25.8l1.3 0.6M158.0 187.6l0.5 0.5M203.2 -4.9l0.2 0.3M215.6 115.4l-1.2 0.7M217.5 74.4l-0.5 0.0M193.1 151.0l1.6 0.8M209.1 21.8h0M213.5 153.9l-0.3 0.2M192.7 185.6l0.4 0.6M212.9 109.7l1.2 0.7M229.3 146.0l-0.9 0.1M189.0 174.6l-1.3 0.0M208.1 165.3l-0.8 0.7M235.8 154.9l-0.6 0.8M220.8 180.3h0M253.0 5.7l-0.1 0.9M246.2 78.1l-1.0 1.4M217.9 157.2l-0.1 0.2" stroke="#8234b4" stroke-width="4"/><path d="M22.5 113.5l0.5 0.7M41.1 91.2l-0.7 0.5M38.7 84.6l-0.4 0.8M18.0 129.5l-0.2 1.0M58.1 115.1l1.7 0.5M46.3 34.1l0.5 0.1M100.4 113.1l0.5 0.3M50.3 30.1l-0.3 0.1M10.3 34.4h0M123.9 56.7l-0.2 0.3M99.3 7.9l0.3 0.1M60.2 176.8l0.2 0.8M65.7 182.9l-0.4 0.4M125.7 108.6l0.2 0.3M122.9 31.7l0.4 0.3M149.2 103.9l-0.7 0.8M123.1 23.4l-0.3 0.2M152.4 127.0l0.0 1.7M72.2 171.2l-0.7 1.6M131.2 13.7l-0.4 0.6M140.3 20.3l-1.1 0.0M142.4 13.9l1.1 0.3M183.9 158.5l-0.7 0.7M218.4 98.5l1.1 1.0M216.7 50.7l0.8 0.3M224.2 19.9l1.5 0.1M222.2 6.9l-0.3 0.1M245.9 175.4l0.6 0.2M252.6 110.5l0.3 0.7M248.7 82.8l-0.0 0.9" stroke="#8234b4" stroke-width="3.5"/><path d="M14.6 116.7h0M38.6 119.9l0.5 0.8M5.6 121.0l-0.7 0.5M22.8 67.4l-1.5 0.8M69.1 68.6l1.1 0.5M53.7 136.9l1.0 1.1M55.4 35.0l0.8 1.2M-4.3 87.2h0M8.8 160.0l1.5 0.7M48.7 146.8l0.0 0.2M109.1 67.9l-1.2 0.2M52.4 20.3l-0.2 0.5M75.3 161.7l-0.4 0.9M-4.9 185.7l-0.5 0.0M166.5 81.1l-0.4 0.1M13.8 -5.2l-0.4 1.4M162.4 116.5l-1.0 1.1M148.9 27.8l-0.3 0.4M148.2 11.3l-0.8 0.8M190.2 106.6l-1.4 0.7M193.2 113.7l-1.1 1.2M202.2 124.8l-0.5 0.8M155.8 182.7h0M162.8 164.1h0M205.5 134.6l1.5 0.9M209.4 73.6l-1.2 0.6M202.7 158.1l1.0 1.1M252.0 66.3h0" stroke="#a85cc4" stroke-width="3.5"/><path d="M39.8 130.4l-0.2 0.1M33.6 106.8l-0.4 1.7M63.4 94.2l-0.3 0.0M40.2 71.4l1.2 0.1M11.5 61.6h0M90.0 79.2l-0.7 0.3M33.8 50.8l-0.2 0.9M115.2 81.3l1.4 0.8M100.5 83.2l1.5 0.4M85.1 147.6l0.4 0.4M136.4 82.1h0M113.2 101.0l-1.0 0.7M14.2 182.9l0.1 1.2M67.1 7.0l-0.5 1.3M101.4 78.2h0M111.0 144.8l0.6 0.2M111.4 130.0h0M93.1 160.3h0M119.8 99.9l-1.0 0.9M72.4 9.1h0M117.6 147.9l-0.8 0.8M97.5 172.0l0.2 0.1M180.6 57.3h0M131.1 24.6l-1.1 1.3M174.9 119.3l-1.3 0.6M173.3 171.6l0.2 0.4M195.4 14.5l-0.9 0.6M177.5 21.0h0M202.5 19.3l-0.1 0.9M225.0 112.6l0.7 0.4M223.9 89.3l0.9 0.5M197.7 147.4l-0.4 0.2M228.5 8.2l0.4 0.5M198.5 168.9h0M238.8 113.5l0.9 0.2M243.9 36.6l0.5 1.3M238.8 68.1l-1.2 0.4M249.2 105.6l1.2 0.1" stroke="#7428aa" stroke-width="3.5"/><path d="M51.5 84.6l-0.1 1.8M74.0 47.7l1.0 0.4M65.5 159.8l-0.6 0.1M16.0 12.2l-0.3 0.0M153.8 115.9l0.2 0.4M120.3 -3.4l-0.3 0.0M151.0 157.5l-0.6 1.5M139.6 184.9h0M205.0 14.2l-0.6 0.4M238.9 24.9l0.2 0.7" stroke="#9444bc" stroke-width="3.5"/><path d="M20.1 105.3l0.1 0.2M23.0 127.3h0M14.8 90.4h0M25.3 82.9h0M15.9 100.3h0M56.4 96.4l0.6 0.2M4.6 77.4l0.1 0.5M38.3 111.5l0.2 0.6M71.0 99.4l0.1 0.7M39.9 138.4h0M16.5 82.5l-0.1 0.6M62.4 46.8l-0.0 0.3M44.3 83.5h0M72.9 109.2l0.4 0.6M82.4 76.4l-0.3 0.4M10.3 54.8l0.2 0.4M58.2 130.2l0.1 0.5M6.5 143.2h0M44.1 120.0l0.8 0.0M19.8 72.9l-0.1 0.5M34.7 148.6l-0.1 0.3M77.4 133.3l0.2 0.4M24.5 160.1l0.5 0.3M61.3 138.0l0.2 0.2M83.5 44.7l-0.2 0.5M86.1 97.1l0.2 0.3M-3.5 58.2l0.5 0.1M86.2 111.9l-0.5 0.8M96.0 60.7l-0.2 0.2M75.1 138.9l0.3 0.0M53.2 156.7l0.8 0.0M93.0 100.7l0.5 0.1M93.2 120.2l0.8 0.0M100.4 54.2l-0.7 0.3M100.5 123.1l-0.6 0.0M62.2 166.0l0.3 0.1M20.5 21.3l0.4 0.3M27.0 164.8l0.0 0.3M116.6 68.9h0M58.1 21.1l-0.4 0.2M125.8 73.2l0.1 0.3M70.8 13.5h0M13.2 171.0l-0.5 0.9M15.1 23.2l0.3 0.1M66.6 152.7l0.6 0.2M129.5 86.9l0.6 0.4M108.7 40.9l-1.1 0.1M114.0 113.7l-1.0 0.3M93.8 144.4l0.2 0.0M19.5 177.6l-0.2 0.0M-1.3 28.7l0.5 0.1M90.6 28.6l-0.7 0.2M145.6 82.4l-0.4 0.5M70.2 1.7h0M106.3 26.2l-0.7 0.0M84.5 7.9l-0.3 0.5M33.0 28.8l0.4 0.2M29.0 186.9h0M102.8 146.9l0.2 0.3M106.1 142.9l0.2 0.2M121.5 110.8l-0.4 0.2M159.8 92.8l-1.0 0.2M119.6 132.0l0.8 0.0M65.7 1.2l-0.2 0.1M111.3 107.7l-0.6 0.2M151.0 58.3l-0.6 0.7M144.2 106.6l-0.4 0.1M159.4 98.7l-0.7 0.5M126.0 136.6l-0.0 0.3M141.0 54.1l-0.4 0.9M123.4 144.8l-0.6 0.2M139.8 140.5h0M87.7 179.8l-0.2 0.8M142.6 40.3h0M138.7 33.4h0M96.9 181.6l-0.8 0.4M91.7 186.6l0.2 0.1M128.8 18.8l0.0 0.2M136.2 157.6l-0.8 0.3M102.9 174.8l0.1 0.2M130.3 7.5l1.1 0.1M167.3 130.2h0M155.4 40.5l0.4 0.3M161.1 38.3l-0.1 0.3M169.4 41.4l0.7 0.2M107.8 183.2l0.2 0.9M189.6 52.4l-0.9 0.6M180.3 122.0l-0.6 0.1M122.1 180.4l0.6 0.7M181.3 74.6l-0.4 0.4M174.6 134.9l-0.1 0.3M149.4 163.7l0.5 0.3M142.2 2.0l0.1 0.4M175.6 36.7l0.2 0.3M122.5 186.3l-0.4 0.3M184.8 102.2l0.8 0.5M151.5 15.4l0.2 0.6M191.6 118.7l0.5 0.5M178.9 15.0l-1.0 0.3M187.5 91.3l0.0 0.8M154.2 144.9l-0.3 0.2M195.9 101.7l-0.6 0.8M191.1 101.1l-0.5 0.4M168.8 165.7l-0.2 1.0M167.9 19.5l0.8 0.2M170.8 152.8l0.1 0.6M162.0 -1.9l0.1 1.0M180.6 166.3h0M209.4 105.0l-0.1 0.2M209.4 5.9l0.8 0.2M200.0 -1.5l-0.3 0.4M183.7 141.7l-0.2 0.4M209.6 43.6h0M181.8 -3.5l-0.3 0.4M215.7 103.4l0.2 0.8M212.4 17.0l0.1 0.3M210.0 90.3l0.3 0.0M160.8 181.1l0.6 0.5M188.5 156.7l-0.4 0.5M211.0 133.4l0.2 0.1M202.8 53.0l-1.0 0.2M219.3 29.5h0M169.0 181.5l0.8 0.1M216.2 1.5l0.5 0.6M221.3 142.9h0M146.1 167.3l-0.2 0.5M232.5 86.2l-0.4 0.1M184.4 188.3l0.5 0.0M213.7 97.0h0M206.9 148.4l-1.0 0.2M230.9 37.1l0.6 0.3M187.9 148.5l0.4 0.0M186.9 182.1l-0.0 0.5M224.6 28.9h0M242.2 148.9l0.5 0.9M221.8 148.5l0.1 0.3M252.3 154.2l-0.7 0.1M231.6 49.2l-0.2 0.1M223.8 1.3l-0.1 0.2M240.0 40.7h0M219.7 23.5l-0.3 0.2M237.9 93.1l0.1 0.5M240.9 46.4l0.4 0.9M248.6 159.1h0M223.8 158.8l0.4 0.4M248.7 48.2l0.0 0.3M230.4 166.3l-0.5 0.5M251.1 34.4l-0.5 0.1M230.3 -3.9l0.9 0.1M232.5 32.2h0M224.5 172.1h0M240.1 12.5h0M238.9 74.6h0M244.0 88.5l0.2 0.3M227.0 176.6l-0.2 0.2M244.9 103.1l0.9 0.0M252.0 75.6l-0.9 0.5" stroke="#a868c4" stroke-width="2.5"/><path d="M36.0 112.7h0M25.2 120.2l-0.1 1.0M17.9 76.8l0.3 0.8M43.4 101.1l-0.2 0.2M34.5 94.9l-0.8 0.7M30.7 130.4l-0.4 0.8M11.3 111.1l0.5 0.2M12.9 125.8l-0.3 1.0M4.8 121.3l-0.4 0.3M44.2 114.0l0.6 0.4M27.6 138.1l0.3 0.2M56.6 80.8l-0.1 0.7M52.3 68.4l-0.2 0.4M8.5 71.1h0M44.8 132.3l-0.8 0.2M49.5 93.3l-0.6 0.8M60.9 64.0l0.5 0.0M3.9 113.1l-0.1 0.8M56.8 73.5h0M55.9 124.8l0.3 0.5M1.5 126.2l1.0 0.3M49.3 115.5l-0.3 0.2M35.0 141.8l0.5 0.0M-4.1 128.0l-0.4 0.7M75.5 41.6l0.9 0.5M54.9 65.2l0.4 0.2M69.7 61.5h0M27.9 69.2h0M-0.1 90.7l-0.8 0.0M72.1 54.5l-0.2 0.1M21.4 144.4l0.2 0.7M54.8 104.1h0M89.3 78.7l-0.4 0.2M18.1 50.1l-0.5 0.9M71.5 36.5l-0.0 0.5M73.7 47.5l0.6 0.2M14.2 40.2l-0.1 0.6M86.1 67.0l0.2 0.0M53.6 136.8l0.6 0.7M84.6 106.6l-0.4 0.6M96.8 80.3l-0.1 0.7M34.5 51.5l-0.1 0.5M75.1 95.6h0M83.4 55.5l-0.2 0.2M-3.8 87.2h0M64.6 159.7l-0.4 0.1M63.7 42.0l-0.6 0.2M84.7 124.0l-0.8 0.2M5.3 150.9l-0.2 0.4M94.8 53.4l-0.7 0.7M80.8 110.2l0.9 0.4M-3.8 45.2l-0.6 0.6M28.5 172.5l0.2 0.1M-3.2 52.1l-0.1 0.2M38.7 168.6l-0.1 0.7M115.2 81.6l0.9 0.5M-2.2 169.9l-0.1 0.5M48.2 147.0h0M98.4 99.5l-0.3 0.4M64.8 131.8l-0.7 0.8M48.1 178.5l0.8 0.1M-3.6 162.6l0.0 0.3M122.2 80.9h0M100.8 112.5l0.3 0.2M67.6 21.7h0M81.7 142.1l0.9 0.1M71.6 156.5l-0.8 0.2M49.7 29.7h0M65.6 172.3l-0.3 0.9M101.3 83.4l0.9 0.3M117.5 57.2l0.9 0.3M11.0 33.7h0M15.5 11.4h0M79.7 153.5l-0.4 1.0M53.1 19.8l-0.1 0.3M-5.1 32.9l0.6 0.2M18.2 4.1l0.4 0.7M127.0 66.4l0.5 0.1M67.7 7.6l-0.3 0.8M151.2 90.2l-0.3 0.3M119.1 43.9h0M120.6 76.0l0.3 0.0M108.9 123.9l0.3 0.4M55.0 185.5l-0.0 1.0M100.9 77.4h0M26.7 11.8l-0.8 0.6M122.5 104.5l-0.8 0.7M99.9 8.0l0.2 0.1M111.5 145.5l0.3 0.1M88.4 156.7l0.2 0.3M98.8 158.8h0M64.9 182.6l-0.3 0.2M8.7 6.7l0.1 0.6M89.0 5.0l-0.5 0.2M5.8 19.4l0.2 0.8M93.6 160.9h0M2.6 8.4l0.7 0.6M-0.2 4.0h0M-0.2 175.5l0.6 0.4M148.2 73.9h0M106.8 111.8l0.1 0.4M29.2 -1.4l-0.3 0.3M129.6 104.7l-0.0 0.3M131.8 98.6l0.4 0.3M149.7 103.9l-0.4 0.5M123.6 24.1l-0.2 0.1M154.3 74.7l0.9 0.6M148.0 124.6l0.2 0.3M88.2 163.8l-0.8 0.4M108.1 165.5l-0.9 0.1M135.6 57.2h0M166.3 72.9l1.0 0.2M85.2 174.4h0M126.0 157.3l-0.3 0.2M135.0 143.3l-0.3 0.4M165.6 108.1l0.2 1.0M131.7 150.0h0M160.9 121.5l0.1 1.1M182.8 65.4h0M141.9 158.4l-0.2 0.2M54.0 -3.3l-0.5 0.2M165.6 123.9l0.2 0.0M110.4 175.3l-0.4 0.3M182.6 51.1l-0.3 0.3M102.0 183.9l-1.0 0.3M149.3 6.5l-0.3 0.0M150.6 158.0l-0.4 0.9M112.5 180.5l-0.1 0.7M157.3 159.5l0.2 0.6M188.6 35.5l-0.2 0.3M134.6 180.4l-0.0 0.4M172.7 45.9l-0.9 0.5M141.7 172.3l-0.9 0.1M162.9 145.9l-0.1 0.9M190.1 5.2l-0.4 0.7M143.0 180.2h0M143.9 187.4h0M187.8 85.2l-0.5 0.2M149.3 186.9l0.1 0.5M153.0 30.1l-0.1 0.6M189.3 132.8l0.7 0.1M157.9 10.3l-0.8 0.1M148.0 172.4l0.9 0.3M173.0 12.0l0.3 0.2M173.2 171.0l0.1 0.2M171.4 144.1l0.8 0.7M165.0 153.3l-0.1 0.7M204.9 95.3l0.1 0.3M164.3 185.7l-0.3 0.5M168.1 175.3l0.2 0.3M195.2 15.1l-0.6 0.3M177.1 21.2h0M175.8 161.2l-0.4 0.1M195.0 26.6l0.8 0.3M158.5 187.4l0.3 0.3M203.3 35.1l0.5 0.1M192.2 144.9l-0.3 0.4M213.6 55.2l-0.2 0.4M196.0 137.1l-0.3 0.7M225.9 104.5l-1.0 0.3M205.6 13.5l-0.4 0.2M207.7 38.6l0.5 0.2M223.7 88.9l0.6 0.3M214.6 7.6l0.2 0.3M219.7 37.4l-0.3 0.5M216.3 146.2l-0.7 0.5M229.4 106.3l0.5 0.8M214.9 69.7h0M228.6 8.3l0.3 0.3M188.3 174.8l-0.8 0.0M232.5 73.9l0.2 0.4M221.3 6.9h0M248.2 116.4h0M244.2 36.9l0.3 0.8M207.6 185.5h0M211.4 167.6l0.6 0.2M239.3 68.7l-0.7 0.3M203.1 158.7l0.6 0.7M235.8 15.8l0.7 0.0M234.0 55.3l0.4 0.2M239.9 167.4l0.5 0.5M243.2 19.2l0.1 0.7M250.0 106.3l0.7 0.0M247.5 110.3l-0.8 0.1M234.2 143.4l0.2 0.5M247.1 9.3l0.6 0.2M236.4 88.3l0.4 0.2M244.3 31.3l-0.7 0.1M253.2 111.1l0.2 0.4M230.3 172.5l0.8 0.3M252.5 173.9h0M223.0 165.2l0.4 0.5M252.4 148.1l0.1 0.7M173.0 6.4l-0.6 0.4" stroke="#a868c4" stroke-width="2"/><path d="M20.3 105.7h0M19.7 105.5h0M20.7 105.5h0M55.2 95.8h0M55.2 96.9h0M57.4 96.9h0M29.1 138.3h0M43.9 133.4h0M45.5 132.8h0M39.4 111.5h0M38.5 111.7h0M39.9 112.5h0M61.4 62.8h0M55.4 72.2h0M55.6 73.6h0M63.8 47.5h0M71.9 109.7h0M73.1 108.8h0M72.6 110.7h0M55.0 65.3h0M55.6 63.7h0M73.4 53.5h0M34.7 148.3h0M35.3 150.3h0M33.4 149.7h0M84.0 107.0h0M84.0 107.0h0M83.9 55.8h0M28.7 172.5h0M28.7 171.9h0M28.0 171.0h0M21.1 20.9h0M20.6 21.5h0M58.0 21.8h0M57.3 21.5h0M58.9 20.8h0M69.1 13.1h0M113.7 114.2h0M113.6 113.4h0M94.1 144.3h0M95.6 145.3h0M94.0 144.2h0M69.8 2.4h0M-4.8 34.0h0M-6.0 33.1h0M17.2 4.9h0M121.4 104.8h0M121.6 105.7h0M122.9 104.3h0M98.2 159.3h0M3.0 8.7h0M150.0 59.1h0M150.2 58.8h0M150.0 58.9h0M28.7 -2.5h0M29.7 -1.1h0M148.3 124.5h0M148.3 125.0h0M148.1 123.8h0M133.2 149.3h0M132.1 149.7h0M133.1 149.3h0M92.1 186.7h0M135.8 156.9h0M137.5 157.8h0M136.8 157.5h0M129.6 8.8h0M130.4 8.4h0M132.0 7.1h0M168.7 129.4h0M169.3 40.5h0M168.5 40.6h0M183.2 50.4h0M179.9 122.3h0M141.4 2.6h0M143.5 1.8h0M142.7 3.4h0M176.7 36.9h0M175.4 38.2h0M112.3 182.1h0M112.6 182.2h0M111.6 182.2h0M191.5 119.5h0M191.5 118.8h0M192.3 118.6h0M164.5 145.8h0M163.2 146.1h0M168.5 166.5h0M168.1 20.2h0M168.0 176.3h0M168.6 175.5h0M169.2 175.4h0M210.2 5.9h0M207.9 5.1h0M209.0 6.5h0M192.5 146.2h0M192.5 145.2h0M215.7 104.3h0M216.3 103.5h0M214.0 103.5h0M212.6 15.6h0M212.5 17.4h0M210.9 90.6h0M210.4 91.1h0M211.3 90.6h0M162.0 183.1h0M162.3 181.5h0M161.5 180.9h0M189.0 156.5h0M208.7 37.1h0M207.6 37.9h0M207.9 37.2h0M144.8 167.1h0M146.7 169.4h0M146.1 167.5h0M229.6 106.5h0M224.6 28.0h0M225.3 27.3h0M213.7 69.2h0M215.7 68.9h0M251.2 154.4h0M250.8 154.4h0M250.7 153.9h0M230.4 49.1h0M230.4 48.5h0M232.0 48.7h0M220.0 23.5h0M220.1 23.9h0M248.3 159.5h0M250.1 159.6h0M235.7 16.5h0M236.2 17.5h0M229.2 166.9h0M252.6 34.8h0M242.8 19.1h0M243.0 20.0h0M233.2 33.3h0M231.7 32.1h0M250.1 75.4h0" stroke="#7428aa" stroke-width="1"/><path d="M26.1 121.9h0M26.5 120.7h0M16.8 77.9h0M16.8 77.1h0M24.7 127.1h0M23.3 126.7h0M22.7 127.7h0M14.0 125.4h0M14.4 90.1h0M13.8 90.7h0M14.2 92.0h0M55.5 81.1h0M56.2 80.3h0M56.2 80.0h0M3.7 113.1h0M81.9 76.0h0M82.7 77.0h0M58.5 131.6h0M57.7 130.8h0M21.3 73.7h0M20.2 72.0h0M19.6 72.7h0M25.3 160.3h0M24.9 160.5h0M25.6 160.3h0M75.2 96.9h0M73.7 96.5h0M88.1 98.1h0M86.6 97.7h0M84.5 123.5h0M-4.7 58.7h0M96.3 61.2h0M96.8 61.0h0M73.5 138.2h0M73.7 140.2h0M-1.1 170.1h0M92.9 120.4h0M92.6 120.2h0M100.0 123.9h0M101.1 123.6h0M99.0 123.6h0M63.9 167.1h0M63.5 166.4h0M63.4 167.1h0M72.0 156.5h0M70.8 156.6h0M70.5 157.6h0M116.8 69.8h0M116.7 70.2h0M64.8 172.7h0M64.7 172.3h0M131.6 86.6h0M129.8 88.5h0M109.3 42.3h0M88.5 29.2h0M79.7 154.6h0M78.2 153.6h0M105.6 141.6h0M121.8 109.8h0M121.7 109.0h0M120.8 109.9h0M157.7 92.8h0M159.1 93.8h0M121.2 132.2h0M0.7 176.2h0M-0.8 175.5h0M-0.5 175.8h0M106.3 113.3h0M160.5 98.0h0M159.1 98.9h0M160.9 98.0h0M167.1 72.3h0M166.5 72.6h0M166.7 72.9h0M140.6 140.0h0M138.0 35.0h0M139.7 33.9h0M96.1 181.4h0M95.6 181.2h0M95.6 180.9h0M130.1 20.0h0M128.2 19.5h0M189.5 52.6h0M190.9 52.7h0M180.7 74.8h0M121.7 185.1h0M184.2 103.5h0M185.4 103.6h0M189.5 36.1h0M189.3 36.5h0M173.8 46.7h0M177.6 16.3h0M178.4 15.4h0M187.8 90.9h0M187.7 90.4h0M188.2 91.9h0M154.9 146.0h0M190.5 101.1h0M190.8 101.8h0M190.8 102.5h0M152.9 30.7h0M172.1 151.8h0M172.3 12.9h0M162.7 0.0h0M162.4 -0.3h0M163.1 -0.1h0M165.3 153.4h0M166.2 153.4h0M204.8 95.1h0M184.0 142.3h0M210.5 131.7h0M210.3 132.0h0M225.3 105.1h0M225.6 105.9h0M170.1 182.3h0M215.6 1.5h0M221.5 141.0h0M220.9 141.3h0M232.1 87.5h0M231.5 87.7h0M185.3 188.0h0M185.0 188.0h0M185.2 186.8h0M187.3 182.2h0M220.9 150.0h0M225.3 3.0h0M223.1 1.6h0M224.6 2.6h0M236.7 93.3h0M237.8 93.2h0M241.0 46.1h0M240.0 46.0h0M239.6 46.1h0M229.9 -4.4h0M248.2 109.7h0M247.9 109.6h0M238.5 73.8h0M238.4 73.7h0M244.1 87.6h0M243.6 88.3h0M243.7 88.2h0M245.0 30.8h0M243.2 30.8h0M244.1 31.5h0M227.7 176.8h0M227.0 176.8h0M227.2 177.8h0M252.2 146.9h0M252.2 147.6h0" stroke="#8234b4" stroke-width="1"/><path d="M25.7 82.6h0M16.2 100.9h0M40.2 139.0h0M40.9 137.8h0M16.3 83.1h0M17.2 82.5h0M7.5 142.1h0M55.5 103.1h0M54.8 102.5h0M76.8 133.9h0M78.1 135.2h0M5.3 150.9h0M4.4 150.2h0M92.7 101.3h0M91.8 99.9h0M92.9 100.1h0M68.9 21.7h0M27.6 187.1h0M88.3 4.6h0M88.6 5.9h0M132.3 99.1h0M133.7 98.0h0M126.5 157.6h0M102.7 174.4h0M103.5 175.5h0M53.9 -4.0h0M53.5 -2.9h0M54.3 -3.2h0M109.9 174.5h0M109.7 175.3h0M123.1 179.2h0M121.8 179.9h0M123.4 180.7h0M152.1 15.5h0M152.7 15.7h0M210.1 104.8h0M180.9 -2.4h0M214.2 96.8h0M206.9 148.1h0M205.5 148.6h0M206.4 147.8h0M188.6 148.2h0M189.3 150.1h0M188.1 148.5h0M240.4 41.6h0M240.4 41.6h0M249.3 47.9h0M249.1 48.3h0M249.7 47.5h0M224.8 171.6h0M225.2 171.4h0M234.3 143.0h0M233.4 142.3h0M234.1 144.1h0M245.7 104.4h0" stroke="#a85cc4" stroke-width="1"/><path d="M44.0 115.4h0M4.8 75.8h0M72.1 101.0h0M72.1 100.6h0M71.1 101.5h0M34.9 142.1h0M34.9 142.4h0M43.8 83.9h0M44.3 83.4h0M-1.0 90.6h0M0.1 92.2h0M12.2 54.4h0M11.4 54.8h0M44.0 118.4h0M62.4 138.1h0M62.6 137.4h0M97.0 81.7h0M96.2 82.1h0M83.9 45.3h0M81.6 44.6h0M86.9 110.9h0M85.0 112.8h0M85.8 111.5h0M52.4 158.1h0M101.0 53.8h0M99.5 53.2h0M101.4 53.4h0M65.2 132.1h0M64.5 132.1h0M64.4 132.7h0M26.9 166.3h0M25.4 165.0h0M126.2 72.7h0M11.8 171.1h0M11.4 172.5h0M12.6 171.0h0M15.2 22.6h0M65.3 152.4h0M19.4 176.5h0M19.6 176.9h0M-2.5 30.6h0M-2.2 29.0h0M-0.8 29.0h0M143.9 82.5h0M105.8 26.5h0M105.5 26.9h0M107.2 26.8h0M152.2 89.9h0M151.6 89.1h0M84.0 9.2h0M82.7 7.4h0M109.7 123.9h0M33.1 30.3h0M33.7 30.4h0M103.8 146.4h0M103.8 146.8h0M102.2 148.7h0M89.3 157.5h0M65.0 0.6h0M111.3 107.5h0M109.9 108.7h0M147.2 73.9h0M147.1 73.7h0M147.6 73.8h0M142.9 106.9h0M143.5 107.6h0M87.0 163.9h0M86.6 164.6h0M87.1 162.7h0M106.5 165.9h0M106.4 165.9h0M125.8 138.0h0M125.8 136.3h0M136.6 58.6h0M140.4 54.6h0M140.1 53.4h0M141.3 54.9h0M124.4 146.3h0M124.6 144.7h0M87.4 178.7h0M86.0 179.8h0M88.3 178.8h0M142.9 40.6h0M143.4 40.9h0M143.5 39.5h0M161.4 122.0h0M161.3 123.5h0M161.2 123.8h0M156.0 41.2h0M161.1 39.4h0M161.6 38.0h0M161.4 38.7h0M107.1 184.0h0M106.7 184.2h0M108.2 183.1h0M173.8 135.3h0M173.9 134.0h0M148.2 163.6h0M149.7 163.3h0M149.4 164.5h0M186.9 86.0h0M187.9 85.4h0M187.1 85.2h0M195.9 101.5h0M190.1 132.8h0M180.9 165.0h0M180.4 167.2h0M181.8 166.0h0M199.4 -1.1h0M199.3 0.3h0M199.3 -1.2h0M207.9 43.8h0M208.3 43.7h0M201.9 53.0h0M219.9 29.5h0M232.0 36.6h0M232.1 36.6h0M241.9 149.8h0M243.2 148.6h0M224.8 159.5h0M222.8 160.6h0M223.0 159.6h0M238.6 13.4h0M240.8 12.2h0M247.1 9.3h0M248.3 9.6h0M248.0 9.0h0M237.1 88.7h0M236.1 88.7h0M236.7 87.7h0" stroke="#9444bc" stroke-width="1"/><path d="M36.0 112.9h0M42.9 101.1h0M43.3 101.2h0M34.3 96.1h0M35.1 94.8h0M34.4 94.8h0M54.8 125.8h0M0.5 127.1h0M50.1 114.8h0M49.7 114.8h0M-4.0 128.2h0M-5.1 128.7h0M-4.5 128.6h0M90.1 79.3h0M89.3 79.3h0M86.0 66.9h0M86.9 67.4h0M86.3 67.7h0M34.1 51.5h0M33.1 51.9h0M34.5 51.4h0M81.3 110.4h0M-2.7 51.6h0M115.3 82.1h0M116.0 81.2h0M116.5 82.5h0M121.3 81.0h0M120.7 81.4h0M82.2 141.9h0M83.4 140.9h0M83.1 142.0h0M101.4 83.9h0M67.4 7.4h0M119.4 75.7h0M120.4 76.0h0M102.2 77.9h0M110.4 145.3h0M111.1 145.2h0M112.0 145.1h0M92.6 160.9h0M-0.7 4.5h0M-0.6 3.8h0M156.2 74.9h0M101.0 182.4h0M100.8 183.2h0M101.7 183.5h0M148.9 6.5h0M149.0 6.8h0M148.2 6.3h0M157.4 158.4h0M156.9 158.9h0M157.3 158.6h0M190.4 6.0h0M188.4 4.6h0M142.0 179.5h0M149.9 188.1h0M149.6 186.5h0M173.6 172.1h0M195.3 14.6h0M194.8 15.0h0M194.1 15.4h0M176.9 21.5h0M178.1 20.5h0M177.0 21.0h0M212.4 55.7h0M213.0 56.3h0M196.3 138.4h0M196.6 137.4h0M223.6 89.7h0M218.3 38.0h0M219.7 37.8h0M219.8 37.1h0M215.0 145.7h0M228.7 8.3h0M228.6 9.2h0M231.1 75.6h0M232.7 74.1h0M245.1 37.6h0M243.7 36.4h0M211.8 166.6h0M212.8 168.4h0M237.9 68.1h0M237.8 68.0h0M237.8 67.5h0M234.6 55.8h0M234.5 55.3h0M249.7 105.5h0M249.4 106.4h0M230.6 172.1h0M222.2 165.8h0M222.7 166.1h0M173.5 6.8h0" stroke="#7428aa" stroke-width="0.5"/><path d="M30.7 130.4h0M50.1 94.5h0M49.5 92.8h0M49.3 93.2h0M75.7 42.0h0M75.8 42.1h0M75.4 42.6h0M21.8 145.8h0M20.0 144.8h0M21.0 145.6h0M17.3 49.7h0M18.3 48.9h0M16.8 49.1h0M74.0 47.7h0M65.2 159.9h0M64.4 160.6h0M65.2 160.2h0M63.1 42.4h0M63.7 41.4h0M62.3 42.8h0M-4.7 45.0h0M97.9 99.7h0M97.9 100.7h0M48.0 178.5h0M48.5 179.4h0M116.6 56.0h0M117.9 56.7h0M116.9 56.3h0M16.3 12.4h0M7.6 6.8h0M7.5 7.1h0M8.8 5.8h0M130.2 105.6h0M149.8 158.9h0M135.2 180.6h0M135.6 181.4h0M142.1 172.9h0M142.8 172.1h0M163.5 186.4h0M164.6 187.0h0M163.7 185.9h0M204.0 36.1h0M205.5 14.9h0M205.3 13.8h0M205.3 14.1h0M214.9 7.5h0M214.1 7.6h0M248.7 115.7h0M207.1 184.1h0M208.0 184.4h0M240.9 167.9h0M239.3 168.3h0M251.6 175.6h0M251.7 173.9h0" stroke="#9444bc" stroke-width="0.5"/><path d="M10.6 111.5h0M11.6 111.5h0M4.6 121.6h0M6.0 121.4h0M4.5 121.5h0M52.8 69.4h0M7.9 72.1h0M54.2 138.0h0M54.1 137.7h0M54.5 136.9h0M-4.8 86.7h0M-4.3 86.9h0M-3.9 87.4h0M94.6 53.6h0M94.2 53.6h0M93.6 53.3h0M49.4 147.3h0M48.8 146.3h0M52.5 21.0h0M126.2 66.2h0M127.2 67.6h0M118.5 43.3h0M24.8 11.9h0M5.6 20.5h0M85.6 175.5h0M85.4 175.4h0M135.9 144.8h0M135.6 143.5h0M134.4 143.3h0M182.6 66.1h0M183.2 64.8h0M183.4 66.1h0M144.1 186.8h0M145.2 187.2h0M145.3 186.7h0M175.2 161.6h0M176.3 160.5h0M203.1 158.2h0" stroke="#a85cc4" stroke-width="0.5"/><path d="M68.3 62.6h0M69.5 61.3h0M69.9 61.6h0M27.9 69.4h0M28.7 68.4h0M28.5 69.2h0M71.6 37.9h0M71.3 37.9h0M14.2 40.6h0M13.2 41.5h0M14.2 41.8h0M38.2 170.0h0M37.7 169.5h0M-4.9 162.0h0M-4.6 162.6h0M100.0 113.4h0M50.9 29.6h0M49.7 29.5h0M49.5 29.4h0M10.9 34.7h0M10.2 34.1h0M54.9 186.6h0M98.8 7.4h0M99.7 8.8h0M99.0 8.0h0M66.0 182.9h0M149.6 104.7h0M148.4 103.8h0M123.0 23.5h0M165.6 108.7h0M142.1 158.0h0M165.7 122.4h0M157.4 9.9h0M157.8 10.5h0M157.6 11.1h0M148.4 173.5h0M172.7 144.8h0M171.5 144.8h0M195.2 25.6h0M158.2 188.6h0M157.5 187.4h0M158.3 187.2h0M187.7 174.6h0M189.0 174.1h0M187.8 175.0h0M222.4 7.7h0M222.0 7.6h0M222.1 7.9h0M252.9 110.6h0M253.5 110.4h0" stroke="#8234b4" stroke-width="0.5"/></g>
</svg>
<svg x="260.8" y="196.6" width="248.2" height="182.9" viewBox="0 0 248.2 182.9" overflow="hidden">
<rect width="248.2" height="182.9" fill="#ecc0e0"/>
<g fill="none" stroke-linecap="round" filter="url(#bl08)" opacity="1.0"><path d="M251.3 75.9h0M236.3 60.4h0M244.9 71.5h0M246.7 92.5h0M240.3 56.1h0M250.2 95.6h0M252.5 90.4h0M250.4 69.4h0M240.8 61.3h0M240.3 70.9h0M246.9 64.6h0M220.4 44.1h0M249.0 102.3h0M244.8 53.8h0M216.0 46.1h0M213.4 54.1h0M219.4 81.5h0M212.9 49.5h0M205.6 40.8h0M251.2 57.8h0M252.3 64.1h0M219.7 87.2h0M234.5 96.5h0M238.9 42.9h0M241.3 38.8h0M228.8 97.9h0M213.9 84.1h0M209.2 52.3h0M200.2 43.0h0M202.7 36.1h0M224.2 92.1h0M195.6 61.9h0M206.5 33.5h0M241.2 118.4h0M239.9 124.7h0M210.5 37.2h0M225.4 117.3h0M201.1 28.4h0M208.9 105.8h0M229.0 120.3h0M252.5 35.3h0M225.8 126.6h0M230.7 128.6h0M199.8 21.6h0M206.9 25.4h0M235.5 126.6h0M191.2 63.9h0M204.4 20.6h0M196.7 104.2h0M201.8 16.6h0M239.2 131.8h0M212.9 14.0h0M230.0 133.9h0M151.3 76.6h0M198.8 11.2h0M152.8 70.3h0M185.5 15.1h0M250.9 2.8h0M208.2 13.7h0M212.6 110.2h0M176.2 15.1h0M204.6 110.1h0M231.7 159.5h0M146.3 46.8h0M236.6 144.8h0M143.4 53.5h0M237.2 136.0h0M241.0 142.9h0M139.6 50.7h0M192.5 2.7h0M228.6 165.2h0M163.3 14.5h0M142.6 59.9h0M169.5 14.1h0M245.5 153.3h0M241.6 156.6h0M227.5 160.8h0M181.8 8.3h0M188.9 -3.3h0M210.7 153.9h0M171.1 6.8h0M146.9 58.3h0M194.2 144.7h0M200.6 157.5h0M189.3 147.2h0M241.5 150.1h0M249.4 160.3h0M191.3 137.7h0M227.0 171.5h0M181.4 133.3h0M222.2 153.5h0M218.5 156.5h0M141.9 45.3h0M213.4 168.4h0M135.0 30.3h0M195.6 139.3h0M214.8 150.7h0M133.8 21.7h0M217.9 172.9h0M237.3 159.1h0M241.7 168.7h0M130.0 55.4h0M132.4 43.0h0M132.6 72.6h0M210.2 161.2h0M214.2 158.4h0M129.6 27.9h0M129.3 79.0h0M252.4 165.5h0M145.0 5.5h0M234.5 173.4h0M208.2 173.2h0M205.7 160.5h0M158.4 108.8h0M249.1 173.7h0M155.0 104.7h0M218.6 178.5h0M138.4 4.5h0M130.3 84.4h0M133.8 61.3h0M139.5 0.2h0M169.7 151.3h0M207.5 168.2h0M138.0 -4.4h0M129.1 47.5h0M154.9 100.0h0M123.7 46.0h0M137.1 117.8h0M243.7 175.1h0M168.9 159.8h0M138.5 122.6h0M144.9 -1.9h0M248.8 181.3h0M118.8 50.5h0M148.0 119.0h0M154.7 116.5h0M201.5 170.3h0M151.9 121.2h0M242.7 181.2h0M123.6 5.5h0M135.2 144.6h0M234.2 178.3h0M108.5 23.5h0M252.1 177.1h0M162.8 160.3h0M129.7 139.1h0M132.1 121.4h0M173.9 154.4h0M171.2 179.5h0M202.1 183.6h0M121.5 135.1h0M115.4 2.3h0M123.0 120.6h0M118.2 -2.9h0M207.7 177.7h0M164.7 179.1h0M170.2 174.4h0M127.8 170.9h0M124.0 130.6h0M123.7 139.3h0M115.5 140.7h0M122.1 144.0h0M116.4 128.4h0M115.6 120.5h0M84.4 27.9h0M115.2 133.0h0M86.0 22.2h0M89.5 12.0h0M82.3 36.2h0M81.4 20.5h0M108.7 110.8h0M123.7 167.6h0M109.9 151.7h0M170.5 184.6h0M78.9 32.0h0M75.9 37.7h0M69.7 37.8h0M141.3 181.1h0M137.1 176.7h0M86.2 111.2h0M66.3 69.6h0M71.6 49.7h0M58.1 72.2h0M87.4 106.5h0M62.2 63.1h0M70.2 44.2h0M64.3 58.5h0M130.7 186.7h0M58.8 60.2h0M107.7 177.5h0M107.1 185.7h0M76.7 116.2h0M143.2 177.1h0M49.9 82.3h0M68.7 121.0h0M46.4 7.1h0M125.4 147.2h0M49.1 88.7h0M62.3 67.6h0M83.8 165.9h0M51.4 93.2h0M45.5 84.1h0M45.1 -0.2h0M54.5 -0.2h0M48.5 127.5h0M39.9 121.7h0M48.2 118.1h0M41.3 32.1h0M84.9 160.3h0M27.3 96.4h0M43.8 134.7h0M87.3 156.3h0M49.8 -2.7h0M23.6 77.3h0M84.6 172.9h0M34.9 117.9h0M30.8 122.7h0M42.6 92.0h0M43.6 129.5h0M27.3 102.7h0M38.4 56.4h0M38.2 134.6h0M34.7 64.3h0M31.7 102.2h0M34.6 21.4h0M22.9 93.6h0M34.8 107.3h0M61.5 172.1h0M49.7 142.9h0M38.0 24.5h0M33.4 36.0h0M55.9 171.4h0M24.4 67.8h0M40.7 39.7h0M36.6 99.9h0M30.3 62.3h0M55.8 162.7h0M47.7 148.7h0M32.8 54.3h0M33.7 138.6h0M17.2 118.4h0M15.2 27.6h0M8.5 14.8h0M32.4 41.0h0M24.7 36.1h0M42.1 139.1h0M47.7 138.9h0M37.0 111.6h0M3.9 9.4h0M13.0 12.1h0M0.7 15.3h0M22.2 116.7h0M35.1 28.9h0M49.9 97.4h0M51.5 155.6h0M25.9 62.9h0M43.3 146.3h0M34.8 131.8h0M12.4 23.4h0M32.5 145.0h0M43.5 155.6h0M49.1 179.7h0M49.4 170.3h0M50.1 161.0h0M45.5 161.7h0M29.3 37.8h0M49.2 175.2h0M51.8 150.7h0M39.5 159.5h0M36.1 155.9h0M-1.6 72.3h0M10.0 6.7h0M33.4 58.8h0M8.7 117.5h0M10.4 112.7h0M29.8 149.5h0M11.9 35.4h0M40.9 151.8h0M16.4 39.5h0M-3.0 12.1h0M6.9 36.5h0M10.8 28.3h0M6.1 108.6h0M0.8 116.4h0M0.3 110.5h0M9.9 155.3h0M12.8 -3.5h0M2.0 121.4h0M19.1 157.3h0M13.7 162.1h0M-1.2 132.7h0M2.2 127.5h0M12.9 119.3h0M5.0 114.2h0M-1.8 138.2h0M0.2 146.9h0M-0.2 157.6h0M-3.9 106.8h0M4.4 155.2h0M6.9 151.5h0" stroke="#e692cc" stroke-width="7"/><path d="M243.2 82.9l-0.3 0.3M238.9 89.8l-0.4 0.6M244.1 78.0h0M235.7 72.2l-0.3 0.5M229.1 75.7h0M232.6 66.7l-0.1 0.2M248.5 80.5l0.7 0.1M225.0 65.5l0.5 0.5M235.0 55.3l-0.1 0.6M229.8 63.1l0.1 0.3M238.3 83.6l-0.6 0.2M237.3 78.6l0.1 0.2M236.7 67.0l0.3 0.0M229.4 56.2l-0.5 0.3M243.0 66.6l-0.6 0.4M221.0 70.4h0M224.0 47.5l0.5 0.3M219.3 51.5h0M243.3 100.6l-0.5 0.4M247.5 107.2h0M226.5 86.5h0M235.7 45.3l-0.4 0.5M214.3 67.7l-0.1 0.2M211.4 59.3l-0.2 0.2M207.0 72.4l0.0 0.4M229.3 93.1l-0.3 0.2M206.9 47.9l0.1 0.7M219.3 66.6l-0.4 0.4M237.9 50.0l-0.4 0.3M242.1 50.0h0M195.9 53.6l-0.1 0.6M243.5 105.6l-0.4 0.5M243.6 95.2l-0.5 0.0M201.0 67.9l-0.5 0.4M244.2 45.3h0M201.7 62.2l-0.1 0.4M223.6 103.6l-0.4 0.4M250.4 41.8h0M238.6 94.0l-0.2 0.7M233.6 36.5h0M221.6 76.6l-0.0 0.2M200.3 48.2l-0.5 0.1M205.6 59.9h0M250.9 50.8l0.7 0.2M177.3 49.8l-0.1 0.4M196.5 40.1l-0.5 0.5M179.4 41.6l-0.2 0.2M241.8 110.6l0.1 0.5M222.8 111.9l-0.5 0.1M215.8 71.0l0.5 0.1M199.4 56.0h0M232.3 102.1h0M235.3 109.3l0.0 0.5M229.6 109.9l-0.2 0.1M245.6 128.1h0M186.8 58.2h0M179.0 55.2h0M236.5 115.5h0M227.6 30.6h0M201.4 76.5h0M218.7 92.4l-0.5 0.4M220.5 118.7l0.7 0.4M239.0 25.9l-0.0 0.7M179.9 59.9h0M210.7 77.1h0M190.3 39.3l-0.1 0.3M233.9 90.6h0M213.6 91.2l0.6 0.3M235.7 121.3l0.2 0.5M236.8 33.5l0.2 0.2M232.8 32.2l-0.6 0.3M194.4 31.8h0M241.3 18.4h0M222.1 27.2l0.3 0.1M164.9 44.6l0.1 0.2M211.4 42.1l0.8 0.0M215.3 125.1l-0.1 0.2M247.6 135.5l0.5 0.1M229.6 36.0h0M252.3 106.0l0.1 0.8M206.5 80.2h0M188.8 26.9h0M191.9 54.4l0.2 0.2M197.2 78.4l-0.3 0.3M170.6 52.3l-0.2 0.4M219.4 24.1h0M251.2 122.9l0.4 0.4M194.2 69.7l0.1 0.5M203.5 91.1l-0.0 0.2M184.4 37.0h0M236.4 20.9l-0.3 0.1M218.4 29.1l0.2 0.5M231.3 15.6l-0.1 0.3M186.7 42.9l0.2 0.8M195.0 22.9l0.1 0.4M252.6 25.1l-0.4 0.0M165.7 67.4l0.5 0.2M164.3 57.5l-0.2 0.5M165.5 37.1h0M189.3 78.4h0M200.6 85.0l0.6 0.2M214.0 95.1l0.6 0.1M199.4 96.1l0.2 0.0M171.3 36.1l0.2 0.1M211.4 31.8l-0.3 0.7M188.6 31.9l-0.1 0.4M181.2 29.6h0M181.1 34.0h0M244.5 15.7l-0.6 0.0M234.6 9.5l0.0 0.3M160.3 48.4l0.1 0.5M216.4 37.4l0.2 0.4M221.8 124.9l0.3 0.6M176.3 37.2l0.2 0.0M159.9 32.0h0M211.5 133.1l0.0 0.3M238.5 106.3h0M221.1 16.8h0M159.1 68.2l-0.3 0.4M174.5 69.4l0.2 0.3M175.5 64.4l-0.8 0.2M226.6 8.9l0.2 0.2M207.9 17.9l-0.2 0.4M203.7 99.2l-0.1 0.2M204.2 10.8l0.3 0.4M170.7 69.7l-0.2 0.4M173.2 31.6l0.1 0.2M180.0 47.2h0M161.0 78.7l0.8 0.2M210.2 120.8l-0.2 0.3M159.5 74.8l-0.2 0.1M164.3 63.2h0M220.4 129.9l0.2 0.4M240.1 6.3l-0.2 0.6M219.1 107.2h0M153.8 50.6l-0.2 0.2M213.1 21.4l0.4 0.5M190.1 83.5l0.2 0.6M177.9 26.4l-0.4 0.3M185.5 90.1l0.0 0.8M209.7 98.6l-0.2 0.3M198.5 90.9h0M157.8 38.7l-0.6 0.0M219.8 8.9h0M225.5 13.1l0.2 0.3M169.3 28.7l0.2 0.1M181.0 71.1l0.7 0.1M216.6 114.4h0M213.9 105.2l0.4 0.1M232.0 5.4h0M210.1 9.1l-0.3 0.6M165.0 53.0l-0.2 0.6M238.0 2.4l-0.1 0.2M220.3 135.7l-0.5 0.1M158.9 53.8l0.4 0.6M157.6 59.5l-0.7 0.2M225.7 3.7l-0.5 0.0M215.6 129.6h0M246.0 9.4l0.2 0.7M148.1 53.9h0M167.0 24.6l0.2 0.5M176.7 79.2h0M252.0 17.8l0.5 0.3M189.8 16.6l-0.3 0.0M154.8 64.4l0.7 0.3M183.3 25.5l-0.5 0.6M184.0 75.4l-0.8 0.1M216.6 -0.0l-0.1 0.6M201.9 105.3h0M187.5 21.9h0M209.5 127.5l0.7 0.4M150.5 33.2h0M197.8 17.3l-0.2 0.1M165.3 81.3h0M162.3 23.0l0.7 0.2M159.6 26.0l-0.1 0.2M168.9 87.1l0.2 0.0M155.1 29.2h0M210.1 138.7l0.2 0.2M204.8 3.6l0.3 0.3M193.4 10.5h0M211.5 1.5l0.3 0.1M228.7 139.6l-0.1 0.3M175.9 19.7h0M216.0 5.7h0M197.7 108.6l0.5 0.2M214.7 120.2l-0.3 0.3M189.0 7.2l0.1 0.2M238.6 -3.1l0.1 0.4M204.5 130.4l-0.4 0.4M182.8 78.9l-0.5 0.2M233.4 141.1l-0.3 0.0M164.8 93.3l-0.2 0.2M224.9 -2.3l0.3 0.7M157.5 44.0l-0.2 0.0M247.0 5.3h0M202.4 115.3l-0.1 0.2M157.9 81.8l-0.7 0.0M252.6 133.1l-0.2 0.2M144.2 28.5l-0.2 0.1M224.5 132.7l0.6 0.4M147.9 66.1l-0.2 0.0M188.8 107.8l0.4 0.6M199.4 0.4l0.4 0.2M202.4 -4.1l-0.2 0.1M219.7 -4.6l-0.5 0.4M213.0 -4.2l0.1 0.3M203.3 134.5l0.2 0.3M168.9 19.2h0M175.8 74.0h0M180.9 12.6h0M152.6 24.7l0.1 0.7M206.1 117.5l-0.1 0.3M247.2 140.3l0.7 0.0M198.4 125.8l-0.0 0.3M155.8 12.0h0M178.4 92.4l0.6 0.1M233.7 26.9l-0.0 0.6M226.1 143.9l-0.3 0.1M248.0 28.6l0.2 0.6M164.8 87.2l-0.3 0.2M190.7 124.8h0M160.6 7.6l0.0 0.6M199.8 130.6l-0.7 0.3M145.4 74.8l0.5 0.3M161.1 91.2l0.2 0.5M185.0 97.7l-0.1 0.6M206.9 151.2l-0.2 0.3M154.2 4.5l-0.3 0.0M152.3 81.8l-0.4 0.1M186.5 127.7l0.0 0.6M189.7 132.3l-0.5 0.3M179.9 100.5l0.1 0.5M226.9 152.6h0M136.0 56.3l0.6 0.5M231.8 168.5h0M234.1 163.3l-0.3 0.3M198.8 149.8l0.2 0.1M153.5 85.8l0.4 0.4M160.3 1.8l-0.3 0.3M186.7 2.0l0.3 0.3M211.4 146.0l-0.7 0.2M221.4 170.4l-0.0 0.7M184.7 110.5l-0.2 0.2M165.4 3.3l0.3 0.7M145.1 80.8h0M170.8 92.6l0.1 0.5M156.5 90.5l0.1 0.2M139.9 73.8l-0.8 0.2M214.9 136.0l0.2 0.6M149.4 18.4l-0.4 0.3M188.2 115.1l0.6 0.0M140.6 31.1l-0.6 0.2M172.7 97.4l-0.3 0.1M190.8 119.7l0.4 0.6M138.1 25.7l0.1 0.6M173.7 11.0h0M197.2 -3.6l-0.3 0.2M149.1 7.1l0.5 0.6M179.6 4.0l-0.1 0.6M181.6 105.5h0M244.5 160.9l-0.5 0.2M136.3 35.0l-0.3 0.4M172.2 2.0h0M151.9 45.8l0.2 0.7M160.5 98.6l0.3 0.3M152.3 94.0l-0.4 0.4M177.6 113.8l-0.3 0.1M177.0 -3.7l0.6 0.4M149.8 101.3l-0.2 0.3M183.1 -3.5h0M252.0 147.9l0.1 0.2M146.7 24.2h0M224.0 139.2l-0.3 0.1M193.5 156.2l-0.7 0.3M252.2 152.6l0.6 0.4M168.2 101.2h0M248.8 168.3h0M187.2 156.9l-0.6 0.3M137.8 86.6l0.1 0.7M171.7 103.2l-0.3 0.7M141.6 91.3l0.3 0.7M134.7 65.7l0.3 0.0M202.8 165.4l-0.5 0.2M239.3 163.6l-0.1 0.6M184.3 147.9h0M169.3 -2.7l0.1 0.5M163.3 104.3l0.0 0.5M144.1 14.5l-0.1 0.6M224.8 178.3l0.3 0.0M186.5 135.8l0.7 0.1M181.8 141.9l0.2 0.2M141.0 78.5l-0.3 0.3M175.1 120.4h0M183.2 115.8l-0.3 0.0M126.8 61.3h0M177.8 143.1l-0.7 0.2M197.6 163.0h0M139.0 62.2h0M171.0 140.3l0.4 0.2M168.5 135.1l0.4 0.6M173.2 145.3l-0.2 0.4M147.0 11.0h0M155.6 -0.1l-0.3 0.0M129.7 16.1l0.2 0.8M169.4 130.7l-0.5 0.1M135.0 12.1l-0.5 0.3M177.9 150.9h0M167.1 142.7l-0.6 0.3M167.5 111.7h0M144.5 104.3h0M139.5 101.9h0M160.7 123.3l0.1 0.2M130.8 97.4l0.2 0.0M229.5 175.8l-0.4 0.2M116.8 36.8l0.5 0.0M236.3 168.6l0.7 0.3M163.2 139.2l0.3 0.3M120.4 41.6l-0.3 0.6M151.9 111.6h0M181.0 161.9l0.5 0.4M136.3 95.7l-0.4 0.5M140.5 96.3l0.3 0.4M143.4 111.2l0.6 0.3M129.5 91.4l0.5 0.3M177.7 135.6l0.2 0.6M187.0 151.6h0M125.3 97.7l0.4 0.6M131.1 37.9l0.1 0.2M118.6 45.3l-0.2 0.4M155.7 96.1l0.5 0.0M121.9 90.2l-0.1 0.5M157.2 130.0l0.7 0.1M154.4 133.7l-0.2 0.3M137.0 46.7l-0.0 0.4M115.4 41.9h0M176.3 163.4h0M149.5 132.0l-0.1 0.5M126.2 22.4l-0.6 0.5M120.9 65.7l0.3 0.1M150.1 107.8l-0.1 0.4M118.0 76.0h0M110.8 38.1l0.1 0.6M113.3 47.4l-0.5 0.2M121.8 61.9h0M135.0 100.5l-0.0 0.5M126.4 8.4l-0.2 0.5M114.7 53.4l-0.3 0.7M194.8 166.0l0.4 0.4M150.0 128.1h0M181.7 168.0l0.6 0.2M115.1 69.9l-0.8 0.2M186.9 171.6l-0.6 0.0M161.6 127.7l-0.3 0.3M251.3 142.9l0.2 0.3M132.9 1.6l0.3 0.2M160.5 114.0l-0.2 0.1M131.6 112.4l0.3 0.4M119.1 83.1h0M145.2 99.8l-0.0 0.5M163.4 109.9l-0.4 0.3M103.8 42.5l0.2 0.0M119.9 71.9l0.6 0.4M133.1 105.0l0.3 0.4M130.3 -3.7l0.0 0.7M116.0 64.5l-0.3 0.2M140.7 106.3l-0.3 0.7M138.6 22.1h0M136.2 108.9l0.4 0.4M173.3 135.7h0M146.1 139.7l-0.1 0.7M164.6 133.3l-0.5 0.2M132.9 5.4l-0.3 0.5M147.6 113.5l-0.1 0.5M239.4 176.1h0M221.4 181.8h0M196.3 173.1l0.2 0.1M142.6 127.1l-0.3 0.1M110.0 71.4l-0.4 0.4M187.4 177.1l-0.4 0.4M103.0 67.4l0.0 0.7M203.4 177.4h0M210.8 183.6h0M121.5 22.9h0M171.0 107.2l0.5 0.5M112.7 6.6h0M141.3 138.1l0.1 0.7M123.7 103.4h0M122.9 -1.0l-0.2 0.3M115.6 17.9l-0.6 0.5M123.9 112.8h0M144.2 134.1h0M130.1 145.8l-0.3 0.2M181.3 154.2l-0.1 0.3M139.0 134.0l-0.1 0.4M196.8 180.2l0.5 0.4M113.9 26.9l0.4 0.3M147.2 144.6l0.4 0.2M127.6 108.4l-0.5 0.6M120.6 94.3h0M111.3 79.8l0.4 0.2M108.2 57.9h0M95.9 40.3h0M135.9 137.7l-0.3 0.4M128.6 117.9h0M107.4 34.3l-0.3 0.2M121.0 13.9l0.6 0.1M137.0 150.1l0.3 0.1M131.2 125.4l0.6 0.3M111.6 85.7l-0.3 0.1M110.2 43.3l0.0 0.5M129.1 132.8l-0.2 0.5M251.7 185.2l-0.2 0.5M174.4 169.9l0.1 0.2M101.1 37.7l-0.1 0.5M191.2 170.2l-0.1 0.5M105.5 29.0h0M105.9 2.2l0.2 0.2M162.6 155.2l-0.3 0.5M242.0 187.2l-0.5 0.2M102.5 31.3l-0.6 0.3M169.8 167.9l0.3 0.4M106.3 64.6h0M192.4 176.4h0M106.5 84.4l-0.3 0.5M176.7 159.2l0.3 0.7M127.8 2.9l0.7 0.4M150.0 151.6l-0.6 0.4M106.7 49.5l0.0 0.3M93.5 35.5h0M118.1 112.7l-0.3 0.1M217.5 184.2l-0.4 0.6M99.5 44.5l0.0 0.5M98.1 27.2l-0.1 0.5M155.4 154.8h0M96.3 67.3l-0.3 0.7M143.0 153.7l0.2 0.3M94.7 46.2l-0.4 0.1M117.3 102.4l0.5 0.3M207.4 187.0l-0.4 0.2M128.4 159.4l0.4 0.4M92.9 62.4l0.8 0.1M194.8 185.6l0.2 0.0M104.8 9.8l-0.8 0.1M156.6 146.0l-0.4 0.3M121.1 108.2l0.3 0.7M130.9 163.3l-0.3 0.0M119.7 125.4l0.4 0.1M126.8 122.8h0M186.8 184.3l0.1 0.3M116.4 92.9l0.4 0.5M100.3 22.0h0M115.0 115.4l0.4 0.1M95.8 51.6h0M96.4 18.7l0.5 0.1M101.6 88.8l-0.5 0.2M175.8 185.9l0.2 0.2M144.5 120.8h0M223.7 185.5l0.5 0.2M158.6 158.3l0.5 0.3M160.3 150.7h0M112.3 74.4l0.0 0.5M107.5 97.0l0.5 0.2M99.4 54.8l-0.5 0.2M98.0 33.0l-0.3 0.0M88.9 39.5l-0.1 0.3M163.2 118.7l-0.4 0.4M157.4 179.5l-0.5 0.5M98.5 76.4l0.8 0.2M115.0 98.2h0M93.7 90.3h0M148.4 179.3l-0.1 0.7M150.6 163.2l0.2 0.0M112.3 -1.7h0M95.9 83.9l-0.1 0.4M112.3 106.4l0.7 0.2M116.3 87.1l0.6 0.5M140.1 158.4h0M89.6 87.6h0M103.6 102.9h0M92.4 5.6l-0.2 0.4M88.2 79.6l0.0 0.4M90.9 94.7l0.6 0.2M98.4 8.5l0.0 0.5M191.9 182.2h0M104.5 19.1l0.3 0.3M108.1 102.5l0.6 0.4M105.8 78.5h0M95.0 100.7l-0.5 0.2M89.8 -3.0h0M95.6 -3.9l0.3 0.0M89.2 17.4l-0.6 0.5M101.4 118.5l0.2 0.6M101.4 -2.1l0.4 0.3M89.5 27.5l-0.7 0.1M82.6 78.3l0.8 0.0M156.5 164.9h0M165.6 173.6l-0.8 0.2M112.4 101.5l-0.1 0.7M89.4 100.6l0.4 0.0M151.2 170.0h0M85.2 1.8l0.5 0.0M87.8 56.7l-0.1 0.2M91.2 82.1l0.0 0.5M79.8 3.7l0.5 0.2M108.6 144.0l-0.2 0.4M107.0 121.8l-0.3 0.1M88.6 61.6l-0.0 0.3M79.6 40.7l0.4 0.5M156.9 168.7l0.5 0.1M84.2 49.3l-0.2 0.2M141.5 163.7l0.7 0.3M101.0 144.1l-0.1 0.2M146.7 166.5h0M116.4 148.4l0.0 0.2M102.7 106.3l-0.2 0.4M123.8 160.7l0.5 0.6M93.9 25.2l0.1 0.2M86.0 93.8l0.6 0.2M110.0 130.2l0.6 0.1M94.1 73.5h0M79.4 51.6l0.5 0.6M102.2 128.4h0M82.7 55.4l-0.3 0.4M80.4 60.2l-0.1 0.3M162.8 186.8h0M146.5 156.5l0.2 0.0M82.7 10.7l0.2 0.1M102.6 114.6h0M97.8 92.3l-0.3 0.2M84.1 5.3l0.3 0.7M81.8 15.0l0.0 0.2M157.5 185.7h0M77.1 9.8l-0.3 0.0M92.3 0.8h0M83.2 65.1h0M104.7 153.7l-0.2 0.7M121.1 156.0l0.3 0.3M97.9 105.0l0.2 0.4M74.7 62.4l0.4 0.4M77.0 22.9l0.4 0.2M151.8 184.1l0.0 0.7M71.8 84.2l-0.2 0.3M105.0 14.6l-0.6 0.4M69.8 23.1h0M81.3 100.4l-0.3 0.3M72.0 16.5l-0.4 0.5M118.9 162.1h0M91.7 126.0l0.4 0.2M111.2 136.8l0.2 0.6M81.3 91.7h0M66.6 11.2l-0.2 0.2M141.8 148.4l0.1 0.7M143.8 170.7l-0.1 0.2M101.8 3.2h0M74.4 5.7l-0.0 0.7M74.4 92.4l0.1 0.4M111.9 147.1l0.3 0.3M84.4 129.0h0M136.5 167.4h0M83.4 -4.9l-0.5 0.3M70.7 97.3l0.2 0.2M80.3 105.3h0M88.2 7.1l-0.1 0.7M126.7 182.2l0.1 0.2M119.7 181.2l-0.5 0.4M95.1 131.2h0M79.5 127.5l0.5 0.5M94.2 109.3l0.4 0.2M88.4 118.7l-0.6 0.1M79.6 70.0h0M86.2 124.6l0.1 0.3M62.9 95.7l-0.2 0.5M100.0 139.2l-0.1 0.4M68.9 58.1h0M104.4 148.3l0.3 0.4M113.1 181.6l-0.6 0.1M108.4 158.7l0.5 0.4M127.6 176.4l0.3 0.1M72.5 55.4l-0.4 0.3M77.7 -3.4l0.1 0.3M145.9 184.9l0.1 0.3M72.4 69.3h0M74.3 104.1l-0.4 0.0M90.1 132.0l0.6 0.1M89.5 136.3l-0.3 0.1M66.3 53.4l-0.1 0.3M62.0 104.5l-0.2 0.4M57.1 66.4h0M65.8 32.9l0.2 0.1M81.4 114.0h0M99.2 134.9l0.1 0.7M120.9 149.3h0M70.0 104.6l0.6 0.2M121.4 185.9l0.4 0.1M84.9 135.1l-0.1 0.2M93.1 138.4l0.6 0.4M96.6 142.4l0.2 0.4M74.4 126.5l-0.5 0.0M136.4 183.6h0M73.2 133.1l0.3 0.1M73.2 26.3h0M66.4 47.7h0M132.5 173.9l-0.4 0.4M85.2 139.8l-0.3 0.1M72.3 109.0l-0.2 0.3M116.1 166.5h0M65.6 24.5l0.5 0.5M111.6 166.7h0M139.7 171.3l0.6 0.4M88.0 148.7l0.5 0.2M98.6 150.6l0.1 0.4M58.1 52.9l0.2 0.4M76.0 137.9h0M98.8 158.0h0M65.4 112.1l-0.4 0.2M91.4 105.4h0M62.8 88.2h0M55.8 97.0h0M64.6 17.8l-0.1 0.3M56.1 92.9l0.2 0.1M59.0 112.5l-0.8 0.0M59.4 14.4l-0.3 0.7M65.6 40.3l0.3 0.0M70.9 73.1l-0.3 0.3M106.0 166.6h0M78.1 109.3h0M54.2 107.5l0.4 0.1M70.6 130.0h0M94.6 177.8l0.6 0.0M61.1 76.5l0.2 0.1M53.7 70.8h0M52.5 10.4l-0.3 0.3M61.2 44.6l-0.4 0.3M69.8 114.0l-0.4 0.3M49.5 114.2l0.2 0.2M57.9 9.4l0.4 0.3M91.6 164.0h0M64.6 83.6l0.2 0.7M58.7 2.4l-0.6 0.3M65.0 126.7l0.3 0.3M67.2 116.5h0M73.4 78.4l0.3 0.1M53.6 63.8l0.3 0.2M99.7 166.2l0.6 0.4M69.1 6.5l0.3 0.2M43.4 117.8l-0.2 0.0M81.7 138.7l-0.5 0.1M58.2 117.1l0.5 0.2M65.9 145.4l-0.2 0.1M51.8 74.7l0.5 0.4M44.4 12.4l0.1 0.5M76.4 142.3l0.6 0.3M65.0 -3.0l-0.3 0.1M43.9 79.3h0M48.5 73.3l-0.3 0.1M104.7 140.2l0.5 0.4M35.8 79.0l0.6 0.2M95.0 172.0l-0.4 0.4M55.0 58.6l0.4 0.1M35.9 83.6l0.3 0.4M100.0 182.0l0.4 0.5M47.6 66.5l0.0 0.4M107.3 170.8l0.3 0.4M60.9 121.7l0.2 0.5M67.7 149.6l-0.1 0.3M61.3 148.4l-0.5 0.4M102.5 172.5l0.6 0.1M49.9 107.4l0.0 0.6M60.2 30.3h0M60.7 24.4l0.2 0.4M52.8 50.4h0M40.9 85.8l-0.4 0.3M53.1 102.0l0.0 0.4M66.0 107.3h0M54.2 88.2h0M56.2 20.7l-0.3 0.5M51.7 4.5h0M46.9 40.7h0M39.4 15.9l-0.0 0.7M31.9 78.8l0.1 0.3M44.4 107.2l-0.4 0.4M69.7 155.0h0M47.7 45.8l-0.4 0.0M55.3 124.2l-0.1 0.8M95.4 167.0l-0.3 0.5M52.7 116.5l0.4 0.2M98.6 175.1l0.0 0.2M47.3 123.2h0M60.5 129.1l0.0 0.3M54.0 34.4l0.5 0.3M52.4 16.9l-0.4 0.2M88.0 184.5l-0.6 0.2M72.2 145.9l0.2 0.1M50.6 32.9h0M46.5 94.2l0.4 0.6M27.1 83.0l0.2 0.0M31.6 16.5l0.1 0.7M40.1 4.4h0M77.5 154.4l0.4 0.1M58.7 137.5l0.3 0.6M69.0 134.7l-0.6 0.4M87.9 177.9h0M78.3 170.3l-0.2 0.2M37.9 -0.0l0.3 0.0M44.3 17.2l-0.6 0.3M58.1 47.7h0M41.0 98.1l-0.1 0.2M51.8 22.2l-0.4 0.7M46.2 53.0l-0.2 0.4M25.6 19.6l-0.2 0.2M66.0 158.7l0.5 0.4M27.7 74.2l-0.7 0.1M75.5 174.6l0.3 0.1M61.0 35.3h0M32.0 73.4h0M59.6 142.7h0M142.3 187.3h0M73.3 164.9l0.7 0.4M21.3 101.2l-0.5 0.4M79.5 159.9h0M70.3 168.6l-0.2 0.5M36.8 126.7h0M41.2 52.5l0.5 0.4M53.5 40.0h0M40.9 64.7l0.5 0.5M29.5 12.5h0M69.5 163.0h0M80.3 178.0h0M62.0 50.7l-0.2 0.3M42.5 71.6l0.2 0.2M66.8 181.7l-0.2 0.1M83.5 180.3h0M26.1 1.9h0M54.3 130.7l0.2 0.1M91.8 182.6l-0.5 0.3M35.0 95.1l0.3 0.4M74.2 185.0l0.2 0.5M33.3 8.4l0.7 0.4M40.0 9.4l-0.2 0.7M35.4 89.7l0.0 0.2M38.1 60.7l-0.8 0.1M32.0 68.4l-0.2 0.6M31.9 112.5h0M45.8 22.5l-0.8 0.0M54.1 138.2l0.2 0.1M63.5 164.0l-0.3 0.7M28.1 26.5l-0.3 0.3M23.2 -1.1l-0.5 0.4M60.1 107.6l0.3 0.6M78.6 181.3l-0.5 0.2M18.1 15.8l-0.5 0.1M66.4 176.2l-0.2 0.2M17.4 7.4l-0.3 0.1M24.1 7.2l-0.2 0.5M29.9 108.0l-0.3 0.5M45.9 29.0h0M32.2 25.0l-0.4 0.1M43.5 47.8l0.6 0.3M19.1 69.8l-0.2 0.8M10.8 82.9l0.6 0.2M19.0 97.9l-0.8 0.1M71.7 118.2h0M55.1 182.0l-0.4 0.2M23.0 111.5l0.2 0.7M44.0 61.7l0.6 0.3M18.2 88.7h0M29.8 129.3l-0.6 0.3M15.5 19.7l-0.3 0.4M9.4 76.0l0.8 0.1M27.0 46.9l-0.4 0.4M28.7 57.3l0.2 0.1M25.5 52.8l-0.3 0.0M31.3 49.2l-0.6 0.2M12.8 68.6h0M28.2 141.5l-0.2 0.1M17.2 46.3l-0.0 0.8M35.7 50.2l-0.3 0.1M51.0 166.2h0M7.2 78.9l-0.2 0.4M18.9 65.2l0.6 0.4M14.3 57.3l0.5 0.5M-4.3 22.2l-0.2 0.5M37.4 141.9h0M70.3 172.8l0.2 0.1M6.6 22.7h0M12.3 63.0l0.4 0.0M23.1 29.6l-0.6 0.5M3.3 71.4l0.1 0.3M66.2 171.1l0.3 0.4M2.8 24.5l-0.0 0.2M37.6 147.1l0.3 0.6M57.6 157.7l-0.5 0.4M13.6 99.2l-0.1 0.4M42.1 176.7h0M26.3 137.1h0M23.6 133.3l-0.1 0.2M21.0 121.3h0M20.5 136.7l0.7 0.2M21.8 107.1l0.7 0.2M11.7 52.6l0.3 0.5M43.9 165.6l-0.2 0.2M49.9 185.2l0.3 0.5M15.4 123.3h0M-1.4 27.8l0.1 0.5M34.4 -4.2l-0.7 0.1M29.3 -2.7l-0.2 0.2M22.3 48.0l-0.3 0.1M6.7 90.3h0M0.5 85.5h0M8.0 31.9l-0.1 0.7M4.7 29.2h0M37.6 167.5l0.5 0.1M15.5 133.5l0.2 0.2M8.1 68.7h0M2.4 62.7l0.1 0.5M5.5 84.6l-0.0 0.4M13.4 43.6l0.1 0.7M0.9 20.4l0.2 0.3M14.1 142.4l0.6 0.2M0.6 77.6h0M46.9 153.4l-0.1 0.3M5.4 93.4l-0.2 0.8M11.2 130.8l-0.7 0.1M9.6 56.3l-0.6 0.4M19.7 2.8l-0.2 0.6M0.7 32.8l-0.0 0.4M5.3 101.7h0M-1.3 66.8l0.7 0.1M9.8 18.9h0M5.7 18.5h0M6.9 3.4l-0.0 0.6M14.4 0.5h0M2.3 99.0h0M6.9 -1.9l-0.2 0.2M10.5 134.9l0.3 0.6M14.6 85.7l-0.2 0.1M21.4 147.2l0.4 0.4M0.1 43.0l-0.1 0.6M34.7 184.9l-0.4 0.4M8.5 45.3l-0.2 0.3M1.8 89.8h0M16.1 150.9l0.4 0.6M-1.3 53.8l-0.1 0.2M23.5 143.1h0M-4.2 58.7l-0.3 0.5M10.1 139.5l-0.3 0.6M31.1 159.7l0.1 0.3M0.4 4.3l-0.3 0.1M32.5 180.4h0M25.9 145.7l-0.1 0.5M1.6 47.2l-0.3 0.0M-2.7 92.8l0.5 0.3M1.9 38.2h0M26.9 184.5l-0.5 0.1M4.9 134.5l0.2 0.7M-3.1 39.5l0.2 0.1M-0.4 103.4l-0.2 0.2M-2.0 97.7l0.3 0.2M19.8 162.8l-0.1 0.7M21.9 173.5l-0.2 0.2M12.6 168.1l-0.2 0.1M18.9 168.7l-0.2 0.7M33.7 170.7l0.4 0.2M2.9 56.7h0M7.2 159.3l0.3 0.6M27.8 165.7l-0.6 0.5M16.4 138.3h0M-4.1 0.1l0.5 0.2M3.1 162.2h0M14.1 173.6l0.7 0.2M-3.3 144.5h0M-4.8 48.4h0M5.6 147.1l0.6 0.2M-3.7 113.9h0M4.3 169.6l-0.3 0.1M28.0 175.7l-0.3 0.1M21.2 181.9l0.3 0.5M-4.1 118.7l0.6 0.4M-3.6 5.7l0.2 0.5M-2.7 151.0l-0.0 0.7M9.1 165.4l0.4 0.0M15.9 181.3l-0.3 0.0M9.7 177.4l0.4 0.3M10.8 182.9h0M21.9 151.8l0.1 0.2M-1.6 168.5l-0.6 0.5M-0.0 175.0l-0.7 0.0M3.2 183.7h0M-5.0 159.4l0.3 0.1M3.7 174.5l0.2 0.5M-0.5 179.9l0.4 0.0M-0.9 183.7l0.1 0.5M-3.7 180.4l0.2 0.5M8.2 186.5h0" stroke="#e692cc" stroke-width="6"/><path d="M239.8 75.7l-0.4 0.2M251.8 85.8h0M226.9 71.8h0M221.5 61.6h0M244.8 87.2l0.0 0.3M229.8 50.9l0.4 0.1M246.5 58.9l-0.0 0.4M231.1 84.3l-0.1 0.7M226.4 59.8h0M224.0 55.1l-0.5 0.6M226.2 81.3l-0.1 0.3M217.8 62.4h0M218.6 55.8h0M204.0 53.4l0.4 0.3M234.6 86.2l0.6 0.3M248.5 47.7h0M230.7 43.3h0M207.5 65.4l0.1 0.5M238.1 101.3l-0.1 0.5M189.4 50.8l0.5 0.6M183.6 49.8l-0.1 0.2M220.7 99.6l-0.1 0.2M246.9 114.6l-0.1 0.7M248.1 119.9l0.6 0.2M217.5 76.3l0.1 0.6M251.6 111.2h0M231.8 116.3l-0.4 0.0M247.5 38.1l-0.1 0.6M246.2 32.5l-0.1 0.2M173.2 45.9l0.1 0.2M241.7 30.5l0.4 0.5M225.4 39.7l0.3 0.4M173.8 57.4l0.6 0.3M193.2 75.3l0.0 0.5M194.2 46.2l0.5 0.6M208.4 87.6l0.8 0.1M228.4 103.5l0.0 0.4M169.8 61.4l-0.2 0.4M229.1 25.9h0M245.6 24.3l0.6 0.4M212.3 25.0l-0.4 0.4M228.0 21.6l0.1 0.3M213.9 100.6l-0.3 0.5M170.2 41.2l0.1 0.5M248.0 20.5l-0.2 0.7M238.4 14.0l0.3 0.4M189.4 70.2l0.3 0.4M224.0 33.7l-0.4 0.3M252.3 129.0l-0.3 0.1M252.2 30.1h0M193.7 86.7l0.3 0.4M168.2 47.0h0M193.0 91.0l0.8 0.2M165.4 31.1l-0.1 0.7M209.6 92.8l-0.2 0.6M164.1 72.3l-0.2 0.8M249.5 15.3l-0.6 0.4M184.4 66.2l-0.5 0.4M242.1 10.5l-0.5 0.0M197.2 5.8l0.5 0.3M251.4 9.8h0M214.3 9.8l0.4 0.2M194.5 95.7l0.2 0.0M169.4 76.5h0M183.2 84.1l-0.6 0.2M244.0 -0.1l0.6 0.3M172.9 22.4h0M190.1 94.1l-0.6 0.0M182.4 19.8l0.1 0.2M179.4 66.7h0M211.5 114.6l-0.3 0.0M220.8 3.9l0.3 0.7M217.2 12.3l0.0 0.6M187.7 102.3h0M243.1 135.4l-0.3 0.7M175.6 85.0l-0.4 0.1M153.3 37.7l0.0 0.3M170.9 80.4l-0.2 0.3M162.1 39.2l0.1 0.6M204.9 123.4h0M228.3 -0.2l-0.5 0.2M233.8 -1.4h0M149.4 42.7h0M231.8 147.9h0M205.1 -0.6h0M143.2 66.8l-0.5 0.2M235.0 152.8l0.7 0.3M151.2 61.0l0.2 0.2M154.3 55.2l-0.3 0.6M220.7 143.0l-0.4 0.4M160.4 19.2h0M199.9 119.9h0M244.8 145.2l-0.2 0.4M197.1 134.8l-0.2 0.6M156.3 21.0h0M205.9 143.1l0.3 0.3M147.9 35.6h0M223.0 148.2h0M194.2 113.9l0.5 0.1M142.7 39.5l-0.4 0.2M195.7 119.4l0.3 0.2M194.8 130.3h0M158.4 86.5l0.4 0.1M201.6 144.6l0.2 0.1M200.7 138.8l-0.1 0.2M148.3 87.9l-0.0 0.4M215.4 140.7l-0.5 0.3M167.0 10.0l-0.3 0.1M144.6 20.6h0M181.4 1.2l0.4 0.1M136.8 78.5l-0.5 0.4M141.0 35.0l0.1 0.1M182.7 121.4l0.2 0.7M135.1 51.0l0.4 0.3M153.0 15.5l-0.1 0.6M177.0 95.8l0.4 0.4M142.3 85.7l-0.7 0.0M193.5 149.9l-0.2 0.1M188.6 142.3l-0.8 0.1M164.5 -2.0l0.1 0.3M218.4 165.9l-0.7 0.2M222.2 162.9l0.1 0.6M217.0 145.8l0.3 0.1M176.2 107.0l0.3 0.4M180.9 125.9l0.0 0.3M177.1 129.5l-0.0 0.3M125.1 76.2l-0.8 0.1M148.6 -0.1l-0.0 0.4M172.2 125.6l-0.0 0.3M137.6 40.1l0.4 0.2M131.6 32.8l-0.5 0.0M212.8 175.2l0.3 0.7M134.3 90.2l0.1 0.4M137.5 17.8h0M139.2 9.9l0.4 0.1M125.4 34.4l-0.2 0.0M125.8 39.4h0M161.2 -3.6l-0.7 0.2M172.7 113.6h0M159.7 134.1h0M167.0 116.8l0.3 0.0M125.5 51.1l-0.1 0.3M166.9 123.4l-0.6 0.2M204.9 156.0l0.2 0.3M145.4 95.0l-0.2 0.1M120.9 34.3h0M139.2 67.9l0.5 0.5M124.4 57.8l-0.2 0.2M189.3 164.7l0.3 0.0M115.8 31.7l0.4 0.4M151.8 -4.1l-0.2 0.3M126.4 68.1h0M109.9 31.6l-0.4 0.5M119.2 55.3l0.1 0.4M154.9 137.6l0.0 0.4M124.6 80.6l-0.2 0.2M122.8 17.9l0.5 0.2M126.0 13.9l0.5 0.0M152.1 142.2l0.3 0.2M122.1 27.8l-0.2 0.3M125.0 88.1h0M160.8 143.3h0M155.0 125.3h0M158.6 119.5h0M116.9 59.4l0.3 0.7M119.9 7.9h0M229.3 183.4l0.3 0.5M135.3 130.6l-0.4 0.0M127.6 101.6l-0.1 0.4M142.7 115.9l-0.0 0.4M246.8 185.8l0.0 0.3M146.4 125.2l0.1 0.3M98.7 64.2l0.2 0.3M111.3 62.8l-0.6 0.2M142.4 144.8l-0.6 0.4M235.6 184.0l-0.5 0.4M146.6 149.1l0.1 0.2M102.6 61.3l-0.2 0.5M176.1 173.8l-0.4 0.4M163.8 148.7l0.6 0.2M177.3 181.0l-0.4 0.1M191.6 159.7l0.5 0.4M223.5 158.6l0.2 0.0M128.7 151.1l-0.1 0.7M113.4 13.0l-0.5 0.3M133.3 157.3l0.6 0.2M103.4 74.3h0M152.0 147.7l0.3 0.0M182.4 176.8l-0.5 0.4M163.5 164.8l-0.5 0.4M110.0 15.1l0.1 0.6M110.1 91.5l-0.2 0.0M94.8 58.7l-0.5 0.2M104.4 94.4l0.2 0.2M170.2 120.5l0.5 0.1M100.9 81.3l0.1 0.2M93.7 78.6l0.2 0.1M182.6 182.3h0M153.6 159.2l-0.5 0.1M162.7 170.4h0M98.6 14.1l0.3 0.2M88.7 51.4l-0.2 0.1M101.5 52.6l0.6 0.5M85.9 32.4l-0.1 0.4M86.5 43.8l-0.5 0.1M98.8 97.1l0.4 0.1M93.8 13.1l-0.5 0.5M88.9 71.9h0M111.1 123.7l0.7 0.2M126.8 127.2l0.2 0.2M95.5 1.6l0.5 0.1M158.4 174.6h0M108.9 117.1l-0.4 0.2M89.9 66.9l0.2 0.4M79.4 83.5l0.1 0.2M124.6 152.6h0M92.9 20.9l0.8 0.1M92.1 31.6l0.4 0.0M99.1 72.6l0.8 0.2M152.3 176.2l0.1 0.5M106.5 135.8l0.4 0.3M84.7 71.7l0.1 0.4M74.1 87.5l0.3 0.0M147.4 174.4l-0.1 0.5M145.2 161.3l0.4 0.2M78.8 65.3l0.3 0.6M106.8 -2.9l-0.1 0.2M77.0 76.5l-0.2 0.2M98.4 122.8l0.2 0.0M84.5 87.3l-0.3 0.1M75.7 82.2h0M137.3 154.2l-0.0 0.2M70.3 30.8l0.3 0.6M92.7 118.2l0.5 0.3M107.8 126.9l-0.1 0.7M76.1 17.3l-0.6 0.3M115.3 155.9l-0.4 0.6M77.7 55.8l0.4 0.3M98.7 112.4h0M123.3 175.4l0.0 0.4M115.0 173.6h0M70.9 63.0l-0.4 0.6M75.4 45.6l0.0 0.7M69.0 77.6l-0.6 0.3M120.2 171.5l-0.0 0.4M136.7 162.4l0.5 0.2M73.0 -1.6l0.4 0.5M80.1 122.3l0.5 0.0M89.7 114.5h0M66.2 102.2l0.0 0.4M102.9 160.9l0.7 0.0M88.0 144.0l0.7 0.4M56.6 77.1h0M93.7 147.9l0.2 0.2M58.7 100.5l0.1 0.2M132.5 180.8l0.6 0.2M117.1 185.2l-0.5 0.5M97.4 128.2l0.1 0.2M102.4 177.9l-0.2 0.2M82.0 145.5l-0.2 0.1M79.1 133.1h0M77.0 97.6h0M91.8 155.0l-0.2 0.4M67.3 90.9l0.4 0.5M112.2 161.6l0.4 0.6M82.1 151.7l0.7 0.1M56.0 85.1l0.4 0.4M70.7 140.2l-0.7 0.2M73.1 11.7h0M112.9 176.7l0.4 0.1M76.4 149.2h0M60.5 81.6l0.2 0.5M63.6 134.4l0.4 0.1M58.2 39.7h0M102.9 187.0h0M74.1 122.4l-0.2 0.3M68.8 1.0h0M95.8 185.1h0M53.1 46.5h0M64.6 1.8l-0.7 0.0M54.0 27.7h0M41.3 111.8l0.0 0.4M49.9 59.5l0.1 0.2M37.2 12.5h0M111.7 186.8h0M43.5 57.8h0M90.2 171.2l-0.4 0.6M24.4 88.0l0.3 0.1M59.5 -3.1l-0.3 0.3M74.5 156.6l-0.3 0.2M39.2 45.9l0.2 0.2M31.4 2.6l-0.4 0.1M49.1 133.1l-0.8 0.2M78.3 164.7h0M38.8 73.9l-0.4 0.1M48.8 101.8l-0.4 0.2M62.2 5.4l-0.0 0.4M72.0 178.3l0.2 0.5M81.0 185.3l-0.2 0.2M24.3 11.8l-0.5 0.0M29.8 88.4h0M40.4 106.6l-0.6 0.2M18.8 84.8l-0.2 0.3M17.8 74.1l0.7 0.3M28.3 7.6l0.3 0.7M45.9 34.6l-0.4 0.1M55.9 142.8l-0.3 0.5M37.8 67.9l0.2 0.2M34.9 44.6l0.5 0.6M61.8 155.1l-0.5 0.2M15.5 79.4h0M60.6 183.0l-0.7 0.2M27.1 41.8l-0.1 0.7M31.5 83.9h0M64.4 139.8l-0.4 0.1M21.8 43.4l-0.2 0.1M20.6 23.6l0.0 0.7M27.4 118.9h0M14.4 92.8h0M26.4 124.7h0M22.6 60.3l0.3 0.6M60.8 186.7h0M62.1 178.9h0M56.4 151.0h0M17.7 105.9l-0.1 0.3M55.8 178.4l0.2 0.0M90.1 160.1h0M26.8 31.8h0M17.6 33.6l0.3 0.2M18.9 126.5h0M27.5 132.9l-0.3 0.5M59.5 167.1h0M42.4 124.9h0M3.5 53.0l-0.3 0.1M14.7 111.2l-0.1 0.5M43.6 102.6h0M42.5 184.2l-0.7 0.3M18.2 60.4l-0.0 0.5M67.2 186.1h0M9.2 61.0l0.0 0.2M19.2 52.8h0M37.0 174.5l-0.8 0.1M9.3 97.9h0M33.8 151.6h0M26.1 153.9l0.1 0.6M13.1 103.8l-0.4 0.3M37.6 183.2h0M8.4 41.1h0M31.8 164.5h0M7.9 50.9h0M29.5 170.3l-0.3 0.4M41.3 170.9l0.3 0.6M7.0 128.6l-0.2 0.6M28.1 179.4l-0.5 0.6M1.9 -1.2l-0.4 0.3M18.1 -3.2l-0.7 0.1M10.8 124.1l-0.2 0.1M24.8 161.2h0M-2.0 122.9l-0.4 0.4M4.3 140.1l-0.2 0.3M21.8 187.2l0.3 0.6M13.2 146.7l0.3 0.7M14.1 157.7l-0.2 0.6M-3.2 127.9l0.5 0.2M8.1 172.4l-0.1 0.7M13.3 186.0l0.2 0.4" stroke="#e692cc" stroke-width="5"/></g>
<g fill="none" stroke-linecap="round" filter="url(#bl06)"><path d="M213.9 67.3l-0.1 0.2M180.5 34.2h0M157.3 81.4l-0.7 0.0M211.6 145.9l-0.7 0.2M177.9 150.5h0M162.1 127.1l-0.3 0.3M196.4 172.6l0.2 0.1M57.9 117.7l0.5 0.2M102.7 173.0l0.6 0.1M-4.3 180.6l0.2 0.5" stroke="#8c36b8" stroke-width="4.5"/><path d="M205.8 60.3h0M231.3 15.1l-0.1 0.3M209.6 120.4l-0.2 0.3M224.6 -2.5l0.3 0.7M193.1 155.9l-0.7 0.3M121.6 90.1l-0.1 0.5M221.8 181.9h0M251.7 184.6l-0.2 0.5M100.7 22.4h0M90.1 87.1h0M71.4 73.4l-0.3 0.3M39.5 16.2l-0.0 0.7M44.2 107.7l-0.4 0.4M57.8 47.4h0M40.9 52.5l0.5 0.4M23.0 -1.7l-0.5 0.4M-3.8 21.6l-0.2 0.5M6.7 89.7h0M4.1 169.5l-0.3 0.1" stroke="#6e1ca4" stroke-width="4.5"/><path d="M223.0 112.2l-0.5 0.1M184.3 37.3h0M186.8 43.4l0.2 0.8M220.8 16.6h0M204.0 98.9l-0.1 0.2M184.1 148.0h0M161.2 122.7l0.1 0.2M103.6 42.3l0.2 0.0M120.5 14.3l0.6 0.1M96.4 67.2l-0.3 0.7M85.7 1.4l0.5 0.0M93.9 25.6l0.1 0.2M74.6 62.0l0.4 0.4M101.3 2.7h0M89.4 136.3l-0.3 0.1M66.4 53.5l-0.1 0.3M88.1 149.1l0.5 0.2M53.4 70.3h0M52.2 17.4l-0.4 0.2M29.9 129.0l-0.6 0.3M2.8 24.8l-0.0 0.2M29.2 -2.3l-0.2 0.2M19.3 168.5l-0.2 0.7" stroke="#7c26ae" stroke-width="4.5"/><path d="M203.1 165.4l-0.5 0.2M46.7 93.8l0.4 0.6" stroke="#9c50bc" stroke-width="4.5"/><path d="M171.3 140.0l0.4 0.2M73.4 133.7l0.3 0.1M66.3 181.5l-0.2 0.1" stroke="#9c48c0" stroke-width="4.5"/><path d="M139.3 170.8l0.6 0.4M10.1 19.4h0" stroke="#c088cc" stroke-width="4.5"/><path d="M28.7 57.4l0.2 0.1M13.9 1.0h0" stroke="#b070c4" stroke-width="4.5"/><path d="M243.2 83.3l-0.3 0.3M239.3 89.5l-0.4 0.6M225.0 65.6l0.5 0.5M230.3 62.7l0.1 0.3M238.5 83.1l-0.6 0.2M236.8 78.9l0.1 0.2M221.4 70.4h0M219.6 66.0l-0.4 0.4M250.4 42.2h0M238.8 94.6l-0.2 0.7M221.8 77.0l-0.0 0.2M200.8 47.8l-0.5 0.1M250.6 51.4l0.7 0.2M232.8 102.6h0M246.0 127.9h0M186.8 58.0h0M178.6 55.5h0M236.8 115.1h0M233.7 91.1h0M232.6 32.4l-0.6 0.3M164.5 44.7l0.1 0.2M214.8 125.2l-0.1 0.2M229.3 36.0h0M206.6 80.6h0M197.3 78.6l-0.3 0.3M219.4 24.0h0M236.7 21.3l-0.3 0.1M218.4 29.4l0.2 0.5M252.0 24.5l-0.4 0.0M165.7 36.7h0M189.3 78.7h0M200.4 84.6l0.6 0.2M188.3 32.4l-0.1 0.4M237.9 106.1h0M175.5 64.3l-0.8 0.2M173.7 31.1l0.1 0.2M163.7 63.2h0M154.3 50.2l-0.2 0.2M224.9 13.4l0.2 0.3M165.2 53.1l-0.2 0.6M159.0 53.3l0.4 0.6M225.5 3.3l-0.5 0.0M246.4 9.9l0.2 0.7M148.5 53.4h0M166.9 24.2l0.2 0.5M190.3 16.5l-0.3 0.0M150.8 33.1h0M162.3 22.8l0.7 0.2M214.3 119.8l-0.3 0.3M188.4 7.7l0.1 0.2M165.4 93.7l-0.2 0.2M219.3 -4.6l-0.5 0.4M203.2 135.1l0.2 0.3M168.4 19.3h0M205.7 117.8l-0.1 0.3M184.8 98.1l-0.1 0.6M151.8 81.6l-0.4 0.1M187.0 127.6l0.0 0.6M180.0 100.4l0.1 0.5M198.7 150.2l0.2 0.1M215.2 136.1l0.2 0.6M190.5 119.2l0.4 0.6M151.9 45.8l0.2 0.7M160.1 98.5l0.3 0.3M252.3 147.7l0.1 0.2M169.5 -2.9l0.1 0.5M127.2 61.6h0M173.0 145.3l-0.2 0.4M129.4 16.5l0.2 0.8M129.3 91.5l0.5 0.3M177.8 136.2l0.2 0.6M124.7 97.6l0.4 0.6M131.6 38.3l0.1 0.2M156.0 95.7l0.5 0.0M176.2 163.9h0M126.6 22.3l-0.6 0.5M121.2 61.6h0M134.8 101.0l-0.0 0.5M126.9 8.6l-0.2 0.5M114.1 53.8l-0.3 0.7M114.7 70.4l-0.8 0.2M186.4 171.5l-0.6 0.0M120.1 71.5l0.6 0.4M115.4 65.1l-0.3 0.2M164.7 133.0l-0.5 0.2M132.5 5.9l-0.3 0.5M187.3 177.4l-0.4 0.4M210.8 183.2h0M112.6 6.5h0M138.8 134.1l-0.1 0.4M127.1 108.3l-0.5 0.6M111.2 79.5l0.4 0.2M136.0 137.5l-0.3 0.4M136.4 149.6l0.3 0.1M131.4 125.7l0.6 0.3M174.6 169.4l0.1 0.2M100.7 37.4l-0.1 0.5M105.9 2.0l0.2 0.2M193.0 177.0h0M107.3 50.0l0.0 0.3M155.5 154.9h0M142.5 153.4l0.2 0.3M117.0 102.3l0.5 0.3M93.0 62.8l0.8 0.1M194.6 186.0l0.2 0.0M104.9 10.2l-0.8 0.1M120.6 107.8l0.3 0.7M130.7 163.3l-0.3 0.0M97.0 18.4l0.5 0.1M158.2 158.5l0.5 0.3M107.7 97.6l0.5 0.2M156.9 179.5l-0.5 0.5M139.8 158.7h0M107.8 102.3l0.6 0.4M106.3 78.8h0M101.0 118.4l0.2 0.6M90.0 100.4l0.4 0.0M79.3 3.8l0.5 0.2M123.7 160.3l0.5 0.6M86.5 93.6l0.6 0.2M79.0 51.3l0.5 0.6M83.7 64.6h0M151.6 184.2l0.0 0.7M71.3 84.6l-0.2 0.3M81.0 91.7h0M66.0 10.6l-0.2 0.2M141.3 148.5l0.1 0.7M80.0 105.0h0M104.3 147.9l0.3 0.4M113.5 181.9l-0.6 0.1M127.6 176.0l0.3 0.1M72.8 55.5l-0.4 0.3M71.9 68.8h0M62.3 104.4l-0.2 0.4M98.9 134.5l0.1 0.7M136.7 184.0h0M66.3 48.1h0M132.1 174.2l-0.4 0.4M111.3 166.3h0M98.3 151.2l0.1 0.4M98.9 158.6h0M59.2 15.0l-0.3 0.7M61.8 44.9l-0.4 0.3M70.1 113.5l-0.4 0.3M99.3 165.6l0.6 0.4M52.2 74.7l0.5 0.4M44.1 78.9h0M104.5 140.6l0.5 0.4M54.4 58.3l0.4 0.1M100.4 182.3l0.4 0.5M47.8 66.1l0.0 0.4M107.1 171.4l0.3 0.4M61.4 121.7l0.2 0.5M69.5 154.7h0M48.2 46.0l-0.4 0.0M95.5 167.6l-0.3 0.5M60.1 129.6l0.0 0.3M53.7 34.9l0.5 0.3M32.0 16.3l0.1 0.7M44.5 17.4l-0.6 0.3M79.8 159.8h0M53.2 40.5h0M40.8 64.7l0.5 0.5M62.2 50.5l-0.2 0.3M83.7 180.7h0M25.7 2.0h0M73.8 184.7l0.2 0.5M32.8 8.4l0.7 0.4M31.4 68.7l-0.2 0.6M53.8 138.1l0.2 0.1M19.0 70.0l-0.2 0.8M55.1 182.5l-0.4 0.2M23.2 111.9l0.2 0.7M17.7 89.0h0M31.6 48.8l-0.6 0.2M28.8 141.3l-0.2 0.1M17.3 46.8l-0.0 0.8M14.5 57.3l0.5 0.5M12.9 62.7l0.4 0.0M2.8 71.0l0.1 0.3M65.9 171.3l0.3 0.4M13.8 99.7l-0.1 0.4M41.7 176.1h0M23.2 132.8l-0.1 0.2M50.2 185.3l0.3 0.5M21.8 48.3l-0.3 0.1M0.7 85.6h0M7.7 68.9h0M14.2 142.0l0.6 0.2M0.1 77.7h0M0.7 33.1l-0.0 0.4M21.1 146.8l0.4 0.4M9.9 139.8l-0.3 0.6M0.5 3.8l-0.3 0.1M1.8 46.9l-0.3 0.0M-2.5 92.9l0.5 0.3M13.7 173.5l0.7 0.2M-3.8 144.6h0M5.9 146.6l0.6 0.2M-4.3 118.5l0.6 0.4M-3.9 6.3l0.2 0.5M8.9 165.6l0.4 0.0M9.2 177.2l0.4 0.3M3.7 184.0h0" stroke="#7c26ae" stroke-width="4"/><path d="M235.5 71.7l-0.3 0.5M228.8 76.1h0M232.8 67.0l-0.1 0.2M243.6 100.3l-0.5 0.4M247.7 107.5h0M226.3 86.6h0M210.9 58.8l-0.2 0.2M196.0 53.2l-0.1 0.6M177.3 50.2l-0.1 0.4M178.9 42.0l-0.2 0.2M241.3 110.3l0.1 0.5M200.9 76.0h0M220.3 119.0l0.7 0.4M213.3 90.9l0.6 0.3M188.6 26.5h0M171.0 52.7l-0.2 0.4M213.8 95.5l0.6 0.1M199.2 96.0l0.2 0.0M171.6 36.5l0.2 0.1M235.0 9.0l0.0 0.3M160.1 47.9l0.1 0.5M159.5 31.9h0M211.3 132.6l0.0 0.3M180.0 46.6h0M219.1 106.8h0M189.7 84.0l0.2 0.6M185.9 90.2l0.0 0.8M209.8 98.2l-0.2 0.3M157.8 38.6l-0.6 0.0M220.2 9.0h0M231.8 5.3h0M237.6 1.8l-0.1 0.2M215.4 130.1h0M155.4 64.6l0.7 0.3M184.5 75.0l-0.8 0.1M165.3 81.0h0M160.1 26.5l-0.1 0.2M155.6 29.4h0M216.5 5.7h0M238.5 -2.9l0.1 0.4M204.7 129.9l-0.4 0.4M233.6 141.1l-0.3 0.0M246.6 5.5h0M202.2 114.9l-0.1 0.2M144.7 28.6l-0.2 0.1M202.1 -4.5l-0.2 0.1M212.6 -4.2l0.1 0.3M176.3 74.3h0M198.8 125.6l-0.0 0.3M164.6 87.6l-0.3 0.2M153.9 4.3l-0.3 0.0M189.2 132.1l-0.5 0.3M159.8 1.7l-0.3 0.3M184.1 110.0l-0.2 0.2M149.4 18.4l-0.4 0.3M196.6 -3.4l-0.3 0.2M149.1 6.8l0.5 0.6M179.1 3.9l-0.1 0.6M181.9 105.5h0M136.1 34.7l-0.3 0.4M177.1 -3.2l0.6 0.4M146.9 24.7h0M186.9 156.8l-0.6 0.3M163.6 104.7l0.0 0.5M224.3 178.1l0.3 0.0M178.4 142.6l-0.7 0.2M134.7 12.4l-0.5 0.3M116.3 37.4l0.5 0.0M120.2 41.3l-0.3 0.6M181.1 162.3l0.5 0.4M136.6 95.6l-0.4 0.5M140.9 96.6l0.3 0.4M186.6 151.7h0M119.3 83.0h0M130.8 -3.9l0.0 0.7M139.1 22.2h0M146.4 139.2l-0.1 0.7M142.5 127.5l-0.3 0.1M121.5 23.3h0M141.4 138.7l0.1 0.7M115.2 18.3l-0.6 0.5M124.3 113.1h0M181.4 154.6l-0.1 0.3M120.7 94.9h0M109.7 43.1l0.0 0.5M191.2 170.5l-0.1 0.5M169.2 168.0l0.3 0.4M106.7 64.5h0M177.2 158.7l0.3 0.7M93.6 36.1h0M217.4 184.6l-0.4 0.6M98.5 27.5l-0.1 0.5M94.2 45.7l-0.4 0.1M128.7 158.9l0.4 0.4M187.2 183.8l0.1 0.3M175.6 186.4l0.2 0.2M224.2 185.9l0.5 0.2M94.0 89.8h0M112.8 -2.3h0M95.5 83.5l-0.1 0.4M112.8 107.0l0.7 0.2M192.5 182.0h0M88.1 61.3l-0.0 0.3M79.7 40.6l0.4 0.5M101.5 144.1l-0.1 0.2M102.6 128.9h0M83.6 5.6l0.3 0.7M121.3 156.0l0.3 0.3M105.2 14.5l-0.6 0.4M74.7 92.8l0.1 0.4M111.8 147.2l0.3 0.3M84.3 128.9h0M82.9 -4.5l-0.5 0.3M70.6 97.9l0.2 0.2M88.2 7.1l-0.1 0.7M95.4 131.8h0M79.2 128.0l0.5 0.5M93.7 109.4l0.4 0.2M79.8 70.2h0M77.7 -3.6l0.1 0.3M65.8 32.8l0.2 0.1M81.4 114.0h0M121.1 149.7h0M84.6 135.0l-0.1 0.2M115.8 166.7h0M76.6 138.1h0M92.0 104.8h0M55.3 97.4h0M70.4 130.5h0M94.6 177.4l0.6 0.0M61.5 76.1l0.2 0.1M65.1 83.2l0.2 0.7M66.7 116.8h0M81.3 139.2l-0.5 0.1M44.1 12.7l0.1 0.5M48.0 72.7l-0.3 0.1M36.0 79.1l0.6 0.2M35.8 83.7l0.3 0.4M61.0 148.9l-0.5 0.4M52.2 50.9h0M40.5 85.5l-0.4 0.3M47.5 40.7h0M53.2 116.6l0.4 0.2M88.2 184.7l-0.6 0.2M72.6 145.9l0.2 0.1M50.1 32.3h0M26.6 82.6l0.2 0.0M58.5 138.0l0.3 0.6M51.5 22.5l-0.4 0.7M25.6 19.5l-0.2 0.2M66.1 158.5l0.5 0.4M142.6 187.1h0M70.7 168.3l-0.2 0.5M29.1 12.3h0M69.3 163.4h0M39.6 8.9l-0.2 0.7M35.6 90.0l0.0 0.2M59.7 108.1l0.3 0.6M78.1 181.5l-0.5 0.2M23.5 6.6l-0.2 0.5M43.6 48.3l0.6 0.3M9.1 76.2l0.8 0.1M6.7 79.4l-0.2 0.4M18.7 65.7l0.6 0.4M70.2 173.3l0.2 0.1M14.9 123.3h0M-1.4 28.0l0.1 0.5M38.1 167.5l0.5 0.1M15.4 133.0l0.2 0.2M2.7 62.1l0.1 0.5M13.5 43.8l0.1 0.7M5.6 102.0h0M2.8 98.5h0M-0.0 42.4l-0.1 0.6M34.1 185.2l-0.4 0.4M8.8 45.5l-0.2 0.3M32.1 180.1h0M26.3 145.8l-0.1 0.5M27.5 184.8l-0.5 0.1M-3.4 39.1l0.2 0.1M2.6 57.2h0M27.4 166.1l-0.6 0.5M-4.3 48.1h0M28.1 175.2l-0.3 0.1M16.4 181.3l-0.3 0.0M-0.0 179.6l0.4 0.0M-0.8 183.8l0.1 0.5" stroke="#6e1ca4" stroke-width="4"/><path d="M248.8 81.0l0.7 0.1M234.8 55.5l-0.1 0.6M219.8 51.9h0M229.7 92.6l-0.3 0.2M237.3 50.4l-0.4 0.3M243.8 45.3h0M252.6 106.1l0.1 0.8M191.6 54.6l0.2 0.2M204.3 10.7l0.3 0.4M201.6 104.8h0M173.7 10.7h0M248.2 167.7h0M236.5 169.1l0.7 0.3M151.7 111.5h0M118.3 45.6l-0.2 0.4M130.1 145.3l-0.3 0.2M128.3 117.6h0M163.1 155.1l-0.3 0.5M89.2 17.4l-0.6 0.5M90.0 27.6l-0.7 0.1M81.3 15.6l0.0 0.2M136.3 167.3h0M47.2 122.8h0M41.3 98.2l-0.1 0.2M32.0 113.0h0M17.1 6.9l-0.3 0.1M19.0 97.4l-0.8 0.1M21.6 121.4h0M8.2 31.8l-0.1 0.7M47.5 153.2l-0.1 0.3M31.3 159.2l0.1 0.3M-3.5 113.6h0M-2.2 150.6l-0.0 0.7" stroke="#b070c4" stroke-width="4"/><path d="M242.7 66.5l-0.6 0.4M242.3 50.0h0M159.4 74.3l-0.2 0.1M197.6 108.7l0.5 0.2M155.4 11.6h0M161.1 7.5l0.0 0.6M244.7 161.1l-0.5 0.2M239.3 163.9l-0.1 0.6M123.4 -1.3l-0.2 0.3M148.7 179.0l-0.1 0.7M93.7 73.2h0M83.0 11.1l0.2 0.1M37.4 127.2h0M30.1 108.2l-0.3 0.5M15.3 19.5l-0.3 0.4M7.2 159.8l0.3 0.6" stroke="#9c50bc" stroke-width="4"/><path d="M224.1 47.6l0.5 0.3M235.3 45.3l-0.4 0.5M235.5 121.0l0.2 0.5M237.2 33.5l0.2 0.2M193.7 69.5l0.1 0.5M208.4 18.0l-0.2 0.4M189.1 107.9l0.4 0.6M232.3 168.2h0M221.7 169.9l-0.0 0.7M135.1 65.8l0.3 0.0M136.7 46.2l-0.0 0.4M203.0 177.8h0M127.2 122.6h0M144.0 121.1h0M91.3 94.3l0.6 0.2M105.0 153.2l-0.2 0.7M144.2 170.6l-0.1 0.2M108.8 158.5l0.5 0.4M57.4 67.0h0M43.7 118.4l-0.2 0.0M27.2 74.0l-0.7 0.1M54.3 130.4l0.2 0.1M35.1 94.5l0.3 0.4M37.8 60.7l-0.8 0.1M72.2 117.8h0M50.7 166.0h0M6.8 22.8h0M37.8 147.0l0.3 0.6M5.2 18.2h0M-0.5 102.9l-0.2 0.2" stroke="#c088cc" stroke-width="4"/><path d="M243.8 105.3l-0.4 0.5M243.5 95.8l-0.5 0.0M190.8 38.8l-0.1 0.3M181.0 29.3h0M213.9 105.7l0.4 0.1M176.3 78.8h0M197.5 17.7l-0.2 0.1M252.1 133.4l-0.2 0.2M247.1 140.2l0.7 0.0M178.7 91.9l0.6 0.1M233.9 26.7l-0.0 0.6M190.2 124.3h0M199.9 130.9l-0.7 0.3M207.1 151.2l-0.2 0.3M170.9 92.1l0.1 0.5M186.0 135.9l0.7 0.1M197.8 162.8h0M169.0 130.4l-0.5 0.1M166.5 143.0l-0.6 0.3M139.5 101.4h0M131.4 97.8l0.2 0.0M230.1 175.7l-0.4 0.2M110.4 37.8l0.1 0.6M150.4 128.0h0M132.9 1.4l0.3 0.2M141.0 106.9l-0.3 0.7M173.0 135.1h0M197.2 180.3l0.5 0.4M113.8 27.4l0.4 0.3M107.3 34.5l-0.3 0.2M129.5 133.1l-0.2 0.5M242.3 187.0l-0.5 0.2M117.8 112.4l-0.3 0.1M116.2 93.0l0.4 0.5M95.7 51.4h0M114.6 97.7h0M87.7 79.5l0.0 0.4M98.8 8.1l0.0 0.5M89.2 -2.9h0M91.8 0.7h0M119.2 180.7l-0.5 0.4M62.6 88.1h0M53.9 107.3l0.4 0.1M57.7 9.1l0.4 0.3M92.2 164.3h0M94.6 172.0l-0.4 0.4M65.9 107.5h0M31.5 78.2l0.1 0.3M55.0 123.8l-0.1 0.8M40.1 4.8h0M77.8 154.2l0.4 0.1M10.3 83.3l0.6 0.2M35.7 50.2l-0.3 0.1M33.9 -4.3l-0.7 0.1M-1.1 66.7l0.7 0.1" stroke="#9c48c0" stroke-width="4"/><path d="M224.0 104.0l-0.4 0.4M234.2 36.8h0M215.7 71.6l0.5 0.1M235.4 109.8l0.0 0.5M218.2 92.8l-0.5 0.4M238.9 26.4l-0.0 0.7M222.6 27.3l0.3 0.1M247.5 135.0l0.5 0.1M216.8 37.6l0.2 0.4M176.1 37.5l0.2 0.0M170.5 69.8l-0.2 0.4M240.5 5.8l-0.2 0.6M169.2 29.1l0.2 0.1M181.2 71.4l0.7 0.1M216.7 -0.4l-0.1 0.6M187.6 22.1h0M169.4 87.2l0.2 0.0M210.0 138.2l0.2 0.2M204.2 3.6l0.3 0.3M192.9 10.5h0M211.3 1.6l0.3 0.1M182.3 79.3l-0.5 0.2M225.1 133.0l0.6 0.4M148.1 66.2l-0.2 0.0M145.5 74.7l0.5 0.3M186.7 2.0l0.3 0.3M165.8 3.2l0.3 0.7M156.2 90.5l0.1 0.2M187.6 114.5l0.6 0.0M138.1 26.3l0.1 0.6M183.5 -3.7h0M224.1 139.7l-0.3 0.1M167.9 101.4h0M137.4 86.9l0.1 0.7M172.3 103.3l-0.3 0.7M141.7 91.8l0.3 0.7M143.8 14.9l-0.1 0.6M140.8 78.2l-0.3 0.3M175.5 120.0h0M183.5 116.2l-0.3 0.0M147.0 11.3h0M167.6 111.2h0M144.5 104.0h0M163.0 139.3l0.3 0.3M143.0 111.4l0.6 0.3M115.5 42.1h0M149.2 132.6l-0.1 0.5M120.8 66.3l0.3 0.1M149.5 107.3l-0.1 0.4M160.2 113.8l-0.2 0.1M131.1 112.8l0.3 0.4M136.3 108.6l0.4 0.4M170.6 107.7l0.5 0.5M123.5 103.8h0M102.1 88.3l-0.5 0.2M160.2 150.8h0M112.5 74.4l0.0 0.5M163.5 118.6l-0.4 0.4M98.6 77.0l0.8 0.2M150.6 162.8l0.2 0.0M103.1 102.4h0M104.3 19.3l0.3 0.3M95.4 101.0l-0.5 0.2M95.4 -3.9l0.3 0.0M82.0 78.1l0.8 0.0M156.3 164.4h0M151.8 169.6h0M108.3 144.0l-0.2 0.4M82.8 55.7l-0.3 0.4M77.3 9.9l-0.3 0.0M98.1 104.5l0.2 0.4M91.4 126.6l0.4 0.2M74.2 6.1l-0.0 0.7M126.4 182.0l0.1 0.2M88.8 119.2l-0.6 0.1M100.4 138.9l-0.1 0.4M69.2 58.6h0M90.6 132.1l0.6 0.1M121.6 186.3l0.4 0.1M96.8 143.0l0.2 0.4M72.4 108.7l-0.2 0.3M65.3 24.6l0.5 0.5M57.5 53.1l0.2 0.4M58.9 112.8l-0.8 0.0M49.9 113.8l0.2 0.2M65.6 127.3l0.3 0.3M53.5 63.3l0.3 0.2M69.2 6.5l0.3 0.2M66.2 145.6l-0.2 0.1M76.2 142.5l0.6 0.3M65.2 -2.8l-0.3 0.1M60.0 29.8h0M60.9 23.9l0.2 0.4M52.8 101.9l0.0 0.4M99.1 175.4l0.0 0.2M69.1 134.4l-0.6 0.4M61.5 34.8h0M32.5 73.6h0M80.0 177.5h0M92.3 182.1l-0.5 0.3M18.4 15.6l-0.5 0.1M66.8 176.1l-0.2 0.2M23.3 29.4l-0.6 0.5M0.9 20.3l0.2 0.3M5.6 93.8l-0.2 0.8M11.5 130.6l-0.7 0.1M9.3 56.4l-0.6 0.4M14.7 85.6l-0.2 0.1M2.4 38.6h0M5.1 134.0l0.2 0.7M-2.3 97.6l0.3 0.2M21.9 173.0l-0.2 0.2M16.3 137.9h0M-1.1 168.0l-0.6 0.5M-0.4 174.5l-0.7 0.0" stroke="#8c36b8" stroke-width="4"/><path d="M240.0 75.4l-0.4 0.2M227.5 71.8h0M222.0 61.4h0M244.5 86.7l0.0 0.3M223.4 55.4l-0.5 0.6M226.2 81.2l-0.1 0.3M217.6 62.1h0M218.2 56.3h0M207.1 72.9l0.0 0.4M234.6 86.3l0.6 0.3M221.3 99.9l-0.1 0.2M247.9 119.5l0.6 0.2M229.4 109.5l-0.2 0.1M227.1 30.8h0M241.3 18.5h0M228.6 103.9l0.0 0.4M245.2 24.3l0.6 0.4M212.1 25.6l-0.4 0.4M250.9 123.0l0.4 0.4M164.4 57.9l-0.2 0.5M165.0 31.1l-0.1 0.7M164.5 72.1l-0.2 0.8M249.4 15.0l-0.6 0.4M184.9 66.4l-0.5 0.4M197.3 5.9l0.5 0.3M197.9 91.3h0M216.5 114.2h0M220.6 136.2l-0.5 0.1M243.7 0.1l0.6 0.3M158.0 60.0l-0.7 0.2M188.0 102.0h0M228.4 139.5l-0.1 0.3M162.2 39.4l0.1 0.6M228.9 0.1l-0.5 0.2M234.3 -1.3h0M149.5 42.2h0M157.1 43.7l-0.2 0.0M199.1 0.8l0.4 0.2M154.5 55.7l-0.3 0.6M221.2 143.4l-0.4 0.4M200.5 119.4h0M245.4 145.4l-0.2 0.4M226.2 144.2l-0.3 0.1M155.8 20.8h0M223.1 148.6h0M193.7 113.9l0.5 0.1M195.2 119.3l0.3 0.2M200.1 139.1l-0.1 0.2M140.2 73.5l-0.8 0.2M183.2 120.9l0.2 0.7M177.5 96.1l0.4 0.4M165.1 -2.2l0.1 0.3M180.4 126.1l0.0 0.3M148.9 0.1l-0.0 0.4M172.0 125.8l-0.0 0.3M125.8 34.1l-0.2 0.0M172.1 113.9h0M157.2 129.9l0.7 0.1M119.4 54.8l0.1 0.4M155.0 138.0l0.0 0.4M117.5 76.2h0M122.6 18.5l0.5 0.2M112.8 46.8l-0.5 0.2M194.7 166.4l0.4 0.4M145.8 99.5l-0.0 0.5M229.0 183.2l0.3 0.5M142.1 116.2l-0.0 0.4M146.6 124.7l0.1 0.3M98.9 63.8l0.2 0.3M142.2 144.2l-0.6 0.4M108.7 58.0h0M146.0 149.1l0.1 0.2M164.3 148.9l0.6 0.2M102.1 31.2l-0.6 0.3M182.5 176.7l-0.5 0.4M99.7 44.7l0.0 0.5M163.2 165.0l-0.5 0.4M110.0 15.6l0.1 0.6M101.1 81.7l0.1 0.2M94.1 78.5l0.2 0.1M182.3 182.7h0M153.1 158.8l-0.5 0.1M89.2 51.5l-0.2 0.1M93.9 13.7l-0.5 0.5M116.6 87.5l0.6 0.5M89.5 71.8h0M126.8 127.1l0.2 0.2M96.0 2.1l0.5 0.1M91.0 82.4l0.0 0.5M116.4 148.7l0.0 0.2M110.0 130.8l0.6 0.1M147.4 173.9l-0.1 0.5M106.3 -2.5l-0.1 0.2M75.2 46.2l0.0 0.7M63.3 95.2l-0.2 0.5M80.0 121.7l0.5 0.0M69.6 104.7l0.6 0.2M87.9 143.9l0.7 0.4M57.0 77.2h0M73.5 26.5h0M97.8 127.7l0.1 0.2M102.8 178.1l-0.2 0.2M65.8 112.1l-0.4 0.2M112.6 161.8l0.4 0.6M56.3 92.6l0.2 0.1M78.4 109.7h0M70.2 140.6l-0.7 0.2M51.9 10.6l-0.3 0.3M76.0 149.6h0M63.8 134.8l0.4 0.1M58.7 39.4h0M67.2 150.2l-0.1 0.3M69.3 1.4h0M64.5 1.9l-0.7 0.0M49.4 107.9l0.0 0.6M49.8 59.7l0.1 0.2M56.2 20.2l-0.3 0.5M111.5 186.9h0M43.4 57.2h0M90.0 171.3l-0.4 0.6M59.1 -2.9l-0.3 0.3M88.1 177.8h0M46.4 52.8l-0.2 0.4M38.4 74.2l-0.4 0.1M48.3 101.8l-0.4 0.2M24.7 11.4l-0.5 0.0M46.0 34.8l-0.4 0.1M55.4 142.9l-0.3 0.5M46.2 22.5l-0.8 0.0M34.3 44.7l0.5 0.6M45.3 29.0h0M60.4 182.6l-0.7 0.2M44.5 62.2l0.6 0.3M22.2 43.1l-0.2 0.1M26.8 47.5l-0.4 0.4M61.4 187.1h0M27.9 133.3l-0.3 0.5M20.2 136.4l0.7 0.2M15.1 111.4l-0.1 0.5M4.3 29.2h0M8.8 61.1l0.0 0.2M20.0 3.0l-0.2 0.6M9.6 97.6h0M7.5 -1.6l-0.2 0.2M38.0 182.7h0M-3.8 59.0l-0.3 0.5M27.6 179.4l-0.5 0.6M19.6 162.7l-0.1 0.7M21.6 187.0l0.3 0.6M22.1 151.3l0.1 0.2M13.9 186.1l0.2 0.4M4.0 174.8l0.2 0.5M7.7 186.9h0" stroke="#7c26ae" stroke-width="3.5"/><path d="M244.6 78.3h0M230.0 56.8l-0.5 0.3M230.4 43.3h0M201.2 68.2l-0.5 0.4M237.9 101.4l-0.1 0.5M183.8 49.2l-0.1 0.2M196.5 40.2l-0.5 0.5M199.6 56.4h0M173.0 45.9l0.1 0.2M225.5 39.3l0.3 0.4M174.3 57.5l0.6 0.3M210.2 77.5h0M193.7 75.6l0.0 0.5M208.4 87.3l0.8 0.1M229.2 26.2h0M227.6 21.3l0.1 0.3M203.8 91.5l-0.0 0.2M247.7 20.0l-0.2 0.7M238.1 13.6l0.3 0.4M223.6 33.8l-0.4 0.3M211.6 32.1l-0.3 0.7M174.8 69.0l0.2 0.3M160.9 78.8l0.8 0.2M220.7 130.1l0.2 0.4M213.0 21.1l0.4 0.5M177.5 26.7l-0.4 0.3M214.2 9.6l0.4 0.2M194.3 96.2l0.2 0.0M209.7 8.6l-0.3 0.6M183.6 84.2l-0.6 0.2M211.1 114.7l-0.3 0.0M176.1 85.4l-0.4 0.1M171.1 80.7l-0.2 0.3M152.1 24.6l0.1 0.7M247.6 28.2l0.2 0.6M161.4 90.8l0.2 0.5M143.1 39.6l-0.4 0.2M181.6 0.6l0.4 0.1M140.3 30.7l-0.6 0.2M142.1 85.1l-0.7 0.0M178.1 114.1l-0.3 0.1M175.8 106.8l0.3 0.4M134.0 90.7l0.1 0.4M138.0 17.2h0M125.5 39.0h0M167.3 116.4l0.3 0.0M167.1 122.9l-0.6 0.2M121.2 34.5h0M115.8 32.1l0.4 0.4M124.5 80.4l-0.2 0.2M125.6 13.4l0.5 0.0M251.5 142.8l0.2 0.3M125.5 88.0h0M160.7 143.4h0M163.4 109.4l-0.4 0.3M132.5 105.1l0.3 0.4M155.5 125.7h0M109.7 70.9l-0.4 0.4M127.8 102.1l-0.1 0.4M147.7 144.3l0.4 0.2M105.4 28.5h0M103.7 74.7h0M150.3 152.0l-0.6 0.4M103.9 93.9l0.2 0.2M97.5 32.4l-0.3 0.0M102.0 52.0l0.6 0.5M111.5 123.7l0.7 0.2M108.8 116.7l-0.4 0.2M100.9 -2.1l0.4 0.3M79.9 83.3l0.1 0.2M124.4 152.7h0M156.5 168.8l0.5 0.1M106.5 136.3l0.4 0.3M102.5 106.6l-0.2 0.4M145.5 161.1l0.4 0.2M157.3 185.4h0M84.2 87.6l-0.3 0.1M136.8 154.0l-0.0 0.2M93.0 118.5l0.5 0.3M69.9 22.8h0M115.6 156.0l-0.4 0.6M77.6 55.9l0.4 0.3M123.2 175.7l0.0 0.4M72.9 -1.7l0.4 0.5M73.9 126.8l-0.5 0.0M93.3 147.5l0.2 0.2M85.7 139.6l-0.3 0.1M92.4 155.6l-0.2 0.4M67.1 91.4l0.4 0.5M105.9 166.8h0M112.3 177.1l0.4 0.1M102.6 187.1h0M96.2 184.7h0M36.7 12.9h0M73.9 156.5l-0.3 0.2M39.2 45.6l0.2 0.2M32.0 2.5l-0.4 0.1M80.8 185.3l-0.2 0.2M17.6 74.7l0.7 0.3M37.4 68.3l0.2 0.2M27.4 41.8l-0.1 0.7M20.1 23.9l0.0 0.7M13.1 69.0h0M43.4 102.6h0M42.8 184.2l-0.7 0.3M17.8 60.9l-0.0 0.5M5.8 84.5l-0.0 0.4M19.4 52.3h0M36.6 174.2l-0.8 0.1M6.9 3.2l-0.0 0.6M25.7 154.0l0.1 0.6M10.8 135.5l0.3 0.6M8.1 50.5h0M29.0 170.4l-0.3 0.4M23.1 142.6h0M41.6 171.3l0.3 0.6M6.5 128.8l-0.2 0.6M3.0 162.1h0M4.2 140.5l-0.2 0.3M13.3 147.3l0.3 0.7" stroke="#8c36b8" stroke-width="3.5"/><path d="M251.4 85.8h0M237.1 66.7l0.3 0.0M247.4 38.2l-0.1 0.6M217.6 12.8l0.0 0.6M242.6 135.7l-0.3 0.7M234.6 163.8l-0.3 0.3M166.7 9.6l-0.3 0.1M136.5 78.6l-0.5 0.4M222.5 163.2l0.1 0.6M138.8 68.0l0.5 0.5M238.9 176.4h0M119.4 8.4h0M223.1 158.1l0.2 0.0M119.8 125.4l0.4 0.1M85.5 32.5l-0.1 0.4M99.2 72.5l0.8 0.2M73.7 122.2l-0.2 0.3M24.7 88.3l0.3 0.1M49.2 133.7l-0.8 0.2M21.8 100.6l-0.5 0.4M40.1 106.1l-0.6 0.2M27.0 119.4h0M22.2 59.8l0.3 0.6M27.1 32.3h0M59.9 166.9h0M33.9 151.9h0M-2.2 123.2l-0.4 0.4M14.2 157.2l-0.2 0.6M-3.1 127.9l0.5 0.2" stroke="#b070c4" stroke-width="3.5"/><path d="M229.5 50.6l0.4 0.1M247.0 59.4l-0.0 0.4M206.6 48.2l0.1 0.7M231.5 115.9l-0.4 0.0M235.0 152.3l0.7 0.3M135.6 56.9l0.6 0.5M134.7 50.5l0.4 0.3M188.9 142.3l-0.8 0.1M216.5 146.0l0.3 0.1M139.0 62.5h0M125.3 50.8l-0.1 0.3M235.7 183.5l-0.5 0.4M207.7 187.2l-0.4 0.2M165.3 174.0l-0.8 0.2M120.1 171.1l-0.0 0.4M59.2 2.0l-0.6 0.3M51.5 4.3h0M32.3 25.3l-0.4 0.1M43.0 125.1h0" stroke="#c088cc" stroke-width="3.5"/><path d="M230.7 84.1l-0.1 0.7M226.4 60.2h0M204.5 53.5l0.4 0.3M207.0 64.9l0.1 0.5M201.4 61.8l-0.1 0.4M188.9 50.4l0.5 0.6M246.8 114.1l-0.1 0.7M216.9 76.8l0.1 0.6M251.5 111.5h0M180.3 60.0h0M195.0 31.8h0M170.3 61.5l-0.2 0.4M214.0 100.2l-0.3 0.5M170.7 40.7l0.1 0.5M189.0 70.0l0.3 0.4M252.4 128.9l-0.3 0.1M194.1 86.6l0.3 0.4M168.7 47.5h0M244.7 15.1l-0.6 0.0M192.8 91.0l0.8 0.2M209.5 93.0l-0.2 0.6M221.4 124.5l0.3 0.6M159.5 68.3l-0.3 0.4M227.2 9.1l0.2 0.2M242.3 10.9l-0.5 0.0M251.0 10.0h0M169.1 76.7h0M179.7 66.2h0M220.6 3.5l0.3 0.7M209.6 127.9l0.7 0.4M152.8 38.2l0.0 0.3M176.0 19.8h0M205.2 122.9h0M231.7 148.1h0M205.3 -1.0h0M150.9 60.5l0.2 0.2M147.4 36.2h0M159.0 86.0l0.4 0.1M201.7 145.2l0.2 0.1M227.4 152.7h0M148.6 88.3l-0.0 0.4M153.6 85.4l0.4 0.4M215.0 141.1l-0.5 0.3M144.1 20.4h0M144.9 80.7h0M141.5 35.1l0.1 0.1M173.0 97.2l-0.3 0.1M172.3 2.1h0M153.2 15.9l-0.1 0.6M193.8 149.4l-0.2 0.1M150.3 101.3l-0.2 0.3M251.8 152.3l0.6 0.4M125.6 75.6l-0.8 0.1M137.2 40.1l0.4 0.2M131.6 33.3l-0.5 0.0M182.3 142.5l0.2 0.2M168.3 134.9l0.4 0.6M155.4 -0.3l-0.3 0.0M161.1 -3.4l-0.7 0.2M160.0 133.8h0M124.9 57.6l-0.2 0.2M189.1 164.9l0.3 0.0M151.7 -4.2l-0.2 0.3M126.6 68.0h0M154.1 133.6l-0.2 0.3M110.4 31.1l-0.4 0.5M151.8 142.0l0.3 0.2M181.5 168.4l0.6 0.2M122.2 28.4l-0.2 0.3M147.4 113.9l-0.1 0.5M116.7 58.8l0.3 0.7M103.3 67.5l0.0 0.7M247.1 186.1l0.0 0.3M144.4 134.0h0M103.0 61.0l-0.2 0.5M111.5 86.0l-0.3 0.1M177.5 181.1l-0.4 0.1M129.2 150.6l-0.1 0.7M113.9 12.8l-0.5 0.3M107.1 84.5l-0.3 0.5M133.6 157.7l0.6 0.2M128.2 3.0l0.7 0.4M95.2 58.5l-0.5 0.2M170.6 119.9l0.5 0.1M114.8 115.9l0.4 0.1M162.7 170.2h0M99.0 14.2l0.3 0.2M98.9 55.3l-0.5 0.2M88.6 40.1l-0.1 0.3M86.7 44.3l-0.5 0.1M98.7 97.4l0.4 0.1M93.0 5.2l-0.2 0.4M158.3 175.0h0M92.7 31.2l0.4 0.0M112.7 102.0l-0.1 0.7M152.7 175.9l0.1 0.5M84.6 48.9l-0.2 0.2M140.9 163.2l0.7 0.3M84.7 71.7l0.1 0.4M74.5 87.9l0.3 0.0M147.1 156.0l0.2 0.0M102.7 114.4h0M98.0 92.1l-0.3 0.2M78.2 65.7l0.3 0.6M98.3 123.2l0.2 0.0M75.6 82.2h0M77.1 23.3l0.4 0.2M81.5 100.3l-0.3 0.3M71.6 16.2l-0.4 0.5M118.7 162.6h0M76.1 17.4l-0.6 0.3M98.1 112.8h0M70.6 63.2l-0.4 0.6M86.5 124.5l0.1 0.3M68.6 77.8l-0.6 0.3M146.5 184.7l0.1 0.3M89.6 114.2h0M74.8 103.7l-0.4 0.0M65.9 101.9l0.0 0.4M102.7 161.1l0.7 0.0M93.7 138.2l0.6 0.4M58.3 100.7l0.1 0.2M132.7 181.3l0.6 0.2M117.2 185.5l-0.5 0.5M81.9 145.5l-0.2 0.1M79.6 133.6h0M76.6 97.2h0M64.4 18.3l-0.1 0.3M56.3 84.6l0.4 0.4M72.9 12.0h0M73.1 78.2l0.3 0.1M60.6 81.3l0.2 0.5M53.6 45.9h0M54.5 27.2h0M41.8 112.2l0.0 0.4M53.7 88.3h0M78.5 170.3l-0.2 0.2M61.8 5.7l-0.0 0.4M60.0 143.3h0M73.6 164.8l0.7 0.4M29.3 88.7h0M19.3 84.4l-0.2 0.3M28.5 7.4l0.3 0.7M61.9 155.1l-0.5 0.2M63.9 163.6l-0.3 0.7M27.8 26.8l-0.3 0.3M15.1 79.4h0M31.4 83.8h0M64.4 140.1l-0.4 0.1M14.2 92.8h0M26.1 125.3h0M25.6 52.5l-0.3 0.0M62.0 178.3h0M56.4 150.4h0M17.4 106.1l-0.1 0.3M89.6 160.3h0M19.5 125.9h0M57.9 157.9l-0.5 0.4M26.0 137.6h0M21.4 107.3l0.7 0.2M12.3 52.0l0.3 0.5M43.6 165.8l-0.2 0.2M3.9 52.7l-0.3 0.1M67.4 185.9h0M7.8 41.3h0M32.4 164.7h0M16.0 151.4l0.4 0.6M-0.9 54.1l-0.1 0.2M1.6 -1.7l-0.4 0.3M18.6 -3.7l-0.7 0.1M10.3 123.8l-0.2 0.1M24.7 161.4h0M33.7 170.3l0.4 0.2M-4.6 -0.3l0.5 0.2M21.5 182.5l0.3 0.5M7.8 172.0l-0.1 0.7M10.4 183.4h0M-4.6 159.5l0.3 0.1" stroke="#6e1ca4" stroke-width="3.5"/><path d="M248.5 47.7h0M194.4 46.4l0.5 0.6M195.2 23.5l0.1 0.4M166.1 67.6l0.5 0.2M251.6 30.6h0M172.7 22.8h0M189.7 93.7l-0.6 0.0M182.2 20.0l0.1 0.2M252.3 18.4l0.5 0.3M183.1 24.9l-0.5 0.6M143.7 67.4l-0.5 0.2M160.3 18.8h0M197.2 134.8l-0.2 0.6M206.2 143.6l0.3 0.3M195.1 130.0h0M151.8 94.1l-0.4 0.4M176.8 129.7l-0.0 0.3M138.9 10.1l0.4 0.1M145.8 94.9l-0.2 0.1M158.4 119.1h0M135.0 130.4l-0.4 0.0M111.0 62.2l-0.6 0.2M96.3 39.7h0M175.9 174.1l-0.4 0.4M191.3 160.2l0.5 0.4M151.8 147.4l0.3 0.0M109.9 90.9l-0.2 0.0M156.4 146.4l-0.4 0.3M90.2 67.0l0.2 0.4M92.6 20.8l0.8 0.1M87.8 56.6l-0.1 0.2M107.1 121.7l-0.3 0.1M146.4 166.0h0M79.8 60.1l-0.1 0.3M162.6 186.3h0M77.4 76.1l-0.2 0.2M70.8 30.5l0.3 0.6M107.3 126.8l-0.1 0.7M111.5 137.1l0.2 0.6M115.5 173.0h0M136.5 162.5l0.5 0.2M81.7 151.1l0.7 0.1M65.7 40.2l0.3 0.0M38.2 -0.3l0.3 0.0M78.7 165.2h0M75.0 174.2l0.3 0.1M71.8 178.7l0.2 0.5M42.4 71.1l0.2 0.2M55.3 178.0l0.2 0.0M12.6 104.2l-0.4 0.3M1.6 90.2h0M13.2 167.7l-0.2 0.1" stroke="#9c48c0" stroke-width="3.5"/><path d="M246.7 33.1l-0.1 0.2M241.9 30.2l0.4 0.5M211.6 41.5l0.8 0.0M181.3 13.1h0M218.1 165.8l-0.7 0.2M213.0 175.4l0.3 0.7M205.0 155.6l0.2 0.3M38.0 141.7h0M17.2 33.6l0.3 0.2" stroke="#9c50bc" stroke-width="3.5"/></g>
</svg>
<svg x="146.2" y="10.8" width="112.5" height="79.8" viewBox="0 0 112.5 79.8" overflow="hidden">
<rect width="112.5" height="79.8" fill="#f0d6f2"/>
<rect width="112.5" height="79.8" fill="#f0d6f2" filter="url(#mota)"/>
<g filter="url(#bl06)" stroke="#f0d8f0" stroke-width="0.9" stroke-linejoin="round"><path fill="#e09cdc" d="M8.1 11.1L10.3 13.2L8.3 22.9L5.6 23.0L3.1 11.8ZM23.1 28.5L19.8 22.7L20.3 20.6L28.6 14.5L31.9 14.7L32.9 15.5L33.5 22.7L23.3 28.5ZM28.3 41.9L21.6 40.8L17.3 50.6L23.3 56.0L30.3 53.6ZM57.7 25.3L51.7 17.5L45.5 20.2L44.4 24.0L46.7 28.3L54.3 29.0L57.5 26.3ZM4.6 0.9L8.9 4.7L8.1 11.1L3.1 11.8L-2.4 11.4L-2.9 10.9L0.1 1.9ZM8.0 46.7L11.2 50.0L7.0 60.9L5.9 61.5L0.5 59.6L-2.6 53.4L2.0 47.1ZM46.0 57.6L47.0 58.9L51.6 60.0L56.2 57.1L56.2 50.0L54.1 48.0L47.2 48.3L46.2 49.3ZM54.3 29.0L54.1 37.2L46.2 38.7L42.7 36.0L46.7 28.3ZM56.9 39.7L60.7 39.4L66.6 46.9L65.0 49.2L56.2 50.0L54.1 48.0ZM4.6 0.9L13.9 -21.9L11.8 -49.9L-4.1 -1.9L0.1 1.9ZM-4.4 40.5L-56.7 49.3L-143.7 54.3L-144.0 53.0L-144.5 26.7L-144.3 24.7L-16.4 25.6L-0.9 31.8L-0.3 33.6ZM-0.3 33.6L-0.9 31.8L2.5 23.6L5.6 23.0L8.3 22.9L9.6 23.7L11.2 35.7L10.1 36.5ZM57.5 26.3L65.2 33.8L60.7 39.4L56.9 39.7L54.1 37.2L54.3 29.0ZM20.8 65.0L10.1 74.0L17.7 79.7L24.2 72.8L23.9 68.6ZM71.4 29.2L79.7 31.5L81.2 37.7L79.6 39.3L71.8 39.5L68.1 33.4ZM36.7 76.7L31.4 80.3L24.2 72.8L23.9 68.6L35.6 67.1L35.8 67.2ZM43.5 0.3L51.0 -6.8L37.5 -151.7L32.9 -151.2L36.5 -9.7ZM68.7 46.3L76.6 50.3L75.4 56.8L66.3 60.0L65.0 49.2L66.6 46.9ZM5.2 71.5L8.8 74.1L5.1 91.0L-3.1 78.7L0.2 72.9ZM70.4 22.1L63.7 21.1L61.3 12.9L68.8 7.4L74.0 14.3L73.1 19.4ZM64.6 -8.5L65.2 -152.8L43.6 -152.7L37.5 -151.7L51.0 -6.8L57.5 -0.9ZM51.6 60.0L56.2 57.1L65.7 60.9L65.6 63.0L59.9 69.9L54.6 67.9ZM68.8 5.8L57.7 0.5L57.5 -0.9L64.6 -8.5L72.7 0.3ZM93.2 29.9L83.5 26.6L79.7 31.5L81.2 37.7L90.1 39.2L93.9 34.8ZM0.5 59.6L-2.6 53.4L-56.7 49.3L-143.7 54.3L-143.2 59.8L-8.2 66.2ZM84.6 49.9L79.2 48.7L79.6 39.3L81.2 37.7L90.1 39.2L90.7 43.2ZM90.7 43.2L90.1 39.2L93.9 34.8L104.1 37.8L103.9 45.2L96.0 48.2ZM76.5 -0.9L84.3 -151.5L94.2 -150.8L98.1 -150.0L98.1 -64.6L89.1 -3.1L78.9 -0.1ZM56.2 57.1L65.7 60.9L66.3 60.0L65.0 49.2L56.2 50.0ZM59.9 69.9L65.6 63.0L73.2 68.8L73.3 74.5L70.0 78.2L60.3 71.7ZM55.9 79.8L62.6 86.8L69.9 80.5L70.0 78.2L60.3 71.7ZM5.1 91.0L6.1 95.9L-8.8 225.8L-32.5 219.8L-56.9 209.2L-79.4 194.6L-99.4 176.4L-116.0 155.0L-128.8 131.2L-137.4 105.6L-138.3 100.0L-3.1 78.7ZM83.2 75.9L85.9 69.6L92.0 68.3L98.1 76.8L96.5 80.8L84.4 79.6ZM103.9 10.0L100.2 0.4L105.7 -5.9L114.0 0.8L113.8 1.9L105.7 9.9ZM69.9 80.5L62.6 86.8L51.1 198.1L51.2 232.1L68.9 233.0L94.1 230.3L102.3 228.2L100.5 204.0L80.3 89.1ZM104.1 37.8L93.9 34.8L93.2 29.9L95.4 26.0L102.7 23.1L103.8 23.5L108.1 31.0L107.2 35.5ZM107.2 35.5L116.1 39.5L141.2 30.8L119.1 25.9L108.1 31.0ZM98.1 76.8L103.6 74.5L105.5 67.3L101.9 62.2L93.7 65.1L92.0 68.3ZM114.0 58.4L107.2 55.1L103.1 58.4L101.9 62.2L105.5 67.3L114.4 66.6ZM93.2 29.9L83.5 26.6L82.8 23.4L88.8 14.5L95.4 26.0ZM114.0 58.4L122.8 53.5L114.1 46.8L107.5 49.2L107.2 55.1ZM110.7 78.3L112.2 78.0L212.6 172.6L210.6 175.2L191.0 193.6L168.9 208.4L144.8 219.4L119.5 226.3L102.3 228.2L100.5 204.0L100.9 100.9ZM114.0 58.4L122.8 53.5L256.6 51.8L256.7 53.0L255.1 72.8L117.8 69.8L114.4 66.6ZM108.1 31.0L119.1 25.9L112.5 18.8L103.8 23.5Z"/><path fill="#e6aae2" d="M23.1 28.5L19.8 22.7L9.6 23.7L11.2 35.7L18.3 35.4ZM36.0 36.4L36.3 25.2L33.5 22.7L23.3 28.5L34.4 36.7ZM34.4 36.7L23.3 28.5L23.1 28.5L18.3 35.4L21.6 40.8L28.3 41.9ZM57.7 0.5L52.1 8.2L45.3 6.1L43.2 3.2L43.5 0.3L51.0 -6.8L57.5 -0.9ZM0.1 1.9L-4.1 -1.9L-69.6 4.4L-2.9 10.9ZM28.6 0.6L29.9 0.7L36.5 -9.7L32.9 -151.2L18.4 -150.4L13.9 -149.4L11.8 -49.9L13.9 -21.9L17.8 -9.5ZM21.6 40.8L18.3 35.4L11.2 35.7L10.1 36.5L8.0 46.7L11.2 50.0L17.3 50.6ZM20.3 20.6L19.8 22.7L9.6 23.7L8.3 22.9L10.3 13.2L16.1 12.8ZM-2.4 11.4L-1.8 20.1L2.5 23.6L5.6 23.0L3.1 11.8ZM45.5 20.2L40.2 14.3L45.3 6.1L52.1 8.2L53.6 11.2L51.7 17.5ZM20.6 64.5L7.0 60.9L5.9 61.5L5.2 71.5L8.8 74.1L10.1 74.0L20.8 65.0ZM31.2 53.8L35.3 58.5L35.6 67.1L23.9 68.6L20.8 65.0L20.6 64.5L23.3 56.0L30.3 53.6ZM13.9 -149.4L-7.4 -147.6L-33.1 -141.2L-57.7 -130.6L-80.4 -116.0L-100.5 -97.6L-117.2 -76.0L-130.0 -52.0L-138.5 -26.2L-142.6 0.3L-142.6 3.6L-69.6 4.4L-4.1 -1.9L11.8 -49.9ZM46.0 57.6L47.0 58.9L43.8 66.9L35.8 67.2L35.6 67.1L35.3 58.5ZM-8.2 66.2L-143.2 59.8L-142.5 79.4L-138.3 100.0L-3.1 78.7L0.2 72.9ZM70.4 22.1L71.4 29.2L79.7 31.5L83.5 26.6L82.8 23.4L73.1 19.4ZM54.1 37.2L46.2 38.7L47.2 48.3L54.1 48.0L56.9 39.7ZM70.0 78.2L73.3 74.5L83.2 75.9L84.4 79.6L80.3 89.1L69.9 80.5ZM80.7 64.2L85.9 69.6L83.2 75.9L73.3 74.5L73.2 68.8ZM95.3 52.8L103.1 58.4L107.2 55.1L107.5 49.2L103.9 45.2L96.0 48.2ZM84.4 79.6L96.5 80.8L100.9 100.9L100.5 204.0L80.3 89.1ZM102.7 23.1L100.6 12.9L103.9 10.0L105.7 9.9L112.7 15.5L112.5 18.8L103.8 23.5ZM88.0 55.9L84.6 49.9L90.7 43.2L96.0 48.2L95.3 52.8L89.8 56.3ZM105.7 9.9L113.8 1.9L118.7 11.6L112.7 15.5ZM114.4 66.6L117.8 69.8L112.2 78.0L110.7 78.3L103.6 74.5L105.5 67.3Z"/><path fill="#da90d6" d="M20.3 20.6L16.1 12.8L19.7 7.5L21.8 7.5L28.6 14.5ZM36.3 36.6L38.6 48.1L31.2 53.8L30.3 53.6L28.3 41.9L34.4 36.7L36.0 36.4ZM44.4 24.0L36.3 25.2L33.5 22.7L32.9 15.5L40.2 14.3L45.5 20.2ZM31.9 14.7L32.9 15.5L40.2 14.3L45.3 6.1L43.2 3.2L33.4 4.1ZM28.6 14.5L31.9 14.7L33.4 4.1L29.9 0.7L28.6 0.6L21.8 7.5ZM33.4 4.1L43.2 3.2L43.5 0.3L36.5 -9.7L29.9 0.7ZM36.3 36.6L42.7 36.0L46.7 28.3L44.4 24.0L36.3 25.2L36.0 36.4ZM36.3 36.6L42.7 36.0L46.2 38.7L47.2 48.3L46.2 49.3L38.6 48.1ZM21.8 7.5L28.6 0.6L17.8 -9.5L15.8 2.5L19.7 7.5ZM19.7 7.5L15.8 2.5L8.9 4.7L8.1 11.1L10.3 13.2L16.1 12.8ZM8.0 46.7L10.1 36.5L-0.3 33.6L-4.4 40.5L2.0 47.1ZM-2.4 11.4L-1.8 20.1L-16.4 25.6L-144.3 24.7L-142.6 3.6L-69.6 4.4L-2.9 10.9ZM38.6 48.1L46.2 49.3L46.0 57.6L35.3 58.5L31.2 53.8ZM5.9 61.5L5.2 71.5L0.2 72.9L-8.2 66.2L0.5 59.6ZM68.8 7.4L68.8 5.8L57.7 0.5L52.1 8.2L53.6 11.2L61.3 12.9ZM2.5 23.6L-0.9 31.8L-16.4 25.6L-1.8 20.1ZM61.3 12.9L53.6 11.2L51.7 17.5L57.7 25.3L63.7 21.1ZM4.6 0.9L13.9 -21.9L17.8 -9.5L15.8 2.5L8.9 4.7ZM18.0 81.4L6.1 95.9L-8.8 225.8L-7.1 226.4L14.9 230.4L25.2 85.5ZM2.0 47.1L-2.6 53.4L-56.7 49.3L-4.4 40.5ZM23.3 56.0L20.6 64.5L7.0 60.9L11.2 50.0L17.3 50.6ZM70.4 22.1L71.4 29.2L68.1 33.4L65.2 33.8L57.5 26.3L57.7 25.3L63.7 21.1ZM76.5 -0.9L84.3 -151.5L68.9 -153.0L65.2 -152.8L64.6 -8.5L72.7 0.3ZM68.8 7.4L68.8 5.8L72.7 0.3L76.5 -0.9L78.9 -0.1L83.2 11.1L74.0 14.3ZM47.4 71.4L54.6 67.9L59.9 69.9L60.3 71.7L55.9 79.8L53.2 80.1L46.8 74.8ZM73.1 19.4L82.8 23.4L88.8 14.5L88.9 13.2L83.2 11.1L74.0 14.3ZM17.7 79.7L10.1 74.0L8.8 74.1L5.1 91.0L6.1 95.9L18.0 81.4ZM47.4 71.4L43.8 66.9L35.8 67.2L36.7 76.7L41.5 77.9L46.8 74.8ZM83.2 11.1L88.9 13.2L90.4 12.1L92.1 0.6L89.1 -3.1L78.9 -0.1ZM100.2 0.4L105.7 -5.9L98.1 -64.6L89.1 -3.1L92.1 0.6ZM45.3 91.8L43.7 100.7L51.1 198.1L62.6 86.8L55.9 79.8L53.2 80.1ZM102.7 23.1L100.6 12.9L90.4 12.1L88.9 13.2L88.8 14.5L95.4 26.0ZM25.2 85.5L14.9 230.4L18.2 231.1L43.6 232.8L51.2 232.1L51.1 198.1L43.7 100.7L31.4 80.5ZM103.9 10.0L100.2 0.4L92.1 0.6L90.4 12.1L100.6 12.9ZM17.7 79.7L24.2 72.8L31.4 80.3L31.4 80.5L25.2 85.5L18.0 81.4ZM36.7 76.7L31.4 80.3L31.4 80.5L43.7 100.7L45.3 91.8L41.5 77.9ZM65.7 60.9L65.6 63.0L73.2 68.8L80.7 64.2L80.6 61.5L75.4 56.8L66.3 60.0ZM68.1 33.4L71.8 39.5L68.7 46.3L66.6 46.9L60.7 39.4L65.2 33.8ZM71.8 39.5L68.7 46.3L76.6 50.3L79.2 48.7L79.6 39.3ZM88.0 55.9L80.6 61.5L75.4 56.8L76.6 50.3L79.2 48.7L84.6 49.9ZM46.8 74.8L53.2 80.1L45.3 91.8L41.5 77.9ZM88.0 55.9L80.6 61.5L80.7 64.2L85.9 69.6L92.0 68.3L93.7 65.1L89.8 56.3ZM89.8 56.3L93.7 65.1L101.9 62.2L103.1 58.4L95.3 52.8ZM104.1 37.8L103.9 45.2L107.5 49.2L114.1 46.8L116.1 39.5L107.2 35.5ZM213.8 28.6L256.2 30.1L256.6 26.8L255.6 0.2L250.3 -26.0L240.7 -51.1L236.2 -58.6L114.0 0.8L113.8 1.9L118.7 11.6ZM112.7 15.5L118.7 11.6L213.8 28.6L141.2 30.8L119.1 25.9L112.5 18.8ZM98.1 -64.6L105.7 -5.9L114.0 0.8L236.2 -58.6L227.9 -74.8L211.6 -96.3L192.0 -114.9L169.7 -129.8L145.4 -140.8L119.9 -147.7L98.1 -150.0ZM98.1 76.8L103.6 74.5L110.7 78.3L100.9 100.9L96.5 80.8ZM212.6 172.6L112.2 78.0L117.8 69.8L255.1 72.8L255.0 79.4L250.0 105.7L240.8 130.9L227.5 154.3ZM47.4 71.4L54.6 67.9L51.6 60.0L47.0 58.9L43.8 66.9ZM141.2 30.8L116.1 39.5L114.1 46.8L122.8 53.5L256.6 51.8L256.2 30.1L213.8 28.6Z"/></g>
<g fill="none" stroke-linecap="round" filter="url(#bl06)"><path d="M36.9 -1.9l-0.6 1.1M95.9 58.5h0M89.3 22.8l-0.6 1.3" stroke="#8430a4" stroke-width="8.5"/><path d="M14.0 17.6l-0.3 0.8" stroke="#8c3aa8" stroke-width="8.5"/><path d="M60.5 44.8l-1.3 0.8M64.8 -2.1l-0.3 1.3M97.2 -5.4l-0.2 0.6M90.7 75.1l-1.1 1.1" stroke="#9848b0" stroke-width="8.5"/><path d="M27.0 21.1l0.4 0.6M24.2 46.2l0.2 0.7M41.5 28.9l-1.1 0.2M12.9 7.9l0.6 0.1M40.2 53.6l0.3 0.1M44.3 -6.7h0M81.8 -7.8l0.4 0.9M46.8 80.8l0.2 0.5M110.4 42.5l0.3 0.6M119.9 5.6l1.1 0.1M118.6 17.7l-0.6 0.1M118.9 77.7l0.1 0.6M119.3 61.4l0.0 0.6" stroke="#8c3aa8" stroke-width="8"/><path d="M28.0 7.5h0M4.1 53.4l-0.7 1.3M10.8 -0.7l-0.6 0.4M53.0 73.7h0M11.4 81.0l1.1 0.3M67.8 70.4l0.0 1.2M78.6 70.7h0" stroke="#a45cb8" stroke-width="8"/><path d="M50.4 -0.3l0.2 0.4M21.3 1.0l0.8 0.7M29.3 -6.6l-0.9 0.6M0.8 -4.7l1.1 0.8M-4.4 25.1l0.6 1.2M29.8 62.9h0M-6.6 -7.4l-0.7 0.7M13.8 57.3l0.4 1.4M65.2 27.4l-0.5 0.2M84.0 44.2h0M38.5 83.0l0.1 0.8M106.3 2.7l-0.4 0.1M90.0 49.7l0.7 0.3M114.5 51.8l-1.2 0.7" stroke="#9848b0" stroke-width="8"/><path d="M15.3 42.3l0.4 0.8M-1.0 65.5l0.9 1.0M11.9 66.8l-0.5 0.2M5.8 29.6l-0.4 0.2M41.2 62.4l-0.3 0.0M97.6 41.8l-0.4 1.4M97.8 5.7l-0.7 0.7M24.4 79.2l-1.3 0.8M81.5 54.1l0.2 1.5M112.9 9.4l0.1 0.3M49.0 65.5h0" stroke="#8430a4" stroke-width="8"/><path d="M5.1 16.2h0M50.2 23.4l0.5 0.6M51.6 53.7l0.4 0.6M57.8 17.7l0.6 0.3M-4.6 47.4l-1.0 0.3M101.2 29.9l-0.5 0.8" stroke="#8430a4" stroke-width="7.5"/><path d="M14.6 28.1l0.7 0.8M2.6 39.8l0.3 0.4M99.6 68.9h0" stroke="#a45cb8" stroke-width="7.5"/><path d="M33.3 44.7l0.5 0.7M-5.9 3.7h0M-7.5 16.7l0.5 1.5M-6.7 58.7l1.4 0.2M54.7 86.2l-0.0 0.2M77.2 79.1l0.4 0.9M101.1 51.2l-0.6 0.7M114.4 32.5l1.1 1.1" stroke="#8c3aa8" stroke-width="7.5"/><path d="M37.5 8.4l0.1 0.8M42.5 43.0l-0.9 0.7M3.5 6.6l0.8 0.8M46.0 13.6l0.5 1.3M31.5 72.3l-0.8 0.7M2.9 79.1l0.2 0.2M77.0 25.4l0.3 0.9M85.3 32.0l1.1 0.9M50.6 42.1l1.4 0.3M70.5 87.7l-0.2 0.4M104.3 81.1l0.7 0.4M113.0 84.7l-0.8 0.1" stroke="#9848b0" stroke-width="7.5"/><path d="M31.2 28.5l0.5 0.5M50.0 33.0l-0.9 1.0M-7.7 33.7l0.6 0.5M57.9 -8.5l-0.5 1.2M57.4 62.4l-0.3 0.1M71.2 -8.0l0.9 0.2M76.9 7.5l0.2 0.0M41.4 71.7h0M30.7 87.8l0.0 0.6M60.6 53.9h0M66.4 39.3l0.2 1.2M75.2 43.7l-0.7 0.2M-5.1 84.4l0.3 0.3M106.8 16.9l0.2 0.3M109.5 71.4l0.6 0.5M111.4 23.9l-0.8 1.0" stroke="#8c3aa8" stroke-width="7"/><path d="M21.6 13.8h0M25.8 35.7l0.3 1.0M39.7 19.8l-0.3 1.0M3.2 16.7h0M60.6 7.1l-0.2 0.1M17.2 73.4l0.4 0.6M74.5 34.7l0.3 0.8M70.6 52.5l-0.5 0.5M66.5 15.3l0.4 0.0M73.4 62.8l1.2 0.6M89.9 84.2l-1.3 0.9M114.0 -7.4l0.2 0.2M119.3 44.8l-0.4 0.9" stroke="#9848b0" stroke-width="7"/><path d="M59.2 33.3l-0.7 0.8M19.3 87.2l0.3 0.3M-6.8 73.3l0.2 0.9M80.7 17.2l-0.5 1.0M84.7 4.2l1.4 0.2M87.7 62.0l-0.8 0.6M109.1 62.3h0" stroke="#8430a4" stroke-width="7"/><path d="M97.0 18.6l-1.1 1.0M62.5 78.9h0" stroke="#a45cb8" stroke-width="7"/><path d="M14.9 27.8l0.4 0.5M32.8 44.3l0.3 0.4M24.2 46.7l0.1 0.4M37.5 -1.0l-0.4 0.7M41.2 29.0l-0.7 0.1M50.4 0.2l0.1 0.2M50.4 24.3l0.3 0.3M12.2 7.8l0.4 0.1M-6.7 4.4h0M28.8 -5.7l-0.6 0.3M15.1 41.9l0.2 0.5M3.9 54.3l-0.4 0.8M2.0 39.8l0.2 0.2M39.6 54.3l0.2 0.1M1.3 -4.3l0.7 0.5M-0.6 65.9l0.6 0.6M-4.0 24.8l0.4 0.7M11.5 66.5l-0.3 0.1M5.4 30.0l-0.2 0.1M-7.5 -7.2l-0.4 0.4M57.7 17.0l0.4 0.2M10.1 -0.6l-0.3 0.2M64.8 -1.7l-0.2 0.8M14.4 57.0l0.3 0.8M65.4 27.4l-0.3 0.1M77.8 25.3l0.2 0.5M85.2 32.9l0.7 0.5M11.3 80.8l0.6 0.2M96.9 -5.8l-0.1 0.3M55.0 86.1h0M84.4 43.5h0M97.0 41.3l-0.3 0.8M96.9 5.4l-0.4 0.4M67.5 71.3l0.0 0.7M82.1 54.8l0.1 0.9M77.4 79.4l0.2 0.6M78.7 71.4h0M89.7 74.5l-0.6 0.7M105.8 2.4l-0.2 0.1M70.9 88.3l-0.1 0.2M110.6 43.2l0.2 0.3M99.2 68.9h0M119.7 6.1l0.7 0.1M117.8 17.5l-0.4 0.0M89.5 49.7l0.4 0.2M89.7 23.0l-0.4 0.8M112.4 84.7l-0.5 0.1M49.0 65.5h0M120.0 61.7l0.0 0.4" stroke="#b070c6" stroke-width="4"/><path d="M5.4 16.2h0M31.7 29.1l0.3 0.3M22.3 14.1h0M40.2 20.4l-0.2 0.6M36.9 8.2l0.1 0.5M3.8 16.8h0M46.7 14.4l0.3 0.8M49.8 33.3l-0.6 0.6M60.4 6.6h0M58.3 33.3l-0.4 0.5M74.8 34.3l0.2 0.5M30.8 72.0l-0.5 0.4M58.0 -8.6l-0.3 0.7M19.2 87.1l0.2 0.2M57.5 63.1h0M-6.0 73.4l0.1 0.5M72.1 -8.4l0.5 0.1M77.0 7.3h0M-6.1 59.2l0.9 0.1M80.4 16.9l-0.3 0.6M30.3 88.3l0.0 0.4M60.3 54.2h0M73.3 63.5l0.7 0.4M63.3 78.5h0M75.6 43.9l-0.4 0.1M101.3 50.8l-0.3 0.4M87.6 61.7l-0.5 0.4M90.0 84.8l-0.8 0.5M106.5 17.0l0.1 0.2M115.3 32.5l0.6 0.6M114.1 -7.5h0M110.2 72.0l0.3 0.3M112.0 24.7l-0.5 0.6M118.9 44.7l-0.2 0.5" stroke="#b070c6" stroke-width="3.5"/><path d="M4.3 14.7h0M4.1 16.6h0M6.9 17.8h0M35.3 -0.5h0M36.1 -1.5h0M35.6 -1.7h0M50.1 25.0h0M15.6 44.4h0M13.8 40.9h0M0.8 66.1h0M-2.0 65.7h0M0.9 65.5h0M11.5 67.8h0M13.2 68.5h0M11.2 66.3h0M7.2 29.9h0M59.6 16.0h0M57.9 19.0h0M20.3 86.0h0M18.2 87.7h0M18.7 87.0h0M97.5 42.8h0M97.2 42.2h0M99.2 40.6h0M97.6 4.2h0M98.9 4.2h0M97.1 5.2h0M80.2 54.5h0M88.5 61.4h0M86.8 61.8h0M87.7 61.1h0M89.5 23.2h0M48.8 65.9h0M47.3 66.4h0M50.2 63.7h0" stroke="#8430a4" stroke-width="1.5"/><path d="M15.4 28.0h0M16.3 27.5h0M2.7 54.1h0M3.6 55.5h0M1.2 39.6h0M3.8 39.4h0M3.1 38.9h0M11.1 -0.1h0M11.5 -0.8h0M13.6 80.3h0M13.1 79.9h0M65.9 70.0h0M68.4 70.6h0M63.7 77.9h0M61.1 78.3h0M61.4 78.6h0M77.7 72.2h0M78.4 70.8h0M79.2 72.0h0M100.5 68.3h0M100.0 67.6h0" stroke="#a45cb8" stroke-width="1.5"/><path d="M32.9 27.6h0M35.0 44.5h0M32.2 46.5h0M33.4 43.9h0M25.8 46.1h0M40.6 28.2h0M40.3 28.9h0M14.5 9.6h0M12.5 9.6h0M-6.6 2.7h0M-4.1 3.0h0M-7.1 1.8h0M49.8 34.2h0M39.4 52.3h0M57.9 -6.6h0M58.2 61.8h0M78.5 5.9h0M77.5 6.2h0M77.9 8.8h0M-5.5 59.4h0M55.1 87.6h0M31.6 88.5h0M31.6 88.5h0M60.3 53.1h0M75.0 45.5h0M73.9 43.2h0M75.9 42.5h0M77.8 79.3h0M78.0 79.1h0M76.8 79.3h0M102.1 51.0h0M102.2 51.6h0M108.0 15.2h0M105.4 18.1h0M114.1 32.7h0M115.0 31.9h0M109.4 44.2h0M120.5 5.6h0M121.4 6.4h0M117.2 17.6h0M116.5 17.9h0M109.1 71.4h0M118.5 60.1h0M118.5 63.6h0M120.5 62.1h0M112.7 23.6h0" stroke="#8c3aa8" stroke-width="1.5"/><path d="M22.3 15.3h0M37.2 7.9h0M49.9 -1.6h0M50.1 -1.7h0M30.7 -7.1h0M29.8 -7.7h0M4.2 18.1h0M45.6 12.7h0M0.5 -5.1h0M0.5 -5.1h0M62.3 7.6h0M-4.0 24.5h0M-4.9 24.4h0M-8.5 -7.9h0M29.4 71.1h0M32.9 71.3h0M63.6 -2.1h0M64.1 -0.3h0M64.9 -1.9h0M13.6 56.3h0M12.3 57.0h0M65.0 26.1h0M64.0 26.6h0M75.4 26.2h0M77.1 27.2h0M86.2 33.0h0M87.1 31.7h0M97.9 -3.2h0M95.5 -3.2h0M84.1 45.1h0M91.4 77.1h0M88.5 77.5h0M92.1 75.2h0M107.9 2.9h0M107.6 3.1h0M106.5 1.6h0M70.6 88.2h0M71.8 88.5h0M87.5 85.3h0M89.1 49.3h0M90.1 49.3h0M91.9 48.1h0M114.7 -8.9h0M114.0 -8.6h0M111.0 86.3h0M118.4 44.1h0M119.6 44.0h0M118.9 43.5h0" stroke="#9848b0" stroke-width="1.5"/><path d="M39.6 19.7h0M38.0 18.9h0M40.5 19.1h0M75.0 36.0h0M75.6 33.8h0M74.3 34.0h0M72.9 64.2h0" stroke="#9848b0" stroke-width="1"/><path d="M58.8 33.0h0M59.2 32.7h0M-5.4 73.6h0M80.6 16.2h0" stroke="#8430a4" stroke-width="1"/><path d="M73.3 -6.6h0M72.1 -8.9h0M72.7 -7.4h0" stroke="#8c3aa8" stroke-width="1"/></g>
</svg>
<path d="M146.6 10.8V90.2H258.7" stroke="#f8eef8" stroke-width="0.9" fill="none"/>
<svg x="394.3" y="10.8" width="114.7" height="81.8" viewBox="0 0 114.7 81.8" overflow="hidden">
<rect width="114.7" height="81.8" fill="#f2e0f2"/>
<rect width="114.7" height="81.8" fill="#f2e0f2" filter="url(#motb)"/>
<g filter="url(#bl08)" stroke="#f4e4f4" stroke-width="1.6" stroke-linejoin="round"><path fill="#e292d4" d="M8.6 18.1L-0.1 31.0L6.1 36.0L16.1 31.3L18.0 23.6L15.5 19.4ZM-0.5 10.0L-112.4 -79.7L-99.3 -96.5L-87.8 -107.1L9.8 -0.9ZM14.2 -1.0L37.3 -55.9L38.5 -46.4L35.3 -5.3L21.2 5.2ZM-0.4 10.9L-7.7 20.0L-149.1 28.0L-149.1 27.4L-147.5 0.1L-141.4 -26.6L-130.9 -52.0L-116.4 -75.2L-112.4 -79.7L-0.5 10.0ZM8.6 18.1L-0.1 31.0L-2.0 30.6L-7.7 20.0L-0.4 10.9ZM38.8 29.1L47.4 25.8L57.6 28.4L60.8 32.4L57.2 46.7L54.1 48.3L42.8 44.1L38.3 31.2ZM23.8 40.5L23.3 45.4L19.4 48.7L6.9 47.4L5.4 45.7L6.1 36.0L16.1 31.3ZM38.8 29.1L47.4 25.8L48.4 7.2L42.9 5.9L33.3 13.3L33.2 23.4ZM5.4 45.7L-10.4 48.0L-3.5 64.0L5.2 62.4L6.9 47.4ZM49.8 63.0L40.0 64.0L35.2 59.6L34.6 51.7L42.8 44.1L54.1 48.3ZM38.3 31.2L42.8 44.1L34.6 51.7L23.3 45.4L23.8 40.5ZM-0.1 31.0L6.1 36.0L5.4 45.7L-10.4 48.0L-19.5 43.3L-2.0 30.6ZM16.2 69.3L26.7 80.1L34.4 80.1L40.0 64.0L35.2 59.6L19.6 64.1L16.1 68.9ZM56.4 -0.8L66.5 -2.5L73.6 4.8L72.5 13.3L63.4 15.2L53.2 5.2ZM57.3 70.7L55.7 80.5L36.6 81.9L34.4 80.1L40.0 64.0L49.8 63.0ZM75.7 52.6L80.2 47.9L87.4 47.1L94.6 53.9L94.4 69.8L81.8 67.3ZM88.2 15.3L93.1 6.1L83.4 -0.0L73.6 4.8L72.5 13.3L74.1 14.8ZM34.4 80.1L36.6 81.9L51.4 159.0L54.4 237.6L44.4 238.5L18.4 236.9L15.7 236.3L11.3 142.4L15.9 98.8L26.7 80.1ZM16.2 69.3L6.0 80.8L0.6 81.0L-8.6 70.0L-3.5 64.0L5.2 62.4L16.1 68.9ZM75.3 73.2L75.9 84.0L57.5 83.9L55.7 80.5L57.3 70.7L63.3 68.2ZM56.4 -0.8L38.5 -46.4L37.3 -55.9L40.0 -155.8L44.4 -156.5L70.3 -156.9L90.0 -154.2L91.2 -91.3L80.6 -32.1L66.5 -2.5ZM16.2 69.3L6.0 80.8L15.9 98.8L26.7 80.1ZM57.5 83.9L51.4 159.0L54.4 237.6L70.3 238.1L83.7 236.5L80.2 88.8L75.9 84.0ZM81.8 67.3L94.4 69.8L95.0 70.5L95.7 77.8L80.2 88.8L75.9 84.0L75.3 73.2ZM108.4 51.2L109.3 49.9L107.6 39.2L96.4 33.3L87.4 47.1L94.6 53.9ZM108.4 51.2L109.3 49.9L138.9 52.0L139.2 52.1L116.9 68.6L110.0 65.0ZM96.4 33.3L107.6 39.2L117.5 33.0L117.9 29.6L109.3 18.9L107.7 18.7L95.5 29.8ZM117.5 33.0L138.9 52.0L109.3 49.9L107.6 39.2ZM95.0 70.5L95.7 77.8L104.8 86.2L117.8 80.6L116.9 68.6L110.0 65.0ZM139.2 52.1L263.7 53.3L263.9 54.4L262.5 81.7L256.7 108.6L246.4 134.1L238.0 147.8L117.8 80.6L116.9 68.6ZM99.7 -46.7L91.2 -91.3L90.0 -154.2L96.3 -154.7L123.0 -152.5L149.5 -145.9L174.9 -135.0L198.3 -119.8L218.8 -100.7L235.8 -78.3L248.6 -53.4L257.0 -26.9L260.5 -1.8L239.8 -0.0L116.5 -3.8ZM70.9 53.5L63.3 68.2L75.3 73.2L81.8 67.3L75.7 52.6ZM23.3 45.4L34.6 51.7L35.2 59.6L19.6 64.1L19.4 48.7Z"/><path fill="#dc8ad0" d="M8.6 18.1L-0.4 10.9L-0.5 10.0L9.8 -0.9L14.2 -1.0L21.2 5.2L21.3 5.4L15.5 19.4ZM15.5 19.4L18.0 23.6L33.2 23.4L33.3 13.3L21.3 5.4ZM56.4 -0.8L38.5 -46.4L35.3 -5.3L42.9 5.9L48.4 7.2L53.2 5.2ZM38.8 29.1L33.2 23.4L18.0 23.6L16.1 31.3L23.8 40.5L38.3 31.2ZM-7.7 20.0L-149.1 28.0L-148.8 34.9L-19.5 43.3L-2.0 30.6ZM21.3 5.4L33.3 13.3L42.9 5.9L35.3 -5.3L21.2 5.2ZM0.6 81.0L-8.6 70.0L-43.7 77.2L-5.1 89.4ZM108.4 51.2L110.0 65.0L95.0 70.5L94.4 69.8L94.6 53.9ZM104.8 86.2L89.8 236.3L96.3 236.6L122.8 233.7L148.9 226.6L173.7 215.1L196.5 199.6L216.4 180.4L232.8 158.1L238.0 147.8L117.8 80.6ZM114.5 -0.1L116.5 -3.8L239.8 -0.0L137.5 15.9L118.7 11.8ZM104.8 86.2L89.8 236.3L83.7 236.5L80.2 88.8L95.7 77.8ZM109.3 18.9L118.7 11.8L114.5 -0.1L99.3 5.1L107.7 18.7ZM117.5 33.0L138.9 52.0L139.2 52.1L263.7 53.3L264.6 27.3L261.1 0.4L260.5 -1.8L239.8 -0.0L137.5 15.9L117.9 29.6ZM117.9 29.6L137.5 15.9L118.7 11.8L109.3 18.9ZM0.6 81.0L6.0 80.8L15.9 98.8L11.3 142.4L-5.1 89.4ZM-5.1 89.4L11.3 142.4L15.7 236.3L-8.4 234.6L-35.1 228.4L-60.7 217.6L-84.4 202.5L-105.2 183.5L-122.5 161.0L-135.5 136.0L-143.9 109.2L-147.7 81.7L-147.6 79.1L-43.7 77.2Z"/><path fill="#e8a4dc" d="M14.2 -1.0L37.3 -55.9L40.0 -155.8L18.2 -155.9L-8.1 -152.0L-33.7 -143.8L-57.9 -131.5L-79.7 -115.4L-87.8 -107.1L9.8 -0.9ZM53.2 5.2L48.4 7.2L47.4 25.8L57.6 28.4L63.4 15.2ZM75.4 29.7L73.3 32.2L60.8 32.4L57.6 28.4L63.4 15.2L72.5 13.3L74.1 14.8ZM6.9 47.4L5.2 62.4L16.1 68.9L19.6 64.1L19.4 48.7ZM70.9 53.5L57.2 46.7L60.8 32.4L73.3 32.2L80.2 47.9L75.7 52.6ZM70.9 53.5L57.2 46.7L54.1 48.3L49.8 63.0L57.3 70.7L63.3 68.2ZM91.5 26.8L95.5 29.8L96.4 33.3L87.4 47.1L80.2 47.9L73.3 32.2L75.4 29.7ZM91.5 26.8L75.4 29.7L74.1 14.8L88.2 15.3ZM-8.6 70.0L-3.5 64.0L-10.4 48.0L-19.5 43.3L-148.8 34.9L-150.1 54.5L-147.6 79.1L-43.7 77.2ZM73.6 4.8L83.4 -0.0L80.6 -32.1L66.5 -2.5ZM55.7 80.5L36.6 81.9L51.4 159.0L57.5 83.9ZM91.5 26.8L95.5 29.8L107.7 18.7L99.3 5.1L98.0 4.6L93.1 6.1L88.2 15.3ZM114.5 -0.1L116.5 -3.8L99.7 -46.7L98.0 4.6L99.3 5.1ZM83.4 -0.0L80.6 -32.1L91.2 -91.3L99.7 -46.7L98.0 4.6L93.1 6.1Z"/></g>
<g fill="none" stroke-linecap="round" filter="url(#bl06)"><path d="M25.1 15.4l0.8 1.0M56.1 16.8l-2.8 0.0" stroke="#8a2cae" stroke-width="13.5"/><path d="M62.1 -11.3l-0.3 2.0M15.4 82.7l-1.5 0.9" stroke="#9236b4" stroke-width="13.5"/><path d="M118.7 41.9l-3.3 1.9" stroke="#9c44ba" stroke-width="13.5"/><path d="M85.3 35.0l-3.1 0.6M82.1 7.7l-0.9 1.8M80.8 21.2l0.8 0.7M45.6 87.9l1.6 2.1M123.6 -13.2l-0.2 3.4M2.8 89.1l1.0 0.5M-11.3 92.5l-1.6 3.2" stroke="#9236b4" stroke-width="13"/><path d="M68.1 75.9l-0.5 2.7M82.9 75.9l0.6 1.2M90.2 -5.8l0.6 1.1M72.6 64.0l0.5 2.2" stroke="#9c44ba" stroke-width="13"/><path d="M110.3 28.3l-3.8 1.7" stroke="#8a2cae" stroke-width="13"/><path d="M7.2 25.4l1.0 2.4M11.6 -12.0l-2.7 0.6M-10.8 27.6l0.1 1.7M14.3 54.5l-3.2 1.7" stroke="#8a2cae" stroke-width="12.5"/><path d="M14.4 38.8l-0.4 3.8M74.6 -4.2l1.7 0.7M116.9 92.0l-2.5 0.8M26.8 53.5l-1.0 3.4" stroke="#9236b4" stroke-width="12.5"/><path d="M41.0 15.5l0.2 1.1M127.7 72.2l-1.8 0.7M127.7 31.2l-1.0 0.3" stroke="#9c44ba" stroke-width="12.5"/><path d="M-1.4 -2.0l0.9 1.1M-1.0 52.8l0.7 2.2" stroke="#8a2cae" stroke-width="12"/><path d="M70.1 22.2l-3.8 1.1M28.2 67.4l3.6 1.5M60.4 57.4l-0.2 2.4M101.9 59.0l1.3 1.2M96.3 15.8l2.2 2.4" stroke="#9236b4" stroke-width="12"/><path d="M31.2 91.8l-2.1 0.6" stroke="#9c44ba" stroke-width="12"/><path d="M45.7 -5.3l0.5 2.5M0.4 21.5l1.3 1.4M44.7 72.7l1.0 1.5M68.3 90.3l-1.1 0.8M116.6 56.1l-1.2 3.8M111.5 7.9l-1.6 1.7M120.4 19.8l-1.8 1.0" stroke="#8a2cae" stroke-width="11.5"/><path d="M63.4 5.9l2.9 1.0" stroke="#9236b4" stroke-width="11.5"/><path d="M1.1 72.2l3.2 0.5M-13.2 58.1l0.9 2.0M107.9 72.1l-0.2 3.7" stroke="#9c44ba" stroke-width="11.5"/><path d="M42.6 52.1l1.6 3.3M68.9 40.7l-0.8 2.4M85.9 58.4l1.2 2.1M32.0 5.0l1.3 0.2" stroke="#9c44ba" stroke-width="11"/><path d="M32.4 40.7l1.6 4.1M-2.4 38.6l-0.5 1.9M101.5 45.1l-3.6 1.0" stroke="#9236b4" stroke-width="11"/><path d="M123.2 3.0l-0.3 2.7" stroke="#8a2cae" stroke-width="11"/><path d="M11.4 7.7l-1.1 4.3M-11.0 11.7l-1.4 0.6M80.4 34.5h0" stroke="#9236b4" stroke-width="10.5"/><path d="M23.4 -6.7l2.4 1.9M29.2 16.2h0M-7.1 81.0l-2.1 1.2" stroke="#8a2cae" stroke-width="10.5"/><path d="M25.9 29.8l-0.4 2.5M50.3 37.1l-1.6 0.2M107.6 -6.4l-3.1 3.3M93.6 88.6l-1.5 3.0M75.8 64.2h0" stroke="#9c44ba" stroke-width="10.5"/><path d="M5.9 22.8h0M9.5 57.5h0M15.6 54.1h0" stroke="#8a2cae" stroke-width="10"/><path d="M18.1 40.7h0M80.0 24.0h0M49.1 88.3h0M114.1 89.3h0M7.2 89.1h0" stroke="#9236b4" stroke-width="10"/><path d="M72.1 78.1h0" stroke="#9c44ba" stroke-width="10"/><path d="M58.4 14.3h0M58.0 17.9h0" stroke="#8a2cae" stroke-width="9.5"/><path d="M82.3 13.1h0M119.6 -13.8h0M24.3 52.6h0" stroke="#9236b4" stroke-width="9.5"/><path d="M31.1 94.8h0M116.2 45.7h0M127.9 68.4h0M126.8 27.2h0" stroke="#9c44ba" stroke-width="9.5"/><path d="M0.8 2.2h0M68.1 86.8h0M114.5 8.0h0" stroke="#8a2cae" stroke-width="9"/><path d="M40.0 18.5h0M33.1 91.1h0M65.2 78.0h0M-9.5 58.4h0M81.3 79.0h0M94.9 -5.6h0M71.6 61.9h0M129.2 33.0h0" stroke="#9c44ba" stroke-width="9"/><path d="M62.1 61.9h0M44.1 86.0h0M105.2 58.9h0M28.4 53.1h0" stroke="#9236b4" stroke-width="9"/><path d="M7.1 -12.4h0M46.1 70.8h0" stroke="#8a2cae" stroke-width="8.5"/><path d="M-0.7 72.5h0M-14.3 56.8h0M126.5 76.1h0" stroke="#9c44ba" stroke-width="8.5"/><path d="M59.2 -7.8h0M96.0 44.9h0M-11.0 89.9h0" stroke="#9236b4" stroke-width="8.5"/><path d="M21.8 -8.0h0M0.1 19.9h0M-7.6 25.9h0M-7.8 84.3h0M106.5 30.8h0M112.0 32.0h0M122.3 7.9h0" stroke="#8a2cae" stroke-width="8"/><path d="M-9.6 12.3h0M68.4 26.4h0M-0.0 39.8h0M26.5 69.1h0M62.6 8.6h0M14.4 87.0h0M18.1 86.0h0M3.8 86.0h0" stroke="#9236b4" stroke-width="8"/><path d="M45.5 55.5h0M83.4 59.8h0M108.6 -6.4h0M90.3 87.9h0" stroke="#9c44ba" stroke-width="8"/><path d="M51.7 38.8h0M66.1 43.9h0M3.6 69.0h0M107.9 69.9h0M92.5 87.1h0" stroke="#9c44ba" stroke-width="7.5"/><path d="M-3.8 55.9h0M118.1 56.2h0" stroke="#8a2cae" stroke-width="7.5"/><path d="M31.6 45.3h0M30.1 65.2h0M57.7 55.5h0M76.1 -1.4h0M97.7 13.2h0" stroke="#9236b4" stroke-width="7.5"/><path d="M26.7 -3.6h0M45.6 -1.7h0M41.7 71.5h0M-10.5 82.0h0M122.4 18.2h0" stroke="#8a2cae" stroke-width="7"/><path d="M-10.9 9.4h0M31.2 41.5h0" stroke="#9236b4" stroke-width="7"/><path d="M28.6 30.1h0M46.2 52.0h0M69.3 45.3h0M103.3 -5.9h0M109.2 76.9h0" stroke="#9c44ba" stroke-width="7"/><path d="M7.7 11.1h0" stroke="#9236b4" stroke-width="6.5"/><path d="M28.9 29.3h0M29.5 6.6h0" stroke="#9c44ba" stroke-width="6.5"/><path d="M24.5 15.7l0.5 0.6M55.8 17.2l-1.7 0.0M84.3 35.8l-1.9 0.3M81.4 8.3l-0.6 1.1M80.6 20.9l0.5 0.4M67.3 76.2l-0.3 1.6M62.1 -11.5l-0.2 1.2M14.3 82.9l-0.9 0.5M45.4 88.7l0.9 1.2M109.0 28.2l-2.3 1.0M117.8 42.1l-2.0 1.1M90.2 -4.8l0.4 0.6M123.6 -12.7l-0.1 2.1M72.1 64.7l0.3 1.3M3.8 89.2l0.6 0.3M-11.0 92.6l-0.9 1.9" stroke="#c088d0" stroke-width="10"/><path d="M6.6 25.5l0.6 1.4M10.5 -12.2l-1.6 0.3M14.0 40.2l-0.2 2.3M41.8 15.8l0.1 0.7M-11.0 27.8l0.1 1.0M13.5 54.3l-1.9 1.0M31.2 92.6l-1.3 0.4M74.5 -3.5l1.0 0.4M83.2 76.5l0.4 0.7M128.1 72.3l-1.1 0.4M117.1 92.9l-1.5 0.5M126.9 31.3l-0.6 0.2M27.3 53.9l-0.6 2.1" stroke="#c088d0" stroke-width="9.5"/><path d="M-1.2 -2.2l0.5 0.7M-0.1 21.4l0.8 0.8M69.4 22.1l-2.3 0.7M-0.2 53.0l0.4 1.3M29.3 68.4l2.2 0.9M60.3 58.4l-0.1 1.5M44.6 73.7l0.6 0.9M2.4 73.0l1.9 0.3M102.6 59.9l0.8 0.7M96.3 15.7l1.3 1.4M108.2 73.2l-0.1 2.2M111.9 9.0l-1.0 1.0M120.1 20.5l-1.1 0.6" stroke="#c088d0" stroke-width="9"/><path d="M45.9 -4.4l0.3 1.5M43.3 52.1l0.9 2.0M68.8 41.1l-0.5 1.5M64.5 6.6l1.7 0.6M86.7 58.9l0.7 1.3M-13.3 59.0l0.5 1.2M68.0 90.9l-0.7 0.5M101.0 45.4l-2.2 0.6M116.3 57.4l-0.7 2.3M122.8 3.9l-0.2 1.6" stroke="#c088d0" stroke-width="8.5"/><path d="M11.8 8.8l-0.7 2.6M23.6 -6.8l1.4 1.1M-11.1 11.8l-0.8 0.3M25.5 30.1l-0.3 1.5M49.8 37.3l-1.0 0.1M32.7 40.7l1.0 2.4M-2.0 38.3l-0.3 1.2M32.0 5.5l0.8 0.1M-8.2 80.6l-1.3 0.7M107.7 -6.3l-1.8 2.0M92.5 89.7l-0.9 1.8" stroke="#c088d0" stroke-width="8"/><path d="M9.8 26.9h0M9.0 28.5h0M5.4 24.9h0M10.2 25.9h0M0.1 -1.3h0M1.2 -1.2h0M-0.3 -0.3h0M22.5 19.2h0M12.5 -10.7h0M8.1 -9.2h0M7.5 -10.6h0M11.1 -14.2h0M47.1 -6.6h0M44.4 -6.1h0M43.1 -2.4h0M46.3 -4.2h0M43.2 -6.4h0M1.4 23.1h0M-0.7 21.0h0M1.7 24.1h0M1.5 23.5h0M0.9 24.2h0M54.1 14.9h0M57.7 17.1h0M57.2 18.3h0M56.7 16.1h0M-2.3 55.9h0M-1.5 53.5h0M-8.0 29.5h0M-13.5 26.0h0M15.0 54.2h0M14.5 54.4h0M15.2 52.3h0M12.6 56.7h0M43.3 75.6h0M42.3 76.2h0M69.8 88.3h0M65.8 93.1h0M69.2 89.3h0M70.4 90.3h0M117.1 57.3h0M113.7 56.8h0M118.8 56.6h0M116.4 55.8h0M111.6 26.5h0M110.1 29.8h0M108.3 29.9h0M107.9 31.9h0M109.5 31.7h0M113.0 11.1h0M110.0 6.0h0M108.5 10.5h0M117.9 22.2h0" stroke="#8a2cae" stroke-width="2.5"/><path d="M70.0 22.4h0M69.8 23.4h0M68.3 22.6h0M12.0 43.1h0M15.4 39.6h0M13.7 38.1h0M15.0 41.1h0M11.2 42.8h0M28.9 68.5h0M63.3 59.4h0M66.1 5.8h0M85.3 35.6h0M86.5 32.3h0M85.8 35.5h0M82.6 34.2h0M83.9 32.4h0M82.6 7.3h0M83.5 6.9h0M78.5 22.4h0M82.1 19.8h0M80.7 20.2h0M60.7 -7.3h0M61.4 -13.1h0M61.0 -7.6h0M61.5 -13.2h0M74.9 -6.3h0M78.3 -5.5h0M76.4 -2.5h0M13.0 86.1h0M16.8 85.9h0M14.2 82.3h0M49.2 86.5h0M49.3 90.0h0M48.1 89.9h0M100.7 62.0h0M102.2 57.5h0M100.6 62.5h0M103.5 59.8h0M99.6 19.0h0M99.1 19.3h0M97.0 14.8h0M94.7 17.0h0M115.4 91.5h0M115.4 92.2h0M122.1 -12.8h0M122.2 -10.5h0M6.4 86.2h0M4.1 88.7h0M2.7 89.5h0M0.1 91.0h0M-11.1 94.9h0M-15.0 97.2h0M-12.7 92.6h0M-14.2 91.5h0M-12.5 91.0h0M27.9 53.3h0M25.7 55.9h0M24.3 53.1h0" stroke="#9236b4" stroke-width="2.5"/><path d="M39.4 18.7h0M40.6 18.3h0M41.9 17.4h0M40.6 14.9h0M43.0 14.8h0M30.5 94.9h0M4.4 74.7h0M69.2 79.1h0M65.5 74.3h0M64.6 76.4h0M69.4 79.1h0M-10.6 61.3h0M-14.7 59.2h0M-14.3 60.6h0M-12.9 57.6h0M-12.2 59.3h0M82.9 76.3h0M115.4 42.4h0M116.9 40.2h0M116.6 40.4h0M107.4 72.2h0M105.5 72.0h0M108.3 71.9h0M110.2 72.4h0M109.3 72.3h0M93.4 -2.8h0M127.1 70.8h0M125.3 72.3h0M127.9 72.7h0M73.9 64.0h0M71.5 62.3h0M74.0 63.5h0M76.1 67.6h0M75.5 64.7h0M125.8 34.5h0M128.7 30.5h0M124.5 28.7h0M125.8 33.2h0" stroke="#9c44ba" stroke-width="2.5"/><path d="M8.7 10.8h0M13.1 11.7h0M9.4 11.1h0M-12.3 9.8h0M-11.4 14.1h0M-12.4 13.3h0M-12.7 14.1h0M-13.8 11.0h0M35.3 45.1h0M34.7 42.2h0M-3.2 38.4h0M-0.8 39.7h0M-2.2 37.3h0M-5.0 37.2h0M99.1 47.5h0M101.1 45.0h0" stroke="#9236b4" stroke-width="2"/><path d="M23.4 -8.0h0M23.8 -3.5h0M26.5 -7.4h0M-9.3 79.3h0M-6.2 83.8h0M-8.9 82.7h0M-6.3 82.0h0M-7.5 83.7h0M122.1 5.6h0" stroke="#8a2cae" stroke-width="2"/><path d="M25.0 30.6h0M25.1 28.4h0M26.6 30.8h0M24.5 31.3h0M27.1 33.2h0M48.0 38.4h0M47.7 36.5h0M47.1 35.3h0M47.7 37.3h0M52.1 36.8h0M44.0 54.8h0M41.2 53.0h0M46.0 52.8h0M67.4 42.1h0M67.0 42.5h0M70.9 41.5h0M69.2 41.4h0M87.8 61.9h0M33.7 4.0h0M107.2 -6.7h0M107.1 -6.4h0M108.0 -5.0h0M104.8 -7.1h0M90.5 88.0h0" stroke="#9c44ba" stroke-width="2"/></g>
</svg>
<path d="M394.7 10.8V92.2H509" stroke="#f8eef8" stroke-width="0.9" fill="none"/>
<svg x="146.4" y="196.6" width="112.3" height="79.6" viewBox="0 0 112.3 79.6" overflow="hidden">
<rect width="112.3" height="79.6" fill="#eed0ec"/>
<rect width="112.3" height="79.6" fill="#eed0ec" filter="url(#motc)"/>
<g filter="url(#bl06)" stroke="#eccaea" stroke-width="0.7" stroke-linejoin="round"><path fill="#dc96d4" d="M77.8 52.0L89.0 58.8L89.4 58.7L92.9 50.8L86.9 44.9L78.0 50.2ZM98.3 36.2L107.7 35.6L113.3 41.3L113.5 45.5L104.1 50.2L100.7 48.3ZM85.7 21.8L96.4 23.9L97.9 26.3L97.0 35.0L87.4 37.1L83.1 34.3L83.6 22.8ZM105.5 60.0L104.1 50.2L113.5 45.5L121.8 50.5L113.1 60.8ZM113.3 41.3L113.5 45.5L121.8 50.5L252.8 56.4L256.3 56.4L256.9 53.0L256.8 38.8L120.2 33.6ZM120.2 33.6L256.8 38.8L257.4 26.6L254.4 0.4L250.4 -13.8L152.8 3.5L112.7 25.3ZM99.3 14.5L108.7 14.6L111.2 24.3L97.9 26.3L96.4 23.9ZM73.6 43.0L76.9 35.9L83.1 34.3L87.4 37.1L86.9 44.9L78.0 50.2ZM109.3 73.6L104.5 78.6L111.0 92.5L117.0 78.9L113.9 73.5ZM89.2 11.1L97.4 11.9L99.6 3.6L97.8 1.0L88.4 -0.4L85.8 6.9ZM82.9 80.8L90.6 92.0L98.8 78.0L95.2 72.5L87.6 73.4ZM54.5 70.1L63.0 73.4L69.0 66.0L63.2 58.0L54.0 66.4ZM48.6 53.4L46.9 59.1L40.3 61.7L31.7 52.3L33.0 48.8L35.8 46.6L42.5 47.0ZM113.9 73.5L117.0 78.9L252.8 93.1L255.5 79.5L256.3 56.4L252.8 56.4L118.2 67.7ZM85.7 21.8L96.4 23.9L99.3 14.5L97.4 11.9L89.2 11.1ZM77.7 8.5L73.4 -0.4L63.3 4.4L64.2 9.5L75.1 12.7ZM109.8 -3.8L107.2 3.6L99.6 3.6L97.8 1.0L103.9 -14.8ZM56.1 29.5L55.3 26.1L61.0 19.5L71.2 22.4L70.0 30.5L62.5 33.8ZM26.4 35.7L22.7 29.3L15.2 30.4L12.3 39.0L12.4 39.5L19.9 43.5L24.1 42.0ZM39.8 3.1L29.2 -14.2L22.6 0.6L26.8 7.6L34.2 8.8ZM78.6 80.1L68.5 92.0L63.6 232.2L68.8 232.6L94.1 230.7L111.3 226.6L90.6 92.0L82.9 80.8ZM22.1 16.1L26.8 7.6L22.6 0.6L12.0 3.3L11.3 7.1L17.5 15.7ZM54.5 70.1L48.7 76.2L55.0 83.7L63.5 82.2L64.7 76.9L63.0 73.4ZM49.0 8.5L58.9 0.8L58.9 0.7L50.1 -7.8L43.3 3.4ZM8.7 45.8L1.7 46.9L-3.9 39.1L-0.1 35.0L12.3 39.0L12.4 39.5ZM40.3 61.7L31.7 52.3L26.9 55.3L24.6 65.7L24.6 65.7L28.5 68.4L39.0 64.2ZM109.8 -3.8L144.7 3.8L152.8 3.5L250.4 -13.8L248.6 -25.5L240.4 -51.0L227.9 -75.0L211.6 -96.5L191.9 -115.0L169.5 -129.9L145.2 -140.8L119.7 -147.6L98.6 -149.7L99.2 -50.6L103.9 -14.8ZM38.9 30.2L31.0 22.8L36.1 15.9L46.0 17.7L47.5 22.3ZM50.1 -7.8L58.9 0.7L70.9 -18.5L69.3 -152.1L68.7 -152.2L43.6 -152.0L30.8 -150.0L31.2 -141.8ZM0.8 26.1L-0.1 35.0L-3.9 39.1L-142.3 57.2L-143.1 52.9L-144.0 26.7L-143.9 26.0L-18.9 18.1ZM63.5 82.2L68.5 92.0L63.6 232.2L43.6 232.0L36.1 230.8L38.2 147.6L55.0 83.7ZM22.7 29.3L27.1 23.0L22.1 16.1L17.5 15.7L9.7 24.1L15.2 30.4ZM15.2 30.4L9.7 24.1L5.9 23.4L0.8 26.1L-0.1 35.0L12.3 39.0ZM8.7 45.8L12.8 54.9L19.3 51.8L19.9 43.5L12.4 39.5ZM111.0 92.5L116.7 225.8L119.2 225.6L144.7 219.4L169.2 209.0L191.9 194.6L212.1 176.5L228.9 155.2L241.9 131.4L250.7 105.8L252.8 93.1L117.0 78.9ZM26.4 35.7L35.2 36.1L35.8 46.6L33.0 48.8L24.1 42.0ZM13.5 61.0L24.6 65.7L26.9 55.3L19.3 51.8L12.8 54.9L12.5 55.6ZM1.0 56.4L-1.1 54.2L1.7 46.9L8.7 45.8L12.8 54.9L12.5 55.6ZM26.3 81.5L36.5 115.1L42.7 78.6L30.2 75.8ZM15.9 79.6L26.3 81.5L36.5 115.1L38.2 147.6L36.1 230.8L18.3 230.3L4.1 227.7L4.8 205.4L13.5 82.3ZM11.7 2.9L-1.4 -1.7L-1.4 -1.7L8.8 -54.9ZM15.4 74.7L24.6 65.7L24.6 65.7L13.5 61.0L7.9 68.2ZM2.1 79.7L13.5 82.3L4.8 205.4L1.2 80.3Z"/><path fill="#d488cc" d="M86.9 44.9L87.4 37.1L97.0 35.0L98.3 36.2L100.7 48.3L92.9 50.8ZM92.9 50.8L100.7 48.3L104.1 50.2L105.5 60.0L103.0 63.1L98.3 64.8L89.4 58.7ZM65.8 43.6L65.7 54.5L75.8 54.0L77.8 52.0L78.0 50.2L73.6 43.0ZM97.0 35.0L97.9 26.3L111.2 24.3L112.3 25.2L107.7 35.6L98.3 36.2ZM109.3 73.6L103.0 63.1L105.5 60.0L113.1 60.8L118.2 67.7L113.9 73.5ZM112.3 25.2L111.2 24.3L108.7 14.6L112.0 10.0L144.7 3.8L152.8 3.5L112.7 25.3ZM63.0 73.4L64.7 76.9L75.9 77.3L75.6 65.9L69.0 66.0ZM109.3 73.6L104.5 78.6L98.8 78.0L95.2 72.5L98.3 64.8L103.0 63.1ZM97.4 11.9L99.6 3.6L107.2 3.6L112.0 10.0L108.7 14.6L99.3 14.5ZM109.8 -3.8L144.7 3.8L112.0 10.0L107.2 3.6ZM85.8 6.9L88.4 -0.4L88.2 -0.8L74.7 -5.9L73.4 -0.4L77.7 8.5ZM55.9 45.0L49.0 37.6L56.1 29.5L62.5 33.8L63.1 41.8ZM85.7 21.8L89.2 11.1L85.8 6.9L77.7 8.5L75.1 12.7L75.7 19.2L83.6 22.8ZM55.9 45.0L53.9 50.8L63.3 56.7L65.7 54.5L65.8 43.6L63.1 41.8ZM47.5 22.3L46.0 17.7L49.3 10.1L60.5 14.9L61.0 19.5L55.3 26.1ZM42.5 47.0L35.8 46.6L35.2 36.1L38.9 31.9L47.7 37.8ZM104.5 78.6L111.0 92.5L116.7 225.8L111.3 226.6L90.6 92.0L98.8 78.0ZM49.0 8.5L43.3 3.4L39.8 3.1L34.2 8.8L36.1 15.9L46.0 17.7L49.3 10.1ZM24.1 42.0L19.9 43.5L19.3 51.8L26.9 55.3L31.7 52.3L33.0 48.8ZM39.0 64.2L28.5 68.4L30.2 75.8L42.7 78.6L44.1 77.3ZM75.8 65.7L83.3 65.8L87.6 73.4L82.9 80.8L78.6 80.1L75.9 77.3L75.6 65.9ZM60.5 14.9L49.3 10.1L49.0 8.5L58.9 0.8L63.3 4.4L64.2 9.5ZM36.1 15.9L31.0 22.8L27.1 23.0L22.1 16.1L26.8 7.6L34.2 8.8ZM43.3 3.4L50.1 -7.8L31.2 -141.8L29.2 -14.2L39.8 3.1ZM55.9 45.0L53.9 50.8L48.6 53.4L42.5 47.0L47.7 37.8L49.0 37.6ZM64.7 76.9L75.9 77.3L78.6 80.1L68.5 92.0L63.5 82.2ZM15.9 79.6L26.3 81.5L30.2 75.8L28.5 68.4L24.6 65.7L15.4 74.7ZM17.5 15.7L9.7 24.1L5.9 23.4L4.2 12.7L11.3 7.1ZM1.7 46.9L-3.9 39.1L-142.3 57.2L-141.9 60.6L-1.1 54.2ZM3.7 68.7L7.9 68.2L13.5 61.0L12.5 55.6L1.0 56.4L1.8 67.4ZM12.0 3.3L11.7 2.9L8.8 -54.9L18.3 -149.8L18.4 -149.8L30.8 -150.0L31.2 -141.8L29.2 -14.2L22.6 0.6ZM12.0 3.3L11.7 2.9L-1.4 -1.7L-3.7 10.0L4.2 12.7L11.3 7.1ZM18.3 -149.8L-7.5 -147.6L-33.2 -141.3L-57.8 -130.8L-80.6 -116.2L-100.7 -97.8L-117.5 -76.2L-130.3 -52.1L-138.8 -26.4L-141.6 -7.8L-1.4 -1.7L8.8 -54.9ZM2.1 79.7L13.5 82.3L15.9 79.6L15.4 74.7L7.9 68.2L3.7 68.7ZM2.1 79.7L3.7 68.7L1.8 67.4L-103.1 75.8L1.2 80.3ZM1.2 80.3L4.8 205.4L4.1 227.7L-7.2 226.5L-32.7 219.9L-57.0 209.1L-79.4 194.3L-99.1 176.0L-115.5 154.5L-128.1 130.7L-136.5 105.2L-140.5 78.9L-140.5 76.7L-103.1 75.8Z"/><path fill="#e6b0e0" d="M77.8 52.0L89.0 58.8L83.3 65.8L75.8 65.7L75.8 54.0ZM89.0 58.8L83.3 65.8L87.6 73.4L95.2 72.5L98.3 64.8L89.4 58.7ZM107.7 35.6L112.3 25.2L112.7 25.3L120.2 33.6L113.3 41.3ZM53.9 50.8L63.3 56.7L63.2 58.0L54.0 66.4L46.9 59.1L48.6 53.4ZM88.4 -0.4L97.8 1.0L103.9 -14.8L99.2 -50.6L88.2 -0.8ZM54.5 70.1L48.7 76.2L44.1 77.3L39.0 64.2L40.3 61.7L46.9 59.1L54.0 66.4ZM56.1 29.5L55.3 26.1L47.5 22.3L38.9 30.2L38.9 31.9L47.7 37.8L49.0 37.6ZM83.6 22.8L83.1 34.3L76.9 35.9L70.0 30.5L71.2 22.4L75.7 19.2ZM75.7 19.2L71.2 22.4L61.0 19.5L60.5 14.9L64.2 9.5L75.1 12.7ZM26.4 35.7L22.7 29.3L27.1 23.0L31.0 22.8L38.9 30.2L38.9 31.9L35.2 36.1ZM74.7 -5.9L70.9 -18.5L69.3 -152.1L94.0 -150.7L98.6 -149.7L99.2 -50.6L88.2 -0.8ZM118.2 67.7L252.8 56.4L121.8 50.5L113.1 60.8ZM48.7 76.2L55.0 83.7L38.2 147.6L36.5 115.1L42.7 78.6L44.1 77.3ZM-103.1 75.8L-140.5 76.7L-141.9 60.6L-1.1 54.2L1.0 56.4L1.8 67.4ZM0.8 26.1L-18.9 18.1L-3.7 10.0L4.2 12.7L5.9 23.4ZM-18.9 18.1L-143.9 26.0L-143.1 0.2L-141.6 -7.8L-1.4 -1.7L-1.4 -1.7L-3.7 10.0Z"/><path fill="#f2dcf0" d="M65.7 54.5L63.3 56.7L63.2 58.0L69.0 66.0L75.6 65.9L75.8 65.7L75.8 54.0ZM63.1 41.8L65.8 43.6L73.6 43.0L76.9 35.9L70.0 30.5L62.5 33.8ZM73.4 -0.4L74.7 -5.9L70.9 -18.5L58.9 0.7L58.9 0.8L63.3 4.4Z"/></g>
<g fill="none" stroke-linecap="round" filter="url(#bl06)"><path d="M105.1 40.5l1.4 1.4M104.4 29.5l1.5 1.6M76.7 27.9l-0.2 0.5M19.7 36.6l1.4 0.9M18.1 22.0l0.3 1.1" stroke="#7428aa" stroke-width="9"/><path d="M111.7 54.0l1.1 0.5M104.9 8.3l-2.1 0.9M69.0 6.1l2.4 0.4M47.1 30.3l0.3 0.3M80.5 72.2l0.6 0.0M32.2 60.3l0.1 0.9M43.6 -5.2l-2.4 0.6M49.3 44.9h0M-6.5 30.9l-0.4 0.5M-5.0 47.5l1.0 0.1" stroke="#9244bc" stroke-width="9"/><path d="M90.7 78.5l1.9 1.3M84.5 -8.2l-1.5 1.6M3.7 40.9l1.0 0.5M38.6 21.4l1.4 0.9M29.5 14.1l0.1 0.9M6.7 31.9l0.8 1.3M118.9 83.3l2.1 1.2" stroke="#8234b4" stroke-width="9"/><path d="M96.2 56.0l2.1 1.0M80.9 42.0l-0.5 1.7M95.3 -5.1l-0.5 0.4M80.8 1.2l-0.5 0.1M50.2 84.9l-1.2 0.5M70.2 81.0l0.6 1.5M-1.6 74.2l-2.4 0.4" stroke="#7428aa" stroke-width="8.5"/><path d="M110.4 66.8l1.1 0.4M114.1 33.5l-1.5 0.8M55.6 57.7l-0.2 0.8M93.0 16.7l-1.3 0.7M36.9 71.3l-0.8 0.2" stroke="#8234b4" stroke-width="8.5"/><path d="M119.9 39.5l1.4 1.7M70.4 72.2l0.9 0.6M112.7 1.5l0.5 0.7" stroke="#9244bc" stroke-width="8.5"/><path d="M90.4 28.1l-1.0 1.2M61.9 65.1l0.7 0.8M100.9 83.8l0.8 1.9M19.1 8.3l0.7 1.3M15.0 47.3l-0.4 0.3M10.6 15.0l-0.1 0.7M19.6 57.4l0.5 1.2M7.3 75.9l1.9 0.4" stroke="#7428aa" stroke-width="8"/><path d="M46.2 66.6l-0.9 2.3M41.2 11.1l-0.0 0.6M24.4 48.1h0M115.9 -8.3l-1.7 1.4" stroke="#9244bc" stroke-width="8"/><path d="M61.4 49.0l-0.3 0.2M30.4 31.0l0.4 0.3M51.2 -0.4l-0.3 1.6M34.1 82.3l-0.2 0.4" stroke="#8234b4" stroke-width="8"/><path d="M86.5 50.4l-1.5 1.8M70.7 59.0l-0.1 0.8M111.0 79.1l0.6 1.9M20.8 86.0l-0.9 1.2M-1.5 17.0l1.1 0.7M-2.9 85.9l-0.7 0.0" stroke="#7428aa" stroke-width="7.5"/><path d="M70.3 48.1l-0.2 2.1M84.0 13.8l-1.8 0.6M53.9 17.1l-0.3 0.1M120.0 60.4l-0.5 0.2M57.7 8.1l-0.5 0.8M5.4 51.0l1.0 1.1M6.7 -5.2l0.1 0.7" stroke="#8234b4" stroke-width="7.5"/><path d="M93.3 5.4l0.2 0.8M31.6 1.6l-0.0 0.5M57.3 78.7h0M59.4 87.0l-0.9 1.3M-3.9 60.9l0.0 0.7M15.5 66.5l0.5 2.0M-7.7 -8.0l-0.4 0.7" stroke="#9244bc" stroke-width="7.5"/><path d="M93.8 42.8l-1.1 1.7M81.0 59.3l-0.2 0.2M103.7 20.4h0M115.7 16.9l0.5 0.9M102.7 70.9l0.1 2.1M120.0 73.7l1.8 1.7M56.8 37.5l-1.0 1.7M102.8 -1.8l1.9 0.5M64.4 26.1l0.0 0.5M66.1 -2.3l0.2 0.3M6.1 60.2l0.9 0.5M-9.0 3.3l1.2 0.7" stroke="#8234b4" stroke-width="7"/><path d="M89.3 66.4l1.6 0.8M68.7 37.3l1.0 0.3M5.3 84.8l1.7 1.6" stroke="#9244bc" stroke-width="7"/><path d="M120.2 26.3l1.9 1.1M40.9 52.9l-1.6 1.4M41.7 40.1l-1.7 0.1M67.4 15.4l0.2 0.2M78.9 87.3l-1.4 2.0M57.9 -7.6l0.7 1.0M22.2 73.5l0.9 2.1M30.1 40.3l0.1 0.7M14.7 -5.4l2.2 0.3M2.8 5.1l0.3 1.6" stroke="#7428aa" stroke-width="7"/><path d="M111.5 54.9l0.7 0.3M119.5 39.8l0.9 1.0M112.3 1.0l0.3 0.4M93.4 17.4l-0.8 0.4M68.9 6.9l1.4 0.3M46.6 29.8l0.2 0.2M19.8 36.9l0.8 0.5M29.2 15.0l0.1 0.5M71.0 80.7l0.4 0.9M118.9 84.2l1.3 0.7M-2.4 75.0l-1.4 0.3" stroke="#9a58bc" stroke-width="4"/><path d="M85.6 50.2l-0.9 1.1M113.4 34.0l-0.9 0.5M71.3 59.7l-0.1 0.5M111.0 79.8l0.3 1.2M93.0 5.8l0.1 0.5M61.6 49.4h0M31.4 1.5l-0.0 0.3M24.8 47.7h0M57.0 78.5h0M51.6 0.3l-0.2 1.0M59.5 87.1l-0.5 0.8M14.1 47.4l-0.2 0.2M11.0 15.6l-0.1 0.4M15.3 -5.6l1.3 0.2M6.3 -4.3l0.1 0.4M16.3 66.3l0.3 1.2M-8.6 -8.3l-0.2 0.4M7.5 76.3l1.2 0.2" stroke="#9a58bc" stroke-width="3.5"/><path d="M81.5 60.2h0M120.2 26.4l1.2 0.7M116.4 16.4l0.3 0.5M102.2 71.3l0.0 1.3M103.0 -0.9l1.1 0.3M6.6 60.5l0.5 0.3" stroke="#9a58bc" stroke-width="3"/><path d="M87.3 52.6h0M84.2 50.3h0M71.9 60.9h0M111.5 80.4h0M112.4 79.1h0M21.0 37.1h0M71.6 81.9h0M14.3 46.5h0M13.8 46.5h0M11.8 16.9h0M15.6 -6.7h0M10.1 76.6h0M10.2 77.1h0M7.3 77.0h0M-1.4 74.0h0M-3.6 74.2h0M-4.2 76.1h0" stroke="#7428aa" stroke-width="1.5"/><path d="M81.4 60.2h0M82.2 59.2h0M112.8 33.9h0M115.2 33.5h0M113.8 33.3h0M115.8 19.0h0M115.0 16.8h0M92.5 16.5h0M93.8 16.8h0M102.8 -0.6h0M102.3 -3.0h0M62.3 48.5h0M62.9 49.1h0M50.1 -1.0h0M28.1 13.3h0M30.8 15.5h0M28.5 12.9h0M120.5 85.4h0M121.8 81.8h0M119.5 83.0h0M8.1 -5.0h0" stroke="#8234b4" stroke-width="1.5"/><path d="M111.4 53.7h0M114.3 55.4h0M114.5 54.1h0M121.9 40.9h0M122.8 41.6h0M94.2 5.8h0M94.1 4.5h0M113.4 0.8h0M112.7 0.5h0M70.2 5.2h0M69.7 7.5h0M71.1 6.3h0M45.4 31.2h0M47.5 28.3h0M30.8 2.2h0M30.7 0.9h0M29.8 0.2h0M25.7 48.1h0M26.0 47.9h0M56.6 80.5h0M57.9 79.6h0M57.4 88.9h0M59.9 87.2h0M14.4 66.6h0M17.0 68.2h0M-7.6 -9.0h0" stroke="#9244bc" stroke-width="1.5"/><path d="M122.0 26.7h0M122.0 26.5h0M120.0 27.4h0" stroke="#7428aa" stroke-width="1"/><path d="M102.3 72.0h0M6.3 60.9h0M6.1 61.2h0" stroke="#8234b4" stroke-width="1"/></g>
</svg>
<path d="M146.8 196.6V275.8H258.7" stroke="#f8eef8" stroke-width="0.9" fill="none"/>
<svg x="393.1" y="196.6" width="115.9" height="81.4" viewBox="0 0 115.9 81.4" overflow="hidden">
<rect width="115.9" height="81.4" fill="#eebce0"/>
<rect width="115.9" height="81.4" fill="#eebce0" filter="url(#motd)"/>
<g filter="url(#bl06)" stroke="#eeb8dc" stroke-width="0.8" stroke-linejoin="round"><path fill="#e498ce" d="M12.2 63.4L16.8 71.3L12.5 74.2L6.6 72.4L5.1 63.6ZM12.2 63.4L19.0 55.5L18.5 54.8L5.9 51.7L2.0 60.1L2.3 61.5L5.1 63.6ZM40.6 54.4L46.4 59.7L49.2 59.9L52.9 47.5L52.6 47.2L43.4 47.2ZM13.8 41.3L16.6 34.7L15.0 30.5L9.6 29.4L1.4 35.4L6.9 43.3ZM31.9 79.1L32.0 79.1L41.5 81.4L46.8 166.0L43.9 204.1L26.9 96.9ZM56.8 74.6L58.0 74.0L61.1 61.7L49.9 60.5L49.9 70.4ZM38.6 24.1L36.5 27.5L28.6 28.5L26.0 26.1L26.7 17.1L31.8 13.7L35.0 14.7ZM43.0 80.1L41.5 81.4L46.8 166.0L57.9 92.9L54.1 81.4ZM37.9 40.3L39.6 37.4L36.5 27.5L28.6 28.5L26.3 37.3L28.7 41.3L31.5 42.6ZM53.1 42.4L52.6 47.2L43.4 47.2L37.9 40.3L39.6 37.4L46.8 35.6ZM10.2 17.7L16.5 17.7L17.7 27.1L15.0 30.5L9.6 29.4L6.7 22.9ZM52.9 47.5L49.2 59.9L49.9 60.5L61.1 61.7L62.7 60.7L63.3 51.1ZM17.5 9.6L18.2 15.9L16.5 17.7L10.2 17.7L5.9 11.3L9.8 5.6ZM-2.3 21.4L-3.7 31.9L-149.1 36.2L-149.6 27.1L-147.2 5.2L-109.1 6.2L-4.9 17.1ZM73.5 49.7L67.8 47.4L63.3 51.1L62.7 60.7L67.5 62.8L76.7 60.4L77.2 59.5ZM17.5 9.6L18.2 15.9L26.7 17.1L31.8 13.7L27.8 4.2L24.1 4.0ZM70.0 72.5L67.5 76.2L69.3 81.5L73.7 83.3L83.3 76.5L83.2 72.2L81.0 70.7ZM49.6 23.9L38.6 24.1L35.0 14.7L40.7 11.2L50.4 15.9L51.3 18.6ZM70.0 72.5L67.5 76.2L58.0 74.0L61.1 61.7L62.7 60.7L67.5 62.8ZM77.2 59.5L76.7 60.4L81.0 70.7L83.2 72.2L85.9 70.7L90.2 60.2L86.2 56.1ZM82.1 20.2L74.5 22.3L68.4 10.3L72.0 6.8L80.4 8.1ZM51.3 18.6L50.4 15.9L54.9 4.1L65.7 10.9L61.6 17.4ZM70.0 72.5L67.5 62.8L76.7 60.4L81.0 70.7ZM84.0 6.0L86.3 0.9L98.3 1.5L99.5 8.4L92.0 12.2ZM40.7 11.2L42.8 4.2L36.2 -1.2L31.4 -0.6L27.8 4.2L31.8 13.7L35.0 14.7ZM100.2 40.8L101.8 40.7L108.3 35.7L108.2 29.3L98.0 27.1L97.4 28.2ZM81.0 100.9L86.6 81.1L83.3 76.5L73.7 83.3ZM86.2 56.1L90.2 60.2L96.0 60.3L100.4 55.2L96.6 48.0L86.9 50.2ZM98.6 41.9L96.6 48.0L100.4 55.2L106.4 55.6L110.2 52.0L109.9 47.6L101.8 40.7L100.2 40.8ZM64.1 -4.2L55.3 -129.4L56.1 -156.7L63.3 -157.0L77.3 -7.3L71.1 0.4ZM108.5 62.3L116.8 65.3L120.3 60.8L116.6 53.6L110.2 52.0L106.4 55.6ZM100.4 55.2L106.4 55.6L108.5 62.3L102.3 70.4L100.2 70.5L96.0 60.3ZM111.7 78.4L194.7 106.5L248.3 128.2L246.4 133.6L233.5 158.0L216.7 179.9L196.5 198.7L173.7 213.9L148.9 225.1L137.7 228.1L109.1 83.2ZM36.2 -1.2L31.4 -0.6L13.4 -39.7L14.4 -154.7L18.9 -155.7L45.0 -157.6L56.1 -156.7L55.3 -129.4L47.1 -19.6ZM123.4 46.9L116.6 53.6L120.3 60.8L264.2 48.1L263.9 41.7L192.1 41.7ZM97.4 23.6L98.0 27.1L108.2 29.3L111.5 26.3L107.6 18.5L102.8 18.0ZM111.5 26.3L116.3 26.4L119.1 34.4L115.4 38.7L108.3 35.7L108.2 29.3ZM85.7 -1.2L77.3 -7.3L63.3 -157.0L71.0 -157.7L96.4 -156.1L98.7 -38.9L95.0 -16.3Z"/><path fill="#eaaad6" d="M23.5 76.7L31.9 79.1L32.0 79.1L34.9 67.3L34.2 66.6L24.8 65.1L20.5 71.4ZM2.0 60.1L-18.2 51.4L-147.4 63.5L-146.5 74.6L-49.4 75.6L-6.1 70.1L2.3 61.5ZM6.6 72.4L1.7 76.2L1.7 82.1L11.7 83.5L12.1 83.2L12.5 74.2ZM12.5 74.2L12.1 83.2L18.6 84.2L23.5 76.7L20.5 71.4L16.8 71.3ZM34.8 55.1L40.6 54.4L43.4 47.2L37.9 40.3L31.5 42.6L31.4 52.7ZM44.2 72.5L38.4 67.3L34.9 67.3L32.0 79.1L41.5 81.4L43.0 80.1ZM5.1 63.6L2.3 61.5L-6.1 70.1L1.7 76.2L6.6 72.4ZM54.1 81.4L57.9 92.9L69.3 81.5L67.5 76.2L58.0 74.0L56.8 74.6ZM44.2 72.5L49.9 70.4L56.8 74.6L54.1 81.4L43.0 80.1ZM49.6 23.9L51.4 27.5L57.1 29.8L64.9 26.8L61.6 17.4L51.3 18.6ZM72.2 25.7L78.0 33.6L77.2 36.7L67.8 40.7L66.7 27.4ZM83.2 72.2L83.3 76.5L86.6 81.1L96.4 82.6L98.4 72.0L85.9 70.7ZM9.8 5.6L5.9 11.3L-1.0 12.5L-3.7 -0.5L-1.5 -2.2L9.7 5.0ZM84.2 21.2L85.3 30.4L88.4 32.4L97.4 28.2L98.0 27.1L97.4 23.6L90.7 19.2ZM82.1 20.2L80.4 8.1L84.0 6.0L92.0 12.2L90.7 19.2L84.2 21.2ZM111.3 76.4L117.0 68.9L194.7 106.5L111.7 78.4ZM115.7 41.4L123.4 46.9L116.6 53.6L110.2 52.0L109.9 47.6ZM115.4 38.7L115.7 41.4L123.4 46.9L192.1 41.7L119.1 34.4ZM99.7 8.5L109.7 7.9L112.6 13.6L107.6 18.5L102.8 18.0ZM111.5 26.3L116.3 26.4L120.5 22.2L116.3 14.2L112.6 13.6L107.6 18.5ZM112.6 13.6L116.3 14.2L121.6 8.9L117.4 -0.3L116.6 -0.8L113.3 -0.4L109.7 7.9Z"/><path fill="#e8a0d2" d="M34.8 55.1L34.2 66.6L24.8 65.1L21.8 56.9L31.4 52.7ZM12.2 63.4L19.0 55.5L21.8 56.9L24.8 65.1L20.5 71.4L16.8 71.3ZM5.9 51.7L2.0 60.1L-18.2 51.4L-8.4 47.0L5.1 49.1ZM-6.1 70.1L1.7 76.2L1.7 82.1L-0.8 84.6L-49.4 75.6ZM1.7 82.1L-0.8 84.6L4.7 121.7L11.7 83.5ZM-146.5 74.6L-146.6 81.4L-142.4 108.7L-133.8 135.3L-120.7 160.1L-103.6 182.4L-83.0 201.4L-59.6 216.6L-34.2 227.6L-7.7 234.2L6.2 235.5L4.7 121.7L-0.8 84.6L-49.4 75.6ZM44.2 72.5L38.4 67.3L46.4 59.7L49.2 59.9L49.9 60.5L49.9 70.4ZM31.4 52.7L31.5 42.6L28.7 41.3L19.2 46.9L18.5 54.8L19.0 55.5L21.8 56.9ZM18.6 84.2L26.9 96.9L43.9 204.1L44.4 237.8L18.8 237.6L6.2 235.5L4.7 121.7L11.7 83.5L12.1 83.2ZM17.7 27.1L15.0 30.5L16.6 34.7L26.3 37.3L28.6 28.5L26.0 26.1ZM34.8 55.1L40.6 54.4L46.4 59.7L38.4 67.3L34.9 67.3L34.2 66.6ZM18.5 54.8L5.9 51.7L5.1 49.1L6.9 43.3L13.8 41.3L19.2 46.9ZM19.2 46.9L28.7 41.3L26.3 37.3L16.6 34.7L13.8 41.3ZM18.6 84.2L26.9 96.9L31.9 79.1L23.5 76.7ZM6.9 43.3L1.4 35.4L-0.7 35.0L-8.4 47.0L5.1 49.1ZM58.3 37.7L67.7 40.8L67.8 47.4L63.3 51.1L52.9 47.5L52.6 47.2L53.1 42.4ZM-147.4 63.5L-149.0 54.3L-149.1 36.2L-3.7 31.9L-0.7 35.0L-8.4 47.0L-18.2 51.4ZM-2.3 21.4L-3.7 31.9L-0.7 35.0L1.4 35.4L9.6 29.4L6.7 22.9ZM49.6 23.9L38.6 24.1L36.5 27.5L39.6 37.4L46.8 35.6L51.4 27.5ZM15.5 -4.8L12.7 -35.6L-1.5 -2.2L9.7 5.0ZM73.5 49.7L67.8 47.4L67.7 40.8L67.8 40.7L77.2 36.7L83.2 44.0L83.1 45.3ZM46.8 166.0L43.9 204.1L44.4 237.8L45.0 237.9L70.9 238.9L89.7 236.8L88.8 191.1L81.0 100.9L73.7 83.3L69.3 81.5L57.9 92.9ZM-4.9 17.1L-109.1 6.2L-3.7 -0.5L-1.0 12.5ZM-2.3 21.4L6.7 22.9L10.2 17.7L5.9 11.3L-1.0 12.5L-4.9 17.1ZM17.5 9.6L9.8 5.6L9.7 5.0L15.5 -4.8L24.1 4.0ZM82.1 20.2L74.5 22.3L72.2 25.7L78.0 33.6L85.3 30.4L84.2 21.2ZM-109.1 6.2L-3.7 -0.5L-1.5 -2.2L12.7 -35.6L13.4 -39.7L14.4 -154.7L-7.7 -152.8L-34.2 -146.3L-59.7 -135.4L-83.2 -120.3L-104.0 -101.3L-121.2 -79.0L-134.4 -54.2L-143.1 -27.6L-147.3 -0.1L-147.2 5.2ZM86.9 50.2L96.6 48.0L98.6 41.9L89.2 38.3L83.2 44.0L83.1 45.3ZM50.4 15.9L54.9 4.1L54.3 2.5L51.9 0.9L42.8 4.2L40.7 11.2ZM51.4 27.5L46.8 35.6L53.1 42.4L58.3 37.7L57.1 29.8ZM57.1 29.8L58.3 37.7L67.7 40.8L67.8 40.7L66.7 27.4L64.9 26.8ZM42.8 4.2L51.9 0.9L47.1 -19.6L36.2 -1.2ZM64.9 26.8L66.7 27.4L72.2 25.7L74.5 22.3L68.4 10.3L65.7 10.9L61.6 17.4ZM68.4 10.3L72.0 6.8L71.1 0.4L64.1 -4.2L54.3 2.5L54.9 4.1L65.7 10.9ZM90.7 19.2L97.4 23.6L102.8 18.0L99.7 8.5L99.5 8.4L92.0 12.2ZM96.0 60.3L100.2 70.5L98.4 72.0L85.9 70.7L90.2 60.2ZM73.5 49.7L83.1 45.3L86.9 50.2L86.2 56.1L77.2 59.5ZM24.1 4.0L27.8 4.2L31.4 -0.6L13.4 -39.7L12.7 -35.6L15.5 -4.8ZM88.4 32.4L97.4 28.2L100.2 40.8L98.6 41.9L89.2 38.3ZM51.9 0.9L54.3 2.5L64.1 -4.2L55.3 -129.4L47.1 -19.6ZM98.3 1.5L98.4 1.3L95.0 -16.3L85.7 -1.2L86.3 0.9ZM102.3 70.4L111.3 76.4L111.7 78.4L109.1 83.2L97.0 83.5L96.4 82.6L98.4 72.0L100.2 70.5ZM77.2 36.7L83.2 44.0L89.2 38.3L88.4 32.4L85.3 30.4L78.0 33.6ZM95.0 -16.3L98.7 -38.9L109.1 -3.1L98.4 1.3ZM115.4 38.7L115.7 41.4L109.9 47.6L101.8 40.7L108.3 35.7ZM99.5 8.4L98.3 1.5L98.4 1.3L109.1 -3.1L113.3 -0.4L109.7 7.9L99.7 8.5ZM84.0 6.0L86.3 0.9L85.7 -1.2L77.3 -7.3L71.1 0.4L72.0 6.8L80.4 8.1ZM81.0 100.9L88.8 191.1L97.0 83.5L96.4 82.6L86.6 81.1ZM18.2 15.9L26.7 17.1L26.0 26.1L17.7 27.1L16.5 17.7ZM97.0 83.5L88.8 191.1L89.7 236.8L97.0 236.8L123.1 232.8L137.7 228.1L109.1 83.2ZM119.1 34.4L192.1 41.7L263.9 41.7L264.5 28.1L192.1 22.1L120.5 22.2L116.3 26.4ZM116.8 65.3L117.0 68.9L194.7 106.5L248.3 128.2L256.6 108.1L262.9 81.5L264.8 54.3L264.2 48.1L120.3 60.8ZM109.1 -3.1L113.3 -0.4L116.6 -0.8L155.3 -142.9L149.8 -145.5L123.7 -152.9L97.1 -156.1L96.4 -156.1L98.7 -38.9ZM259.0 -24.7L258.5 -27.4L249.7 -53.8L236.4 -78.5L219.1 -100.6L198.4 -119.5L175.0 -134.5L155.3 -142.9L116.6 -0.8L117.4 -0.3ZM102.3 70.4L111.3 76.4L117.0 68.9L116.8 65.3L108.5 62.3ZM121.6 8.9L117.4 -0.3L259.0 -24.7L263.8 -0.2L264.6 27.2L264.5 28.1L192.1 22.1ZM120.5 22.2L192.1 22.1L121.6 8.9L116.3 14.2Z"/></g>
<g filter="url(#bl05)"><ellipse cx="92" cy="12" rx="3.5" ry="7" transform="rotate(20 92 12)" fill="#c68cd0" opacity="0.8"/><ellipse cx="60" cy="24" rx="4" ry="4.5" transform="rotate(0 60 24)" fill="#c890d0" opacity="0.7"/><ellipse cx="78" cy="40" rx="4.5" ry="3.5" transform="rotate(0 78 40)" fill="#c890d0" opacity="0.6"/><ellipse cx="100" cy="44" rx="5" ry="3" transform="rotate(30 100 44)" fill="#c890d0" opacity="0.6"/><ellipse cx="50" cy="50" rx="4" ry="3.5" transform="rotate(0 50 50)" fill="#c890d0" opacity="0.5"/></g>
<g fill="none" stroke-linecap="round" filter="url(#bl06)"><path d="M28.0 71.5l0.3 0.5M-0.8 43.4l0.4 0.3M59.0 22.6l-1.4 0.4M64.2 69.1l0.8 0.6M73.3 67.2h0M113.7 58.6l-0.6 0.5M103.2 62.1l-1.3 0.4M110.0 68.0h0" stroke="#8632b6" stroke-width="8.5"/><path d="M12.7 22.6l-0.7 0.7M-7.4 -8.4l-1.2 0.1M119.8 75.5h0M123.7 66.3l0.4 1.4" stroke="#7424aa" stroke-width="8.5"/><path d="M18.0 64.1l-1.2 0.9M-2.1 52.6h0M-4.4 77.4l0.3 0.4M20.8 40.4l-0.8 0.7M9.8 35.7l-0.3 1.3M30.2 22.2l1.2 0.8M47.6 85.1l0.2 1.0M123.4 53.8l-1.4 0.3M21.9 21.7l-0.2 0.3" stroke="#7424aa" stroke-width="8"/><path d="M17.0 77.8l-0.1 0.6M6.2 87.7l0.2 0.5M2.2 70.0l-1.0 0.0M13.3 47.7l-0.7 0.2M24.8 83.2h0M-8.1 38.4l-0.6 0.2M-8.6 25.4l-0.5 0.5M43.1 17.5l0.4 0.5M-6.7 7.8l-0.5 0.1M43.1 -2.7h0M83.9 62.4l0.3 0.9M58.0 -6.7l0.3 1.0" stroke="#8632b6" stroke-width="8"/><path d="M29.9 59.8l0.1 0.2M-6.0 62.2l-0.4 0.1M25.3 48.3l-0.2 1.1M14.8 89.6l0.9 0.0M3.0 27.1l-0.1 0.2M7.6 -2.0l-0.4 0.4" stroke="#8632b6" stroke-width="7.5"/><path d="M10.8 58.0l-0.9 0.8M48.3 75.9l1.1 0.1M22.9 10.9l0.8 0.7M75.1 76.1l-0.6 0.7M91.3 76.2l0.8 0.1M47.5 9.1l-0.1 0.4M57.1 12.5l-0.2 0.8M24.0 -3.3h0M33.6 -8.3l1.1 0.6" stroke="#7424aa" stroke-width="7.5"/><path d="M7.9 77.1l-0.6 1.2M-6.8 89.2l0.6 1.3M23.4 31.3l-0.9 0.1M39.1 60.3l0.2 0.1M53.9 66.8l1.0 0.2M2.5 5.8l0.3 0.0M79.7 52.4l0.7 0.0M103.1 88.0l0.6 0.5" stroke="#7424aa" stroke-width="7"/><path d="M38.6 74.4l0.3 0.0M35.6 85.9l0.5 0.9M61.6 80.4l0.4 1.2M32.2 33.0l0.1 1.4M12.1 12.0l0.3 0.8M16.8 3.7h0M92.8 66.3h0M35.7 5.5l0.6 0.7M80.3 84.0l0.2 1.0M92.8 53.8l0.3 0.7" stroke="#8632b6" stroke-width="7"/><path d="M10.9 68.5l-0.7 0.1M4.6 17.6h0M102.9 78.4l0.5 0.1M116.1 85.2l0.5 0.9" stroke="#8632b6" stroke-width="6.5"/><path d="M45.6 66.5l-0.3 1.0M69.8 88.6l-0.0 0.6M90.5 87.0l-1.0 0.3" stroke="#7424aa" stroke-width="6.5"/></g>
</svg>
<path d="M393.5 196.6V277.6H509" stroke="#f8eef8" stroke-width="0.9" fill="none"/>
<text x="18.6" y="32.5" font-size="18" font-weight="bold" fill="#000" stroke="#000" stroke-width="0.6" stroke-linejoin="round">A</text>
<text x="265.4" y="32.5" font-size="18" font-weight="bold" fill="#000" stroke="#000" stroke-width="0.6" stroke-linejoin="round" textLength="12.0" lengthAdjust="spacingAndGlyphs">B</text>
<text x="18.6" y="219.6" font-size="18" font-weight="bold" fill="#000" stroke="#000" stroke-width="0.6" stroke-linejoin="round">C</text>
<text x="264.9" y="219.5" font-size="18" font-weight="bold" fill="#000" stroke="#000" stroke-width="0.6" stroke-linejoin="round" textLength="14.2" lengthAdjust="spacingAndGlyphs">D</text>
<text x="13.4" y="419.4" font-size="17.5" font-weight="bold" textLength="11.2" lengthAdjust="spacingAndGlyphs" fill="#111" stroke="#000" stroke-width="0.9">E</text>
<text x="54.9" y="415.3" font-size="13.9" textLength="130.6" lengthAdjust="spacingAndGlyphs" fill="#111">Morphologic Patterns</text>
<rect x="69.4" y="444.4" width="33.3" height="22.7" fill="#2c4a7c"/>
<rect x="69.4" y="467.1" width="33.3" height="39.7" fill="#edc68c"/>
<rect x="69.4" y="506.8" width="33.3" height="86.7" fill="#da8a16"/>
<rect x="137.7" y="444.4" width="32.9" height="23.5" fill="#9298bc"/>
<rect x="137.7" y="467.9" width="32.9" height="92.9" fill="#2c4a7c"/>
<rect x="137.7" y="560.8" width="32.9" height="6.8" fill="#edc68c"/>
<rect x="137.7" y="567.6" width="32.9" height="25.9" fill="#da8a16"/>
<path d="M59.7 439V594.5M55.1 593.7H180.5" stroke="#111" stroke-width="1.6" fill="none"/>
<path d="M55.1 593.70H60" stroke="#111" stroke-width="1.3"/>
<text x="50.6" y="597.3000000000001" font-size="10.2" text-anchor="end" fill="#111">0%</text>
<path d="M55.1 578.70H60" stroke="#111" stroke-width="1.3"/>
<text x="50.6" y="582.3000000000001" font-size="10.2" text-anchor="end" fill="#111">10%</text>
<path d="M55.1 563.70H60" stroke="#111" stroke-width="1.3"/>
<text x="50.6" y="567.3000000000001" font-size="10.2" text-anchor="end" fill="#111">20%</text>
<path d="M55.1 548.70H60" stroke="#111" stroke-width="1.3"/>
<text x="50.6" y="552.3000000000001" font-size="10.2" text-anchor="end" fill="#111">30%</text>
<path d="M55.1 533.70H60" stroke="#111" stroke-width="1.3"/>
<text x="50.6" y="537.3000000000001" font-size="10.2" text-anchor="end" fill="#111">40%</text>
<path d="M55.1 518.70H60" stroke="#111" stroke-width="1.3"/>
<text x="50.6" y="522.3000000000001" font-size="10.2" text-anchor="end" fill="#111">50%</text>
<path d="M55.1 503.70H60" stroke="#111" stroke-width="1.3"/>
<text x="50.6" y="507.30000000000007" font-size="10.2" text-anchor="end" fill="#111">60%</text>
<path d="M55.1 488.70H60" stroke="#111" stroke-width="1.3"/>
<text x="50.6" y="492.30000000000007" font-size="10.2" text-anchor="end" fill="#111">70%</text>
<path d="M55.1 473.70H60" stroke="#111" stroke-width="1.3"/>
<text x="50.6" y="477.30000000000007" font-size="10.2" text-anchor="end" fill="#111">80%</text>
<path d="M55.1 458.70H60" stroke="#111" stroke-width="1.3"/>
<text x="50.6" y="462.30000000000007" font-size="10.2" text-anchor="end" fill="#111">90%</text>
<path d="M55.1 443.70H60" stroke="#111" stroke-width="1.3"/>
<text x="50.6" y="447.30000000000007" font-size="10.2" text-anchor="end" fill="#111">100%</text>
<text x="86.0" y="607.7" font-size="10.6" text-anchor="middle" textLength="57.8" lengthAdjust="spacingAndGlyphs" fill="#111">PTCL-GATA3</text>
<text x="86.0" y="619.2" font-size="10.6" text-anchor="middle" textLength="30.2" lengthAdjust="spacingAndGlyphs" fill="#111">by IHC</text>
<text x="153.9" y="607.7" font-size="10.6" text-anchor="middle" textLength="56.7" lengthAdjust="spacingAndGlyphs" fill="#111">PTCL-TBX21</text>
<text x="153.9" y="619.2" font-size="10.6" text-anchor="middle" textLength="30.2" lengthAdjust="spacingAndGlyphs" fill="#111">by IHC</text>
<rect x="64.2" y="636.5" width="9" height="10" fill="#da8a16"/>
<rect x="64.2" y="650.3" width="9" height="9.7" fill="#edc68c"/>
<rect x="127" y="636.5" width="9.2" height="10" fill="#2c4a7c"/>
<rect x="127" y="650.3" width="9.2" height="9.7" fill="#9298bc"/>
<text x="78.5" y="644.4" font-size="8.7" textLength="33.6" lengthAdjust="spacingAndGlyphs" fill="#111">Pattern 1</text>
<text x="78.5" y="657.8" font-size="8.7" textLength="33.6" lengthAdjust="spacingAndGlyphs" fill="#111">Pattern 2</text>
<text x="141.0" y="644.4" font-size="8.7" textLength="34.4" lengthAdjust="spacingAndGlyphs" fill="#111">Pattern 3</text>
<text x="141.0" y="657.8" font-size="8.7" textLength="34.4" lengthAdjust="spacingAndGlyphs" fill="#111">Pattern 4</text>
<text x="141.3" y="667.8" font-size="8.2" textLength="33.5" lengthAdjust="spacingAndGlyphs" fill="#111">(Lennert)</text>
<text x="211.2" y="419.0" font-size="16.8" font-weight="bold" textLength="9.6" lengthAdjust="spacingAndGlyphs" fill="#111" stroke="#000" stroke-width="0.9">F</text>
<text x="290.2" y="415.5" font-size="14.8" textLength="189.7" lengthAdjust="spacingAndGlyphs" fill="#111">Overall Survival by Morphology</text>
<path d="M264.7 423.6V594.1M264 593.9H506.6" stroke="#111" stroke-width="1.7" fill="none"/>
<path d="M259.6 591.40H264.5" stroke="#111" stroke-width="1.3"/>
<text x="254.7" y="595.1999999999999" font-size="10.6" text-anchor="end" fill="#111">0.0</text>
<path d="M259.6 575.07H264.5" stroke="#111" stroke-width="1.3"/>
<text x="254.7" y="578.8699999999999" font-size="10.6" text-anchor="end" fill="#111">0.1</text>
<path d="M259.6 558.74H264.5" stroke="#111" stroke-width="1.3"/>
<text x="254.7" y="562.54" font-size="10.6" text-anchor="end" fill="#111">0.2</text>
<path d="M259.6 542.41H264.5" stroke="#111" stroke-width="1.3"/>
<text x="254.7" y="546.2099999999999" font-size="10.6" text-anchor="end" fill="#111">0.3</text>
<path d="M259.6 526.08H264.5" stroke="#111" stroke-width="1.3"/>
<text x="254.7" y="529.88" font-size="10.6" text-anchor="end" fill="#111">0.4</text>
<path d="M259.6 509.75H264.5" stroke="#111" stroke-width="1.3"/>
<text x="254.7" y="513.55" font-size="10.6" text-anchor="end" fill="#111">0.5</text>
<path d="M259.6 493.42H264.5" stroke="#111" stroke-width="1.3"/>
<text x="254.7" y="497.22" font-size="10.6" text-anchor="end" fill="#111">0.6</text>
<path d="M259.6 477.09H264.5" stroke="#111" stroke-width="1.3"/>
<text x="254.7" y="480.89000000000004" font-size="10.6" text-anchor="end" fill="#111">0.7</text>
<path d="M259.6 460.76H264.5" stroke="#111" stroke-width="1.3"/>
<text x="254.7" y="464.56" font-size="10.6" text-anchor="end" fill="#111">0.8</text>
<path d="M259.6 444.43H264.5" stroke="#111" stroke-width="1.3"/>
<text x="254.7" y="448.23" font-size="10.6" text-anchor="end" fill="#111">0.9</text>
<path d="M259.6 428.10H264.5" stroke="#111" stroke-width="1.3"/>
<text x="254.7" y="431.90000000000003" font-size="10.6" text-anchor="end" fill="#111">1.0</text>
<path d="M265.1 594V598.6" stroke="#111" stroke-width="1.3"/>
<text x="265.3" y="611.7" font-size="10.2" text-anchor="middle" fill="#111">0</text>
<path d="M304.3 594V598.6" stroke="#111" stroke-width="1.3"/>
<text x="304.3" y="611.7" font-size="10.2" text-anchor="middle" fill="#111">5</text>
<path d="M343.1 594V598.6" stroke="#111" stroke-width="1.3"/>
<text x="344.8" y="611.7" font-size="10.2" text-anchor="middle" fill="#111">10</text>
<path d="M381.8 594V598.6" stroke="#111" stroke-width="1.3"/>
<text x="383.7" y="611.7" font-size="10.2" text-anchor="middle" fill="#111">15</text>
<path d="M420.6 594V598.6" stroke="#111" stroke-width="1.3"/>
<text x="422.8" y="611.7" font-size="10.2" text-anchor="middle" fill="#111">20</text>
<path d="M459.2 594V598.6" stroke="#111" stroke-width="1.3"/>
<text x="462.5" y="611.7" font-size="10.2" text-anchor="middle" fill="#111">25</text>
<path d="M501.8 594V598.6" stroke="#111" stroke-width="1.3"/>
<text x="501.7" y="611.7" font-size="10.2" text-anchor="middle" fill="#111">30</text>
<text x="385.3" y="630.4" font-size="12.8" text-anchor="middle" textLength="24.0" lengthAdjust="spacingAndGlyphs" fill="#111">Years</text>
<g transform="translate(230.4 508.3) rotate(-90)"><text x="0" y="0" font-size="11.0" text-anchor="middle" textLength="49.4" lengthAdjust="spacingAndGlyphs" fill="#111">Proportion</text></g>
<text x="266.8" y="589.2" font-size="8.2" textLength="26.9" lengthAdjust="spacingAndGlyphs" fill="#111">p=0.04</text>
<path d="M265 428 L265.5 436 L266.5 440 L267 446 L267.8 456 L268.5 466 L270.5 481.5 L272 497 L272.6 505 L272.7 525.2 L279 525.2 L279 535.4 L289.8 535.4 L289.8 547.3 L291.6 547.3 L291.6 558.3 L312.9 558.3 L312.9 574.5 L326.7 574.5" stroke="#f2c57e" stroke-width="1.6" fill="none"/>
<path d="M265 428 L265 450 L266.5 466 L268.8 481.5 L271 497 L274.2 506.5 L277.5 522.3 L280 530 L280 538 L284.1 538 L284.1 547.9 L303.1 547.9 L303.1 553.1 L326.7 553.1 L326.7 558.5 L338.8 558.5 L338.8 566.5 L384.6 566.5" stroke="#df8c12" stroke-width="1.7" fill="none"/>
<path d="M265 428.2 L269.7 428.2 L269.7 442.6 L270.6 442.6 L270.6 457.5 L272.7 457.5 L272.7 472.6 L273.1 472.6 L273.1 481.8 L275.3 481.8 L275.3 519.4 L277.2 519.4 L277.2 538 L279.2 538 L279.2 555.9 L335.2 555.9 L335.2 573.3 L372.2 573.3" stroke="#8f97c6" stroke-width="1.6" fill="none"/>
<path d="M265 428 L265.2 440 L265.8 446 L266.6 451 L268 458.5 L270.3 466 L272.4 474 L275.1 481.8 L276.5 489.5 L276.5 494.9 L279.5 494.9 L279.5 498.8 L281 498.8 L281 501.8 L286.1 501.8 L286.1 504.2 L287.6 504.2 L287.6 505.4 L296.9 505.4 L296.9 509.6 L324.3 509.6 L324.3 514.9 L326.7 514.9 L326.7 520.7 L337.3 520.7 L337.3 528.0 L396.8 528.0 L396.8 540.5 L407.9 540.5 L407.9 557.1 L465.7 557.1" stroke="#2d4b80" stroke-width="1.8" fill="none"/>
<path d="M302.2 506.6V512.6M308.5 506.6V512.6M312.6 506.6V512.6M313.6 506.6V512.6M317.9 506.6V512.6M333 517.7V523.7M335.4 517.7V523.7M342.3 525V531M350.8 525V531M353.5 525V531M367 525V531M403.7 537.5V543.5M465.7 554.1V560.1M276.8 487.3V493.3M280.7 490.4V496.4M285.7 496.9V502.9M288.4 500.8V506.8M285.8 544.9V550.9M292.5 544.3V550.3M311.2 555.3V561.3M327.4 555.5V561.5M341.5 563.5V569.5M363.7 563.5V569.5" stroke="#333" stroke-width="0.9" fill="none"/>
<text x="393.1" y="655.4" font-size="8.4" text-anchor="middle" textLength="34.5" lengthAdjust="spacingAndGlyphs" fill="#111">CENSOR</text>
<text x="423.3" y="655.4" font-size="8.4" text-anchor="middle" textLength="16.2" lengthAdjust="spacingAndGlyphs" fill="#111">FAIL</text>
<text x="455.1" y="655.4" font-size="8.4" text-anchor="middle" textLength="24.8" lengthAdjust="spacingAndGlyphs" fill="#111">TOTAL</text>
<text x="489.9" y="655.4" font-size="8.4" text-anchor="middle" textLength="32.3" lengthAdjust="spacingAndGlyphs" fill="#111">MEDIAN</text>
<text x="346.3" y="668.8" font-size="8.4" text-anchor="end" textLength="82.5" lengthAdjust="spacingAndGlyphs" fill="#111">Morphology Pattern 1</text>
<path d="M352 666.1999999999999H370.2" stroke="#df8c12" stroke-width="1.7"/>
<text x="393.1" y="668.8" font-size="8.4" text-anchor="middle" fill="#111">8</text>
<text x="423.3" y="668.8" font-size="8.4" text-anchor="middle" fill="#111">31</text>
<text x="455.1" y="668.8" font-size="8.4" text-anchor="middle" fill="#111">39</text>
<text x="489.9" y="668.8" font-size="8.4" text-anchor="middle" fill="#111">1.24</text>
<text x="346.3" y="682.9" font-size="8.4" text-anchor="end" textLength="82.5" lengthAdjust="spacingAndGlyphs" fill="#111">Morphology Pattern 2</text>
<path d="M352 680.3H370.2" stroke="#f2c57e" stroke-width="1.7"/>
<text x="393.1" y="682.9" font-size="8.4" text-anchor="middle" fill="#111">4</text>
<text x="423.3" y="682.9" font-size="8.4" text-anchor="middle" fill="#111">13</text>
<text x="455.1" y="682.9" font-size="8.4" text-anchor="middle" fill="#111">17</text>
<text x="489.9" y="682.9" font-size="8.4" text-anchor="middle" fill="#111">0.86</text>
<text x="346.3" y="696.5" font-size="8.4" text-anchor="end" textLength="82.5" lengthAdjust="spacingAndGlyphs" fill="#111">Morphology Pattern 3</text>
<path d="M352 693.9H370.2" stroke="#2d4b80" stroke-width="1.7"/>
<text x="393.1" y="696.5" font-size="8.4" text-anchor="middle" fill="#111">24</text>
<text x="423.3" y="696.5" font-size="8.4" text-anchor="middle" fill="#111">30</text>
<text x="455.1" y="696.5" font-size="8.4" text-anchor="middle" fill="#111">54</text>
<text x="489.9" y="696.5" font-size="8.4" text-anchor="middle" fill="#111">7.6</text>
<text x="346.3" y="710.3" font-size="8.4" text-anchor="end" textLength="82.5" lengthAdjust="spacingAndGlyphs" fill="#111">Morphology Pattern 4</text>
<path d="M352 707.6999999999999H370.2" stroke="#8f97c6" stroke-width="1.7"/>
<text x="393.1" y="710.3" font-size="8.4" text-anchor="middle" fill="#111">2</text>
<text x="423.3" y="710.3" font-size="8.4" text-anchor="middle" fill="#111">9</text>
<text x="455.1" y="710.3" font-size="8.4" text-anchor="middle" fill="#111">11</text>
<text x="489.9" y="710.3" font-size="8.4" text-anchor="middle" fill="#111">1.42</text>
<text x="347" y="720.2" font-size="8.0" text-anchor="end" textLength="33.3" lengthAdjust="spacingAndGlyphs" fill="#111">(Lennert)</text>
<rect x="1" y="1" width="518" height="732" fill="none" stroke="#000" stroke-width="2"/>
</svg>
</body></html>
